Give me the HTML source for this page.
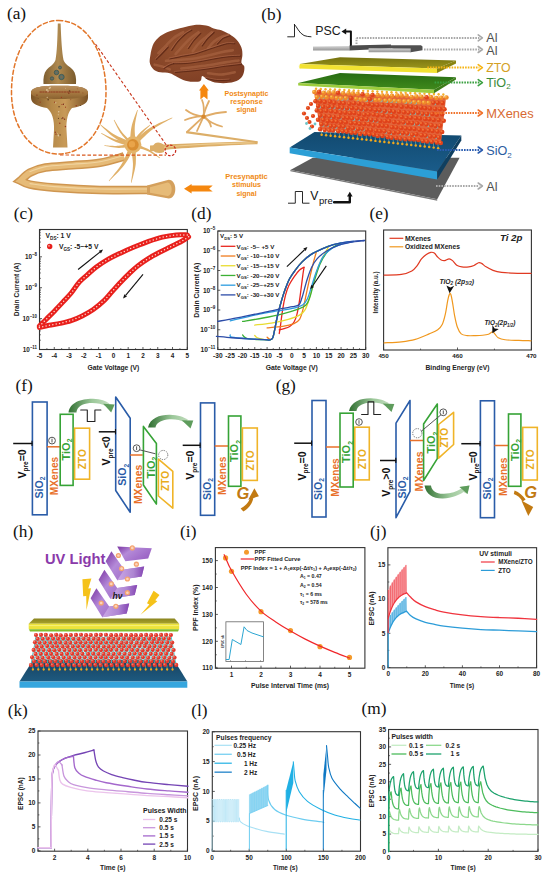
<!DOCTYPE html>
<html><head><meta charset="utf-8"><style>
html,body{margin:0;padding:0;background:#fff;}
svg{display:block;}
</style></head><body>
<svg width="550" height="880" viewBox="0 0 550 880">
<rect width="550" height="880" fill="#fff"/>
<defs><linearGradient id="synG" x1="0" x2="1" y1="0" y2="0">
<stop offset="0" stop-color="#7a5226"/><stop offset="0.35" stop-color="#b48848"/><stop offset="0.6" stop-color="#c89a58"/><stop offset="1" stop-color="#7a5226"/></linearGradient>
<linearGradient id="capG" x1="0" x2="0" y1="0" y2="1">
<stop offset="0" stop-color="#b89060"/><stop offset="0.5" stop-color="#a87a42"/><stop offset="1" stop-color="#8a6230"/></linearGradient>
<linearGradient id="knobG" x1="0" x2="1" y1="0" y2="0">
<stop offset="0" stop-color="#7e5e30"/><stop offset="0.45" stop-color="#b08a50"/><stop offset="1" stop-color="#7a5a2c"/></linearGradient>
<radialGradient id="brainG" cx="0.4" cy="0.4" r="0.65">
<stop offset="0" stop-color="#96522f"/><stop offset="1" stop-color="#7e3e24"/></radialGradient>
<linearGradient id="axG" x1="0" x2="0" y1="0" y2="1">
<stop offset="0" stop-color="#d9a560"/><stop offset="0.5" stop-color="#ecc88a"/><stop offset="1" stop-color="#cf9a55"/></linearGradient>
<linearGradient id="elG" x1="0" x2="0" y1="0" y2="1"><stop offset="0" stop-color="#d4d4d4"/><stop offset="1" stop-color="#959595"/></linearGradient>
<linearGradient id="sioTop" x1="0" x2="0" y1="0" y2="1"><stop offset="0" stop-color="#124a70"/><stop offset="1" stop-color="#1a5c8a"/></linearGradient>
<linearGradient id="tioTop" x1="0" x2="0" y1="0" y2="1"><stop offset="0" stop-color="#276c12"/><stop offset="1" stop-color="#3f8a1c"/></linearGradient>
<linearGradient id="ztoTop" x1="0" x2="0" y1="0" y2="1"><stop offset="0" stop-color="#75720f"/><stop offset="1" stop-color="#9a951c"/></linearGradient>
<linearGradient id="ga1" gradientUnits="userSpaceOnUse" x1="68" y1="0" x2="112" y2="0"><stop offset="0" stop-color="#2f6e30"/><stop offset="0.55" stop-color="#9cc89a"/><stop offset="1" stop-color="#c8e0c4"/></linearGradient>
<linearGradient id="ga2" gradientUnits="userSpaceOnUse" x1="148" y1="0" x2="192" y2="0"><stop offset="0" stop-color="#2f6e30"/><stop offset="0.55" stop-color="#9cc89a"/><stop offset="1" stop-color="#c8e0c4"/></linearGradient>
<linearGradient id="ga3" gradientUnits="userSpaceOnUse" x1="349" y1="0" x2="393" y2="0"><stop offset="0" stop-color="#2f6e30"/><stop offset="0.55" stop-color="#9cc89a"/><stop offset="1" stop-color="#c8e0c4"/></linearGradient>
<linearGradient id="ga4" gradientUnits="userSpaceOnUse" x1="424" y1="0" x2="470" y2="0"><stop offset="0" stop-color="#2f6e30"/><stop offset="0.55" stop-color="#9cc89a"/><stop offset="1" stop-color="#c8e0c4"/></linearGradient>
<linearGradient id="chevG" x1="0" x2="1" y1="0" y2="0.6"><stop offset="0" stop-color="#7a34a2"/><stop offset="0.4" stop-color="#b48ad8"/><stop offset="1" stop-color="#9a62c4"/></linearGradient>
<linearGradient id="chevG2" x1="0" x2="1" y1="0" y2="0"><stop offset="0" stop-color="#d0b0ea"/><stop offset="0.6" stop-color="#b08ad4"/><stop offset="1" stop-color="#8040b0"/></linearGradient>
<linearGradient id="hzto" x1="0" x2="0" y1="0" y2="1"><stop offset="0" stop-color="#8a8420"/><stop offset="1" stop-color="#aaa42a"/></linearGradient>
<linearGradient id="hsio" x1="0" x2="0" y1="0" y2="1"><stop offset="0" stop-color="#17425f"/><stop offset="1" stop-color="#1e5a80"/></linearGradient></defs>
<path d="M124.00,156.50 C120.00,157.55 108.55,161.33 100.00,162.80 C91.45,164.27 81.78,164.50 72.70,165.30 C63.62,166.10 52.62,166.38 45.50,167.60 C38.38,168.82 34.17,170.43 30.00,172.60 C25.83,174.77 22.08,179.27 20.50,180.60 L20.50,180.60 C22.08,181.27 24.33,183.43 30.00,184.60 C35.67,185.77 42.83,186.70 54.50,187.60 C66.17,188.50 84.08,189.60 100.00,190.00 C115.92,190.40 141.67,190.00 150.00,190.00" fill="none" stroke="#cf9650" stroke-width="8.6" stroke-linejoin="miter" stroke-miterlimit="2.2"/>
<path d="M124.00,156.50 C120.00,157.55 108.55,161.33 100.00,162.80 C91.45,164.27 81.78,164.50 72.70,165.30 C63.62,166.10 52.62,166.38 45.50,167.60 C38.38,168.82 34.17,170.43 30.00,172.60 C25.83,174.77 22.08,179.27 20.50,180.60 L20.50,180.60 C22.08,181.27 24.33,183.43 30.00,184.60 C35.67,185.77 42.83,186.70 54.50,187.60 C66.17,188.50 84.08,189.60 100.00,190.00 C115.92,190.40 141.67,190.00 150.00,190.00" fill="none" stroke="#e6bb78" stroke-width="5.6" stroke-linejoin="miter" stroke-miterlimit="2.2"/>
<path d="M124.00,155.50 C120.00,156.55 108.55,160.33 100.00,161.80 C91.45,163.27 81.78,163.50 72.70,164.30 C63.62,165.10 52.62,165.38 45.50,166.60 C38.38,167.82 32.58,170.77 30.00,171.60" fill="none" stroke="#f1d4a0" stroke-width="1.1" stroke-linejoin="round" stroke-linecap="round" />
<path d="M30.00,183.60 C34.08,184.10 42.83,185.70 54.50,186.60 C66.17,187.50 84.08,188.60 100.00,189.00 C115.92,189.40 141.67,189.00 150.00,189.00" fill="none" stroke="#f1d4a0" stroke-width="1.1" stroke-linejoin="round" stroke-linecap="round" />
<path d="M147,185.6 L168.7,179.8 C177.5,180 177.5,198.4 168.7,198.6 L147,194.4 Z" fill="#d4a05c" stroke="none" stroke-width="1" stroke-linejoin="round" stroke-linecap="round" />
<path d="M150,187.3 L167.5,182.6 C173,183.5 173,195.6 167.5,196 L150,192.7 Z" fill="#e6bb78" stroke="none" stroke-width="1" stroke-linejoin="round" stroke-linecap="round" />
<path d="M150,151.5 C175,148.5 210,146 257.5,144.2 L257.5,141.2 C210,142.4 175,143.8 150,145.5 Z" fill="#dcae68" stroke="none" stroke-width="1" stroke-linejoin="round" stroke-linecap="round" />
<path d="M156.00,148.00 C160.83,147.58 174.33,146.23 185.00,145.50 C195.67,144.77 208.33,144.08 220.00,143.60 C231.67,143.12 249.17,142.77 255.00,142.60" fill="none" stroke="#eccb8e" stroke-width="1.2" stroke-linejoin="round" stroke-linecap="round" />
<path d="M186.5,131 L257.5,141.3 L257.5,143.2 L186,133.2 Z" fill="#dcae68" stroke="none" stroke-width="1" stroke-linejoin="round" stroke-linecap="round" />
<path d="M153,146 C155,141 161,142 164,145 L164,152 C160,154 154,153 153,150 Z" fill="#dcae68" stroke="none" stroke-width="1" stroke-linejoin="round" stroke-linecap="round" />
<path d="M203.5,116.6 Q197.25,115.3 185,120" fill="none" stroke="#e0ac68" stroke-width="1.8" stroke-linejoin="round" stroke-linecap="round" />
<path d="M203.5,116.6 Q192.75,115.3 186,110" fill="none" stroke="#e0ac68" stroke-width="1.8" stroke-linejoin="round" stroke-linecap="round" />
<path d="M203.5,116.6 Q204.75,106.3 202,100" fill="none" stroke="#e0ac68" stroke-width="1.8" stroke-linejoin="round" stroke-linecap="round" />
<path d="M203.5,116.6 Q204.25,110.8 209,101" fill="none" stroke="#e0ac68" stroke-width="1.8" stroke-linejoin="round" stroke-linecap="round" />
<path d="M203.5,116.6 Q216.75,112.3 226,112" fill="none" stroke="#e0ac68" stroke-width="1.8" stroke-linejoin="round" stroke-linecap="round" />
<path d="M203.5,116.6 Q210.75,123.55 222,126.5" fill="none" stroke="#e0ac68" stroke-width="1.8" stroke-linejoin="round" stroke-linecap="round" />
<path d="M203.5,116.6 Q209.25,119.55 211,126.5" fill="none" stroke="#e0ac68" stroke-width="1.8" stroke-linejoin="round" stroke-linecap="round" />
<path d="M203.5,116.6 Q200.25,123.8 197,131" fill="none" stroke="#e0ac68" stroke-width="1.8" stroke-linejoin="round" stroke-linecap="round" />
<path d="M203.5,116.6 Q195.25,124.3 187,132" fill="none" stroke="#e0ac68" stroke-width="1.8" stroke-linejoin="round" stroke-linecap="round" />
<circle cx="203.50" cy="116.60" r="2.20" fill="#d88a30" stroke="none" stroke-width="1" />
<path d="M135.90,144.84 C135.71,141.92 134.43,133.13 134.75,127.34 C135.06,121.55 137.28,112.95 137.79,110.07 L137.21,109.93 C136.25,112.76 132.69,121.10 131.48,126.91 C130.26,132.71 130.16,141.79 129.90,144.76 Z" fill="#e0b068" stroke="none" stroke-width="1" stroke-linejoin="round" stroke-linecap="round" />
<path d="M133.97,142.54 C130.93,141.31 121.44,138.31 115.74,135.16 C110.04,132.02 102.45,125.58 99.79,123.67 L99.41,124.13 C101.88,126.37 108.85,133.71 114.25,137.53 C119.66,141.36 128.90,145.47 131.83,147.06 Z" fill="#e0b068" stroke="none" stroke-width="1" stroke-linejoin="round" stroke-linecap="round" />
<path d="M133.36,142.85 C130.59,142.35 122.09,141.48 116.75,139.82 C111.41,138.17 103.90,134.08 101.34,132.93 L101.06,133.47 C103.55,134.89 110.73,139.77 115.96,141.98 C121.19,144.20 129.69,145.95 132.44,146.75 Z" fill="#e0b068" stroke="none" stroke-width="1" stroke-linejoin="round" stroke-linecap="round" />
<path d="M132.65,143.07 C130.31,143.53 123.34,145.49 118.62,145.84 C113.90,146.20 106.71,145.31 104.33,145.20 L104.27,145.80 C106.67,146.15 113.85,147.77 118.67,147.89 C123.48,148.01 130.74,146.76 133.15,146.53 Z" fill="#e0b068" stroke="none" stroke-width="1" stroke-linejoin="round" stroke-linecap="round" />
<path d="M130.66,143.68 C129.21,146.99 125.60,157.38 121.95,163.56 C118.30,169.75 110.97,177.93 108.77,180.81 L109.23,181.19 C111.74,178.51 119.97,170.98 124.29,165.11 C128.61,159.23 133.33,149.12 135.14,145.92 Z" fill="#e0b068" stroke="none" stroke-width="1" stroke-linejoin="round" stroke-linecap="round" />
<path d="M130.41,144.99 C130.83,148.12 132.87,157.48 132.97,163.74 C133.07,170.00 131.33,179.42 131.00,182.55 L131.60,182.65 C132.29,179.52 135.13,170.20 135.77,163.86 C136.40,157.52 135.45,147.82 135.39,144.61 Z" fill="#e0b068" stroke="none" stroke-width="1" stroke-linejoin="round" stroke-linecap="round" />
<path d="M134.55,146.68 C137.42,143.90 145.45,134.82 151.77,130.04 C158.08,125.25 168.99,119.98 172.44,117.97 L172.16,117.43 C168.50,119.15 157.00,123.48 150.18,127.73 C143.36,131.98 134.40,140.39 131.25,142.92 Z" fill="#e0b068" stroke="none" stroke-width="1" stroke-linejoin="round" stroke-linecap="round" />
<path d="M132.33,146.45 C134.74,147.16 142.21,148.73 146.79,150.70 C151.38,152.66 157.66,156.99 159.84,158.25 L160.16,157.75 C158.08,156.27 152.14,151.29 147.69,148.85 C143.24,146.42 135.84,144.10 133.47,143.15 Z" fill="#e0b068" stroke="none" stroke-width="1" stroke-linejoin="round" stroke-linecap="round" />
<path d="M133.98,143.76 C132.09,141.96 125.96,136.97 122.68,132.99 C119.39,129.00 115.66,122.04 114.26,119.85 L113.74,120.15 C114.99,122.47 118.23,129.80 121.25,134.08 C124.26,138.36 130.06,143.88 131.82,145.84 Z" fill="#e0b068" stroke="none" stroke-width="1" stroke-linejoin="round" stroke-linecap="round" />
<path d="M134.35,145.78 C135.47,143.91 138.40,137.97 141.04,134.54 C143.68,131.12 148.67,126.78 150.20,125.22 L149.80,124.78 C148.08,126.18 142.54,130.03 139.49,133.20 C136.43,136.38 132.79,142.05 131.45,143.82 Z" fill="#e0b068" stroke="none" stroke-width="1" stroke-linejoin="round" stroke-linecap="round" />
<circle cx="132.90" cy="144.80" r="8.50" fill="#e4b46a" stroke="none" stroke-width="1" />
<circle cx="132.90" cy="144.80" r="5.80" fill="#d98e32" stroke="none" stroke-width="1" />
<circle cx="131.90" cy="144.30" r="3.20" fill="#e9a44a" stroke="none" stroke-width="1" />
<path d="M57.8,23.5 L60.6,23.5 C61.2,40 62,52 63.5,60 C65,64.5 70,66.5 73,70 C75.5,73 76.5,78 76,84 L43.5,84 C43,78 44,73 46.5,70 C49.5,66.5 54,64.5 55.5,60 C57,52 57.4,40 57.8,23.5 Z" fill="url(#knobG)" stroke="none" stroke-width="1" stroke-linejoin="round" stroke-linecap="round" />
<circle cx="56.50" cy="72.50" r="2.30" fill="#56706a" stroke="#3a524e" stroke-width="0.7" />
<circle cx="56.50" cy="72.50" r="1.03" fill="#7a6a50" stroke="none" stroke-width="1" />
<circle cx="61.50" cy="77.00" r="2.70" fill="#56706a" stroke="#3a524e" stroke-width="0.7" />
<circle cx="61.50" cy="77.00" r="1.22" fill="#7a6a50" stroke="none" stroke-width="1" />
<circle cx="52.00" cy="78.50" r="1.70" fill="#56706a" stroke="#3a524e" stroke-width="0.7" />
<circle cx="52.00" cy="78.50" r="0.77" fill="#7a6a50" stroke="none" stroke-width="1" />
<circle cx="60.00" cy="67.50" r="1.50" fill="#56706a" stroke="#3a524e" stroke-width="0.7" />
<circle cx="60.00" cy="67.50" r="0.68" fill="#7a6a50" stroke="none" stroke-width="1" />
<path d="M31,93 C31,86.5 44,85.8 59.5,85.8 C75,85.8 88,86.5 88,93 L88,98 C88,104 80,106.5 72,108 C68,112 66,120 66.5,130 L67.5,147.5 L53,147.5 L54,130 C54.5,120 52,112 47,108 C39,106.5 31,104 31,98 Z" fill="url(#synG)" stroke="none" stroke-width="1" stroke-linejoin="round" stroke-linecap="round" />
<path d="M31,93 C31,86.5 44,85.8 59.5,85.8 C75,85.8 88,86.5 88,93 C88,97 76,99 59.5,99 C43,99 31,97 31,93 Z" fill="url(#capG)" stroke="none" stroke-width="1" stroke-linejoin="round" stroke-linecap="round" />
<circle cx="47.18" cy="97.34" r="0.58" fill="#e0c8a0" stroke="none" stroke-width="1" />
<circle cx="65.41" cy="88.25" r="0.41" fill="#e0c8a0" stroke="none" stroke-width="1" />
<circle cx="48.19" cy="91.45" r="0.90" fill="#e0c8a0" stroke="none" stroke-width="1" />
<circle cx="61.43" cy="97.44" r="0.60" fill="#9a3a20" stroke="none" stroke-width="1" />
<circle cx="46.90" cy="89.88" r="0.86" fill="#e0c8a0" stroke="none" stroke-width="1" />
<circle cx="70.84" cy="99.76" r="0.43" fill="#7a2a18" stroke="none" stroke-width="1" />
<circle cx="50.16" cy="87.59" r="0.83" fill="#e0c8a0" stroke="none" stroke-width="1" />
<circle cx="63.95" cy="104.48" r="0.59" fill="#e0c8a0" stroke="none" stroke-width="1" />
<circle cx="54.56" cy="102.22" r="0.62" fill="#9a3a20" stroke="none" stroke-width="1" />
<circle cx="77.31" cy="88.85" r="0.47" fill="#9a3a20" stroke="none" stroke-width="1" />
<circle cx="48.13" cy="99.77" r="0.79" fill="#5a3a20" stroke="none" stroke-width="1" />
<circle cx="55.79" cy="102.84" r="0.69" fill="#e0c8a0" stroke="none" stroke-width="1" />
<circle cx="63.46" cy="104.18" r="0.74" fill="#7a2a18" stroke="none" stroke-width="1" />
<circle cx="76.25" cy="105.83" r="0.74" fill="#9a3a20" stroke="none" stroke-width="1" />
<circle cx="68.83" cy="93.20" r="0.67" fill="#7a2a18" stroke="none" stroke-width="1" />
<circle cx="69.55" cy="91.01" r="0.82" fill="#5a3a20" stroke="none" stroke-width="1" />
<circle cx="49.39" cy="88.21" r="0.83" fill="#e0c8a0" stroke="none" stroke-width="1" />
<circle cx="40.16" cy="102.21" r="0.61" fill="#9a3a20" stroke="none" stroke-width="1" />
<circle cx="36.95" cy="95.12" r="0.61" fill="#7a2a18" stroke="none" stroke-width="1" />
<circle cx="38.08" cy="98.68" r="0.42" fill="#5a3a20" stroke="none" stroke-width="1" />
<circle cx="61.89" cy="104.52" r="0.54" fill="#9a3a20" stroke="none" stroke-width="1" />
<circle cx="82.93" cy="92.88" r="0.44" fill="#7a2a18" stroke="none" stroke-width="1" />
<circle cx="80.60" cy="105.46" r="0.55" fill="#5a3a20" stroke="none" stroke-width="1" />
<circle cx="58.45" cy="135.50" r="0.88" fill="#e0c8a0" stroke="none" stroke-width="1" />
<circle cx="64.54" cy="119.13" r="0.74" fill="#7a2a18" stroke="none" stroke-width="1" />
<circle cx="59.74" cy="123.24" r="0.76" fill="#9a3a20" stroke="none" stroke-width="1" />
<circle cx="58.33" cy="114.78" r="0.57" fill="#e0c8a0" stroke="none" stroke-width="1" />
<circle cx="61.48" cy="118.80" r="0.47" fill="#5a3a20" stroke="none" stroke-width="1" />
<circle cx="62.78" cy="117.99" r="0.77" fill="#7a2a18" stroke="none" stroke-width="1" />
<circle cx="59.06" cy="106.72" r="0.71" fill="#5a3a20" stroke="none" stroke-width="1" />
<circle cx="58.44" cy="118.37" r="0.58" fill="#5a3a20" stroke="none" stroke-width="1" />
<circle cx="55.30" cy="132.26" r="0.68" fill="#9a3a20" stroke="none" stroke-width="1" />
<circle cx="57.63" cy="133.33" r="0.49" fill="#e0c8a0" stroke="none" stroke-width="1" />
<circle cx="65.44" cy="126.42" r="0.74" fill="#9a3a20" stroke="none" stroke-width="1" />
<circle cx="58.70" cy="111.76" r="0.73" fill="#e0c8a0" stroke="none" stroke-width="1" />
<circle cx="65.53" cy="107.15" r="0.56" fill="#9a3a20" stroke="none" stroke-width="1" />
<circle cx="55.94" cy="134.15" r="0.71" fill="#9a3a20" stroke="none" stroke-width="1" />
<circle cx="60.11" cy="134.90" r="0.72" fill="#5a3a20" stroke="none" stroke-width="1" />
<path d="M40,92 L80,92" fill="none" stroke="#8a2a18" stroke-width="0.8" stroke-linejoin="round" stroke-linecap="round" stroke-dasharray="1.5 1.2"/>
<path d="M58.5,20.5 C86,20.5 106,52 106,92 C106,130 84,154 58.5,154 C33,154 11.5,130 11.5,92 C11.5,52 31,20.5 58.5,20.5 Z" fill="none" stroke="#e2762a" stroke-width="1.5" stroke-linejoin="round" stroke-linecap="round" stroke-dasharray="4.2 2.6"/>
<line x1="95.50" y1="44.00" x2="167.00" y2="146.00" stroke="#c8361c" stroke-width="1.1" stroke-dasharray="3 2"/>
<line x1="60.00" y1="155.00" x2="166.00" y2="155.20" stroke="#d8581e" stroke-width="1.2" stroke-dasharray="3.5 2"/>
<circle cx="170.40" cy="150.40" r="5.30" fill="none" stroke="#c8281c" stroke-width="1.2" stroke-dasharray="2.5 1.5"/>
<path d="M150.70,53.20 C151.18,51.60 152.00,46.47 153.60,43.60 C155.20,40.73 157.60,38.07 160.30,36.00 C163.00,33.93 165.98,32.63 169.80,31.20 C173.62,29.77 179.07,28.45 183.20,27.40 C187.33,26.35 190.78,25.22 194.60,24.90 C198.42,24.58 202.92,24.92 206.10,25.50 C209.28,26.08 211.15,27.60 213.70,28.40 C216.25,29.20 218.85,29.35 221.40,30.30 C223.95,31.25 226.47,32.52 229.00,34.10 C231.53,35.68 234.53,37.57 236.60,39.80 C238.67,42.03 240.43,44.95 241.40,47.50 C242.37,50.05 242.40,52.57 242.40,55.10 C242.40,57.63 241.08,60.80 241.40,62.70 C241.72,64.60 243.98,64.58 244.30,66.50 C244.62,68.42 244.27,71.97 243.30,74.20 C242.33,76.43 240.88,78.47 238.50,79.90 C236.12,81.33 232.50,82.32 229.00,82.80 C225.50,83.28 221.00,83.28 217.50,82.80 C214.00,82.32 210.53,81.02 208.00,79.90 C205.47,78.78 203.57,75.93 202.30,76.10 C201.03,76.27 202.00,79.95 200.40,80.90 C198.80,81.85 195.57,81.97 192.70,81.80 C189.83,81.63 186.07,80.85 183.20,79.90 C180.33,78.95 177.73,77.22 175.50,76.10 C173.27,74.98 172.33,73.83 169.80,73.20 C167.27,72.57 163.00,72.93 160.30,72.30 C157.60,71.67 155.35,71.00 153.60,69.40 C151.85,67.80 150.28,65.40 149.80,62.70 C149.32,60.00 150.55,54.78 150.70,53.20 Z" fill="url(#brainG)" stroke="none" stroke-width="1" stroke-linejoin="round" stroke-linecap="round" />
<path d="M158.36,53.18 C159.64,51.91 163.45,48.09 166.00,45.55 C168.55,43.00 170.77,40.14 173.64,37.91 C176.50,35.68 181.59,33.14 183.18,32.18" fill="none" stroke="#a4603f" stroke-width="2.6" stroke-linejoin="round" stroke-linecap="round" opacity="0.75"/>
<path d="M175.55,54.14 C176.82,52.71 180.64,48.25 183.18,45.55 C185.73,42.84 188.27,40.14 190.82,37.91 C193.36,35.68 197.18,33.14 198.46,32.18" fill="none" stroke="#a4603f" stroke-width="2.6" stroke-linejoin="round" stroke-linecap="round" opacity="0.75"/>
<path d="M192.73,51.27 C193.68,50.00 196.23,46.02 198.46,43.64 C200.68,41.25 203.86,38.86 206.09,36.95 C208.32,35.05 210.86,32.98 211.82,32.18" fill="none" stroke="#a4603f" stroke-width="2.6" stroke-linejoin="round" stroke-linecap="round" opacity="0.75"/>
<path d="M208.00,48.41 C208.96,47.30 211.50,43.64 213.73,41.73 C215.96,39.82 218.82,38.07 221.37,36.95 C223.91,35.84 227.73,35.36 229.00,35.05" fill="none" stroke="#a4603f" stroke-width="2.6" stroke-linejoin="round" stroke-linecap="round" opacity="0.75"/>
<path d="M166.00,60.82 C168.23,60.66 174.59,60.25 179.36,59.86 C184.14,59.48 189.86,59.26 194.64,58.53 C199.41,57.80 203.55,56.52 208.00,55.47 C212.46,54.42 217.23,53.09 221.37,52.23 C225.50,51.37 230.91,50.64 232.82,50.32" fill="none" stroke="#a4603f" stroke-width="2.6" stroke-linejoin="round" stroke-linecap="round" opacity="0.75"/>
<path d="M181.27,68.46 C183.50,68.20 189.86,67.50 194.64,66.93 C199.41,66.36 204.82,65.78 209.91,65.02 C215.00,64.26 220.41,63.11 225.18,62.35 C229.96,61.58 236.32,60.76 238.55,60.44" fill="none" stroke="#a4603f" stroke-width="2.6" stroke-linejoin="round" stroke-linecap="round" opacity="0.75"/>
<path d="M208.00,73.23 C210.23,73.45 216.91,74.72 221.37,74.56 C225.82,74.41 232.50,72.66 234.73,72.27" fill="none" stroke="#a4603f" stroke-width="2.6" stroke-linejoin="round" stroke-linecap="round" opacity="0.75"/>
<path d="M154.55,64.64 C155.82,64.96 159.64,65.75 162.18,66.55 C164.73,67.34 168.55,68.93 169.82,69.41" fill="none" stroke="#a4603f" stroke-width="2.6" stroke-linejoin="round" stroke-linecap="round" opacity="0.75"/>
<path d="M169.82,58.91 C172.05,58.43 179.05,56.84 183.18,56.05 C187.32,55.25 190.82,55.09 194.64,54.14 C198.46,53.18 202.27,51.59 206.09,50.32 C209.91,49.05 214.05,47.61 217.55,46.50 C221.05,45.39 224.23,44.11 227.09,43.64 C229.96,43.16 233.46,43.64 234.73,43.64" fill="none" stroke="#5a2614" stroke-width="1.3" stroke-linejoin="round" stroke-linecap="round" opacity="0.8"/>
<path d="M169.02,58.11 C171.25,57.63 178.25,56.04 182.38,55.25 C186.52,54.45 190.02,54.29 193.84,53.34 C197.66,52.38 201.47,50.79 205.29,49.52 C209.11,48.25 213.25,46.81 216.75,45.70 C220.25,44.59 223.43,43.31 226.29,42.84 C229.16,42.36 232.66,42.84 233.93,42.84" fill="none" stroke="#b87050" stroke-width="0.7" stroke-linejoin="round" stroke-linecap="round" opacity="0.8"/>
<path d="M173.64,63.68 C176.18,63.59 184.14,63.52 188.91,63.11 C193.68,62.70 197.82,61.96 202.27,61.20 C206.73,60.44 211.18,59.29 215.64,58.53 C220.09,57.76 224.87,57.03 229.00,56.62 C233.14,56.21 238.55,56.14 240.46,56.05" fill="none" stroke="#5a2614" stroke-width="1.3" stroke-linejoin="round" stroke-linecap="round" opacity="0.8"/>
<path d="M172.84,62.88 C175.38,62.79 183.34,62.72 188.11,62.31 C192.88,61.90 197.02,61.16 201.47,60.40 C205.93,59.64 210.38,58.49 214.84,57.73 C219.29,56.96 224.07,56.23 228.20,55.82 C232.34,55.41 237.75,55.34 239.66,55.25" fill="none" stroke="#b87050" stroke-width="0.7" stroke-linejoin="round" stroke-linecap="round" opacity="0.8"/>
<path d="M175.55,72.27 C178.41,72.02 187.32,71.32 192.73,70.75 C198.14,70.17 202.59,69.60 208.00,68.84 C213.41,68.07 219.61,66.93 225.18,66.16 C230.75,65.40 238.71,64.57 241.41,64.26" fill="none" stroke="#5a2614" stroke-width="1.3" stroke-linejoin="round" stroke-linecap="round" opacity="0.8"/>
<path d="M174.75,71.47 C177.61,71.22 186.52,70.52 191.93,69.95 C197.34,69.37 201.79,68.80 207.20,68.04 C212.61,67.27 218.81,66.13 224.38,65.36 C229.95,64.60 237.91,63.77 240.61,63.46" fill="none" stroke="#b87050" stroke-width="0.7" stroke-linejoin="round" stroke-linecap="round" opacity="0.8"/>
<path d="M171.73,50.32 C172.68,48.95 175.23,44.75 177.46,42.11 C179.68,39.47 182.71,36.45 185.09,34.47 C187.48,32.50 190.66,30.97 191.77,30.27" fill="none" stroke="#5a2614" stroke-width="1.3" stroke-linejoin="round" stroke-linecap="round" opacity="0.8"/>
<path d="M170.93,49.52 C171.88,48.15 174.43,43.95 176.66,41.31 C178.88,38.67 181.91,35.65 184.29,33.67 C186.68,31.70 189.86,30.17 190.97,29.47" fill="none" stroke="#b87050" stroke-width="0.7" stroke-linejoin="round" stroke-linecap="round" opacity="0.8"/>
<path d="M188.53,48.41 C189.48,47.04 192.22,42.71 194.26,40.20 C196.29,37.69 199.66,34.47 200.75,33.33" fill="none" stroke="#5a2614" stroke-width="1.3" stroke-linejoin="round" stroke-linecap="round" opacity="0.8"/>
<path d="M187.73,47.61 C188.68,46.24 191.42,41.91 193.46,39.40 C195.49,36.89 198.86,33.67 199.95,32.53" fill="none" stroke="#b87050" stroke-width="0.7" stroke-linejoin="round" stroke-linecap="round" opacity="0.8"/>
<path d="M202.27,45.93 C203.23,44.66 206.03,40.52 208.00,38.29 C209.97,36.06 213.09,33.52 214.11,32.56" fill="none" stroke="#5a2614" stroke-width="1.3" stroke-linejoin="round" stroke-linecap="round" opacity="0.8"/>
<path d="M201.47,45.13 C202.43,43.86 205.23,39.72 207.20,37.49 C209.17,35.26 212.29,32.72 213.31,31.76" fill="none" stroke="#b87050" stroke-width="0.7" stroke-linejoin="round" stroke-linecap="round" opacity="0.8"/>
<path d="M217.55,44.02 C218.50,43.06 221.21,39.69 223.27,38.29 C225.34,36.89 228.84,36.06 229.96,35.62" fill="none" stroke="#5a2614" stroke-width="1.3" stroke-linejoin="round" stroke-linecap="round" opacity="0.8"/>
<path d="M216.75,43.22 C217.70,42.26 220.41,38.89 222.47,37.49 C224.54,36.09 228.04,35.26 229.16,34.82" fill="none" stroke="#b87050" stroke-width="0.7" stroke-linejoin="round" stroke-linecap="round" opacity="0.8"/>
<path d="M206.09,78.00 C208.00,78.38 213.57,79.97 217.55,80.29 C221.52,80.61 227.89,79.97 229.96,79.91" fill="none" stroke="#5a2614" stroke-width="1.3" stroke-linejoin="round" stroke-linecap="round" opacity="0.8"/>
<path d="M205.29,77.20 C207.20,77.58 212.77,79.17 216.75,79.49 C220.72,79.81 227.09,79.17 229.16,79.11" fill="none" stroke="#b87050" stroke-width="0.7" stroke-linejoin="round" stroke-linecap="round" opacity="0.8"/>
<path d="M156.45,59.29 C157.47,58.27 160.59,55.22 162.56,53.18 C164.54,51.15 167.34,48.09 168.29,47.07" fill="none" stroke="#5a2614" stroke-width="1.3" stroke-linejoin="round" stroke-linecap="round" opacity="0.8"/>
<path d="M155.65,58.49 C156.67,57.47 159.79,54.42 161.76,52.38 C163.74,50.35 166.54,47.29 167.49,46.27" fill="none" stroke="#b87050" stroke-width="0.7" stroke-linejoin="round" stroke-linecap="round" opacity="0.8"/>
<path d="M164.09,68.46 C165.05,67.88 168.23,65.81 169.82,65.02 C171.41,64.22 173.00,63.91 173.64,63.68" fill="none" stroke="#5a2614" stroke-width="1.3" stroke-linejoin="round" stroke-linecap="round" opacity="0.8"/>
<path d="M163.29,67.66 C164.25,67.08 167.43,65.01 169.02,64.22 C170.61,63.42 172.20,63.11 172.84,62.88" fill="none" stroke="#b87050" stroke-width="0.7" stroke-linejoin="round" stroke-linecap="round" opacity="0.8"/>
<polygon points="203.90,84.10 208.80,90.60 207.50,90.60 207.50,99.60 203.90,96.40 200.40,99.60 200.40,90.60 199.00,90.60" fill="#f5870f" stroke="none" stroke-width="1" stroke-linejoin="round" />
<polygon points="184.00,188.70 191.60,184.00 191.60,185.50 212.70,185.50 209.10,188.70 212.70,191.60 191.60,191.60 191.60,193.50" fill="#f5870f" stroke="none" stroke-width="1" stroke-linejoin="round" />
<text x="246.50" y="95.60" font-family="Liberation Sans" font-size="7" font-weight="bold" fill="#f08a14" text-anchor="middle" style="" textLength="44" lengthAdjust="spacingAndGlyphs">Postsynaptic</text>
<text x="246.50" y="103.80" font-family="Liberation Sans" font-size="7" font-weight="bold" fill="#f08a14" text-anchor="middle" style="" textLength="32.5" lengthAdjust="spacingAndGlyphs">response</text>
<text x="246.50" y="112.00" font-family="Liberation Sans" font-size="7" font-weight="bold" fill="#f08a14" text-anchor="middle" style="" textLength="20.2" lengthAdjust="spacingAndGlyphs">signal</text>
<text x="246.50" y="179.00" font-family="Liberation Sans" font-size="7" font-weight="bold" fill="#f08a14" text-anchor="middle" style="" textLength="42.5" lengthAdjust="spacingAndGlyphs">Presynaptic</text>
<text x="246.50" y="187.20" font-family="Liberation Sans" font-size="7" font-weight="bold" fill="#f08a14" text-anchor="middle" style="" textLength="29" lengthAdjust="spacingAndGlyphs">stimulus</text>
<text x="246.50" y="195.50" font-family="Liberation Sans" font-size="7" font-weight="bold" fill="#f08a14" text-anchor="middle" style="" textLength="20.2" lengthAdjust="spacingAndGlyphs">signal</text>
<polyline points="287.70,36.80 294.50,36.80 294.50,24.50" fill="none" stroke="#111" stroke-width="0.9" stroke-linejoin="round" stroke-linecap="round" />
<path d="M294.5,24.5 C297,27 299,33 304,35.5 C306,36.3 309,36.8 311,36.8" fill="none" stroke="#111" stroke-width="0.9" stroke-linejoin="round" stroke-linecap="round" />
<text x="315.30" y="35.20" font-family="Liberation Sans" font-size="12.4" font-weight="normal" fill="#1a1a1a" text-anchor="start" style="" textLength="25.4" lengthAdjust="spacingAndGlyphs">PSC</text>
<polygon points="349.30,45.40 391.00,44.60 391.00,48.40 349.30,50.60" fill="#4c4c4c" stroke="none" stroke-width="1" stroke-linejoin="round" />
<polygon points="313.00,46.60 349.30,46.00 349.30,50.60 313.00,50.60" fill="url(#elG)" stroke="none" stroke-width="1" stroke-linejoin="round" />
<polygon points="386.00,45.20 421.00,45.20 422.50,46.50 422.50,50.20 410.70,52.20 390.00,48.20" fill="#505050" stroke="none" stroke-width="1" stroke-linejoin="round" />
<polygon points="368.60,48.20 410.70,48.60 410.70,52.20 368.60,52.20" fill="url(#elG)" stroke="none" stroke-width="1" stroke-linejoin="round" />
<polyline points="350.90,45.00 350.90,31.40 345.50,31.40" fill="none" stroke="#111" stroke-width="2.0" stroke-linejoin="round" stroke-linecap="round" />
<polygon points="341.50,31.40 346.20,28.40 346.20,34.40" fill="#111" stroke="none" stroke-width="1" stroke-linejoin="round" />
<line x1="356.50" y1="44.00" x2="356.50" y2="37.90" stroke="#a8a8a8" stroke-width="2.0" stroke-dasharray="1.6 1.1"/>
<line x1="356.50" y1="37.90" x2="479.40" y2="37.90" stroke="#a8a8a8" stroke-width="2.0" stroke-dasharray="1.6 1.1"/>
<polyline points="478.20,34.90 482.40,37.90 478.20,40.90" fill="none" stroke="#a8a8a8" stroke-width="1.6" stroke-linejoin="round" stroke-linecap="round" />
<line x1="424.00" y1="49.50" x2="479.40" y2="49.50" stroke="#a8a8a8" stroke-width="2.0" stroke-dasharray="1.6 1.1"/>
<polyline points="478.20,46.50 482.40,49.50 478.20,52.50" fill="none" stroke="#a8a8a8" stroke-width="1.6" stroke-linejoin="round" stroke-linecap="round" />
<polygon points="312.80,157.80 459.60,157.80 437.20,199.30 290.40,169.90" fill="#5c5c5c" stroke="none" stroke-width="1" stroke-linejoin="round" />
<polygon points="290.40,169.90 437.20,199.30 437.20,200.80 290.40,171.20" fill="#7a7a7a" stroke="none" stroke-width="1" stroke-linejoin="round" />
<polygon points="314.50,131.90 461.30,135.40 437.20,171.60 289.70,147.50" fill="url(#sioTop)" stroke="none" stroke-width="1" stroke-linejoin="round" />
<polygon points="289.70,147.50 437.20,171.60 437.20,179.60 289.70,153.30" fill="#2c9fd6" stroke="none" stroke-width="1" stroke-linejoin="round" />
<polygon points="437.20,171.60 461.30,135.40 461.30,140.50 437.20,179.60" fill="#0f3f60" stroke="none" stroke-width="1" stroke-linejoin="round" />
<line x1="316.36" y1="92.11" x2="316.06" y2="88.91" stroke="#e8a040" stroke-width="0.6" />
<circle cx="316.06" cy="88.71" r="1.20" fill="#f4b02a" stroke="none" stroke-width="1" />
<line x1="321.07" y1="92.32" x2="320.77" y2="89.12" stroke="#e8a040" stroke-width="0.6" />
<circle cx="320.77" cy="88.92" r="1.20" fill="#f4b02a" stroke="none" stroke-width="1" />
<line x1="325.79" y1="92.54" x2="325.49" y2="89.34" stroke="#e8a040" stroke-width="0.6" />
<circle cx="325.49" cy="89.14" r="1.20" fill="#f4b02a" stroke="none" stroke-width="1" />
<line x1="330.50" y1="92.75" x2="330.20" y2="89.55" stroke="#e8a040" stroke-width="0.6" />
<circle cx="330.20" cy="89.35" r="1.20" fill="#f4b02a" stroke="none" stroke-width="1" />
<line x1="335.21" y1="92.96" x2="334.91" y2="89.76" stroke="#e8a040" stroke-width="0.6" />
<circle cx="334.91" cy="89.56" r="1.20" fill="#f4b02a" stroke="none" stroke-width="1" />
<line x1="339.93" y1="93.18" x2="339.63" y2="89.98" stroke="#e8a040" stroke-width="0.6" />
<circle cx="339.63" cy="89.78" r="1.20" fill="#f4b02a" stroke="none" stroke-width="1" />
<line x1="344.64" y1="93.39" x2="344.34" y2="90.19" stroke="#e8a040" stroke-width="0.6" />
<circle cx="344.34" cy="89.99" r="1.20" fill="#f4b02a" stroke="none" stroke-width="1" />
<line x1="349.36" y1="93.61" x2="349.06" y2="90.41" stroke="#e8a040" stroke-width="0.6" />
<circle cx="349.06" cy="90.21" r="1.20" fill="#f4b02a" stroke="none" stroke-width="1" />
<line x1="354.07" y1="93.82" x2="353.77" y2="90.62" stroke="#e8a040" stroke-width="0.6" />
<circle cx="353.77" cy="90.42" r="1.20" fill="#f4b02a" stroke="none" stroke-width="1" />
<line x1="358.79" y1="94.04" x2="358.49" y2="90.84" stroke="#e8a040" stroke-width="0.6" />
<circle cx="358.49" cy="90.64" r="1.20" fill="#f4b02a" stroke="none" stroke-width="1" />
<line x1="363.50" y1="94.25" x2="363.20" y2="91.05" stroke="#e8a040" stroke-width="0.6" />
<circle cx="363.20" cy="90.85" r="1.20" fill="#f4b02a" stroke="none" stroke-width="1" />
<line x1="368.21" y1="94.46" x2="367.91" y2="91.26" stroke="#e8a040" stroke-width="0.6" />
<circle cx="367.91" cy="91.06" r="1.20" fill="#f4b02a" stroke="none" stroke-width="1" />
<line x1="372.93" y1="94.68" x2="372.63" y2="91.48" stroke="#e8a040" stroke-width="0.6" />
<circle cx="372.63" cy="91.28" r="1.20" fill="#f4b02a" stroke="none" stroke-width="1" />
<line x1="377.64" y1="94.89" x2="377.34" y2="91.69" stroke="#e8a040" stroke-width="0.6" />
<circle cx="377.34" cy="91.49" r="1.20" fill="#f4b02a" stroke="none" stroke-width="1" />
<line x1="382.36" y1="95.11" x2="382.06" y2="91.91" stroke="#e8a040" stroke-width="0.6" />
<circle cx="382.06" cy="91.71" r="1.20" fill="#f4b02a" stroke="none" stroke-width="1" />
<line x1="387.07" y1="95.32" x2="386.77" y2="92.12" stroke="#e8a040" stroke-width="0.6" />
<circle cx="386.77" cy="91.92" r="1.20" fill="#f4b02a" stroke="none" stroke-width="1" />
<line x1="391.79" y1="95.54" x2="391.49" y2="92.34" stroke="#e8a040" stroke-width="0.6" />
<circle cx="391.49" cy="92.14" r="1.20" fill="#f4b02a" stroke="none" stroke-width="1" />
<line x1="396.50" y1="95.75" x2="396.20" y2="92.55" stroke="#e8a040" stroke-width="0.6" />
<circle cx="396.20" cy="92.35" r="1.20" fill="#f4b02a" stroke="none" stroke-width="1" />
<line x1="401.21" y1="95.96" x2="400.91" y2="92.76" stroke="#e8a040" stroke-width="0.6" />
<circle cx="400.91" cy="92.56" r="1.20" fill="#f4b02a" stroke="none" stroke-width="1" />
<line x1="405.93" y1="96.18" x2="405.63" y2="92.98" stroke="#e8a040" stroke-width="0.6" />
<circle cx="405.63" cy="92.78" r="1.20" fill="#f4b02a" stroke="none" stroke-width="1" />
<line x1="410.64" y1="96.39" x2="410.34" y2="93.19" stroke="#e8a040" stroke-width="0.6" />
<circle cx="410.34" cy="92.99" r="1.20" fill="#f4b02a" stroke="none" stroke-width="1" />
<line x1="415.36" y1="96.61" x2="415.06" y2="93.41" stroke="#e8a040" stroke-width="0.6" />
<circle cx="415.06" cy="93.21" r="1.20" fill="#f4b02a" stroke="none" stroke-width="1" />
<line x1="420.07" y1="96.82" x2="419.77" y2="93.62" stroke="#e8a040" stroke-width="0.6" />
<circle cx="419.77" cy="93.42" r="1.20" fill="#f4b02a" stroke="none" stroke-width="1" />
<line x1="424.79" y1="97.04" x2="424.49" y2="93.84" stroke="#e8a040" stroke-width="0.6" />
<circle cx="424.49" cy="93.64" r="1.20" fill="#f4b02a" stroke="none" stroke-width="1" />
<line x1="429.50" y1="97.25" x2="429.20" y2="94.05" stroke="#e8a040" stroke-width="0.6" />
<circle cx="429.20" cy="93.85" r="1.20" fill="#f4b02a" stroke="none" stroke-width="1" />
<line x1="434.21" y1="97.46" x2="433.91" y2="94.26" stroke="#e8a040" stroke-width="0.6" />
<circle cx="433.91" cy="94.06" r="1.20" fill="#f4b02a" stroke="none" stroke-width="1" />
<line x1="438.93" y1="97.68" x2="438.63" y2="94.48" stroke="#e8a040" stroke-width="0.6" />
<circle cx="438.63" cy="94.28" r="1.20" fill="#f4b02a" stroke="none" stroke-width="1" />
<line x1="443.64" y1="97.89" x2="443.34" y2="94.69" stroke="#e8a040" stroke-width="0.6" />
<circle cx="443.34" cy="94.49" r="1.20" fill="#f4b02a" stroke="none" stroke-width="1" />
<polygon points="320.00,129.00 441.00,143.00 446.00,98.00 314.00,92.00" fill="#e2643a" stroke="none" stroke-width="1" stroke-linejoin="round" />
<line x1="321.34" y1="129.16" x2="321.64" y2="134.66" stroke="#7ab8b0" stroke-width="0.6" />
<circle cx="321.64" cy="134.66" r="1.24" fill="#f4a81a" stroke="none" stroke-width="1" />
<line x1="325.83" y1="129.67" x2="326.13" y2="135.17" stroke="#7ab8b0" stroke-width="0.6" />
<circle cx="326.13" cy="135.17" r="1.24" fill="#f4a81a" stroke="none" stroke-width="1" />
<line x1="330.31" y1="130.19" x2="330.61" y2="135.69" stroke="#7ab8b0" stroke-width="0.6" />
<circle cx="330.61" cy="135.69" r="1.24" fill="#f4a81a" stroke="none" stroke-width="1" />
<line x1="334.79" y1="130.71" x2="335.09" y2="136.21" stroke="#7ab8b0" stroke-width="0.6" />
<circle cx="335.09" cy="136.21" r="1.24" fill="#f4a81a" stroke="none" stroke-width="1" />
<line x1="339.27" y1="131.23" x2="339.57" y2="136.73" stroke="#7ab8b0" stroke-width="0.6" />
<circle cx="339.57" cy="136.73" r="1.24" fill="#f4a81a" stroke="none" stroke-width="1" />
<line x1="343.75" y1="131.75" x2="344.05" y2="137.25" stroke="#7ab8b0" stroke-width="0.6" />
<circle cx="344.05" cy="137.25" r="1.24" fill="#f4a81a" stroke="none" stroke-width="1" />
<line x1="348.23" y1="132.27" x2="348.53" y2="137.77" stroke="#7ab8b0" stroke-width="0.6" />
<circle cx="348.53" cy="137.77" r="1.24" fill="#f4a81a" stroke="none" stroke-width="1" />
<line x1="352.71" y1="132.79" x2="353.01" y2="138.29" stroke="#7ab8b0" stroke-width="0.6" />
<circle cx="353.01" cy="138.29" r="1.24" fill="#f4a81a" stroke="none" stroke-width="1" />
<line x1="357.20" y1="133.30" x2="357.50" y2="138.80" stroke="#7ab8b0" stroke-width="0.6" />
<circle cx="357.50" cy="138.80" r="1.24" fill="#f4a81a" stroke="none" stroke-width="1" />
<line x1="361.68" y1="133.82" x2="361.98" y2="139.32" stroke="#7ab8b0" stroke-width="0.6" />
<circle cx="361.98" cy="139.32" r="1.24" fill="#f4a81a" stroke="none" stroke-width="1" />
<line x1="366.16" y1="134.34" x2="366.46" y2="139.84" stroke="#7ab8b0" stroke-width="0.6" />
<circle cx="366.46" cy="139.84" r="1.24" fill="#f4a81a" stroke="none" stroke-width="1" />
<line x1="370.64" y1="134.86" x2="370.94" y2="140.36" stroke="#7ab8b0" stroke-width="0.6" />
<circle cx="370.94" cy="140.36" r="1.24" fill="#f4a81a" stroke="none" stroke-width="1" />
<line x1="375.12" y1="135.38" x2="375.42" y2="140.88" stroke="#7ab8b0" stroke-width="0.6" />
<circle cx="375.42" cy="140.88" r="1.24" fill="#f4a81a" stroke="none" stroke-width="1" />
<line x1="379.60" y1="135.90" x2="379.90" y2="141.40" stroke="#7ab8b0" stroke-width="0.6" />
<circle cx="379.90" cy="141.40" r="1.24" fill="#f4a81a" stroke="none" stroke-width="1" />
<line x1="384.09" y1="136.41" x2="384.39" y2="141.91" stroke="#7ab8b0" stroke-width="0.6" />
<circle cx="384.39" cy="141.91" r="1.24" fill="#f4a81a" stroke="none" stroke-width="1" />
<line x1="388.57" y1="136.93" x2="388.87" y2="142.43" stroke="#7ab8b0" stroke-width="0.6" />
<circle cx="388.87" cy="142.43" r="1.24" fill="#f4a81a" stroke="none" stroke-width="1" />
<line x1="393.05" y1="137.45" x2="393.35" y2="142.95" stroke="#7ab8b0" stroke-width="0.6" />
<circle cx="393.35" cy="142.95" r="1.24" fill="#f4a81a" stroke="none" stroke-width="1" />
<line x1="397.53" y1="137.97" x2="397.83" y2="143.47" stroke="#7ab8b0" stroke-width="0.6" />
<circle cx="397.83" cy="143.47" r="1.24" fill="#f4a81a" stroke="none" stroke-width="1" />
<line x1="402.01" y1="138.49" x2="402.31" y2="143.99" stroke="#7ab8b0" stroke-width="0.6" />
<circle cx="402.31" cy="143.99" r="1.24" fill="#f4a81a" stroke="none" stroke-width="1" />
<line x1="406.49" y1="139.01" x2="406.79" y2="144.51" stroke="#7ab8b0" stroke-width="0.6" />
<circle cx="406.79" cy="144.51" r="1.24" fill="#f4a81a" stroke="none" stroke-width="1" />
<line x1="410.97" y1="139.53" x2="411.27" y2="145.03" stroke="#7ab8b0" stroke-width="0.6" />
<circle cx="411.27" cy="145.03" r="1.24" fill="#f4a81a" stroke="none" stroke-width="1" />
<line x1="415.46" y1="140.04" x2="415.76" y2="145.54" stroke="#7ab8b0" stroke-width="0.6" />
<circle cx="415.76" cy="145.54" r="1.24" fill="#f4a81a" stroke="none" stroke-width="1" />
<line x1="419.94" y1="140.56" x2="420.24" y2="146.06" stroke="#7ab8b0" stroke-width="0.6" />
<circle cx="420.24" cy="146.06" r="1.24" fill="#f4a81a" stroke="none" stroke-width="1" />
<line x1="424.42" y1="141.08" x2="424.72" y2="146.58" stroke="#7ab8b0" stroke-width="0.6" />
<circle cx="424.72" cy="146.58" r="1.24" fill="#f4a81a" stroke="none" stroke-width="1" />
<line x1="428.90" y1="141.60" x2="429.20" y2="147.10" stroke="#7ab8b0" stroke-width="0.6" />
<circle cx="429.20" cy="147.10" r="1.24" fill="#f4a81a" stroke="none" stroke-width="1" />
<line x1="433.38" y1="142.12" x2="433.68" y2="147.62" stroke="#7ab8b0" stroke-width="0.6" />
<circle cx="433.68" cy="147.62" r="1.24" fill="#f4a81a" stroke="none" stroke-width="1" />
<line x1="437.86" y1="142.64" x2="438.16" y2="148.14" stroke="#7ab8b0" stroke-width="0.6" />
<circle cx="438.16" cy="148.14" r="1.24" fill="#f4a81a" stroke="none" stroke-width="1" />
<circle cx="314.39" cy="91.98" r="2.25" fill="#f08a2a" stroke="none" stroke-width="1" />
<circle cx="313.60" cy="91.19" r="1.01" fill="#f8c050" stroke="none" stroke-width="1" />
<circle cx="319.15" cy="91.72" r="2.25" fill="#e0421a" stroke="none" stroke-width="1" />
<circle cx="318.36" cy="90.94" r="1.01" fill="#f2763a" stroke="none" stroke-width="1" />
<circle cx="323.75" cy="92.83" r="2.25" fill="#f08a2a" stroke="none" stroke-width="1" />
<circle cx="322.96" cy="92.05" r="1.01" fill="#f8c050" stroke="none" stroke-width="1" />
<circle cx="328.79" cy="92.60" r="2.25" fill="#f08a2a" stroke="none" stroke-width="1" />
<circle cx="328.00" cy="91.81" r="1.01" fill="#f8c050" stroke="none" stroke-width="1" />
<circle cx="333.52" cy="92.49" r="2.25" fill="#f08a2a" stroke="none" stroke-width="1" />
<circle cx="332.73" cy="91.70" r="1.01" fill="#f8c050" stroke="none" stroke-width="1" />
<circle cx="338.10" cy="92.77" r="2.25" fill="#e0421a" stroke="none" stroke-width="1" />
<circle cx="337.31" cy="91.98" r="1.01" fill="#f2763a" stroke="none" stroke-width="1" />
<circle cx="343.21" cy="93.22" r="2.25" fill="#f08a2a" stroke="none" stroke-width="1" />
<circle cx="342.42" cy="92.43" r="1.01" fill="#f8c050" stroke="none" stroke-width="1" />
<circle cx="348.60" cy="93.21" r="2.25" fill="#f08a2a" stroke="none" stroke-width="1" />
<circle cx="347.82" cy="92.42" r="1.01" fill="#f8c050" stroke="none" stroke-width="1" />
<circle cx="352.87" cy="93.56" r="2.25" fill="#f08a2a" stroke="none" stroke-width="1" />
<circle cx="352.08" cy="92.77" r="1.01" fill="#f8c050" stroke="none" stroke-width="1" />
<circle cx="357.66" cy="93.79" r="2.25" fill="#f08a2a" stroke="none" stroke-width="1" />
<circle cx="356.87" cy="93.00" r="1.01" fill="#f8c050" stroke="none" stroke-width="1" />
<circle cx="362.62" cy="94.20" r="2.25" fill="#e0421a" stroke="none" stroke-width="1" />
<circle cx="361.84" cy="93.42" r="1.01" fill="#f2763a" stroke="none" stroke-width="1" />
<circle cx="367.31" cy="94.87" r="2.25" fill="#f08a2a" stroke="none" stroke-width="1" />
<circle cx="366.52" cy="94.08" r="1.01" fill="#f8c050" stroke="none" stroke-width="1" />
<circle cx="372.54" cy="95.10" r="2.25" fill="#e0421a" stroke="none" stroke-width="1" />
<circle cx="371.75" cy="94.32" r="1.01" fill="#f2763a" stroke="none" stroke-width="1" />
<circle cx="377.74" cy="95.06" r="2.25" fill="#f08a2a" stroke="none" stroke-width="1" />
<circle cx="376.96" cy="94.28" r="1.01" fill="#f8c050" stroke="none" stroke-width="1" />
<circle cx="382.42" cy="95.56" r="2.25" fill="#f08a2a" stroke="none" stroke-width="1" />
<circle cx="381.63" cy="94.77" r="1.01" fill="#f8c050" stroke="none" stroke-width="1" />
<circle cx="386.95" cy="95.50" r="2.25" fill="#f08a2a" stroke="none" stroke-width="1" />
<circle cx="386.16" cy="94.71" r="1.01" fill="#f8c050" stroke="none" stroke-width="1" />
<circle cx="392.01" cy="95.73" r="2.25" fill="#f08a2a" stroke="none" stroke-width="1" />
<circle cx="391.23" cy="94.94" r="1.01" fill="#f8c050" stroke="none" stroke-width="1" />
<circle cx="397.34" cy="95.44" r="2.25" fill="#f08a2a" stroke="none" stroke-width="1" />
<circle cx="396.55" cy="94.65" r="1.01" fill="#f8c050" stroke="none" stroke-width="1" />
<circle cx="401.70" cy="95.52" r="2.25" fill="#f08a2a" stroke="none" stroke-width="1" />
<circle cx="400.91" cy="94.74" r="1.01" fill="#f8c050" stroke="none" stroke-width="1" />
<circle cx="406.62" cy="95.80" r="2.25" fill="#f08a2a" stroke="none" stroke-width="1" />
<circle cx="405.83" cy="95.01" r="1.01" fill="#f8c050" stroke="none" stroke-width="1" />
<circle cx="411.68" cy="96.92" r="2.25" fill="#f08a2a" stroke="none" stroke-width="1" />
<circle cx="410.89" cy="96.13" r="1.01" fill="#f8c050" stroke="none" stroke-width="1" />
<circle cx="416.53" cy="96.48" r="2.25" fill="#f08a2a" stroke="none" stroke-width="1" />
<circle cx="415.74" cy="95.69" r="1.01" fill="#f8c050" stroke="none" stroke-width="1" />
<circle cx="421.52" cy="96.67" r="2.25" fill="#f08a2a" stroke="none" stroke-width="1" />
<circle cx="420.74" cy="95.88" r="1.01" fill="#f8c050" stroke="none" stroke-width="1" />
<circle cx="426.68" cy="97.33" r="2.25" fill="#e0421a" stroke="none" stroke-width="1" />
<circle cx="425.89" cy="96.54" r="1.01" fill="#f2763a" stroke="none" stroke-width="1" />
<circle cx="431.00" cy="97.07" r="2.25" fill="#f08a2a" stroke="none" stroke-width="1" />
<circle cx="430.21" cy="96.29" r="1.01" fill="#f8c050" stroke="none" stroke-width="1" />
<circle cx="436.39" cy="98.00" r="2.25" fill="#f08a2a" stroke="none" stroke-width="1" />
<circle cx="435.61" cy="97.21" r="1.01" fill="#f8c050" stroke="none" stroke-width="1" />
<circle cx="441.26" cy="97.71" r="2.25" fill="#f08a2a" stroke="none" stroke-width="1" />
<circle cx="440.47" cy="96.92" r="1.01" fill="#f8c050" stroke="none" stroke-width="1" />
<circle cx="446.48" cy="97.51" r="2.25" fill="#f08a2a" stroke="none" stroke-width="1" />
<circle cx="445.69" cy="96.72" r="1.01" fill="#f8c050" stroke="none" stroke-width="1" />
<circle cx="318.12" cy="97.91" r="1.57" fill="#78c4c4" stroke="none" stroke-width="1" />
<circle cx="316.92" cy="97.01" r="2.25" fill="#f08a2a" stroke="none" stroke-width="1" />
<circle cx="316.14" cy="96.22" r="1.01" fill="#f8c050" stroke="none" stroke-width="1" />
<circle cx="323.22" cy="97.55" r="1.57" fill="#78c4c4" stroke="none" stroke-width="1" />
<circle cx="322.02" cy="96.65" r="2.25" fill="#f08a2a" stroke="none" stroke-width="1" />
<circle cx="321.24" cy="95.86" r="1.01" fill="#f8c050" stroke="none" stroke-width="1" />
<circle cx="326.58" cy="97.14" r="2.25" fill="#f08a2a" stroke="none" stroke-width="1" />
<circle cx="325.79" cy="96.36" r="1.01" fill="#f8c050" stroke="none" stroke-width="1" />
<circle cx="331.92" cy="97.21" r="2.25" fill="#f08a2a" stroke="none" stroke-width="1" />
<circle cx="331.13" cy="96.42" r="1.01" fill="#f8c050" stroke="none" stroke-width="1" />
<circle cx="337.93" cy="98.85" r="1.57" fill="#78c4c4" stroke="none" stroke-width="1" />
<circle cx="336.73" cy="97.95" r="2.25" fill="#f08a2a" stroke="none" stroke-width="1" />
<circle cx="335.95" cy="97.16" r="1.01" fill="#f8c050" stroke="none" stroke-width="1" />
<circle cx="342.14" cy="99.12" r="1.57" fill="#78c4c4" stroke="none" stroke-width="1" />
<circle cx="340.94" cy="98.22" r="2.25" fill="#f08a2a" stroke="none" stroke-width="1" />
<circle cx="340.16" cy="97.43" r="1.01" fill="#f8c050" stroke="none" stroke-width="1" />
<circle cx="346.99" cy="98.83" r="1.57" fill="#78c4c4" stroke="none" stroke-width="1" />
<circle cx="345.79" cy="97.93" r="2.25" fill="#f08a2a" stroke="none" stroke-width="1" />
<circle cx="345.00" cy="97.15" r="1.01" fill="#f8c050" stroke="none" stroke-width="1" />
<circle cx="351.13" cy="98.31" r="2.25" fill="#e0421a" stroke="none" stroke-width="1" />
<circle cx="350.34" cy="97.52" r="1.01" fill="#f2763a" stroke="none" stroke-width="1" />
<circle cx="357.45" cy="99.71" r="1.57" fill="#78c4c4" stroke="none" stroke-width="1" />
<circle cx="356.25" cy="98.81" r="2.25" fill="#f08a2a" stroke="none" stroke-width="1" />
<circle cx="355.46" cy="98.02" r="1.01" fill="#f8c050" stroke="none" stroke-width="1" />
<circle cx="360.53" cy="99.38" r="2.25" fill="#f08a2a" stroke="none" stroke-width="1" />
<circle cx="359.75" cy="98.60" r="1.01" fill="#f8c050" stroke="none" stroke-width="1" />
<circle cx="366.28" cy="100.47" r="1.57" fill="#78c4c4" stroke="none" stroke-width="1" />
<circle cx="365.08" cy="99.57" r="2.25" fill="#f08a2a" stroke="none" stroke-width="1" />
<circle cx="364.29" cy="98.78" r="1.01" fill="#f8c050" stroke="none" stroke-width="1" />
<circle cx="371.14" cy="100.16" r="1.57" fill="#78c4c4" stroke="none" stroke-width="1" />
<circle cx="369.94" cy="99.26" r="2.25" fill="#e0421a" stroke="none" stroke-width="1" />
<circle cx="369.15" cy="98.47" r="1.01" fill="#f2763a" stroke="none" stroke-width="1" />
<circle cx="375.68" cy="100.05" r="2.25" fill="#f08a2a" stroke="none" stroke-width="1" />
<circle cx="374.89" cy="99.26" r="1.01" fill="#f8c050" stroke="none" stroke-width="1" />
<circle cx="380.99" cy="100.64" r="1.57" fill="#78c4c4" stroke="none" stroke-width="1" />
<circle cx="379.79" cy="99.74" r="2.25" fill="#f08a2a" stroke="none" stroke-width="1" />
<circle cx="379.00" cy="98.95" r="1.01" fill="#f8c050" stroke="none" stroke-width="1" />
<circle cx="386.57" cy="101.45" r="1.57" fill="#78c4c4" stroke="none" stroke-width="1" />
<circle cx="385.37" cy="100.55" r="2.25" fill="#f08a2a" stroke="none" stroke-width="1" />
<circle cx="384.59" cy="99.76" r="1.01" fill="#f8c050" stroke="none" stroke-width="1" />
<circle cx="391.26" cy="101.18" r="1.57" fill="#78c4c4" stroke="none" stroke-width="1" />
<circle cx="390.06" cy="100.28" r="2.25" fill="#f08a2a" stroke="none" stroke-width="1" />
<circle cx="389.27" cy="99.50" r="1.01" fill="#f8c050" stroke="none" stroke-width="1" />
<circle cx="395.90" cy="101.66" r="1.57" fill="#78c4c4" stroke="none" stroke-width="1" />
<circle cx="394.70" cy="100.76" r="2.25" fill="#f08a2a" stroke="none" stroke-width="1" />
<circle cx="393.91" cy="99.97" r="1.01" fill="#f8c050" stroke="none" stroke-width="1" />
<circle cx="399.15" cy="101.00" r="2.25" fill="#f08a2a" stroke="none" stroke-width="1" />
<circle cx="398.36" cy="100.21" r="1.01" fill="#f8c050" stroke="none" stroke-width="1" />
<circle cx="405.57" cy="102.17" r="1.57" fill="#78c4c4" stroke="none" stroke-width="1" />
<circle cx="404.37" cy="101.27" r="2.25" fill="#f08a2a" stroke="none" stroke-width="1" />
<circle cx="403.58" cy="100.48" r="1.01" fill="#f8c050" stroke="none" stroke-width="1" />
<circle cx="410.18" cy="102.22" r="1.57" fill="#78c4c4" stroke="none" stroke-width="1" />
<circle cx="408.98" cy="101.32" r="2.25" fill="#f08a2a" stroke="none" stroke-width="1" />
<circle cx="408.19" cy="100.53" r="1.01" fill="#f8c050" stroke="none" stroke-width="1" />
<circle cx="415.46" cy="102.99" r="1.57" fill="#78c4c4" stroke="none" stroke-width="1" />
<circle cx="414.26" cy="102.09" r="2.25" fill="#f08a2a" stroke="none" stroke-width="1" />
<circle cx="413.47" cy="101.30" r="1.01" fill="#f8c050" stroke="none" stroke-width="1" />
<circle cx="419.07" cy="102.13" r="2.25" fill="#f08a2a" stroke="none" stroke-width="1" />
<circle cx="418.28" cy="101.34" r="1.01" fill="#f8c050" stroke="none" stroke-width="1" />
<circle cx="423.96" cy="102.48" r="2.25" fill="#f08a2a" stroke="none" stroke-width="1" />
<circle cx="423.17" cy="101.69" r="1.01" fill="#f8c050" stroke="none" stroke-width="1" />
<circle cx="428.53" cy="102.79" r="2.25" fill="#f08a2a" stroke="none" stroke-width="1" />
<circle cx="427.75" cy="102.00" r="1.01" fill="#f8c050" stroke="none" stroke-width="1" />
<circle cx="434.72" cy="103.77" r="1.57" fill="#78c4c4" stroke="none" stroke-width="1" />
<circle cx="433.52" cy="102.87" r="2.25" fill="#e0421a" stroke="none" stroke-width="1" />
<circle cx="432.73" cy="102.08" r="1.01" fill="#f2763a" stroke="none" stroke-width="1" />
<circle cx="437.72" cy="102.77" r="2.25" fill="#e0421a" stroke="none" stroke-width="1" />
<circle cx="436.93" cy="101.98" r="1.01" fill="#f2763a" stroke="none" stroke-width="1" />
<circle cx="442.66" cy="103.03" r="2.25" fill="#e0421a" stroke="none" stroke-width="1" />
<circle cx="441.87" cy="102.25" r="1.01" fill="#f2763a" stroke="none" stroke-width="1" />
<circle cx="315.48" cy="101.30" r="2.25" fill="#e0421a" stroke="none" stroke-width="1" />
<circle cx="314.69" cy="100.51" r="1.01" fill="#f2763a" stroke="none" stroke-width="1" />
<circle cx="320.28" cy="101.38" r="2.25" fill="#e0421a" stroke="none" stroke-width="1" />
<circle cx="319.50" cy="100.59" r="1.01" fill="#f2763a" stroke="none" stroke-width="1" />
<circle cx="324.73" cy="101.93" r="2.25" fill="#e0421a" stroke="none" stroke-width="1" />
<circle cx="323.94" cy="101.14" r="1.01" fill="#f2763a" stroke="none" stroke-width="1" />
<circle cx="330.17" cy="101.71" r="2.25" fill="#e0421a" stroke="none" stroke-width="1" />
<circle cx="329.39" cy="100.92" r="1.01" fill="#f2763a" stroke="none" stroke-width="1" />
<circle cx="334.38" cy="102.75" r="2.25" fill="#e0421a" stroke="none" stroke-width="1" />
<circle cx="333.59" cy="101.97" r="1.01" fill="#f2763a" stroke="none" stroke-width="1" />
<circle cx="339.73" cy="102.90" r="2.25" fill="#e0421a" stroke="none" stroke-width="1" />
<circle cx="338.94" cy="102.11" r="1.01" fill="#f2763a" stroke="none" stroke-width="1" />
<circle cx="343.75" cy="103.25" r="2.25" fill="#e0421a" stroke="none" stroke-width="1" />
<circle cx="342.96" cy="102.46" r="1.01" fill="#f2763a" stroke="none" stroke-width="1" />
<circle cx="349.49" cy="103.82" r="2.25" fill="#e0421a" stroke="none" stroke-width="1" />
<circle cx="348.70" cy="103.03" r="1.01" fill="#f2763a" stroke="none" stroke-width="1" />
<circle cx="354.00" cy="103.17" r="2.25" fill="#e0421a" stroke="none" stroke-width="1" />
<circle cx="353.21" cy="102.38" r="1.01" fill="#f2763a" stroke="none" stroke-width="1" />
<circle cx="358.93" cy="103.64" r="2.25" fill="#e0421a" stroke="none" stroke-width="1" />
<circle cx="358.14" cy="102.85" r="1.01" fill="#f2763a" stroke="none" stroke-width="1" />
<circle cx="363.52" cy="104.67" r="2.25" fill="#e0421a" stroke="none" stroke-width="1" />
<circle cx="362.73" cy="103.88" r="1.01" fill="#f2763a" stroke="none" stroke-width="1" />
<circle cx="368.37" cy="104.14" r="2.25" fill="#e0421a" stroke="none" stroke-width="1" />
<circle cx="367.58" cy="103.36" r="1.01" fill="#f2763a" stroke="none" stroke-width="1" />
<circle cx="372.74" cy="105.22" r="2.25" fill="#e0421a" stroke="none" stroke-width="1" />
<circle cx="371.95" cy="104.44" r="1.01" fill="#f2763a" stroke="none" stroke-width="1" />
<circle cx="377.38" cy="105.21" r="2.25" fill="#e0421a" stroke="none" stroke-width="1" />
<circle cx="376.59" cy="104.42" r="1.01" fill="#f2763a" stroke="none" stroke-width="1" />
<circle cx="382.43" cy="105.06" r="2.25" fill="#e0421a" stroke="none" stroke-width="1" />
<circle cx="381.64" cy="104.27" r="1.01" fill="#f2763a" stroke="none" stroke-width="1" />
<circle cx="387.43" cy="105.24" r="2.25" fill="#e0421a" stroke="none" stroke-width="1" />
<circle cx="386.64" cy="104.45" r="1.01" fill="#f2763a" stroke="none" stroke-width="1" />
<circle cx="391.70" cy="105.87" r="2.25" fill="#e0421a" stroke="none" stroke-width="1" />
<circle cx="390.91" cy="105.08" r="1.01" fill="#f2763a" stroke="none" stroke-width="1" />
<circle cx="396.45" cy="105.84" r="2.25" fill="#e0421a" stroke="none" stroke-width="1" />
<circle cx="395.66" cy="105.06" r="1.01" fill="#f2763a" stroke="none" stroke-width="1" />
<circle cx="401.74" cy="106.83" r="2.25" fill="#e0421a" stroke="none" stroke-width="1" />
<circle cx="400.95" cy="106.04" r="1.01" fill="#f2763a" stroke="none" stroke-width="1" />
<circle cx="406.83" cy="106.51" r="2.25" fill="#e0421a" stroke="none" stroke-width="1" />
<circle cx="406.04" cy="105.73" r="1.01" fill="#f2763a" stroke="none" stroke-width="1" />
<circle cx="411.17" cy="106.99" r="2.25" fill="#e0421a" stroke="none" stroke-width="1" />
<circle cx="410.38" cy="106.20" r="1.01" fill="#f2763a" stroke="none" stroke-width="1" />
<circle cx="416.13" cy="107.46" r="2.25" fill="#e0421a" stroke="none" stroke-width="1" />
<circle cx="415.34" cy="106.67" r="1.01" fill="#f2763a" stroke="none" stroke-width="1" />
<circle cx="421.25" cy="107.64" r="2.25" fill="#e0421a" stroke="none" stroke-width="1" />
<circle cx="420.47" cy="106.86" r="1.01" fill="#f2763a" stroke="none" stroke-width="1" />
<circle cx="425.16" cy="108.26" r="2.25" fill="#e0421a" stroke="none" stroke-width="1" />
<circle cx="424.37" cy="107.47" r="1.01" fill="#f2763a" stroke="none" stroke-width="1" />
<circle cx="430.04" cy="108.49" r="2.25" fill="#e0421a" stroke="none" stroke-width="1" />
<circle cx="429.25" cy="107.70" r="1.01" fill="#f2763a" stroke="none" stroke-width="1" />
<circle cx="435.18" cy="109.07" r="2.25" fill="#e0421a" stroke="none" stroke-width="1" />
<circle cx="434.39" cy="108.28" r="1.01" fill="#f2763a" stroke="none" stroke-width="1" />
<circle cx="440.02" cy="109.07" r="2.25" fill="#e0421a" stroke="none" stroke-width="1" />
<circle cx="439.23" cy="108.29" r="1.01" fill="#f2763a" stroke="none" stroke-width="1" />
<circle cx="444.51" cy="109.30" r="2.25" fill="#e0421a" stroke="none" stroke-width="1" />
<circle cx="443.73" cy="108.51" r="1.01" fill="#f2763a" stroke="none" stroke-width="1" />
<circle cx="319.33" cy="106.97" r="1.57" fill="#78c4c4" stroke="none" stroke-width="1" />
<circle cx="318.13" cy="106.07" r="2.25" fill="#e0421a" stroke="none" stroke-width="1" />
<circle cx="317.34" cy="105.29" r="1.01" fill="#f2763a" stroke="none" stroke-width="1" />
<circle cx="323.13" cy="106.81" r="2.25" fill="#e0421a" stroke="none" stroke-width="1" />
<circle cx="322.34" cy="106.02" r="1.01" fill="#f2763a" stroke="none" stroke-width="1" />
<circle cx="329.57" cy="107.35" r="1.57" fill="#78c4c4" stroke="none" stroke-width="1" />
<circle cx="328.37" cy="106.45" r="2.25" fill="#e0421a" stroke="none" stroke-width="1" />
<circle cx="327.58" cy="105.67" r="1.01" fill="#f2763a" stroke="none" stroke-width="1" />
<circle cx="333.79" cy="107.60" r="1.57" fill="#78c4c4" stroke="none" stroke-width="1" />
<circle cx="332.59" cy="106.70" r="2.25" fill="#e0421a" stroke="none" stroke-width="1" />
<circle cx="331.81" cy="105.91" r="1.01" fill="#f2763a" stroke="none" stroke-width="1" />
<circle cx="339.25" cy="108.07" r="1.57" fill="#78c4c4" stroke="none" stroke-width="1" />
<circle cx="338.05" cy="107.17" r="2.25" fill="#e0421a" stroke="none" stroke-width="1" />
<circle cx="337.26" cy="106.38" r="1.01" fill="#f2763a" stroke="none" stroke-width="1" />
<circle cx="343.61" cy="108.58" r="1.57" fill="#78c4c4" stroke="none" stroke-width="1" />
<circle cx="342.41" cy="107.68" r="2.25" fill="#e0421a" stroke="none" stroke-width="1" />
<circle cx="341.62" cy="106.90" r="1.01" fill="#f2763a" stroke="none" stroke-width="1" />
<circle cx="348.38" cy="109.05" r="1.57" fill="#78c4c4" stroke="none" stroke-width="1" />
<circle cx="347.18" cy="108.15" r="2.25" fill="#e0421a" stroke="none" stroke-width="1" />
<circle cx="346.39" cy="107.36" r="1.01" fill="#f2763a" stroke="none" stroke-width="1" />
<circle cx="352.01" cy="107.99" r="2.25" fill="#e0421a" stroke="none" stroke-width="1" />
<circle cx="351.23" cy="107.21" r="1.01" fill="#f2763a" stroke="none" stroke-width="1" />
<circle cx="357.97" cy="109.41" r="1.57" fill="#78c4c4" stroke="none" stroke-width="1" />
<circle cx="356.77" cy="108.51" r="2.25" fill="#e0421a" stroke="none" stroke-width="1" />
<circle cx="355.98" cy="107.72" r="1.01" fill="#f2763a" stroke="none" stroke-width="1" />
<circle cx="362.48" cy="109.78" r="1.57" fill="#78c4c4" stroke="none" stroke-width="1" />
<circle cx="361.28" cy="108.88" r="2.25" fill="#e0421a" stroke="none" stroke-width="1" />
<circle cx="360.49" cy="108.09" r="1.01" fill="#f2763a" stroke="none" stroke-width="1" />
<circle cx="365.78" cy="109.40" r="2.25" fill="#e0421a" stroke="none" stroke-width="1" />
<circle cx="364.99" cy="108.62" r="1.01" fill="#f2763a" stroke="none" stroke-width="1" />
<circle cx="370.68" cy="109.57" r="2.25" fill="#e0421a" stroke="none" stroke-width="1" />
<circle cx="369.89" cy="108.78" r="1.01" fill="#f2763a" stroke="none" stroke-width="1" />
<circle cx="376.90" cy="111.03" r="1.57" fill="#78c4c4" stroke="none" stroke-width="1" />
<circle cx="375.70" cy="110.13" r="2.25" fill="#e0421a" stroke="none" stroke-width="1" />
<circle cx="374.91" cy="109.34" r="1.01" fill="#f2763a" stroke="none" stroke-width="1" />
<circle cx="380.92" cy="111.03" r="1.57" fill="#78c4c4" stroke="none" stroke-width="1" />
<circle cx="379.72" cy="110.13" r="2.25" fill="#e0421a" stroke="none" stroke-width="1" />
<circle cx="378.94" cy="109.34" r="1.01" fill="#f2763a" stroke="none" stroke-width="1" />
<circle cx="386.08" cy="112.02" r="1.57" fill="#78c4c4" stroke="none" stroke-width="1" />
<circle cx="384.88" cy="111.12" r="2.25" fill="#e0421a" stroke="none" stroke-width="1" />
<circle cx="384.09" cy="110.34" r="1.01" fill="#f2763a" stroke="none" stroke-width="1" />
<circle cx="391.25" cy="111.99" r="1.57" fill="#78c4c4" stroke="none" stroke-width="1" />
<circle cx="390.05" cy="111.09" r="2.25" fill="#e0421a" stroke="none" stroke-width="1" />
<circle cx="389.26" cy="110.30" r="1.01" fill="#f2763a" stroke="none" stroke-width="1" />
<circle cx="393.91" cy="111.65" r="2.25" fill="#e0421a" stroke="none" stroke-width="1" />
<circle cx="393.12" cy="110.87" r="1.01" fill="#f2763a" stroke="none" stroke-width="1" />
<circle cx="399.06" cy="111.78" r="2.25" fill="#e0421a" stroke="none" stroke-width="1" />
<circle cx="398.27" cy="111.00" r="1.01" fill="#f2763a" stroke="none" stroke-width="1" />
<circle cx="404.08" cy="112.17" r="2.25" fill="#e0421a" stroke="none" stroke-width="1" />
<circle cx="403.29" cy="111.39" r="1.01" fill="#f2763a" stroke="none" stroke-width="1" />
<circle cx="409.79" cy="113.69" r="1.57" fill="#78c4c4" stroke="none" stroke-width="1" />
<circle cx="408.59" cy="112.79" r="2.25" fill="#e0421a" stroke="none" stroke-width="1" />
<circle cx="407.80" cy="112.00" r="1.01" fill="#f2763a" stroke="none" stroke-width="1" />
<circle cx="414.43" cy="113.50" r="1.57" fill="#78c4c4" stroke="none" stroke-width="1" />
<circle cx="413.23" cy="112.60" r="2.25" fill="#e0421a" stroke="none" stroke-width="1" />
<circle cx="412.44" cy="111.81" r="1.01" fill="#f2763a" stroke="none" stroke-width="1" />
<circle cx="419.63" cy="113.64" r="1.57" fill="#78c4c4" stroke="none" stroke-width="1" />
<circle cx="418.43" cy="112.74" r="2.25" fill="#e0421a" stroke="none" stroke-width="1" />
<circle cx="417.64" cy="111.95" r="1.01" fill="#f2763a" stroke="none" stroke-width="1" />
<circle cx="423.81" cy="114.61" r="1.57" fill="#78c4c4" stroke="none" stroke-width="1" />
<circle cx="422.61" cy="113.71" r="2.25" fill="#e0421a" stroke="none" stroke-width="1" />
<circle cx="421.82" cy="112.92" r="1.01" fill="#f2763a" stroke="none" stroke-width="1" />
<circle cx="428.31" cy="114.94" r="1.57" fill="#78c4c4" stroke="none" stroke-width="1" />
<circle cx="427.11" cy="114.04" r="2.25" fill="#e0421a" stroke="none" stroke-width="1" />
<circle cx="426.33" cy="113.26" r="1.01" fill="#f2763a" stroke="none" stroke-width="1" />
<circle cx="432.48" cy="113.97" r="2.25" fill="#e0421a" stroke="none" stroke-width="1" />
<circle cx="431.69" cy="113.19" r="1.01" fill="#f2763a" stroke="none" stroke-width="1" />
<circle cx="436.81" cy="114.66" r="2.25" fill="#e0421a" stroke="none" stroke-width="1" />
<circle cx="436.02" cy="113.87" r="1.01" fill="#f2763a" stroke="none" stroke-width="1" />
<circle cx="442.17" cy="114.35" r="2.25" fill="#e0421a" stroke="none" stroke-width="1" />
<circle cx="441.38" cy="113.56" r="1.01" fill="#f2763a" stroke="none" stroke-width="1" />
<circle cx="316.78" cy="110.41" r="2.25" fill="#e0421a" stroke="none" stroke-width="1" />
<circle cx="315.99" cy="109.62" r="1.01" fill="#f2763a" stroke="none" stroke-width="1" />
<circle cx="321.30" cy="111.20" r="2.25" fill="#e0421a" stroke="none" stroke-width="1" />
<circle cx="320.51" cy="110.41" r="1.01" fill="#f2763a" stroke="none" stroke-width="1" />
<circle cx="326.24" cy="110.78" r="2.25" fill="#e0421a" stroke="none" stroke-width="1" />
<circle cx="325.46" cy="109.99" r="1.01" fill="#f2763a" stroke="none" stroke-width="1" />
<circle cx="331.17" cy="111.21" r="2.25" fill="#e0421a" stroke="none" stroke-width="1" />
<circle cx="330.38" cy="110.42" r="1.01" fill="#f2763a" stroke="none" stroke-width="1" />
<circle cx="335.79" cy="111.82" r="2.25" fill="#e0421a" stroke="none" stroke-width="1" />
<circle cx="335.00" cy="111.03" r="1.01" fill="#f2763a" stroke="none" stroke-width="1" />
<circle cx="340.51" cy="112.81" r="2.25" fill="#e0421a" stroke="none" stroke-width="1" />
<circle cx="339.72" cy="112.02" r="1.01" fill="#f2763a" stroke="none" stroke-width="1" />
<circle cx="345.43" cy="112.64" r="2.25" fill="#e0421a" stroke="none" stroke-width="1" />
<circle cx="344.64" cy="111.85" r="1.01" fill="#f2763a" stroke="none" stroke-width="1" />
<circle cx="350.11" cy="113.23" r="2.25" fill="#e0421a" stroke="none" stroke-width="1" />
<circle cx="349.32" cy="112.45" r="1.01" fill="#f2763a" stroke="none" stroke-width="1" />
<circle cx="354.35" cy="113.11" r="2.25" fill="#e0421a" stroke="none" stroke-width="1" />
<circle cx="353.56" cy="112.32" r="1.01" fill="#f2763a" stroke="none" stroke-width="1" />
<circle cx="359.26" cy="113.90" r="2.25" fill="#e0421a" stroke="none" stroke-width="1" />
<circle cx="358.48" cy="113.11" r="1.01" fill="#f2763a" stroke="none" stroke-width="1" />
<circle cx="364.31" cy="114.67" r="2.25" fill="#e0421a" stroke="none" stroke-width="1" />
<circle cx="363.52" cy="113.88" r="1.01" fill="#f2763a" stroke="none" stroke-width="1" />
<circle cx="368.65" cy="114.43" r="2.25" fill="#e0421a" stroke="none" stroke-width="1" />
<circle cx="367.86" cy="113.64" r="1.01" fill="#f2763a" stroke="none" stroke-width="1" />
<circle cx="373.62" cy="114.45" r="2.25" fill="#e0421a" stroke="none" stroke-width="1" />
<circle cx="372.83" cy="113.66" r="1.01" fill="#f2763a" stroke="none" stroke-width="1" />
<circle cx="377.52" cy="115.38" r="2.25" fill="#e0421a" stroke="none" stroke-width="1" />
<circle cx="376.73" cy="114.59" r="1.01" fill="#f2763a" stroke="none" stroke-width="1" />
<circle cx="382.71" cy="115.33" r="2.25" fill="#e0421a" stroke="none" stroke-width="1" />
<circle cx="381.92" cy="114.54" r="1.01" fill="#f2763a" stroke="none" stroke-width="1" />
<circle cx="387.41" cy="116.45" r="2.25" fill="#e0421a" stroke="none" stroke-width="1" />
<circle cx="386.62" cy="115.66" r="1.01" fill="#f2763a" stroke="none" stroke-width="1" />
<circle cx="391.84" cy="116.36" r="2.25" fill="#e0421a" stroke="none" stroke-width="1" />
<circle cx="391.05" cy="115.57" r="1.01" fill="#f2763a" stroke="none" stroke-width="1" />
<circle cx="396.37" cy="116.59" r="2.25" fill="#e0421a" stroke="none" stroke-width="1" />
<circle cx="395.59" cy="115.80" r="1.01" fill="#f2763a" stroke="none" stroke-width="1" />
<circle cx="401.81" cy="117.05" r="2.25" fill="#e0421a" stroke="none" stroke-width="1" />
<circle cx="401.02" cy="116.26" r="1.01" fill="#f2763a" stroke="none" stroke-width="1" />
<circle cx="406.48" cy="117.95" r="2.25" fill="#e0421a" stroke="none" stroke-width="1" />
<circle cx="405.69" cy="117.16" r="1.01" fill="#f2763a" stroke="none" stroke-width="1" />
<circle cx="410.80" cy="117.67" r="2.25" fill="#e0421a" stroke="none" stroke-width="1" />
<circle cx="410.01" cy="116.88" r="1.01" fill="#f2763a" stroke="none" stroke-width="1" />
<circle cx="415.87" cy="118.27" r="2.25" fill="#e0421a" stroke="none" stroke-width="1" />
<circle cx="415.08" cy="117.49" r="1.01" fill="#f2763a" stroke="none" stroke-width="1" />
<circle cx="419.99" cy="118.47" r="2.25" fill="#e0421a" stroke="none" stroke-width="1" />
<circle cx="419.20" cy="117.68" r="1.01" fill="#f2763a" stroke="none" stroke-width="1" />
<circle cx="425.24" cy="119.01" r="2.25" fill="#e0421a" stroke="none" stroke-width="1" />
<circle cx="424.46" cy="118.22" r="1.01" fill="#f2763a" stroke="none" stroke-width="1" />
<circle cx="429.23" cy="119.37" r="2.25" fill="#e0421a" stroke="none" stroke-width="1" />
<circle cx="428.44" cy="118.58" r="1.01" fill="#f2763a" stroke="none" stroke-width="1" />
<circle cx="433.75" cy="119.88" r="2.25" fill="#e0421a" stroke="none" stroke-width="1" />
<circle cx="432.96" cy="119.09" r="1.01" fill="#f2763a" stroke="none" stroke-width="1" />
<circle cx="438.76" cy="119.92" r="2.25" fill="#e0421a" stroke="none" stroke-width="1" />
<circle cx="437.97" cy="119.14" r="1.01" fill="#f2763a" stroke="none" stroke-width="1" />
<circle cx="443.78" cy="120.83" r="2.25" fill="#e0421a" stroke="none" stroke-width="1" />
<circle cx="442.99" cy="120.04" r="1.01" fill="#f2763a" stroke="none" stroke-width="1" />
<circle cx="321.41" cy="116.53" r="1.57" fill="#78c4c4" stroke="none" stroke-width="1" />
<circle cx="320.21" cy="115.63" r="2.25" fill="#e0421a" stroke="none" stroke-width="1" />
<circle cx="319.43" cy="114.84" r="1.01" fill="#f2763a" stroke="none" stroke-width="1" />
<circle cx="324.55" cy="115.88" r="2.25" fill="#e0421a" stroke="none" stroke-width="1" />
<circle cx="323.76" cy="115.09" r="1.01" fill="#f2763a" stroke="none" stroke-width="1" />
<circle cx="330.77" cy="117.37" r="1.57" fill="#78c4c4" stroke="none" stroke-width="1" />
<circle cx="329.57" cy="116.47" r="2.25" fill="#e0421a" stroke="none" stroke-width="1" />
<circle cx="328.79" cy="115.68" r="1.01" fill="#f2763a" stroke="none" stroke-width="1" />
<circle cx="333.82" cy="116.89" r="2.25" fill="#e0421a" stroke="none" stroke-width="1" />
<circle cx="333.03" cy="116.11" r="1.01" fill="#f2763a" stroke="none" stroke-width="1" />
<circle cx="340.17" cy="118.05" r="1.57" fill="#78c4c4" stroke="none" stroke-width="1" />
<circle cx="338.97" cy="117.15" r="2.25" fill="#e0421a" stroke="none" stroke-width="1" />
<circle cx="338.19" cy="116.36" r="1.01" fill="#f2763a" stroke="none" stroke-width="1" />
<circle cx="343.71" cy="117.82" r="2.25" fill="#e0421a" stroke="none" stroke-width="1" />
<circle cx="342.93" cy="117.03" r="1.01" fill="#f2763a" stroke="none" stroke-width="1" />
<circle cx="347.89" cy="117.80" r="2.25" fill="#e0421a" stroke="none" stroke-width="1" />
<circle cx="347.10" cy="117.01" r="1.01" fill="#f2763a" stroke="none" stroke-width="1" />
<circle cx="353.37" cy="119.42" r="1.57" fill="#78c4c4" stroke="none" stroke-width="1" />
<circle cx="352.17" cy="118.52" r="2.25" fill="#e0421a" stroke="none" stroke-width="1" />
<circle cx="351.39" cy="117.73" r="1.01" fill="#f2763a" stroke="none" stroke-width="1" />
<circle cx="358.78" cy="119.47" r="1.57" fill="#78c4c4" stroke="none" stroke-width="1" />
<circle cx="357.58" cy="118.57" r="2.25" fill="#e0421a" stroke="none" stroke-width="1" />
<circle cx="356.79" cy="117.78" r="1.01" fill="#f2763a" stroke="none" stroke-width="1" />
<circle cx="361.97" cy="119.22" r="2.25" fill="#e0421a" stroke="none" stroke-width="1" />
<circle cx="361.18" cy="118.43" r="1.01" fill="#f2763a" stroke="none" stroke-width="1" />
<circle cx="367.84" cy="119.97" r="1.57" fill="#78c4c4" stroke="none" stroke-width="1" />
<circle cx="366.64" cy="119.07" r="2.25" fill="#e0421a" stroke="none" stroke-width="1" />
<circle cx="365.85" cy="118.29" r="1.01" fill="#f2763a" stroke="none" stroke-width="1" />
<circle cx="372.52" cy="120.79" r="1.57" fill="#78c4c4" stroke="none" stroke-width="1" />
<circle cx="371.32" cy="119.89" r="2.25" fill="#e0421a" stroke="none" stroke-width="1" />
<circle cx="370.54" cy="119.10" r="1.01" fill="#f2763a" stroke="none" stroke-width="1" />
<circle cx="377.04" cy="121.04" r="1.57" fill="#78c4c4" stroke="none" stroke-width="1" />
<circle cx="375.84" cy="120.14" r="2.25" fill="#e0421a" stroke="none" stroke-width="1" />
<circle cx="375.06" cy="119.35" r="1.01" fill="#f2763a" stroke="none" stroke-width="1" />
<circle cx="380.44" cy="120.90" r="2.25" fill="#e0421a" stroke="none" stroke-width="1" />
<circle cx="379.65" cy="120.11" r="1.01" fill="#f2763a" stroke="none" stroke-width="1" />
<circle cx="385.08" cy="121.25" r="2.25" fill="#e0421a" stroke="none" stroke-width="1" />
<circle cx="384.30" cy="120.47" r="1.01" fill="#f2763a" stroke="none" stroke-width="1" />
<circle cx="389.11" cy="121.10" r="2.25" fill="#e0421a" stroke="none" stroke-width="1" />
<circle cx="388.32" cy="120.31" r="1.01" fill="#f2763a" stroke="none" stroke-width="1" />
<circle cx="394.16" cy="122.00" r="2.25" fill="#e0421a" stroke="none" stroke-width="1" />
<circle cx="393.37" cy="121.21" r="1.01" fill="#f2763a" stroke="none" stroke-width="1" />
<circle cx="398.57" cy="122.44" r="2.25" fill="#e0421a" stroke="none" stroke-width="1" />
<circle cx="397.78" cy="121.65" r="1.01" fill="#f2763a" stroke="none" stroke-width="1" />
<circle cx="404.81" cy="123.10" r="1.57" fill="#78c4c4" stroke="none" stroke-width="1" />
<circle cx="403.61" cy="122.20" r="2.25" fill="#e0421a" stroke="none" stroke-width="1" />
<circle cx="402.83" cy="121.42" r="1.01" fill="#f2763a" stroke="none" stroke-width="1" />
<circle cx="408.09" cy="122.80" r="2.25" fill="#e0421a" stroke="none" stroke-width="1" />
<circle cx="407.30" cy="122.01" r="1.01" fill="#f2763a" stroke="none" stroke-width="1" />
<circle cx="413.51" cy="124.01" r="1.57" fill="#78c4c4" stroke="none" stroke-width="1" />
<circle cx="412.31" cy="123.11" r="2.25" fill="#e0421a" stroke="none" stroke-width="1" />
<circle cx="411.52" cy="122.32" r="1.01" fill="#f2763a" stroke="none" stroke-width="1" />
<circle cx="418.40" cy="124.47" r="1.57" fill="#78c4c4" stroke="none" stroke-width="1" />
<circle cx="417.20" cy="123.57" r="2.25" fill="#e0421a" stroke="none" stroke-width="1" />
<circle cx="416.42" cy="122.78" r="1.01" fill="#f2763a" stroke="none" stroke-width="1" />
<circle cx="421.71" cy="123.83" r="2.25" fill="#e0421a" stroke="none" stroke-width="1" />
<circle cx="420.93" cy="123.04" r="1.01" fill="#f2763a" stroke="none" stroke-width="1" />
<circle cx="427.82" cy="125.48" r="1.57" fill="#78c4c4" stroke="none" stroke-width="1" />
<circle cx="426.62" cy="124.58" r="2.25" fill="#e0421a" stroke="none" stroke-width="1" />
<circle cx="425.83" cy="123.79" r="1.01" fill="#f2763a" stroke="none" stroke-width="1" />
<circle cx="431.40" cy="125.20" r="2.25" fill="#e0421a" stroke="none" stroke-width="1" />
<circle cx="430.61" cy="124.41" r="1.01" fill="#f2763a" stroke="none" stroke-width="1" />
<circle cx="436.86" cy="126.82" r="1.57" fill="#78c4c4" stroke="none" stroke-width="1" />
<circle cx="435.66" cy="125.92" r="2.25" fill="#e0421a" stroke="none" stroke-width="1" />
<circle cx="434.87" cy="125.13" r="1.01" fill="#f2763a" stroke="none" stroke-width="1" />
<circle cx="440.06" cy="125.83" r="2.25" fill="#e0421a" stroke="none" stroke-width="1" />
<circle cx="439.27" cy="125.04" r="1.01" fill="#f2763a" stroke="none" stroke-width="1" />
<circle cx="318.03" cy="119.74" r="2.25" fill="#e0421a" stroke="none" stroke-width="1" />
<circle cx="317.25" cy="118.96" r="1.01" fill="#f2763a" stroke="none" stroke-width="1" />
<circle cx="323.42" cy="119.83" r="2.25" fill="#e0421a" stroke="none" stroke-width="1" />
<circle cx="322.63" cy="119.04" r="1.01" fill="#f2763a" stroke="none" stroke-width="1" />
<circle cx="327.90" cy="121.09" r="2.25" fill="#e0421a" stroke="none" stroke-width="1" />
<circle cx="327.11" cy="120.30" r="1.01" fill="#f2763a" stroke="none" stroke-width="1" />
<circle cx="332.38" cy="121.37" r="2.25" fill="#e0421a" stroke="none" stroke-width="1" />
<circle cx="331.59" cy="120.58" r="1.01" fill="#f2763a" stroke="none" stroke-width="1" />
<circle cx="336.44" cy="121.46" r="2.25" fill="#e0421a" stroke="none" stroke-width="1" />
<circle cx="335.65" cy="120.67" r="1.01" fill="#f2763a" stroke="none" stroke-width="1" />
<circle cx="341.07" cy="122.32" r="2.25" fill="#e0421a" stroke="none" stroke-width="1" />
<circle cx="340.28" cy="121.53" r="1.01" fill="#f2763a" stroke="none" stroke-width="1" />
<circle cx="345.79" cy="122.37" r="2.25" fill="#e0421a" stroke="none" stroke-width="1" />
<circle cx="345.01" cy="121.58" r="1.01" fill="#f2763a" stroke="none" stroke-width="1" />
<circle cx="351.08" cy="123.21" r="2.25" fill="#e0421a" stroke="none" stroke-width="1" />
<circle cx="350.30" cy="122.43" r="1.01" fill="#f2763a" stroke="none" stroke-width="1" />
<circle cx="355.64" cy="123.26" r="2.25" fill="#e0421a" stroke="none" stroke-width="1" />
<circle cx="354.86" cy="122.47" r="1.01" fill="#f2763a" stroke="none" stroke-width="1" />
<circle cx="359.74" cy="123.98" r="2.25" fill="#e0421a" stroke="none" stroke-width="1" />
<circle cx="358.95" cy="123.19" r="1.01" fill="#f2763a" stroke="none" stroke-width="1" />
<circle cx="364.31" cy="123.99" r="2.25" fill="#e0421a" stroke="none" stroke-width="1" />
<circle cx="363.52" cy="123.20" r="1.01" fill="#f2763a" stroke="none" stroke-width="1" />
<circle cx="368.82" cy="124.29" r="2.25" fill="#e0421a" stroke="none" stroke-width="1" />
<circle cx="368.03" cy="123.50" r="1.01" fill="#f2763a" stroke="none" stroke-width="1" />
<circle cx="373.38" cy="125.57" r="2.25" fill="#e0421a" stroke="none" stroke-width="1" />
<circle cx="372.59" cy="124.78" r="1.01" fill="#f2763a" stroke="none" stroke-width="1" />
<circle cx="378.54" cy="125.65" r="2.25" fill="#e0421a" stroke="none" stroke-width="1" />
<circle cx="377.76" cy="124.87" r="1.01" fill="#f2763a" stroke="none" stroke-width="1" />
<circle cx="382.67" cy="125.81" r="2.25" fill="#e0421a" stroke="none" stroke-width="1" />
<circle cx="381.88" cy="125.02" r="1.01" fill="#f2763a" stroke="none" stroke-width="1" />
<circle cx="386.84" cy="126.19" r="2.25" fill="#e0421a" stroke="none" stroke-width="1" />
<circle cx="386.05" cy="125.40" r="1.01" fill="#f2763a" stroke="none" stroke-width="1" />
<circle cx="392.12" cy="127.23" r="2.25" fill="#e0421a" stroke="none" stroke-width="1" />
<circle cx="391.33" cy="126.44" r="1.01" fill="#f2763a" stroke="none" stroke-width="1" />
<circle cx="396.28" cy="127.59" r="2.25" fill="#e0421a" stroke="none" stroke-width="1" />
<circle cx="395.49" cy="126.80" r="1.01" fill="#f2763a" stroke="none" stroke-width="1" />
<circle cx="401.27" cy="127.94" r="2.25" fill="#e0421a" stroke="none" stroke-width="1" />
<circle cx="400.49" cy="127.16" r="1.01" fill="#f2763a" stroke="none" stroke-width="1" />
<circle cx="405.75" cy="128.45" r="2.25" fill="#e0421a" stroke="none" stroke-width="1" />
<circle cx="404.96" cy="127.67" r="1.01" fill="#f2763a" stroke="none" stroke-width="1" />
<circle cx="410.03" cy="128.84" r="2.25" fill="#e0421a" stroke="none" stroke-width="1" />
<circle cx="409.24" cy="128.06" r="1.01" fill="#f2763a" stroke="none" stroke-width="1" />
<circle cx="414.53" cy="129.07" r="2.25" fill="#e0421a" stroke="none" stroke-width="1" />
<circle cx="413.74" cy="128.28" r="1.01" fill="#f2763a" stroke="none" stroke-width="1" />
<circle cx="419.60" cy="129.72" r="2.25" fill="#e0421a" stroke="none" stroke-width="1" />
<circle cx="418.82" cy="128.93" r="1.01" fill="#f2763a" stroke="none" stroke-width="1" />
<circle cx="423.71" cy="130.42" r="2.25" fill="#e0421a" stroke="none" stroke-width="1" />
<circle cx="422.92" cy="129.63" r="1.01" fill="#f2763a" stroke="none" stroke-width="1" />
<circle cx="428.65" cy="130.50" r="2.25" fill="#e0421a" stroke="none" stroke-width="1" />
<circle cx="427.86" cy="129.71" r="1.01" fill="#f2763a" stroke="none" stroke-width="1" />
<circle cx="432.59" cy="130.91" r="2.25" fill="#e0421a" stroke="none" stroke-width="1" />
<circle cx="431.81" cy="130.12" r="1.01" fill="#f2763a" stroke="none" stroke-width="1" />
<circle cx="437.42" cy="131.48" r="2.25" fill="#e0421a" stroke="none" stroke-width="1" />
<circle cx="436.63" cy="130.69" r="1.01" fill="#f2763a" stroke="none" stroke-width="1" />
<circle cx="442.21" cy="132.07" r="2.25" fill="#e0421a" stroke="none" stroke-width="1" />
<circle cx="441.43" cy="131.28" r="1.01" fill="#f2763a" stroke="none" stroke-width="1" />
<circle cx="322.92" cy="125.07" r="1.57" fill="#78c4c4" stroke="none" stroke-width="1" />
<circle cx="321.72" cy="124.17" r="2.25" fill="#e0421a" stroke="none" stroke-width="1" />
<circle cx="320.93" cy="123.39" r="1.01" fill="#f2763a" stroke="none" stroke-width="1" />
<circle cx="327.72" cy="125.52" r="1.57" fill="#78c4c4" stroke="none" stroke-width="1" />
<circle cx="326.52" cy="124.62" r="2.25" fill="#e0421a" stroke="none" stroke-width="1" />
<circle cx="325.74" cy="123.83" r="1.01" fill="#f2763a" stroke="none" stroke-width="1" />
<circle cx="332.03" cy="126.82" r="1.57" fill="#78c4c4" stroke="none" stroke-width="1" />
<circle cx="330.83" cy="125.92" r="2.25" fill="#e0421a" stroke="none" stroke-width="1" />
<circle cx="330.04" cy="125.14" r="1.01" fill="#f2763a" stroke="none" stroke-width="1" />
<circle cx="335.83" cy="127.25" r="1.57" fill="#78c4c4" stroke="none" stroke-width="1" />
<circle cx="334.63" cy="126.35" r="2.25" fill="#e0421a" stroke="none" stroke-width="1" />
<circle cx="333.84" cy="125.56" r="1.01" fill="#f2763a" stroke="none" stroke-width="1" />
<circle cx="339.51" cy="126.62" r="2.25" fill="#e0421a" stroke="none" stroke-width="1" />
<circle cx="338.72" cy="125.83" r="1.01" fill="#f2763a" stroke="none" stroke-width="1" />
<circle cx="344.89" cy="127.47" r="1.57" fill="#78c4c4" stroke="none" stroke-width="1" />
<circle cx="343.69" cy="126.57" r="2.25" fill="#e0421a" stroke="none" stroke-width="1" />
<circle cx="342.90" cy="125.78" r="1.01" fill="#f2763a" stroke="none" stroke-width="1" />
<circle cx="348.39" cy="127.96" r="2.25" fill="#e0421a" stroke="none" stroke-width="1" />
<circle cx="347.60" cy="127.17" r="1.01" fill="#f2763a" stroke="none" stroke-width="1" />
<circle cx="354.14" cy="129.14" r="1.57" fill="#78c4c4" stroke="none" stroke-width="1" />
<circle cx="352.94" cy="128.24" r="2.25" fill="#e0421a" stroke="none" stroke-width="1" />
<circle cx="352.15" cy="127.45" r="1.01" fill="#f2763a" stroke="none" stroke-width="1" />
<circle cx="359.41" cy="129.81" r="1.57" fill="#78c4c4" stroke="none" stroke-width="1" />
<circle cx="358.21" cy="128.91" r="2.25" fill="#e0421a" stroke="none" stroke-width="1" />
<circle cx="357.42" cy="128.12" r="1.01" fill="#f2763a" stroke="none" stroke-width="1" />
<circle cx="363.35" cy="129.70" r="1.57" fill="#78c4c4" stroke="none" stroke-width="1" />
<circle cx="362.15" cy="128.80" r="2.25" fill="#e0421a" stroke="none" stroke-width="1" />
<circle cx="361.36" cy="128.02" r="1.01" fill="#f2763a" stroke="none" stroke-width="1" />
<circle cx="366.86" cy="129.71" r="2.25" fill="#e0421a" stroke="none" stroke-width="1" />
<circle cx="366.08" cy="128.92" r="1.01" fill="#f2763a" stroke="none" stroke-width="1" />
<circle cx="370.98" cy="130.16" r="2.25" fill="#e0421a" stroke="none" stroke-width="1" />
<circle cx="370.19" cy="129.37" r="1.01" fill="#f2763a" stroke="none" stroke-width="1" />
<circle cx="376.20" cy="130.75" r="2.25" fill="#e0421a" stroke="none" stroke-width="1" />
<circle cx="375.41" cy="129.97" r="1.01" fill="#f2763a" stroke="none" stroke-width="1" />
<circle cx="379.97" cy="131.32" r="2.25" fill="#e0421a" stroke="none" stroke-width="1" />
<circle cx="379.19" cy="130.53" r="1.01" fill="#f2763a" stroke="none" stroke-width="1" />
<circle cx="385.76" cy="132.10" r="1.57" fill="#78c4c4" stroke="none" stroke-width="1" />
<circle cx="384.56" cy="131.20" r="2.25" fill="#e0421a" stroke="none" stroke-width="1" />
<circle cx="383.77" cy="130.41" r="1.01" fill="#f2763a" stroke="none" stroke-width="1" />
<circle cx="390.81" cy="133.16" r="1.57" fill="#78c4c4" stroke="none" stroke-width="1" />
<circle cx="389.61" cy="132.26" r="2.25" fill="#e0421a" stroke="none" stroke-width="1" />
<circle cx="388.83" cy="131.47" r="1.01" fill="#f2763a" stroke="none" stroke-width="1" />
<circle cx="393.87" cy="132.74" r="2.25" fill="#e0421a" stroke="none" stroke-width="1" />
<circle cx="393.09" cy="131.96" r="1.01" fill="#f2763a" stroke="none" stroke-width="1" />
<circle cx="399.81" cy="133.51" r="1.57" fill="#78c4c4" stroke="none" stroke-width="1" />
<circle cx="398.61" cy="132.61" r="2.25" fill="#e0421a" stroke="none" stroke-width="1" />
<circle cx="397.82" cy="131.83" r="1.01" fill="#f2763a" stroke="none" stroke-width="1" />
<circle cx="404.12" cy="133.86" r="1.57" fill="#78c4c4" stroke="none" stroke-width="1" />
<circle cx="402.92" cy="132.96" r="2.25" fill="#e0421a" stroke="none" stroke-width="1" />
<circle cx="402.13" cy="132.17" r="1.01" fill="#f2763a" stroke="none" stroke-width="1" />
<circle cx="408.41" cy="134.31" r="1.57" fill="#78c4c4" stroke="none" stroke-width="1" />
<circle cx="407.21" cy="133.41" r="2.25" fill="#e0421a" stroke="none" stroke-width="1" />
<circle cx="406.42" cy="132.63" r="1.01" fill="#f2763a" stroke="none" stroke-width="1" />
<circle cx="413.55" cy="135.64" r="1.57" fill="#78c4c4" stroke="none" stroke-width="1" />
<circle cx="412.35" cy="134.74" r="2.25" fill="#e0421a" stroke="none" stroke-width="1" />
<circle cx="411.57" cy="133.95" r="1.01" fill="#f2763a" stroke="none" stroke-width="1" />
<circle cx="416.36" cy="134.28" r="2.25" fill="#e0421a" stroke="none" stroke-width="1" />
<circle cx="415.57" cy="133.49" r="1.01" fill="#f2763a" stroke="none" stroke-width="1" />
<circle cx="421.72" cy="135.24" r="2.25" fill="#e0421a" stroke="none" stroke-width="1" />
<circle cx="420.93" cy="134.45" r="1.01" fill="#f2763a" stroke="none" stroke-width="1" />
<circle cx="426.87" cy="136.33" r="1.57" fill="#78c4c4" stroke="none" stroke-width="1" />
<circle cx="425.67" cy="135.43" r="2.25" fill="#e0421a" stroke="none" stroke-width="1" />
<circle cx="424.88" cy="134.64" r="1.01" fill="#f2763a" stroke="none" stroke-width="1" />
<circle cx="430.39" cy="136.50" r="2.25" fill="#e0421a" stroke="none" stroke-width="1" />
<circle cx="429.60" cy="135.71" r="1.01" fill="#f2763a" stroke="none" stroke-width="1" />
<circle cx="435.98" cy="137.47" r="1.57" fill="#78c4c4" stroke="none" stroke-width="1" />
<circle cx="434.78" cy="136.57" r="2.25" fill="#e0421a" stroke="none" stroke-width="1" />
<circle cx="433.99" cy="135.79" r="1.01" fill="#f2763a" stroke="none" stroke-width="1" />
<circle cx="438.91" cy="137.55" r="2.25" fill="#e0421a" stroke="none" stroke-width="1" />
<circle cx="438.13" cy="136.76" r="1.01" fill="#f2763a" stroke="none" stroke-width="1" />
<circle cx="320.12" cy="129.24" r="2.25" fill="#e0421a" stroke="none" stroke-width="1" />
<circle cx="319.34" cy="128.45" r="1.01" fill="#f2763a" stroke="none" stroke-width="1" />
<circle cx="324.78" cy="129.96" r="2.25" fill="#e0421a" stroke="none" stroke-width="1" />
<circle cx="323.99" cy="129.17" r="1.01" fill="#f2763a" stroke="none" stroke-width="1" />
<circle cx="329.20" cy="130.46" r="2.25" fill="#e0421a" stroke="none" stroke-width="1" />
<circle cx="328.42" cy="129.67" r="1.01" fill="#f2763a" stroke="none" stroke-width="1" />
<circle cx="332.97" cy="130.52" r="2.25" fill="#e0421a" stroke="none" stroke-width="1" />
<circle cx="332.19" cy="129.73" r="1.01" fill="#f2763a" stroke="none" stroke-width="1" />
<circle cx="338.37" cy="131.22" r="2.25" fill="#e0421a" stroke="none" stroke-width="1" />
<circle cx="337.58" cy="130.44" r="1.01" fill="#f2763a" stroke="none" stroke-width="1" />
<circle cx="342.81" cy="131.21" r="2.25" fill="#e0421a" stroke="none" stroke-width="1" />
<circle cx="342.02" cy="130.42" r="1.01" fill="#f2763a" stroke="none" stroke-width="1" />
<circle cx="346.86" cy="131.86" r="2.25" fill="#e0421a" stroke="none" stroke-width="1" />
<circle cx="346.07" cy="131.07" r="1.01" fill="#f2763a" stroke="none" stroke-width="1" />
<circle cx="351.41" cy="132.70" r="2.25" fill="#e0421a" stroke="none" stroke-width="1" />
<circle cx="350.63" cy="131.92" r="1.01" fill="#f2763a" stroke="none" stroke-width="1" />
<circle cx="355.36" cy="132.86" r="2.25" fill="#e0421a" stroke="none" stroke-width="1" />
<circle cx="354.58" cy="132.08" r="1.01" fill="#f2763a" stroke="none" stroke-width="1" />
<circle cx="360.11" cy="134.08" r="2.25" fill="#e0421a" stroke="none" stroke-width="1" />
<circle cx="359.33" cy="133.30" r="1.01" fill="#f2763a" stroke="none" stroke-width="1" />
<circle cx="365.08" cy="133.84" r="2.25" fill="#e0421a" stroke="none" stroke-width="1" />
<circle cx="364.29" cy="133.06" r="1.01" fill="#f2763a" stroke="none" stroke-width="1" />
<circle cx="369.59" cy="134.34" r="2.25" fill="#e0421a" stroke="none" stroke-width="1" />
<circle cx="368.81" cy="133.55" r="1.01" fill="#f2763a" stroke="none" stroke-width="1" />
<circle cx="373.90" cy="134.85" r="2.25" fill="#e0421a" stroke="none" stroke-width="1" />
<circle cx="373.11" cy="134.06" r="1.01" fill="#f2763a" stroke="none" stroke-width="1" />
<circle cx="377.76" cy="136.11" r="2.25" fill="#e0421a" stroke="none" stroke-width="1" />
<circle cx="376.97" cy="135.32" r="1.01" fill="#f2763a" stroke="none" stroke-width="1" />
<circle cx="382.45" cy="135.97" r="2.25" fill="#e0421a" stroke="none" stroke-width="1" />
<circle cx="381.66" cy="135.19" r="1.01" fill="#f2763a" stroke="none" stroke-width="1" />
<circle cx="387.70" cy="137.15" r="2.25" fill="#e0421a" stroke="none" stroke-width="1" />
<circle cx="386.92" cy="136.36" r="1.01" fill="#f2763a" stroke="none" stroke-width="1" />
<circle cx="391.49" cy="137.76" r="2.25" fill="#e0421a" stroke="none" stroke-width="1" />
<circle cx="390.71" cy="136.97" r="1.01" fill="#f2763a" stroke="none" stroke-width="1" />
<circle cx="396.22" cy="137.99" r="2.25" fill="#e0421a" stroke="none" stroke-width="1" />
<circle cx="395.44" cy="137.21" r="1.01" fill="#f2763a" stroke="none" stroke-width="1" />
<circle cx="400.37" cy="138.77" r="2.25" fill="#e0421a" stroke="none" stroke-width="1" />
<circle cx="399.58" cy="137.99" r="1.01" fill="#f2763a" stroke="none" stroke-width="1" />
<circle cx="405.34" cy="139.32" r="2.25" fill="#e0421a" stroke="none" stroke-width="1" />
<circle cx="404.55" cy="138.53" r="1.01" fill="#f2763a" stroke="none" stroke-width="1" />
<circle cx="410.02" cy="139.17" r="2.25" fill="#e0421a" stroke="none" stroke-width="1" />
<circle cx="409.24" cy="138.38" r="1.01" fill="#f2763a" stroke="none" stroke-width="1" />
<circle cx="413.97" cy="139.55" r="2.25" fill="#e0421a" stroke="none" stroke-width="1" />
<circle cx="413.18" cy="138.77" r="1.01" fill="#f2763a" stroke="none" stroke-width="1" />
<circle cx="418.24" cy="139.97" r="2.25" fill="#e0421a" stroke="none" stroke-width="1" />
<circle cx="417.45" cy="139.19" r="1.01" fill="#f2763a" stroke="none" stroke-width="1" />
<circle cx="422.88" cy="141.03" r="2.25" fill="#e0421a" stroke="none" stroke-width="1" />
<circle cx="422.09" cy="140.24" r="1.01" fill="#f2763a" stroke="none" stroke-width="1" />
<circle cx="427.06" cy="141.62" r="2.25" fill="#e0421a" stroke="none" stroke-width="1" />
<circle cx="426.27" cy="140.83" r="1.01" fill="#f2763a" stroke="none" stroke-width="1" />
<circle cx="431.87" cy="141.77" r="2.25" fill="#e0421a" stroke="none" stroke-width="1" />
<circle cx="431.09" cy="140.99" r="1.01" fill="#f2763a" stroke="none" stroke-width="1" />
<circle cx="436.84" cy="142.46" r="2.25" fill="#e0421a" stroke="none" stroke-width="1" />
<circle cx="436.05" cy="141.67" r="1.01" fill="#f2763a" stroke="none" stroke-width="1" />
<circle cx="440.82" cy="142.98" r="2.25" fill="#e0421a" stroke="none" stroke-width="1" />
<circle cx="440.03" cy="142.19" r="1.01" fill="#f2763a" stroke="none" stroke-width="1" />
<circle cx="304.00" cy="113.50" r="2.10" fill="#e0421a" stroke="none" stroke-width="1" />
<circle cx="303.30" cy="112.80" r="0.90" fill="#f2763a" stroke="none" stroke-width="1" />
<circle cx="307.00" cy="118.00" r="2.10" fill="#e0421a" stroke="none" stroke-width="1" />
<circle cx="306.30" cy="117.30" r="0.90" fill="#f2763a" stroke="none" stroke-width="1" />
<circle cx="309.50" cy="122.00" r="2.10" fill="#e0421a" stroke="none" stroke-width="1" />
<circle cx="308.80" cy="121.30" r="0.90" fill="#f2763a" stroke="none" stroke-width="1" />
<circle cx="312.00" cy="126.50" r="2.10" fill="#e0421a" stroke="none" stroke-width="1" />
<circle cx="311.30" cy="125.80" r="0.90" fill="#f2763a" stroke="none" stroke-width="1" />
<circle cx="308.00" cy="108.00" r="2.10" fill="#e0421a" stroke="none" stroke-width="1" />
<circle cx="307.30" cy="107.30" r="0.90" fill="#f2763a" stroke="none" stroke-width="1" />
<circle cx="311.00" cy="104.00" r="2.10" fill="#e0421a" stroke="none" stroke-width="1" />
<circle cx="310.30" cy="103.30" r="0.90" fill="#f2763a" stroke="none" stroke-width="1" />
<circle cx="313.00" cy="116.00" r="2.10" fill="#e0421a" stroke="none" stroke-width="1" />
<circle cx="312.30" cy="115.30" r="0.90" fill="#f2763a" stroke="none" stroke-width="1" />
<circle cx="306.50" cy="123.50" r="1.40" fill="#6cc4c8" stroke="none" stroke-width="1" />
<circle cx="310.00" cy="128.50" r="1.40" fill="#6cc4c8" stroke="none" stroke-width="1" />
<circle cx="315.00" cy="124.00" r="1.40" fill="#6cc4c8" stroke="none" stroke-width="1" />
<polygon points="298.20,83.00 340.00,72.90 456.00,77.20 434.00,89.80" fill="url(#tioTop)" stroke="none" stroke-width="1" stroke-linejoin="round" />
<polygon points="298.20,83.00 434.00,89.80 434.00,93.20 298.20,85.60" fill="#9ccc3c" stroke="none" stroke-width="1" stroke-linejoin="round" />
<polygon points="434.00,89.80 456.00,77.20 456.00,79.40 434.00,93.20" fill="#3d7d1a" stroke="none" stroke-width="1" stroke-linejoin="round" />
<polygon points="299.80,63.90 340.00,57.20 456.00,60.50 437.00,68.40" fill="url(#ztoTop)" stroke="none" stroke-width="1" stroke-linejoin="round" />
<polygon points="299.80,63.90 437.00,68.40 437.00,73.00 299.80,68.40" fill="#f2e232" stroke="none" stroke-width="1" stroke-linejoin="round" />
<path d="M299.8,66 C299.2,64 299.2,68 299.8,68.4" fill="none" stroke="#f8ec60" stroke-width="1" stroke-linejoin="round" stroke-linecap="round" />
<polygon points="437.00,68.40 456.00,60.50 456.00,63.60 437.00,73.00" fill="#8a8410" stroke="none" stroke-width="1" stroke-linejoin="round" />
<line x1="427.30" y1="67.60" x2="479.40" y2="67.60" stroke="#f6b414" stroke-width="2.0" stroke-dasharray="1.6 1.1"/>
<polyline points="478.20,64.60 482.40,67.60 478.20,70.60" fill="none" stroke="#f6b414" stroke-width="1.6" stroke-linejoin="round" stroke-linecap="round" />
<line x1="434.60" y1="82.60" x2="479.40" y2="82.60" stroke="#3aa040" stroke-width="2.0" stroke-dasharray="1.6 1.1"/>
<polyline points="478.20,79.60 482.40,82.60 478.20,85.60" fill="none" stroke="#3aa040" stroke-width="1.6" stroke-linejoin="round" stroke-linecap="round" />
<line x1="434.60" y1="113.00" x2="479.40" y2="113.00" stroke="#f07028" stroke-width="2.0" stroke-dasharray="1.6 1.1"/>
<polyline points="478.20,110.00 482.40,113.00 478.20,116.00" fill="none" stroke="#f07028" stroke-width="1.6" stroke-linejoin="round" stroke-linecap="round" />
<line x1="437.00" y1="150.00" x2="479.40" y2="150.00" stroke="#2a5cb0" stroke-width="2.0" stroke-dasharray="1.6 1.1"/>
<polyline points="478.20,147.00 482.40,150.00 478.20,153.00" fill="none" stroke="#2a5cb0" stroke-width="1.6" stroke-linejoin="round" stroke-linecap="round" />
<line x1="436.00" y1="186.00" x2="479.40" y2="186.00" stroke="#a8a8a8" stroke-width="2.0" stroke-dasharray="1.6 1.1"/>
<polyline points="478.20,183.00 482.40,186.00 478.20,189.00" fill="none" stroke="#a8a8a8" stroke-width="1.6" stroke-linejoin="round" stroke-linecap="round" />
<text x="486.30" y="42.30" font-family="Liberation Sans" font-size="12.6" font-weight="normal" fill="#505050" text-anchor="start" style="">Al</text>
<text x="486.30" y="54.50" font-family="Liberation Sans" font-size="12.6" font-weight="normal" fill="#505050" text-anchor="start" style="">Al</text>
<text x="486.30" y="72.00" font-family="Liberation Sans" font-size="12.6" font-weight="normal" fill="#d4a024" text-anchor="start" style="" textLength="24.4" lengthAdjust="spacingAndGlyphs">ZTO</text>
<text x="486.3" y="86.5" font-family="Liberation Sans" font-size="12.6" fill="#3a8c3a">TiO<tspan font-size="8" dy="2.5">2</tspan></text>
<text x="486.30" y="118.00" font-family="Liberation Sans" font-size="12.6" font-weight="normal" fill="#d86a32" text-anchor="start" style="" textLength="47.3" lengthAdjust="spacingAndGlyphs">MXenes</text>
<text x="486.3" y="155" font-family="Liberation Sans" font-size="12.6" fill="#2a5ca0">SiO<tspan font-size="8" dy="2.5">2</tspan></text>
<text x="486.30" y="191.00" font-family="Liberation Sans" font-size="12.6" font-weight="normal" fill="#505050" text-anchor="start" style="">Al</text>
<polyline points="288.40,203.20 295.30,203.20 295.30,191.50 302.50,191.50 302.50,203.20 309.10,203.20" fill="none" stroke="#111" stroke-width="0.9" stroke-linejoin="round" stroke-linecap="round" />
<text x="310.30" y="200.30" font-family="Liberation Sans" font-size="12.2" font-weight="normal" fill="#111" text-anchor="start" style="">V</text>
<text x="319.00" y="204.00" font-family="Liberation Sans" font-size="9.5" font-weight="normal" fill="#111" text-anchor="start" style="" textLength="13.7" lengthAdjust="spacingAndGlyphs">pre</text>
<polyline points="334.10,202.20 349.80,202.20 349.80,196.50" fill="none" stroke="#111" stroke-width="2.4" stroke-linejoin="round" stroke-linecap="round" />
<polygon points="349.80,191.80 352.60,196.60 347.00,196.60" fill="#111" stroke="none" stroke-width="1" stroke-linejoin="round" />
<rect x="32.40" y="402.00" width="14.70" height="112.80" fill="none" stroke="#2a5ca8" stroke-width="1.6" />
<text x="42.80" y="498.60" transform="rotate(-90 42.80 498.60)" font-family="Liberation Sans" font-size="10.6" font-weight="bold" fill="#2a5ca8">SiO<tspan font-size="6.6" dy="2.3">2</tspan></text>
<line x1="13.20" y1="443.50" x2="32.40" y2="443.50" stroke="#111" stroke-width="1.5" />
<line x1="32.00" y1="440.70" x2="32.00" y2="446.10" stroke="#111" stroke-width="1.1" />
<text x="26.20" y="478.50" transform="rotate(-90 26.20 478.50)" font-family="Liberation Sans" font-size="10.5" font-weight="bold" fill="#111">V<tspan font-size="6.5" dy="2.3">pre</tspan><tspan dy="-2.3">=0</tspan></text>
<line x1="47.10" y1="446.80" x2="60.20" y2="446.80" stroke="#e8702a" stroke-width="1.5" />
<text x="57.60" y="495.20" transform="rotate(-90 57.60 495.20)" font-family="Liberation Sans" font-size="10.2" font-weight="bold" fill="#e8702a" textLength="38.4" lengthAdjust="spacingAndGlyphs">MXenes</text>
<rect x="60.20" y="414.30" width="12.90" height="71.10" fill="none" stroke="#36a336" stroke-width="1.6" />
<text x="69.80" y="460.50" transform="rotate(-90 69.80 460.50)" font-family="Liberation Sans" font-size="11" font-weight="bold" fill="#36a336">TiO<tspan font-size="6.8" dy="2.4">2</tspan></text>
<rect x="74.60" y="428.20" width="15.00" height="51.00" fill="none" stroke="#f0b428" stroke-width="1.6" />
<text x="85.70" y="469.20" transform="rotate(-90 85.70 469.20)" font-family="Liberation Sans" font-size="10.6" font-weight="bold" fill="#e8ac1c" textLength="20" lengthAdjust="spacingAndGlyphs">ZTO</text>
<circle cx="52.00" cy="440.60" r="3.40" fill="#fff" stroke="#555" stroke-width="1.0" />
<line x1="52.00" y1="438.73" x2="52.00" y2="442.47" stroke="#444" stroke-width="0.9" />
<path d="M68.5,412.6 C70,402 82,398.6 93,398.8 C101,399 106,401.2 109.5,403.6 L106,406.3 C101,403.4 94,402.4 87,403.4 C80,404.6 76.5,408.5 76.5,412.6 Z" fill="url(#ga1)" stroke="none" stroke-width="1" stroke-linejoin="round" stroke-linecap="round" />
<polygon points="103.20,403.80 114.60,404.60 111.20,412.40" fill="#5e9c5c" stroke="none" stroke-width="1" stroke-linejoin="round" />
<polyline points="80.70,410.00 87.30,410.00 87.30,421.50 94.90,421.50 94.90,410.00 100.90,410.00" fill="none" stroke="#222" stroke-width="1.1" stroke-linejoin="round" stroke-linecap="round" />
<polygon points="115.70,397.00 130.20,418.20 130.20,512.30 115.70,490.50" fill="none" stroke="#2a5ca8" stroke-width="1.6" stroke-linejoin="round" />
<line x1="98.80" y1="431.80" x2="115.90" y2="431.80" stroke="#111" stroke-width="1.5" />
<line x1="115.50" y1="429.00" x2="115.50" y2="434.40" stroke="#111" stroke-width="1.1" />
<text x="110.50" y="465.40" transform="rotate(-90 110.50 465.40)" font-family="Liberation Sans" font-size="10.5" font-weight="bold" fill="#111">V<tspan font-size="6.5" dy="2.3">pre</tspan><tspan dy="-2.3">&lt;0</tspan></text>
<text x="126.40" y="485.70" transform="rotate(-90 126.40 485.70)" font-family="Liberation Sans" font-size="10.6" font-weight="bold" fill="#2a5ca8">SiO<tspan font-size="6.6" dy="2.3">2</tspan></text>
<line x1="130.20" y1="455.00" x2="142.70" y2="455.00" stroke="#e8702a" stroke-width="1.5" />
<text x="142.00" y="504.10" transform="rotate(-90 142.00 504.10)" font-family="Liberation Sans" font-size="10.2" font-weight="bold" fill="#e8702a" textLength="39.4" lengthAdjust="spacingAndGlyphs">MXenes</text>
<polygon points="143.40,426.40 156.40,443.40 156.40,504.10 143.40,485.00" fill="none" stroke="#36a336" stroke-width="1.6" stroke-linejoin="round" />
<text x="155.00" y="478.60" transform="rotate(-90 155.00 478.60)" font-family="Liberation Sans" font-size="11" font-weight="bold" fill="#36a336">TiO<tspan font-size="6.8" dy="2.4">2</tspan></text>
<polygon points="158.40,459.10 172.80,471.40 172.80,508.20 158.40,496.00" fill="none" stroke="#f0b428" stroke-width="1.6" stroke-linejoin="round" />
<text x="168.90" y="491.00" transform="rotate(-90 168.90 491.00)" font-family="Liberation Sans" font-size="10.6" font-weight="bold" fill="#e8ac1c" textLength="20" lengthAdjust="spacingAndGlyphs">ZTO</text>
<line x1="137.60" y1="449.30" x2="155.50" y2="453.80" stroke="#555" stroke-width="1.0" />
<circle cx="136.60" cy="448.20" r="3.40" fill="#fff" stroke="#555" stroke-width="1.0" />
<line x1="136.60" y1="446.33" x2="136.60" y2="450.07" stroke="#444" stroke-width="0.9" />
<circle cx="163.20" cy="455.00" r="4.60" fill="none" stroke="#666" stroke-width="0.9" stroke-dasharray="1.3 1.1"/>
<path d="M148,427.5 C150,418 160,414.6 170,414.8 C178,415 184,417.2 188,419.8 L184.5,422.3 C180,419.6 174,418.6 167,419.4 C160,420.4 156,423.5 155.5,427.5 Z" fill="url(#ga2)" stroke="none" stroke-width="1" stroke-linejoin="round" stroke-linecap="round" />
<polygon points="181.80,420.20 193.30,420.60 190.50,428.60" fill="#5e9c5c" stroke="none" stroke-width="1" stroke-linejoin="round" />
<rect x="200.50" y="402.90" width="14.20" height="112.40" fill="none" stroke="#2a5ca8" stroke-width="1.6" />
<text x="210.90" y="500.00" transform="rotate(-90 210.90 500.00)" font-family="Liberation Sans" font-size="10.6" font-weight="bold" fill="#2a5ca8">SiO<tspan font-size="6.6" dy="2.3">2</tspan></text>
<line x1="182.70" y1="445.30" x2="200.50" y2="445.30" stroke="#111" stroke-width="1.5" />
<line x1="200.10" y1="442.50" x2="200.10" y2="447.90" stroke="#111" stroke-width="1.1" />
<text x="194.40" y="479.70" transform="rotate(-90 194.40 479.70)" font-family="Liberation Sans" font-size="10.5" font-weight="bold" fill="#111">V<tspan font-size="6.5" dy="2.3">pre</tspan><tspan dy="-2.3">=0</tspan></text>
<line x1="214.70" y1="446.00" x2="228.50" y2="446.00" stroke="#e8702a" stroke-width="1.5" />
<text x="226.40" y="495.00" transform="rotate(-90 226.40 495.00)" font-family="Liberation Sans" font-size="10.2" font-weight="bold" fill="#e8702a" textLength="38.4" lengthAdjust="spacingAndGlyphs">MXenes</text>
<rect x="228.50" y="416.00" width="12.40" height="70.30" fill="none" stroke="#36a336" stroke-width="1.6" />
<text x="238.40" y="462.00" transform="rotate(-90 238.40 462.00)" font-family="Liberation Sans" font-size="11" font-weight="bold" fill="#36a336">TiO<tspan font-size="6.8" dy="2.4">2</tspan></text>
<rect x="242.40" y="428.00" width="14.90" height="52.40" fill="none" stroke="#f0b428" stroke-width="1.6" />
<text x="253.50" y="470.50" transform="rotate(-90 253.50 470.50)" font-family="Liberation Sans" font-size="10.6" font-weight="bold" fill="#e8ac1c" textLength="20" lengthAdjust="spacingAndGlyphs">ZTO</text>
<text x="236.4" y="499.3" font-family="Liberation Sans" font-size="16.5" font-weight="bold" font-style="italic" fill="#c27a12">G</text>
<path d="M240.6,508.6 C245,506.2 249,502.5 250.1,497.6 L253.3,498.2 C252.2,504.2 247.6,509.4 243.4,511.4 Z" fill="#c27a12" stroke="none" stroke-width="1" stroke-linejoin="round" stroke-linecap="round" />
<polygon points="248.20,499.80 254.40,488.20 258.90,496.20" fill="#c27a12" stroke="none" stroke-width="1" stroke-linejoin="round" />
<rect x="312.00" y="400.50" width="14.00" height="116.50" fill="none" stroke="#2a5ca8" stroke-width="1.6" />
<text x="322.20" y="500.00" transform="rotate(-90 322.20 500.00)" font-family="Liberation Sans" font-size="10.6" font-weight="bold" fill="#2a5ca8">SiO<tspan font-size="6.6" dy="2.3">2</tspan></text>
<line x1="294.20" y1="443.20" x2="312.00" y2="443.20" stroke="#111" stroke-width="1.5" />
<line x1="311.60" y1="440.40" x2="311.60" y2="445.80" stroke="#111" stroke-width="1.1" />
<text x="305.80" y="480.60" transform="rotate(-90 305.80 480.60)" font-family="Liberation Sans" font-size="10.5" font-weight="bold" fill="#111">V<tspan font-size="6.5" dy="2.3">pre</tspan><tspan dy="-2.3">=0</tspan></text>
<line x1="326.00" y1="447.00" x2="340.00" y2="447.00" stroke="#e8702a" stroke-width="1.5" />
<text x="338.80" y="496.70" transform="rotate(-90 338.80 496.70)" font-family="Liberation Sans" font-size="10.2" font-weight="bold" fill="#e8702a" textLength="38.4" lengthAdjust="spacingAndGlyphs">MXenes</text>
<rect x="340.00" y="413.20" width="13.20" height="73.80" fill="none" stroke="#36a336" stroke-width="1.6" />
<text x="350.40" y="463.00" transform="rotate(-90 350.40 463.00)" font-family="Liberation Sans" font-size="11" font-weight="bold" fill="#36a336">TiO<tspan font-size="6.8" dy="2.4">2</tspan></text>
<rect x="354.80" y="427.20" width="14.50" height="52.70" fill="none" stroke="#f0b428" stroke-width="1.6" />
<text x="366.00" y="469.20" transform="rotate(-90 366.00 469.20)" font-family="Liberation Sans" font-size="10.6" font-weight="bold" fill="#e8ac1c" textLength="20" lengthAdjust="spacingAndGlyphs">ZTO</text>
<circle cx="359.00" cy="422.00" r="3.30" fill="#fff" stroke="#555" stroke-width="1.0" />
<line x1="359.00" y1="420.19" x2="359.00" y2="423.81" stroke="#444" stroke-width="0.9" />
<path d="M349,411 C351,401.5 361,398 371,398.2 C379,398.4 385,400.6 389,403.2 L385.5,405.7 C381,403 375,402 368,402.8 C361,403.8 357,407 356.5,411 Z" fill="url(#ga3)" stroke="none" stroke-width="1" stroke-linejoin="round" stroke-linecap="round" />
<polygon points="382.80,403.60 394.30,404.00 391.50,412.00" fill="#5e9c5c" stroke="none" stroke-width="1" stroke-linejoin="round" />
<polyline points="361.60,414.50 368.00,414.50 368.00,401.90 373.80,401.90 373.80,414.50 380.70,414.50" fill="none" stroke="#222" stroke-width="1.1" stroke-linejoin="round" stroke-linecap="round" />
<polygon points="396.00,423.20 410.00,400.50 410.00,491.40 396.00,517.70" fill="none" stroke="#2a5ca8" stroke-width="1.6" stroke-linejoin="round" />
<line x1="380.00" y1="460.50" x2="396.20" y2="460.50" stroke="#111" stroke-width="1.5" />
<line x1="395.80" y1="457.70" x2="395.80" y2="463.10" stroke="#111" stroke-width="1.1" />
<text x="390.50" y="496.80" transform="rotate(-90 390.50 496.80)" font-family="Liberation Sans" font-size="10.5" font-weight="bold" fill="#111">V<tspan font-size="6.5" dy="2.3">pre</tspan><tspan dy="-2.3">&gt;0</tspan></text>
<text x="406.20" y="498.60" transform="rotate(-90 406.20 498.60)" font-family="Liberation Sans" font-size="10.6" font-weight="bold" fill="#2a5ca8">SiO<tspan font-size="6.6" dy="2.3">2</tspan></text>
<line x1="410.00" y1="440.50" x2="423.30" y2="440.50" stroke="#e8702a" stroke-width="1.5" />
<text x="422.80" y="491.40" transform="rotate(-90 422.80 491.40)" font-family="Liberation Sans" font-size="10.2" font-weight="bold" fill="#e8702a" textLength="40" lengthAdjust="spacingAndGlyphs">MXenes</text>
<circle cx="417.30" cy="433.20" r="4.60" fill="none" stroke="#666" stroke-width="0.9" stroke-dasharray="1.3 1.1"/>
<polygon points="423.60,424.00 437.30,404.00 437.30,458.60 423.60,480.50" fill="none" stroke="#36a336" stroke-width="1.6" stroke-linejoin="round" />
<text x="435.20" y="453.60" transform="rotate(-90 435.20 453.60)" font-family="Liberation Sans" font-size="11" font-weight="bold" fill="#36a336">TiO<tspan font-size="6.8" dy="2.4">2</tspan></text>
<polygon points="438.60,424.50 453.60,412.30 453.60,444.50 438.60,458.20" fill="none" stroke="#f0b428" stroke-width="1.6" stroke-linejoin="round" />
<text x="448.00" y="447.80" transform="rotate(-90 448.00 447.80)" font-family="Liberation Sans" font-size="10.6" font-weight="bold" fill="#e8ac1c" textLength="20" lengthAdjust="spacingAndGlyphs">ZTO</text>
<line x1="441.50" y1="414.30" x2="421.00" y2="431.50" stroke="#555" stroke-width="1.0" />
<circle cx="443.30" cy="412.30" r="3.40" fill="#fff" stroke="#555" stroke-width="1.0" />
<line x1="443.30" y1="410.43" x2="443.30" y2="414.17" stroke="#444" stroke-width="0.9" />
<path d="M424.5,485.5 C426,494.5 433,498.6 443,498.4 C452,498.2 459,495 463.5,492 L467.5,494 L469.5,485.5 L459.5,487 L461.5,488.6 C457,491.6 451,493.6 444,493.8 C436,494 431.5,490.5 431,485.5 Z" fill="url(#ga4)" stroke="none" stroke-width="1" stroke-linejoin="round" stroke-linecap="round" />
<polygon points="467.50,494.00 469.50,485.50 459.50,487.00" fill="#5e9c5c" stroke="none" stroke-width="1" stroke-linejoin="round" />
<rect x="480.40" y="400.80" width="14.10" height="116.90" fill="none" stroke="#2a5ca8" stroke-width="1.6" />
<text x="490.60" y="499.50" transform="rotate(-90 490.60 499.50)" font-family="Liberation Sans" font-size="10.6" font-weight="bold" fill="#2a5ca8">SiO<tspan font-size="6.6" dy="2.3">2</tspan></text>
<line x1="461.30" y1="443.70" x2="480.40" y2="443.70" stroke="#111" stroke-width="1.5" />
<line x1="480.00" y1="440.90" x2="480.00" y2="446.30" stroke="#111" stroke-width="1.1" />
<text x="477.00" y="480.50" transform="rotate(-90 477.00 480.50)" font-family="Liberation Sans" font-size="10.5" font-weight="bold" fill="#111">V<tspan font-size="6.5" dy="2.3">pre</tspan><tspan dy="-2.3">=0</tspan></text>
<line x1="494.50" y1="445.50" x2="508.50" y2="445.50" stroke="#e8702a" stroke-width="1.5" />
<text x="506.50" y="496.00" transform="rotate(-90 506.50 496.00)" font-family="Liberation Sans" font-size="10.2" font-weight="bold" fill="#e8702a" textLength="38.4" lengthAdjust="spacingAndGlyphs">MXenes</text>
<rect x="508.50" y="414.00" width="12.40" height="72.30" fill="none" stroke="#36a336" stroke-width="1.6" />
<text x="518.70" y="461.00" transform="rotate(-90 518.70 461.00)" font-family="Liberation Sans" font-size="11" font-weight="bold" fill="#36a336">TiO<tspan font-size="6.8" dy="2.4">2</tspan></text>
<rect x="522.70" y="427.40" width="14.60" height="52.60" fill="none" stroke="#f0b428" stroke-width="1.6" />
<text x="534.00" y="469.50" transform="rotate(-90 534.00 469.50)" font-family="Liberation Sans" font-size="10.6" font-weight="bold" fill="#e8ac1c" textLength="20" lengthAdjust="spacingAndGlyphs">ZTO</text>
<text x="524.2" y="497.6" font-family="Liberation Sans" font-size="16.5" font-weight="bold" font-style="italic" fill="#c27a12">G</text>
<path d="M514.6,490.4 C519,492.2 523,495.4 525.6,499.4 L522.6,501.6 C520.4,497.8 517.4,495.2 513.8,494 Z" fill="#c27a12" stroke="none" stroke-width="1" stroke-linejoin="round" stroke-linecap="round" />
<polygon points="521.40,500.40 533.20,507.00 528.30,516.00" fill="#c27a12" stroke="none" stroke-width="1" stroke-linejoin="round" />
<text x="45.00" y="563.60" font-family="Liberation Sans" font-size="14.6" font-weight="bold" fill="#8a3aaa" text-anchor="start" style="" textLength="60.4" lengthAdjust="spacingAndGlyphs">UV Light</text>
<polygon points="117.20,546.60 151.80,548.20 148.20,558.40 125.40,561.20" fill="url(#chevG)" stroke="none" stroke-width="1" stroke-linejoin="round" />
<polygon points="111.40,551.20 124.20,569.60 144.20,566.60 141.70,576.40 117.30,580.20 105.60,561.20" fill="url(#chevG)" stroke="none" stroke-width="1" stroke-linejoin="round" />
<polygon points="124.20,569.60 144.20,566.60 141.70,576.40 117.30,580.20" fill="url(#chevG2)" stroke="none" stroke-width="1" stroke-linejoin="round" opacity="0.85"/>
<polygon points="104.40,569.70 117.20,588.10 137.20,585.10 134.70,594.90 110.30,598.70 98.60,579.70" fill="url(#chevG)" stroke="none" stroke-width="1" stroke-linejoin="round" />
<polygon points="117.20,588.10 137.20,585.10 134.70,594.90 110.30,598.70" fill="url(#chevG2)" stroke="none" stroke-width="1" stroke-linejoin="round" opacity="0.85"/>
<polygon points="96.40,588.20 109.20,606.60 129.20,603.60 126.70,613.40 102.30,617.20 90.60,598.20" fill="url(#chevG)" stroke="none" stroke-width="1" stroke-linejoin="round" />
<polygon points="109.20,606.60 129.20,603.60 126.70,613.40 102.30,617.20" fill="url(#chevG2)" stroke="none" stroke-width="1" stroke-linejoin="round" opacity="0.85"/>
<circle cx="118.40" cy="555.50" r="2.60" fill="#f4a470" stroke="none" stroke-width="1" />
<circle cx="118.40" cy="555.50" r="1.30" fill="#fcd4bc" stroke="none" stroke-width="1" />
<circle cx="132.30" cy="547.90" r="2.60" fill="#f4a470" stroke="none" stroke-width="1" />
<circle cx="132.30" cy="547.90" r="1.30" fill="#fcd4bc" stroke="none" stroke-width="1" />
<circle cx="136.40" cy="564.20" r="2.60" fill="#f4a470" stroke="none" stroke-width="1" />
<circle cx="136.40" cy="564.20" r="1.30" fill="#fcd4bc" stroke="none" stroke-width="1" />
<circle cx="121.60" cy="568.60" r="2.60" fill="#f4a470" stroke="none" stroke-width="1" />
<circle cx="121.60" cy="568.60" r="1.30" fill="#fcd4bc" stroke="none" stroke-width="1" />
<circle cx="127.40" cy="579.00" r="2.60" fill="#f4a470" stroke="none" stroke-width="1" />
<circle cx="127.40" cy="579.00" r="1.30" fill="#fcd4bc" stroke="none" stroke-width="1" />
<circle cx="111.30" cy="583.90" r="2.60" fill="#f4a470" stroke="none" stroke-width="1" />
<circle cx="111.30" cy="583.90" r="1.30" fill="#fcd4bc" stroke="none" stroke-width="1" />
<circle cx="127.40" cy="592.70" r="2.60" fill="#f4a470" stroke="none" stroke-width="1" />
<circle cx="127.40" cy="592.70" r="1.30" fill="#fcd4bc" stroke="none" stroke-width="1" />
<circle cx="101.20" cy="603.00" r="2.60" fill="#f4a470" stroke="none" stroke-width="1" />
<circle cx="101.20" cy="603.00" r="1.30" fill="#fcd4bc" stroke="none" stroke-width="1" />
<circle cx="115.90" cy="606.30" r="2.60" fill="#f4a470" stroke="none" stroke-width="1" />
<circle cx="115.90" cy="606.30" r="1.30" fill="#fcd4bc" stroke="none" stroke-width="1" />
<text x="112.60" y="599.40" font-family="Liberation Sans" font-size="8.5" font-weight="bold" fill="#1a1a1a" text-anchor="start" style="font-style:italic;" textLength="10" lengthAdjust="spacingAndGlyphs">hν</text>
<polygon points="82.40,579.30 91.40,578.50 88.30,588.50 91.00,588.30 86.50,610.00 86.20,596.00 83.20,596.30" fill="#f5c21a" stroke="none" stroke-width="1" stroke-linejoin="round" />
<polygon points="153.60,590.70 159.50,595.00 155.30,600.30 157.30,601.30 140.50,614.80 149.30,604.50 147.00,603.30" fill="#f5c21a" stroke="none" stroke-width="1" stroke-linejoin="round" />
<polygon points="34.00,618.60 174.60,618.60 179.20,623.80 28.70,623.80" fill="url(#hzto)" stroke="none" stroke-width="1" stroke-linejoin="round" />
<polygon points="28.70,623.80 179.20,623.80 179.20,629.20 28.70,629.20" fill="#ede33a" stroke="none" stroke-width="1" stroke-linejoin="round" />
<line x1="29.20" y1="625.60" x2="178.70" y2="625.60" stroke="#f8f07a" stroke-width="1.0" />
<polygon points="29.00,629.20 179.00,629.20 178.00,631.60 30.00,631.60" fill="#80bc2c" stroke="none" stroke-width="1" stroke-linejoin="round" />
<polygon points="33.00,660.00 174.00,660.00 187.30,681.50 19.50,681.50" fill="url(#hsio)" stroke="none" stroke-width="1" stroke-linejoin="round" />
<polygon points="19.50,681.50 187.30,681.50 187.30,687.80 19.50,687.80" fill="#36a6de" stroke="none" stroke-width="1" stroke-linejoin="round" />
<line x1="30.98" y1="665.03" x2="34.07" y2="661.31" stroke="#3cc6cc" stroke-width="0.9" />
<line x1="30.98" y1="665.03" x2="32.12" y2="657.34" stroke="#3cc6cc" stroke-width="0.9" />
<line x1="36.58" y1="664.98" x2="39.75" y2="661.13" stroke="#3cc6cc" stroke-width="0.9" />
<line x1="36.58" y1="664.98" x2="34.07" y2="661.31" stroke="#3cc6cc" stroke-width="0.9" />
<line x1="36.58" y1="664.98" x2="37.65" y2="657.72" stroke="#3cc6cc" stroke-width="0.9" />
<line x1="41.74" y1="665.04" x2="44.73" y2="661.17" stroke="#3cc6cc" stroke-width="0.9" />
<line x1="41.74" y1="665.04" x2="39.75" y2="661.13" stroke="#3cc6cc" stroke-width="0.9" />
<line x1="41.74" y1="665.04" x2="42.65" y2="657.73" stroke="#3cc6cc" stroke-width="0.9" />
<line x1="46.95" y1="665.01" x2="50.49" y2="661.38" stroke="#3cc6cc" stroke-width="0.9" />
<line x1="46.95" y1="665.01" x2="44.73" y2="661.17" stroke="#3cc6cc" stroke-width="0.9" />
<line x1="46.95" y1="665.01" x2="48.27" y2="657.55" stroke="#3cc6cc" stroke-width="0.9" />
<line x1="52.55" y1="665.15" x2="55.39" y2="661.12" stroke="#3cc6cc" stroke-width="0.9" />
<line x1="52.55" y1="665.15" x2="50.49" y2="661.38" stroke="#3cc6cc" stroke-width="0.9" />
<line x1="52.55" y1="665.15" x2="53.32" y2="657.30" stroke="#3cc6cc" stroke-width="0.9" />
<line x1="57.65" y1="664.90" x2="60.71" y2="661.03" stroke="#3cc6cc" stroke-width="0.9" />
<line x1="57.65" y1="664.90" x2="55.39" y2="661.12" stroke="#3cc6cc" stroke-width="0.9" />
<line x1="57.65" y1="664.90" x2="58.41" y2="657.73" stroke="#3cc6cc" stroke-width="0.9" />
<line x1="63.02" y1="665.15" x2="66.38" y2="661.09" stroke="#3cc6cc" stroke-width="0.9" />
<line x1="63.02" y1="665.15" x2="60.71" y2="661.03" stroke="#3cc6cc" stroke-width="0.9" />
<line x1="63.02" y1="665.15" x2="63.79" y2="657.60" stroke="#3cc6cc" stroke-width="0.9" />
<line x1="68.69" y1="664.77" x2="71.59" y2="661.22" stroke="#3cc6cc" stroke-width="0.9" />
<line x1="68.69" y1="664.77" x2="66.38" y2="661.09" stroke="#3cc6cc" stroke-width="0.9" />
<line x1="68.69" y1="664.77" x2="69.07" y2="657.66" stroke="#3cc6cc" stroke-width="0.9" />
<line x1="74.20" y1="665.23" x2="76.72" y2="661.37" stroke="#3cc6cc" stroke-width="0.9" />
<line x1="74.20" y1="665.23" x2="71.59" y2="661.22" stroke="#3cc6cc" stroke-width="0.9" />
<line x1="74.20" y1="665.23" x2="74.52" y2="657.40" stroke="#3cc6cc" stroke-width="0.9" />
<line x1="79.41" y1="665.06" x2="82.02" y2="661.32" stroke="#3cc6cc" stroke-width="0.9" />
<line x1="79.41" y1="665.06" x2="76.72" y2="661.37" stroke="#3cc6cc" stroke-width="0.9" />
<line x1="79.41" y1="665.06" x2="79.59" y2="657.61" stroke="#3cc6cc" stroke-width="0.9" />
<line x1="84.53" y1="664.76" x2="87.34" y2="661.21" stroke="#3cc6cc" stroke-width="0.9" />
<line x1="84.53" y1="664.76" x2="82.02" y2="661.32" stroke="#3cc6cc" stroke-width="0.9" />
<line x1="84.53" y1="664.76" x2="84.81" y2="657.36" stroke="#3cc6cc" stroke-width="0.9" />
<line x1="90.09" y1="664.78" x2="92.71" y2="661.13" stroke="#3cc6cc" stroke-width="0.9" />
<line x1="90.09" y1="664.78" x2="87.34" y2="661.21" stroke="#3cc6cc" stroke-width="0.9" />
<line x1="90.09" y1="664.78" x2="90.34" y2="657.68" stroke="#3cc6cc" stroke-width="0.9" />
<line x1="95.29" y1="664.87" x2="98.41" y2="661.40" stroke="#3cc6cc" stroke-width="0.9" />
<line x1="95.29" y1="664.87" x2="92.71" y2="661.13" stroke="#3cc6cc" stroke-width="0.9" />
<line x1="95.29" y1="664.87" x2="95.64" y2="657.39" stroke="#3cc6cc" stroke-width="0.9" />
<line x1="100.58" y1="664.98" x2="103.40" y2="661.44" stroke="#3cc6cc" stroke-width="0.9" />
<line x1="100.58" y1="664.98" x2="98.41" y2="661.40" stroke="#3cc6cc" stroke-width="0.9" />
<line x1="100.58" y1="664.98" x2="101.07" y2="657.35" stroke="#3cc6cc" stroke-width="0.9" />
<line x1="106.16" y1="665.17" x2="108.68" y2="661.20" stroke="#3cc6cc" stroke-width="0.9" />
<line x1="106.16" y1="665.17" x2="103.40" y2="661.44" stroke="#3cc6cc" stroke-width="0.9" />
<line x1="106.16" y1="665.17" x2="105.90" y2="657.38" stroke="#3cc6cc" stroke-width="0.9" />
<line x1="111.57" y1="665.07" x2="114.33" y2="661.32" stroke="#3cc6cc" stroke-width="0.9" />
<line x1="111.57" y1="665.07" x2="108.68" y2="661.20" stroke="#3cc6cc" stroke-width="0.9" />
<line x1="111.57" y1="665.07" x2="111.39" y2="657.28" stroke="#3cc6cc" stroke-width="0.9" />
<line x1="116.93" y1="665.08" x2="119.27" y2="661.49" stroke="#3cc6cc" stroke-width="0.9" />
<line x1="116.93" y1="665.08" x2="114.33" y2="661.32" stroke="#3cc6cc" stroke-width="0.9" />
<line x1="116.93" y1="665.08" x2="116.53" y2="657.43" stroke="#3cc6cc" stroke-width="0.9" />
<line x1="122.27" y1="664.89" x2="124.65" y2="661.13" stroke="#3cc6cc" stroke-width="0.9" />
<line x1="122.27" y1="664.89" x2="119.27" y2="661.49" stroke="#3cc6cc" stroke-width="0.9" />
<line x1="122.27" y1="664.89" x2="122.01" y2="657.32" stroke="#3cc6cc" stroke-width="0.9" />
<line x1="127.92" y1="665.25" x2="130.26" y2="661.16" stroke="#3cc6cc" stroke-width="0.9" />
<line x1="127.92" y1="665.25" x2="124.65" y2="661.13" stroke="#3cc6cc" stroke-width="0.9" />
<line x1="127.92" y1="665.25" x2="127.18" y2="657.70" stroke="#3cc6cc" stroke-width="0.9" />
<line x1="133.21" y1="665.10" x2="135.34" y2="661.04" stroke="#3cc6cc" stroke-width="0.9" />
<line x1="133.21" y1="665.10" x2="130.26" y2="661.16" stroke="#3cc6cc" stroke-width="0.9" />
<line x1="133.21" y1="665.10" x2="132.77" y2="657.58" stroke="#3cc6cc" stroke-width="0.9" />
<line x1="138.32" y1="664.86" x2="140.56" y2="661.29" stroke="#3cc6cc" stroke-width="0.9" />
<line x1="138.32" y1="664.86" x2="135.34" y2="661.04" stroke="#3cc6cc" stroke-width="0.9" />
<line x1="138.32" y1="664.86" x2="137.90" y2="657.54" stroke="#3cc6cc" stroke-width="0.9" />
<line x1="143.67" y1="664.79" x2="145.96" y2="661.30" stroke="#3cc6cc" stroke-width="0.9" />
<line x1="143.67" y1="664.79" x2="140.56" y2="661.29" stroke="#3cc6cc" stroke-width="0.9" />
<line x1="143.67" y1="664.79" x2="142.90" y2="657.27" stroke="#3cc6cc" stroke-width="0.9" />
<line x1="149.28" y1="664.95" x2="151.35" y2="661.23" stroke="#3cc6cc" stroke-width="0.9" />
<line x1="149.28" y1="664.95" x2="145.96" y2="661.30" stroke="#3cc6cc" stroke-width="0.9" />
<line x1="149.28" y1="664.95" x2="148.12" y2="657.71" stroke="#3cc6cc" stroke-width="0.9" />
<line x1="154.69" y1="664.94" x2="156.97" y2="661.24" stroke="#3cc6cc" stroke-width="0.9" />
<line x1="154.69" y1="664.94" x2="151.35" y2="661.23" stroke="#3cc6cc" stroke-width="0.9" />
<line x1="154.69" y1="664.94" x2="153.74" y2="657.73" stroke="#3cc6cc" stroke-width="0.9" />
<line x1="160.12" y1="665.17" x2="162.10" y2="661.43" stroke="#3cc6cc" stroke-width="0.9" />
<line x1="160.12" y1="665.17" x2="156.97" y2="661.24" stroke="#3cc6cc" stroke-width="0.9" />
<line x1="160.12" y1="665.17" x2="158.68" y2="657.57" stroke="#3cc6cc" stroke-width="0.9" />
<line x1="165.01" y1="664.85" x2="167.23" y2="661.08" stroke="#3cc6cc" stroke-width="0.9" />
<line x1="165.01" y1="664.85" x2="162.10" y2="661.43" stroke="#3cc6cc" stroke-width="0.9" />
<line x1="165.01" y1="664.85" x2="164.19" y2="657.62" stroke="#3cc6cc" stroke-width="0.9" />
<line x1="170.83" y1="664.98" x2="172.92" y2="661.41" stroke="#3cc6cc" stroke-width="0.9" />
<line x1="170.83" y1="664.98" x2="167.23" y2="661.08" stroke="#3cc6cc" stroke-width="0.9" />
<line x1="170.83" y1="664.98" x2="169.38" y2="657.75" stroke="#3cc6cc" stroke-width="0.9" />
<line x1="176.24" y1="664.95" x2="172.92" y2="661.41" stroke="#3cc6cc" stroke-width="0.9" />
<line x1="176.24" y1="664.95" x2="174.54" y2="657.52" stroke="#3cc6cc" stroke-width="0.9" />
<line x1="34.07" y1="661.31" x2="32.12" y2="657.34" stroke="#3cc6cc" stroke-width="0.9" />
<line x1="34.07" y1="661.31" x2="37.65" y2="657.72" stroke="#3cc6cc" stroke-width="0.9" />
<line x1="34.07" y1="661.31" x2="35.61" y2="653.95" stroke="#3cc6cc" stroke-width="0.9" />
<line x1="39.75" y1="661.13" x2="37.65" y2="657.72" stroke="#3cc6cc" stroke-width="0.9" />
<line x1="39.75" y1="661.13" x2="42.65" y2="657.73" stroke="#3cc6cc" stroke-width="0.9" />
<line x1="39.75" y1="661.13" x2="40.84" y2="653.85" stroke="#3cc6cc" stroke-width="0.9" />
<line x1="44.73" y1="661.17" x2="42.65" y2="657.73" stroke="#3cc6cc" stroke-width="0.9" />
<line x1="44.73" y1="661.17" x2="48.27" y2="657.55" stroke="#3cc6cc" stroke-width="0.9" />
<line x1="44.73" y1="661.17" x2="46.10" y2="653.96" stroke="#3cc6cc" stroke-width="0.9" />
<line x1="50.49" y1="661.38" x2="48.27" y2="657.55" stroke="#3cc6cc" stroke-width="0.9" />
<line x1="50.49" y1="661.38" x2="53.32" y2="657.30" stroke="#3cc6cc" stroke-width="0.9" />
<line x1="50.49" y1="661.38" x2="51.11" y2="653.84" stroke="#3cc6cc" stroke-width="0.9" />
<line x1="55.39" y1="661.12" x2="53.32" y2="657.30" stroke="#3cc6cc" stroke-width="0.9" />
<line x1="55.39" y1="661.12" x2="58.41" y2="657.73" stroke="#3cc6cc" stroke-width="0.9" />
<line x1="55.39" y1="661.12" x2="56.62" y2="653.94" stroke="#3cc6cc" stroke-width="0.9" />
<line x1="60.71" y1="661.03" x2="58.41" y2="657.73" stroke="#3cc6cc" stroke-width="0.9" />
<line x1="60.71" y1="661.03" x2="63.79" y2="657.60" stroke="#3cc6cc" stroke-width="0.9" />
<line x1="60.71" y1="661.03" x2="61.61" y2="653.90" stroke="#3cc6cc" stroke-width="0.9" />
<line x1="66.38" y1="661.09" x2="63.79" y2="657.60" stroke="#3cc6cc" stroke-width="0.9" />
<line x1="66.38" y1="661.09" x2="69.07" y2="657.66" stroke="#3cc6cc" stroke-width="0.9" />
<line x1="66.38" y1="661.09" x2="67.06" y2="653.79" stroke="#3cc6cc" stroke-width="0.9" />
<line x1="71.59" y1="661.22" x2="69.07" y2="657.66" stroke="#3cc6cc" stroke-width="0.9" />
<line x1="71.59" y1="661.22" x2="74.52" y2="657.40" stroke="#3cc6cc" stroke-width="0.9" />
<line x1="71.59" y1="661.22" x2="72.17" y2="653.69" stroke="#3cc6cc" stroke-width="0.9" />
<line x1="76.72" y1="661.37" x2="74.52" y2="657.40" stroke="#3cc6cc" stroke-width="0.9" />
<line x1="76.72" y1="661.37" x2="79.59" y2="657.61" stroke="#3cc6cc" stroke-width="0.9" />
<line x1="76.72" y1="661.37" x2="77.38" y2="653.80" stroke="#3cc6cc" stroke-width="0.9" />
<line x1="82.02" y1="661.32" x2="79.59" y2="657.61" stroke="#3cc6cc" stroke-width="0.9" />
<line x1="82.02" y1="661.32" x2="84.81" y2="657.36" stroke="#3cc6cc" stroke-width="0.9" />
<line x1="82.02" y1="661.32" x2="82.36" y2="653.82" stroke="#3cc6cc" stroke-width="0.9" />
<line x1="87.34" y1="661.21" x2="84.81" y2="657.36" stroke="#3cc6cc" stroke-width="0.9" />
<line x1="87.34" y1="661.21" x2="90.34" y2="657.68" stroke="#3cc6cc" stroke-width="0.9" />
<line x1="87.34" y1="661.21" x2="88.05" y2="653.94" stroke="#3cc6cc" stroke-width="0.9" />
<line x1="92.71" y1="661.13" x2="90.34" y2="657.68" stroke="#3cc6cc" stroke-width="0.9" />
<line x1="92.71" y1="661.13" x2="95.64" y2="657.39" stroke="#3cc6cc" stroke-width="0.9" />
<line x1="92.71" y1="661.13" x2="93.15" y2="653.69" stroke="#3cc6cc" stroke-width="0.9" />
<line x1="98.41" y1="661.40" x2="95.64" y2="657.39" stroke="#3cc6cc" stroke-width="0.9" />
<line x1="98.41" y1="661.40" x2="101.07" y2="657.35" stroke="#3cc6cc" stroke-width="0.9" />
<line x1="98.41" y1="661.40" x2="98.39" y2="653.79" stroke="#3cc6cc" stroke-width="0.9" />
<line x1="103.40" y1="661.44" x2="101.07" y2="657.35" stroke="#3cc6cc" stroke-width="0.9" />
<line x1="103.40" y1="661.44" x2="105.90" y2="657.38" stroke="#3cc6cc" stroke-width="0.9" />
<line x1="103.40" y1="661.44" x2="103.47" y2="653.92" stroke="#3cc6cc" stroke-width="0.9" />
<line x1="108.68" y1="661.20" x2="105.90" y2="657.38" stroke="#3cc6cc" stroke-width="0.9" />
<line x1="108.68" y1="661.20" x2="111.39" y2="657.28" stroke="#3cc6cc" stroke-width="0.9" />
<line x1="108.68" y1="661.20" x2="108.52" y2="653.88" stroke="#3cc6cc" stroke-width="0.9" />
<line x1="114.33" y1="661.32" x2="111.39" y2="657.28" stroke="#3cc6cc" stroke-width="0.9" />
<line x1="114.33" y1="661.32" x2="116.53" y2="657.43" stroke="#3cc6cc" stroke-width="0.9" />
<line x1="114.33" y1="661.32" x2="113.73" y2="653.80" stroke="#3cc6cc" stroke-width="0.9" />
<line x1="119.27" y1="661.49" x2="116.53" y2="657.43" stroke="#3cc6cc" stroke-width="0.9" />
<line x1="119.27" y1="661.49" x2="122.01" y2="657.32" stroke="#3cc6cc" stroke-width="0.9" />
<line x1="119.27" y1="661.49" x2="119.18" y2="653.62" stroke="#3cc6cc" stroke-width="0.9" />
<line x1="124.65" y1="661.13" x2="122.01" y2="657.32" stroke="#3cc6cc" stroke-width="0.9" />
<line x1="124.65" y1="661.13" x2="127.18" y2="657.70" stroke="#3cc6cc" stroke-width="0.9" />
<line x1="124.65" y1="661.13" x2="124.53" y2="653.75" stroke="#3cc6cc" stroke-width="0.9" />
<line x1="130.26" y1="661.16" x2="127.18" y2="657.70" stroke="#3cc6cc" stroke-width="0.9" />
<line x1="130.26" y1="661.16" x2="132.77" y2="657.58" stroke="#3cc6cc" stroke-width="0.9" />
<line x1="130.26" y1="661.16" x2="129.71" y2="653.96" stroke="#3cc6cc" stroke-width="0.9" />
<line x1="135.34" y1="661.04" x2="132.77" y2="657.58" stroke="#3cc6cc" stroke-width="0.9" />
<line x1="135.34" y1="661.04" x2="137.90" y2="657.54" stroke="#3cc6cc" stroke-width="0.9" />
<line x1="135.34" y1="661.04" x2="134.77" y2="653.51" stroke="#3cc6cc" stroke-width="0.9" />
<line x1="140.56" y1="661.29" x2="137.90" y2="657.54" stroke="#3cc6cc" stroke-width="0.9" />
<line x1="140.56" y1="661.29" x2="142.90" y2="657.27" stroke="#3cc6cc" stroke-width="0.9" />
<line x1="140.56" y1="661.29" x2="140.02" y2="653.84" stroke="#3cc6cc" stroke-width="0.9" />
<line x1="145.96" y1="661.30" x2="142.90" y2="657.27" stroke="#3cc6cc" stroke-width="0.9" />
<line x1="145.96" y1="661.30" x2="148.12" y2="657.71" stroke="#3cc6cc" stroke-width="0.9" />
<line x1="145.96" y1="661.30" x2="145.20" y2="653.58" stroke="#3cc6cc" stroke-width="0.9" />
<line x1="151.35" y1="661.23" x2="148.12" y2="657.71" stroke="#3cc6cc" stroke-width="0.9" />
<line x1="151.35" y1="661.23" x2="153.74" y2="657.73" stroke="#3cc6cc" stroke-width="0.9" />
<line x1="151.35" y1="661.23" x2="150.79" y2="653.83" stroke="#3cc6cc" stroke-width="0.9" />
<line x1="156.97" y1="661.24" x2="153.74" y2="657.73" stroke="#3cc6cc" stroke-width="0.9" />
<line x1="156.97" y1="661.24" x2="158.68" y2="657.57" stroke="#3cc6cc" stroke-width="0.9" />
<line x1="156.97" y1="661.24" x2="155.79" y2="653.95" stroke="#3cc6cc" stroke-width="0.9" />
<line x1="162.10" y1="661.43" x2="158.68" y2="657.57" stroke="#3cc6cc" stroke-width="0.9" />
<line x1="162.10" y1="661.43" x2="164.19" y2="657.62" stroke="#3cc6cc" stroke-width="0.9" />
<line x1="162.10" y1="661.43" x2="160.96" y2="653.83" stroke="#3cc6cc" stroke-width="0.9" />
<line x1="167.23" y1="661.08" x2="164.19" y2="657.62" stroke="#3cc6cc" stroke-width="0.9" />
<line x1="167.23" y1="661.08" x2="169.38" y2="657.75" stroke="#3cc6cc" stroke-width="0.9" />
<line x1="167.23" y1="661.08" x2="166.13" y2="653.72" stroke="#3cc6cc" stroke-width="0.9" />
<line x1="172.92" y1="661.41" x2="169.38" y2="657.75" stroke="#3cc6cc" stroke-width="0.9" />
<line x1="172.92" y1="661.41" x2="174.54" y2="657.52" stroke="#3cc6cc" stroke-width="0.9" />
<line x1="172.92" y1="661.41" x2="171.66" y2="653.96" stroke="#3cc6cc" stroke-width="0.9" />
<line x1="32.12" y1="657.34" x2="35.61" y2="653.95" stroke="#3cc6cc" stroke-width="0.9" />
<line x1="32.12" y1="657.34" x2="33.69" y2="649.94" stroke="#3cc6cc" stroke-width="0.9" />
<line x1="37.65" y1="657.72" x2="40.84" y2="653.85" stroke="#3cc6cc" stroke-width="0.9" />
<line x1="37.65" y1="657.72" x2="35.61" y2="653.95" stroke="#3cc6cc" stroke-width="0.9" />
<line x1="37.65" y1="657.72" x2="38.73" y2="649.91" stroke="#3cc6cc" stroke-width="0.9" />
<line x1="42.65" y1="657.73" x2="46.10" y2="653.96" stroke="#3cc6cc" stroke-width="0.9" />
<line x1="42.65" y1="657.73" x2="40.84" y2="653.85" stroke="#3cc6cc" stroke-width="0.9" />
<line x1="42.65" y1="657.73" x2="43.69" y2="650.00" stroke="#3cc6cc" stroke-width="0.9" />
<line x1="48.27" y1="657.55" x2="51.11" y2="653.84" stroke="#3cc6cc" stroke-width="0.9" />
<line x1="48.27" y1="657.55" x2="46.10" y2="653.96" stroke="#3cc6cc" stroke-width="0.9" />
<line x1="48.27" y1="657.55" x2="49.22" y2="650.17" stroke="#3cc6cc" stroke-width="0.9" />
<line x1="53.32" y1="657.30" x2="56.62" y2="653.94" stroke="#3cc6cc" stroke-width="0.9" />
<line x1="53.32" y1="657.30" x2="51.11" y2="653.84" stroke="#3cc6cc" stroke-width="0.9" />
<line x1="53.32" y1="657.30" x2="54.35" y2="650.23" stroke="#3cc6cc" stroke-width="0.9" />
<line x1="58.41" y1="657.73" x2="61.61" y2="653.90" stroke="#3cc6cc" stroke-width="0.9" />
<line x1="58.41" y1="657.73" x2="56.62" y2="653.94" stroke="#3cc6cc" stroke-width="0.9" />
<line x1="58.41" y1="657.73" x2="59.31" y2="649.83" stroke="#3cc6cc" stroke-width="0.9" />
<line x1="63.79" y1="657.60" x2="67.06" y2="653.79" stroke="#3cc6cc" stroke-width="0.9" />
<line x1="63.79" y1="657.60" x2="61.61" y2="653.90" stroke="#3cc6cc" stroke-width="0.9" />
<line x1="63.79" y1="657.60" x2="64.59" y2="649.89" stroke="#3cc6cc" stroke-width="0.9" />
<line x1="69.07" y1="657.66" x2="72.17" y2="653.69" stroke="#3cc6cc" stroke-width="0.9" />
<line x1="69.07" y1="657.66" x2="67.06" y2="653.79" stroke="#3cc6cc" stroke-width="0.9" />
<line x1="69.07" y1="657.66" x2="69.65" y2="649.96" stroke="#3cc6cc" stroke-width="0.9" />
<line x1="74.52" y1="657.40" x2="77.38" y2="653.80" stroke="#3cc6cc" stroke-width="0.9" />
<line x1="74.52" y1="657.40" x2="72.17" y2="653.69" stroke="#3cc6cc" stroke-width="0.9" />
<line x1="74.52" y1="657.40" x2="75.04" y2="650.00" stroke="#3cc6cc" stroke-width="0.9" />
<line x1="79.59" y1="657.61" x2="82.36" y2="653.82" stroke="#3cc6cc" stroke-width="0.9" />
<line x1="79.59" y1="657.61" x2="77.38" y2="653.80" stroke="#3cc6cc" stroke-width="0.9" />
<line x1="79.59" y1="657.61" x2="80.07" y2="650.17" stroke="#3cc6cc" stroke-width="0.9" />
<line x1="84.81" y1="657.36" x2="88.05" y2="653.94" stroke="#3cc6cc" stroke-width="0.9" />
<line x1="84.81" y1="657.36" x2="82.36" y2="653.82" stroke="#3cc6cc" stroke-width="0.9" />
<line x1="84.81" y1="657.36" x2="85.59" y2="649.98" stroke="#3cc6cc" stroke-width="0.9" />
<line x1="90.34" y1="657.68" x2="93.15" y2="653.69" stroke="#3cc6cc" stroke-width="0.9" />
<line x1="90.34" y1="657.68" x2="88.05" y2="653.94" stroke="#3cc6cc" stroke-width="0.9" />
<line x1="90.34" y1="657.68" x2="90.32" y2="649.77" stroke="#3cc6cc" stroke-width="0.9" />
<line x1="95.64" y1="657.39" x2="98.39" y2="653.79" stroke="#3cc6cc" stroke-width="0.9" />
<line x1="95.64" y1="657.39" x2="93.15" y2="653.69" stroke="#3cc6cc" stroke-width="0.9" />
<line x1="95.64" y1="657.39" x2="95.91" y2="649.77" stroke="#3cc6cc" stroke-width="0.9" />
<line x1="101.07" y1="657.35" x2="103.47" y2="653.92" stroke="#3cc6cc" stroke-width="0.9" />
<line x1="101.07" y1="657.35" x2="98.39" y2="653.79" stroke="#3cc6cc" stroke-width="0.9" />
<line x1="101.07" y1="657.35" x2="101.01" y2="650.04" stroke="#3cc6cc" stroke-width="0.9" />
<line x1="105.90" y1="657.38" x2="108.52" y2="653.88" stroke="#3cc6cc" stroke-width="0.9" />
<line x1="105.90" y1="657.38" x2="103.47" y2="653.92" stroke="#3cc6cc" stroke-width="0.9" />
<line x1="105.90" y1="657.38" x2="106.00" y2="650.15" stroke="#3cc6cc" stroke-width="0.9" />
<line x1="111.39" y1="657.28" x2="113.73" y2="653.80" stroke="#3cc6cc" stroke-width="0.9" />
<line x1="111.39" y1="657.28" x2="108.52" y2="653.88" stroke="#3cc6cc" stroke-width="0.9" />
<line x1="111.39" y1="657.28" x2="111.04" y2="649.82" stroke="#3cc6cc" stroke-width="0.9" />
<line x1="116.53" y1="657.43" x2="119.18" y2="653.62" stroke="#3cc6cc" stroke-width="0.9" />
<line x1="116.53" y1="657.43" x2="113.73" y2="653.80" stroke="#3cc6cc" stroke-width="0.9" />
<line x1="116.53" y1="657.43" x2="116.44" y2="649.76" stroke="#3cc6cc" stroke-width="0.9" />
<line x1="122.01" y1="657.32" x2="124.53" y2="653.75" stroke="#3cc6cc" stroke-width="0.9" />
<line x1="122.01" y1="657.32" x2="119.18" y2="653.62" stroke="#3cc6cc" stroke-width="0.9" />
<line x1="122.01" y1="657.32" x2="121.81" y2="649.87" stroke="#3cc6cc" stroke-width="0.9" />
<line x1="127.18" y1="657.70" x2="129.71" y2="653.96" stroke="#3cc6cc" stroke-width="0.9" />
<line x1="127.18" y1="657.70" x2="124.53" y2="653.75" stroke="#3cc6cc" stroke-width="0.9" />
<line x1="127.18" y1="657.70" x2="126.65" y2="649.77" stroke="#3cc6cc" stroke-width="0.9" />
<line x1="132.77" y1="657.58" x2="134.77" y2="653.51" stroke="#3cc6cc" stroke-width="0.9" />
<line x1="132.77" y1="657.58" x2="129.71" y2="653.96" stroke="#3cc6cc" stroke-width="0.9" />
<line x1="132.77" y1="657.58" x2="132.08" y2="649.97" stroke="#3cc6cc" stroke-width="0.9" />
<line x1="137.90" y1="657.54" x2="140.02" y2="653.84" stroke="#3cc6cc" stroke-width="0.9" />
<line x1="137.90" y1="657.54" x2="134.77" y2="653.51" stroke="#3cc6cc" stroke-width="0.9" />
<line x1="137.90" y1="657.54" x2="137.27" y2="650.08" stroke="#3cc6cc" stroke-width="0.9" />
<line x1="142.90" y1="657.27" x2="145.20" y2="653.58" stroke="#3cc6cc" stroke-width="0.9" />
<line x1="142.90" y1="657.27" x2="140.02" y2="653.84" stroke="#3cc6cc" stroke-width="0.9" />
<line x1="142.90" y1="657.27" x2="142.54" y2="650.23" stroke="#3cc6cc" stroke-width="0.9" />
<line x1="148.12" y1="657.71" x2="150.79" y2="653.83" stroke="#3cc6cc" stroke-width="0.9" />
<line x1="148.12" y1="657.71" x2="145.20" y2="653.58" stroke="#3cc6cc" stroke-width="0.9" />
<line x1="148.12" y1="657.71" x2="147.67" y2="649.85" stroke="#3cc6cc" stroke-width="0.9" />
<line x1="153.74" y1="657.73" x2="155.79" y2="653.95" stroke="#3cc6cc" stroke-width="0.9" />
<line x1="153.74" y1="657.73" x2="150.79" y2="653.83" stroke="#3cc6cc" stroke-width="0.9" />
<line x1="153.74" y1="657.73" x2="152.75" y2="649.84" stroke="#3cc6cc" stroke-width="0.9" />
<line x1="158.68" y1="657.57" x2="160.96" y2="653.83" stroke="#3cc6cc" stroke-width="0.9" />
<line x1="158.68" y1="657.57" x2="155.79" y2="653.95" stroke="#3cc6cc" stroke-width="0.9" />
<line x1="158.68" y1="657.57" x2="157.70" y2="649.99" stroke="#3cc6cc" stroke-width="0.9" />
<line x1="164.19" y1="657.62" x2="166.13" y2="653.72" stroke="#3cc6cc" stroke-width="0.9" />
<line x1="164.19" y1="657.62" x2="160.96" y2="653.83" stroke="#3cc6cc" stroke-width="0.9" />
<line x1="164.19" y1="657.62" x2="163.24" y2="649.84" stroke="#3cc6cc" stroke-width="0.9" />
<line x1="169.38" y1="657.75" x2="171.66" y2="653.96" stroke="#3cc6cc" stroke-width="0.9" />
<line x1="169.38" y1="657.75" x2="166.13" y2="653.72" stroke="#3cc6cc" stroke-width="0.9" />
<line x1="169.38" y1="657.75" x2="168.20" y2="649.92" stroke="#3cc6cc" stroke-width="0.9" />
<line x1="174.54" y1="657.52" x2="171.66" y2="653.96" stroke="#3cc6cc" stroke-width="0.9" />
<line x1="174.54" y1="657.52" x2="173.60" y2="650.01" stroke="#3cc6cc" stroke-width="0.9" />
<line x1="35.61" y1="653.95" x2="33.69" y2="649.94" stroke="#3cc6cc" stroke-width="0.9" />
<line x1="35.61" y1="653.95" x2="38.73" y2="649.91" stroke="#3cc6cc" stroke-width="0.9" />
<line x1="35.61" y1="653.95" x2="36.75" y2="646.38" stroke="#3cc6cc" stroke-width="0.9" />
<line x1="40.84" y1="653.85" x2="38.73" y2="649.91" stroke="#3cc6cc" stroke-width="0.9" />
<line x1="40.84" y1="653.85" x2="43.69" y2="650.00" stroke="#3cc6cc" stroke-width="0.9" />
<line x1="40.84" y1="653.85" x2="41.78" y2="646.40" stroke="#3cc6cc" stroke-width="0.9" />
<line x1="46.10" y1="653.96" x2="43.69" y2="650.00" stroke="#3cc6cc" stroke-width="0.9" />
<line x1="46.10" y1="653.96" x2="49.22" y2="650.17" stroke="#3cc6cc" stroke-width="0.9" />
<line x1="46.10" y1="653.96" x2="47.18" y2="646.04" stroke="#3cc6cc" stroke-width="0.9" />
<line x1="51.11" y1="653.84" x2="49.22" y2="650.17" stroke="#3cc6cc" stroke-width="0.9" />
<line x1="51.11" y1="653.84" x2="54.35" y2="650.23" stroke="#3cc6cc" stroke-width="0.9" />
<line x1="51.11" y1="653.84" x2="52.33" y2="646.36" stroke="#3cc6cc" stroke-width="0.9" />
<line x1="56.62" y1="653.94" x2="54.35" y2="650.23" stroke="#3cc6cc" stroke-width="0.9" />
<line x1="56.62" y1="653.94" x2="59.31" y2="649.83" stroke="#3cc6cc" stroke-width="0.9" />
<line x1="56.62" y1="653.94" x2="57.06" y2="646.23" stroke="#3cc6cc" stroke-width="0.9" />
<line x1="61.61" y1="653.90" x2="59.31" y2="649.83" stroke="#3cc6cc" stroke-width="0.9" />
<line x1="61.61" y1="653.90" x2="64.59" y2="649.89" stroke="#3cc6cc" stroke-width="0.9" />
<line x1="61.61" y1="653.90" x2="62.45" y2="646.45" stroke="#3cc6cc" stroke-width="0.9" />
<line x1="67.06" y1="653.79" x2="64.59" y2="649.89" stroke="#3cc6cc" stroke-width="0.9" />
<line x1="67.06" y1="653.79" x2="69.65" y2="649.96" stroke="#3cc6cc" stroke-width="0.9" />
<line x1="67.06" y1="653.79" x2="67.47" y2="646.28" stroke="#3cc6cc" stroke-width="0.9" />
<line x1="72.17" y1="653.69" x2="69.65" y2="649.96" stroke="#3cc6cc" stroke-width="0.9" />
<line x1="72.17" y1="653.69" x2="75.04" y2="650.00" stroke="#3cc6cc" stroke-width="0.9" />
<line x1="72.17" y1="653.69" x2="72.86" y2="646.40" stroke="#3cc6cc" stroke-width="0.9" />
<line x1="77.38" y1="653.80" x2="75.04" y2="650.00" stroke="#3cc6cc" stroke-width="0.9" />
<line x1="77.38" y1="653.80" x2="80.07" y2="650.17" stroke="#3cc6cc" stroke-width="0.9" />
<line x1="77.38" y1="653.80" x2="78.03" y2="646.23" stroke="#3cc6cc" stroke-width="0.9" />
<line x1="82.36" y1="653.82" x2="80.07" y2="650.17" stroke="#3cc6cc" stroke-width="0.9" />
<line x1="82.36" y1="653.82" x2="85.59" y2="649.98" stroke="#3cc6cc" stroke-width="0.9" />
<line x1="82.36" y1="653.82" x2="83.02" y2="646.10" stroke="#3cc6cc" stroke-width="0.9" />
<line x1="88.05" y1="653.94" x2="85.59" y2="649.98" stroke="#3cc6cc" stroke-width="0.9" />
<line x1="88.05" y1="653.94" x2="90.32" y2="649.77" stroke="#3cc6cc" stroke-width="0.9" />
<line x1="88.05" y1="653.94" x2="88.19" y2="646.41" stroke="#3cc6cc" stroke-width="0.9" />
<line x1="93.15" y1="653.69" x2="90.32" y2="649.77" stroke="#3cc6cc" stroke-width="0.9" />
<line x1="93.15" y1="653.69" x2="95.91" y2="649.77" stroke="#3cc6cc" stroke-width="0.9" />
<line x1="93.15" y1="653.69" x2="93.29" y2="646.36" stroke="#3cc6cc" stroke-width="0.9" />
<line x1="98.39" y1="653.79" x2="95.91" y2="649.77" stroke="#3cc6cc" stroke-width="0.9" />
<line x1="98.39" y1="653.79" x2="101.01" y2="650.04" stroke="#3cc6cc" stroke-width="0.9" />
<line x1="98.39" y1="653.79" x2="98.22" y2="646.45" stroke="#3cc6cc" stroke-width="0.9" />
<line x1="103.47" y1="653.92" x2="101.01" y2="650.04" stroke="#3cc6cc" stroke-width="0.9" />
<line x1="103.47" y1="653.92" x2="106.00" y2="650.15" stroke="#3cc6cc" stroke-width="0.9" />
<line x1="103.47" y1="653.92" x2="103.74" y2="646.49" stroke="#3cc6cc" stroke-width="0.9" />
<line x1="108.52" y1="653.88" x2="106.00" y2="650.15" stroke="#3cc6cc" stroke-width="0.9" />
<line x1="108.52" y1="653.88" x2="111.04" y2="649.82" stroke="#3cc6cc" stroke-width="0.9" />
<line x1="108.52" y1="653.88" x2="108.66" y2="646.40" stroke="#3cc6cc" stroke-width="0.9" />
<line x1="113.73" y1="653.80" x2="111.04" y2="649.82" stroke="#3cc6cc" stroke-width="0.9" />
<line x1="113.73" y1="653.80" x2="116.44" y2="649.76" stroke="#3cc6cc" stroke-width="0.9" />
<line x1="113.73" y1="653.80" x2="113.69" y2="646.45" stroke="#3cc6cc" stroke-width="0.9" />
<line x1="119.18" y1="653.62" x2="116.44" y2="649.76" stroke="#3cc6cc" stroke-width="0.9" />
<line x1="119.18" y1="653.62" x2="121.81" y2="649.87" stroke="#3cc6cc" stroke-width="0.9" />
<line x1="119.18" y1="653.62" x2="119.09" y2="646.17" stroke="#3cc6cc" stroke-width="0.9" />
<line x1="124.53" y1="653.75" x2="121.81" y2="649.87" stroke="#3cc6cc" stroke-width="0.9" />
<line x1="124.53" y1="653.75" x2="126.65" y2="649.77" stroke="#3cc6cc" stroke-width="0.9" />
<line x1="124.53" y1="653.75" x2="123.85" y2="646.22" stroke="#3cc6cc" stroke-width="0.9" />
<line x1="129.71" y1="653.96" x2="126.65" y2="649.77" stroke="#3cc6cc" stroke-width="0.9" />
<line x1="129.71" y1="653.96" x2="132.08" y2="649.97" stroke="#3cc6cc" stroke-width="0.9" />
<line x1="129.71" y1="653.96" x2="129.22" y2="646.38" stroke="#3cc6cc" stroke-width="0.9" />
<line x1="134.77" y1="653.51" x2="132.08" y2="649.97" stroke="#3cc6cc" stroke-width="0.9" />
<line x1="134.77" y1="653.51" x2="137.27" y2="650.08" stroke="#3cc6cc" stroke-width="0.9" />
<line x1="134.77" y1="653.51" x2="134.33" y2="646.01" stroke="#3cc6cc" stroke-width="0.9" />
<line x1="140.02" y1="653.84" x2="137.27" y2="650.08" stroke="#3cc6cc" stroke-width="0.9" />
<line x1="140.02" y1="653.84" x2="142.54" y2="650.23" stroke="#3cc6cc" stroke-width="0.9" />
<line x1="140.02" y1="653.84" x2="139.63" y2="646.03" stroke="#3cc6cc" stroke-width="0.9" />
<line x1="145.20" y1="653.58" x2="142.54" y2="650.23" stroke="#3cc6cc" stroke-width="0.9" />
<line x1="145.20" y1="653.58" x2="147.67" y2="649.85" stroke="#3cc6cc" stroke-width="0.9" />
<line x1="145.20" y1="653.58" x2="144.76" y2="646.09" stroke="#3cc6cc" stroke-width="0.9" />
<line x1="150.79" y1="653.83" x2="147.67" y2="649.85" stroke="#3cc6cc" stroke-width="0.9" />
<line x1="150.79" y1="653.83" x2="152.75" y2="649.84" stroke="#3cc6cc" stroke-width="0.9" />
<line x1="150.79" y1="653.83" x2="149.67" y2="646.39" stroke="#3cc6cc" stroke-width="0.9" />
<line x1="155.79" y1="653.95" x2="152.75" y2="649.84" stroke="#3cc6cc" stroke-width="0.9" />
<line x1="155.79" y1="653.95" x2="157.70" y2="649.99" stroke="#3cc6cc" stroke-width="0.9" />
<line x1="155.79" y1="653.95" x2="154.71" y2="646.07" stroke="#3cc6cc" stroke-width="0.9" />
<line x1="160.96" y1="653.83" x2="157.70" y2="649.99" stroke="#3cc6cc" stroke-width="0.9" />
<line x1="160.96" y1="653.83" x2="163.24" y2="649.84" stroke="#3cc6cc" stroke-width="0.9" />
<line x1="160.96" y1="653.83" x2="160.04" y2="646.36" stroke="#3cc6cc" stroke-width="0.9" />
<line x1="166.13" y1="653.72" x2="163.24" y2="649.84" stroke="#3cc6cc" stroke-width="0.9" />
<line x1="166.13" y1="653.72" x2="168.20" y2="649.92" stroke="#3cc6cc" stroke-width="0.9" />
<line x1="166.13" y1="653.72" x2="165.34" y2="646.34" stroke="#3cc6cc" stroke-width="0.9" />
<line x1="171.66" y1="653.96" x2="168.20" y2="649.92" stroke="#3cc6cc" stroke-width="0.9" />
<line x1="171.66" y1="653.96" x2="173.60" y2="650.01" stroke="#3cc6cc" stroke-width="0.9" />
<line x1="171.66" y1="653.96" x2="170.53" y2="646.25" stroke="#3cc6cc" stroke-width="0.9" />
<line x1="33.69" y1="649.94" x2="36.75" y2="646.38" stroke="#3cc6cc" stroke-width="0.9" />
<line x1="33.69" y1="649.94" x2="34.97" y2="642.29" stroke="#3cc6cc" stroke-width="0.9" />
<line x1="38.73" y1="649.91" x2="41.78" y2="646.40" stroke="#3cc6cc" stroke-width="0.9" />
<line x1="38.73" y1="649.91" x2="36.75" y2="646.38" stroke="#3cc6cc" stroke-width="0.9" />
<line x1="38.73" y1="649.91" x2="39.70" y2="642.51" stroke="#3cc6cc" stroke-width="0.9" />
<line x1="43.69" y1="650.00" x2="47.18" y2="646.04" stroke="#3cc6cc" stroke-width="0.9" />
<line x1="43.69" y1="650.00" x2="41.78" y2="646.40" stroke="#3cc6cc" stroke-width="0.9" />
<line x1="43.69" y1="650.00" x2="44.83" y2="642.61" stroke="#3cc6cc" stroke-width="0.9" />
<line x1="49.22" y1="650.17" x2="52.33" y2="646.36" stroke="#3cc6cc" stroke-width="0.9" />
<line x1="49.22" y1="650.17" x2="47.18" y2="646.04" stroke="#3cc6cc" stroke-width="0.9" />
<line x1="49.22" y1="650.17" x2="50.10" y2="642.51" stroke="#3cc6cc" stroke-width="0.9" />
<line x1="54.35" y1="650.23" x2="57.06" y2="646.23" stroke="#3cc6cc" stroke-width="0.9" />
<line x1="54.35" y1="650.23" x2="52.33" y2="646.36" stroke="#3cc6cc" stroke-width="0.9" />
<line x1="54.35" y1="650.23" x2="55.29" y2="642.53" stroke="#3cc6cc" stroke-width="0.9" />
<line x1="59.31" y1="649.83" x2="62.45" y2="646.45" stroke="#3cc6cc" stroke-width="0.9" />
<line x1="59.31" y1="649.83" x2="57.06" y2="646.23" stroke="#3cc6cc" stroke-width="0.9" />
<line x1="59.31" y1="649.83" x2="60.12" y2="642.44" stroke="#3cc6cc" stroke-width="0.9" />
<line x1="64.59" y1="649.89" x2="67.47" y2="646.28" stroke="#3cc6cc" stroke-width="0.9" />
<line x1="64.59" y1="649.89" x2="62.45" y2="646.45" stroke="#3cc6cc" stroke-width="0.9" />
<line x1="64.59" y1="649.89" x2="65.48" y2="642.70" stroke="#3cc6cc" stroke-width="0.9" />
<line x1="69.65" y1="649.96" x2="72.86" y2="646.40" stroke="#3cc6cc" stroke-width="0.9" />
<line x1="69.65" y1="649.96" x2="67.47" y2="646.28" stroke="#3cc6cc" stroke-width="0.9" />
<line x1="69.65" y1="649.96" x2="70.25" y2="642.68" stroke="#3cc6cc" stroke-width="0.9" />
<line x1="75.04" y1="650.00" x2="78.03" y2="646.23" stroke="#3cc6cc" stroke-width="0.9" />
<line x1="75.04" y1="650.00" x2="72.86" y2="646.40" stroke="#3cc6cc" stroke-width="0.9" />
<line x1="75.04" y1="650.00" x2="75.72" y2="642.51" stroke="#3cc6cc" stroke-width="0.9" />
<line x1="80.07" y1="650.17" x2="83.02" y2="646.10" stroke="#3cc6cc" stroke-width="0.9" />
<line x1="80.07" y1="650.17" x2="78.03" y2="646.23" stroke="#3cc6cc" stroke-width="0.9" />
<line x1="80.07" y1="650.17" x2="80.62" y2="642.35" stroke="#3cc6cc" stroke-width="0.9" />
<line x1="85.59" y1="649.98" x2="88.19" y2="646.41" stroke="#3cc6cc" stroke-width="0.9" />
<line x1="85.59" y1="649.98" x2="83.02" y2="646.10" stroke="#3cc6cc" stroke-width="0.9" />
<line x1="85.59" y1="649.98" x2="85.69" y2="642.50" stroke="#3cc6cc" stroke-width="0.9" />
<line x1="90.32" y1="649.77" x2="93.29" y2="646.36" stroke="#3cc6cc" stroke-width="0.9" />
<line x1="90.32" y1="649.77" x2="88.19" y2="646.41" stroke="#3cc6cc" stroke-width="0.9" />
<line x1="90.32" y1="649.77" x2="90.82" y2="642.26" stroke="#3cc6cc" stroke-width="0.9" />
<line x1="95.91" y1="649.77" x2="98.22" y2="646.45" stroke="#3cc6cc" stroke-width="0.9" />
<line x1="95.91" y1="649.77" x2="93.29" y2="646.36" stroke="#3cc6cc" stroke-width="0.9" />
<line x1="95.91" y1="649.77" x2="96.10" y2="642.51" stroke="#3cc6cc" stroke-width="0.9" />
<line x1="101.01" y1="650.04" x2="103.74" y2="646.49" stroke="#3cc6cc" stroke-width="0.9" />
<line x1="101.01" y1="650.04" x2="98.22" y2="646.45" stroke="#3cc6cc" stroke-width="0.9" />
<line x1="101.01" y1="650.04" x2="100.90" y2="642.65" stroke="#3cc6cc" stroke-width="0.9" />
<line x1="106.00" y1="650.15" x2="108.66" y2="646.40" stroke="#3cc6cc" stroke-width="0.9" />
<line x1="106.00" y1="650.15" x2="103.74" y2="646.49" stroke="#3cc6cc" stroke-width="0.9" />
<line x1="106.00" y1="650.15" x2="106.08" y2="642.50" stroke="#3cc6cc" stroke-width="0.9" />
<line x1="111.04" y1="649.82" x2="113.69" y2="646.45" stroke="#3cc6cc" stroke-width="0.9" />
<line x1="111.04" y1="649.82" x2="108.66" y2="646.40" stroke="#3cc6cc" stroke-width="0.9" />
<line x1="111.04" y1="649.82" x2="111.23" y2="642.28" stroke="#3cc6cc" stroke-width="0.9" />
<line x1="116.44" y1="649.76" x2="119.09" y2="646.17" stroke="#3cc6cc" stroke-width="0.9" />
<line x1="116.44" y1="649.76" x2="113.69" y2="646.45" stroke="#3cc6cc" stroke-width="0.9" />
<line x1="116.44" y1="649.76" x2="116.25" y2="642.46" stroke="#3cc6cc" stroke-width="0.9" />
<line x1="121.81" y1="649.87" x2="123.85" y2="646.22" stroke="#3cc6cc" stroke-width="0.9" />
<line x1="121.81" y1="649.87" x2="119.09" y2="646.17" stroke="#3cc6cc" stroke-width="0.9" />
<line x1="121.81" y1="649.87" x2="121.55" y2="642.71" stroke="#3cc6cc" stroke-width="0.9" />
<line x1="126.65" y1="649.77" x2="129.22" y2="646.38" stroke="#3cc6cc" stroke-width="0.9" />
<line x1="126.65" y1="649.77" x2="123.85" y2="646.22" stroke="#3cc6cc" stroke-width="0.9" />
<line x1="126.65" y1="649.77" x2="126.30" y2="642.49" stroke="#3cc6cc" stroke-width="0.9" />
<line x1="132.08" y1="649.97" x2="134.33" y2="646.01" stroke="#3cc6cc" stroke-width="0.9" />
<line x1="132.08" y1="649.97" x2="129.22" y2="646.38" stroke="#3cc6cc" stroke-width="0.9" />
<line x1="132.08" y1="649.97" x2="131.32" y2="642.47" stroke="#3cc6cc" stroke-width="0.9" />
<line x1="137.27" y1="650.08" x2="139.63" y2="646.03" stroke="#3cc6cc" stroke-width="0.9" />
<line x1="137.27" y1="650.08" x2="134.33" y2="646.01" stroke="#3cc6cc" stroke-width="0.9" />
<line x1="137.27" y1="650.08" x2="136.76" y2="642.70" stroke="#3cc6cc" stroke-width="0.9" />
<line x1="142.54" y1="650.23" x2="144.76" y2="646.09" stroke="#3cc6cc" stroke-width="0.9" />
<line x1="142.54" y1="650.23" x2="139.63" y2="646.03" stroke="#3cc6cc" stroke-width="0.9" />
<line x1="142.54" y1="650.23" x2="141.68" y2="642.41" stroke="#3cc6cc" stroke-width="0.9" />
<line x1="147.67" y1="649.85" x2="149.67" y2="646.39" stroke="#3cc6cc" stroke-width="0.9" />
<line x1="147.67" y1="649.85" x2="144.76" y2="646.09" stroke="#3cc6cc" stroke-width="0.9" />
<line x1="147.67" y1="649.85" x2="146.63" y2="642.56" stroke="#3cc6cc" stroke-width="0.9" />
<line x1="152.75" y1="649.84" x2="154.71" y2="646.07" stroke="#3cc6cc" stroke-width="0.9" />
<line x1="152.75" y1="649.84" x2="149.67" y2="646.39" stroke="#3cc6cc" stroke-width="0.9" />
<line x1="152.75" y1="649.84" x2="152.09" y2="642.31" stroke="#3cc6cc" stroke-width="0.9" />
<line x1="157.70" y1="649.99" x2="160.04" y2="646.36" stroke="#3cc6cc" stroke-width="0.9" />
<line x1="157.70" y1="649.99" x2="154.71" y2="646.07" stroke="#3cc6cc" stroke-width="0.9" />
<line x1="157.70" y1="649.99" x2="157.11" y2="642.26" stroke="#3cc6cc" stroke-width="0.9" />
<line x1="163.24" y1="649.84" x2="165.34" y2="646.34" stroke="#3cc6cc" stroke-width="0.9" />
<line x1="163.24" y1="649.84" x2="160.04" y2="646.36" stroke="#3cc6cc" stroke-width="0.9" />
<line x1="163.24" y1="649.84" x2="161.91" y2="642.36" stroke="#3cc6cc" stroke-width="0.9" />
<line x1="168.20" y1="649.92" x2="170.53" y2="646.25" stroke="#3cc6cc" stroke-width="0.9" />
<line x1="168.20" y1="649.92" x2="165.34" y2="646.34" stroke="#3cc6cc" stroke-width="0.9" />
<line x1="168.20" y1="649.92" x2="167.25" y2="642.41" stroke="#3cc6cc" stroke-width="0.9" />
<line x1="173.60" y1="650.01" x2="170.53" y2="646.25" stroke="#3cc6cc" stroke-width="0.9" />
<line x1="173.60" y1="650.01" x2="172.18" y2="642.56" stroke="#3cc6cc" stroke-width="0.9" />
<line x1="36.75" y1="646.38" x2="34.97" y2="642.29" stroke="#3cc6cc" stroke-width="0.9" />
<line x1="36.75" y1="646.38" x2="39.70" y2="642.51" stroke="#3cc6cc" stroke-width="0.9" />
<line x1="36.75" y1="646.38" x2="37.70" y2="638.87" stroke="#3cc6cc" stroke-width="0.9" />
<line x1="41.78" y1="646.40" x2="39.70" y2="642.51" stroke="#3cc6cc" stroke-width="0.9" />
<line x1="41.78" y1="646.40" x2="44.83" y2="642.61" stroke="#3cc6cc" stroke-width="0.9" />
<line x1="41.78" y1="646.40" x2="42.76" y2="638.76" stroke="#3cc6cc" stroke-width="0.9" />
<line x1="47.18" y1="646.04" x2="44.83" y2="642.61" stroke="#3cc6cc" stroke-width="0.9" />
<line x1="47.18" y1="646.04" x2="50.10" y2="642.51" stroke="#3cc6cc" stroke-width="0.9" />
<line x1="47.18" y1="646.04" x2="47.87" y2="638.60" stroke="#3cc6cc" stroke-width="0.9" />
<line x1="52.33" y1="646.36" x2="50.10" y2="642.51" stroke="#3cc6cc" stroke-width="0.9" />
<line x1="52.33" y1="646.36" x2="55.29" y2="642.53" stroke="#3cc6cc" stroke-width="0.9" />
<line x1="52.33" y1="646.36" x2="53.05" y2="638.72" stroke="#3cc6cc" stroke-width="0.9" />
<line x1="57.06" y1="646.23" x2="55.29" y2="642.53" stroke="#3cc6cc" stroke-width="0.9" />
<line x1="57.06" y1="646.23" x2="60.12" y2="642.44" stroke="#3cc6cc" stroke-width="0.9" />
<line x1="57.06" y1="646.23" x2="58.02" y2="638.71" stroke="#3cc6cc" stroke-width="0.9" />
<line x1="62.45" y1="646.45" x2="60.12" y2="642.44" stroke="#3cc6cc" stroke-width="0.9" />
<line x1="62.45" y1="646.45" x2="65.48" y2="642.70" stroke="#3cc6cc" stroke-width="0.9" />
<line x1="62.45" y1="646.45" x2="63.14" y2="638.58" stroke="#3cc6cc" stroke-width="0.9" />
<line x1="67.47" y1="646.28" x2="65.48" y2="642.70" stroke="#3cc6cc" stroke-width="0.9" />
<line x1="67.47" y1="646.28" x2="70.25" y2="642.68" stroke="#3cc6cc" stroke-width="0.9" />
<line x1="67.47" y1="646.28" x2="68.03" y2="638.82" stroke="#3cc6cc" stroke-width="0.9" />
<line x1="72.86" y1="646.40" x2="70.25" y2="642.68" stroke="#3cc6cc" stroke-width="0.9" />
<line x1="72.86" y1="646.40" x2="75.72" y2="642.51" stroke="#3cc6cc" stroke-width="0.9" />
<line x1="72.86" y1="646.40" x2="73.29" y2="638.76" stroke="#3cc6cc" stroke-width="0.9" />
<line x1="78.03" y1="646.23" x2="75.72" y2="642.51" stroke="#3cc6cc" stroke-width="0.9" />
<line x1="78.03" y1="646.23" x2="80.62" y2="642.35" stroke="#3cc6cc" stroke-width="0.9" />
<line x1="78.03" y1="646.23" x2="78.44" y2="638.81" stroke="#3cc6cc" stroke-width="0.9" />
<line x1="83.02" y1="646.10" x2="80.62" y2="642.35" stroke="#3cc6cc" stroke-width="0.9" />
<line x1="83.02" y1="646.10" x2="85.69" y2="642.50" stroke="#3cc6cc" stroke-width="0.9" />
<line x1="83.02" y1="646.10" x2="83.49" y2="638.62" stroke="#3cc6cc" stroke-width="0.9" />
<line x1="88.19" y1="646.41" x2="85.69" y2="642.50" stroke="#3cc6cc" stroke-width="0.9" />
<line x1="88.19" y1="646.41" x2="90.82" y2="642.26" stroke="#3cc6cc" stroke-width="0.9" />
<line x1="88.19" y1="646.41" x2="88.48" y2="638.91" stroke="#3cc6cc" stroke-width="0.9" />
<line x1="93.29" y1="646.36" x2="90.82" y2="642.26" stroke="#3cc6cc" stroke-width="0.9" />
<line x1="93.29" y1="646.36" x2="96.10" y2="642.51" stroke="#3cc6cc" stroke-width="0.9" />
<line x1="93.29" y1="646.36" x2="93.61" y2="638.66" stroke="#3cc6cc" stroke-width="0.9" />
<line x1="98.22" y1="646.45" x2="96.10" y2="642.51" stroke="#3cc6cc" stroke-width="0.9" />
<line x1="98.22" y1="646.45" x2="100.90" y2="642.65" stroke="#3cc6cc" stroke-width="0.9" />
<line x1="98.22" y1="646.45" x2="98.36" y2="638.96" stroke="#3cc6cc" stroke-width="0.9" />
<line x1="103.74" y1="646.49" x2="100.90" y2="642.65" stroke="#3cc6cc" stroke-width="0.9" />
<line x1="103.74" y1="646.49" x2="106.08" y2="642.50" stroke="#3cc6cc" stroke-width="0.9" />
<line x1="103.74" y1="646.49" x2="103.36" y2="639.00" stroke="#3cc6cc" stroke-width="0.9" />
<line x1="108.66" y1="646.40" x2="106.08" y2="642.50" stroke="#3cc6cc" stroke-width="0.9" />
<line x1="108.66" y1="646.40" x2="111.23" y2="642.28" stroke="#3cc6cc" stroke-width="0.9" />
<line x1="108.66" y1="646.40" x2="108.74" y2="638.57" stroke="#3cc6cc" stroke-width="0.9" />
<line x1="113.69" y1="646.45" x2="111.23" y2="642.28" stroke="#3cc6cc" stroke-width="0.9" />
<line x1="113.69" y1="646.45" x2="116.25" y2="642.46" stroke="#3cc6cc" stroke-width="0.9" />
<line x1="113.69" y1="646.45" x2="113.46" y2="638.86" stroke="#3cc6cc" stroke-width="0.9" />
<line x1="119.09" y1="646.17" x2="116.25" y2="642.46" stroke="#3cc6cc" stroke-width="0.9" />
<line x1="119.09" y1="646.17" x2="121.55" y2="642.71" stroke="#3cc6cc" stroke-width="0.9" />
<line x1="119.09" y1="646.17" x2="118.52" y2="638.55" stroke="#3cc6cc" stroke-width="0.9" />
<line x1="123.85" y1="646.22" x2="121.55" y2="642.71" stroke="#3cc6cc" stroke-width="0.9" />
<line x1="123.85" y1="646.22" x2="126.30" y2="642.49" stroke="#3cc6cc" stroke-width="0.9" />
<line x1="123.85" y1="646.22" x2="123.85" y2="638.71" stroke="#3cc6cc" stroke-width="0.9" />
<line x1="129.22" y1="646.38" x2="126.30" y2="642.49" stroke="#3cc6cc" stroke-width="0.9" />
<line x1="129.22" y1="646.38" x2="131.32" y2="642.47" stroke="#3cc6cc" stroke-width="0.9" />
<line x1="129.22" y1="646.38" x2="128.88" y2="638.56" stroke="#3cc6cc" stroke-width="0.9" />
<line x1="134.33" y1="646.01" x2="131.32" y2="642.47" stroke="#3cc6cc" stroke-width="0.9" />
<line x1="134.33" y1="646.01" x2="136.76" y2="642.70" stroke="#3cc6cc" stroke-width="0.9" />
<line x1="134.33" y1="646.01" x2="133.73" y2="638.84" stroke="#3cc6cc" stroke-width="0.9" />
<line x1="139.63" y1="646.03" x2="136.76" y2="642.70" stroke="#3cc6cc" stroke-width="0.9" />
<line x1="139.63" y1="646.03" x2="141.68" y2="642.41" stroke="#3cc6cc" stroke-width="0.9" />
<line x1="139.63" y1="646.03" x2="138.58" y2="638.60" stroke="#3cc6cc" stroke-width="0.9" />
<line x1="144.76" y1="646.09" x2="141.68" y2="642.41" stroke="#3cc6cc" stroke-width="0.9" />
<line x1="144.76" y1="646.09" x2="146.63" y2="642.56" stroke="#3cc6cc" stroke-width="0.9" />
<line x1="144.76" y1="646.09" x2="143.96" y2="638.96" stroke="#3cc6cc" stroke-width="0.9" />
<line x1="149.67" y1="646.39" x2="146.63" y2="642.56" stroke="#3cc6cc" stroke-width="0.9" />
<line x1="149.67" y1="646.39" x2="152.09" y2="642.31" stroke="#3cc6cc" stroke-width="0.9" />
<line x1="149.67" y1="646.39" x2="149.15" y2="638.56" stroke="#3cc6cc" stroke-width="0.9" />
<line x1="154.71" y1="646.07" x2="152.09" y2="642.31" stroke="#3cc6cc" stroke-width="0.9" />
<line x1="154.71" y1="646.07" x2="157.11" y2="642.26" stroke="#3cc6cc" stroke-width="0.9" />
<line x1="154.71" y1="646.07" x2="153.97" y2="638.88" stroke="#3cc6cc" stroke-width="0.9" />
<line x1="160.04" y1="646.36" x2="157.11" y2="642.26" stroke="#3cc6cc" stroke-width="0.9" />
<line x1="160.04" y1="646.36" x2="161.91" y2="642.36" stroke="#3cc6cc" stroke-width="0.9" />
<line x1="160.04" y1="646.36" x2="159.01" y2="638.84" stroke="#3cc6cc" stroke-width="0.9" />
<line x1="165.34" y1="646.34" x2="161.91" y2="642.36" stroke="#3cc6cc" stroke-width="0.9" />
<line x1="165.34" y1="646.34" x2="167.25" y2="642.41" stroke="#3cc6cc" stroke-width="0.9" />
<line x1="165.34" y1="646.34" x2="163.90" y2="638.54" stroke="#3cc6cc" stroke-width="0.9" />
<line x1="170.53" y1="646.25" x2="167.25" y2="642.41" stroke="#3cc6cc" stroke-width="0.9" />
<line x1="170.53" y1="646.25" x2="172.18" y2="642.56" stroke="#3cc6cc" stroke-width="0.9" />
<line x1="170.53" y1="646.25" x2="168.90" y2="638.52" stroke="#3cc6cc" stroke-width="0.9" />
<line x1="34.97" y1="642.29" x2="37.70" y2="638.87" stroke="#3cc6cc" stroke-width="0.9" />
<line x1="34.97" y1="642.29" x2="36.03" y2="635.01" stroke="#3cc6cc" stroke-width="0.9" />
<line x1="39.70" y1="642.51" x2="42.76" y2="638.76" stroke="#3cc6cc" stroke-width="0.9" />
<line x1="39.70" y1="642.51" x2="37.70" y2="638.87" stroke="#3cc6cc" stroke-width="0.9" />
<line x1="39.70" y1="642.51" x2="41.03" y2="634.82" stroke="#3cc6cc" stroke-width="0.9" />
<line x1="44.83" y1="642.61" x2="47.87" y2="638.60" stroke="#3cc6cc" stroke-width="0.9" />
<line x1="44.83" y1="642.61" x2="42.76" y2="638.76" stroke="#3cc6cc" stroke-width="0.9" />
<line x1="44.83" y1="642.61" x2="45.84" y2="634.85" stroke="#3cc6cc" stroke-width="0.9" />
<line x1="50.10" y1="642.51" x2="53.05" y2="638.72" stroke="#3cc6cc" stroke-width="0.9" />
<line x1="50.10" y1="642.51" x2="47.87" y2="638.60" stroke="#3cc6cc" stroke-width="0.9" />
<line x1="50.10" y1="642.51" x2="51.17" y2="635.25" stroke="#3cc6cc" stroke-width="0.9" />
<line x1="55.29" y1="642.53" x2="58.02" y2="638.71" stroke="#3cc6cc" stroke-width="0.9" />
<line x1="55.29" y1="642.53" x2="53.05" y2="638.72" stroke="#3cc6cc" stroke-width="0.9" />
<line x1="55.29" y1="642.53" x2="56.21" y2="634.80" stroke="#3cc6cc" stroke-width="0.9" />
<line x1="60.12" y1="642.44" x2="63.14" y2="638.58" stroke="#3cc6cc" stroke-width="0.9" />
<line x1="60.12" y1="642.44" x2="58.02" y2="638.71" stroke="#3cc6cc" stroke-width="0.9" />
<line x1="60.12" y1="642.44" x2="60.78" y2="635.23" stroke="#3cc6cc" stroke-width="0.9" />
<line x1="65.48" y1="642.70" x2="68.03" y2="638.82" stroke="#3cc6cc" stroke-width="0.9" />
<line x1="65.48" y1="642.70" x2="63.14" y2="638.58" stroke="#3cc6cc" stroke-width="0.9" />
<line x1="65.48" y1="642.70" x2="65.98" y2="635.13" stroke="#3cc6cc" stroke-width="0.9" />
<line x1="70.25" y1="642.68" x2="73.29" y2="638.76" stroke="#3cc6cc" stroke-width="0.9" />
<line x1="70.25" y1="642.68" x2="68.03" y2="638.82" stroke="#3cc6cc" stroke-width="0.9" />
<line x1="70.25" y1="642.68" x2="70.91" y2="634.98" stroke="#3cc6cc" stroke-width="0.9" />
<line x1="75.72" y1="642.51" x2="78.44" y2="638.81" stroke="#3cc6cc" stroke-width="0.9" />
<line x1="75.72" y1="642.51" x2="73.29" y2="638.76" stroke="#3cc6cc" stroke-width="0.9" />
<line x1="75.72" y1="642.51" x2="76.01" y2="634.97" stroke="#3cc6cc" stroke-width="0.9" />
<line x1="80.62" y1="642.35" x2="83.49" y2="638.62" stroke="#3cc6cc" stroke-width="0.9" />
<line x1="80.62" y1="642.35" x2="78.44" y2="638.81" stroke="#3cc6cc" stroke-width="0.9" />
<line x1="80.62" y1="642.35" x2="81.05" y2="634.76" stroke="#3cc6cc" stroke-width="0.9" />
<line x1="85.69" y1="642.50" x2="88.48" y2="638.91" stroke="#3cc6cc" stroke-width="0.9" />
<line x1="85.69" y1="642.50" x2="83.49" y2="638.62" stroke="#3cc6cc" stroke-width="0.9" />
<line x1="85.69" y1="642.50" x2="86.10" y2="635.17" stroke="#3cc6cc" stroke-width="0.9" />
<line x1="90.82" y1="642.26" x2="93.61" y2="638.66" stroke="#3cc6cc" stroke-width="0.9" />
<line x1="90.82" y1="642.26" x2="88.48" y2="638.91" stroke="#3cc6cc" stroke-width="0.9" />
<line x1="90.82" y1="642.26" x2="90.84" y2="634.98" stroke="#3cc6cc" stroke-width="0.9" />
<line x1="96.10" y1="642.51" x2="98.36" y2="638.96" stroke="#3cc6cc" stroke-width="0.9" />
<line x1="96.10" y1="642.51" x2="93.61" y2="638.66" stroke="#3cc6cc" stroke-width="0.9" />
<line x1="96.10" y1="642.51" x2="96.12" y2="634.95" stroke="#3cc6cc" stroke-width="0.9" />
<line x1="100.90" y1="642.65" x2="103.36" y2="639.00" stroke="#3cc6cc" stroke-width="0.9" />
<line x1="100.90" y1="642.65" x2="98.36" y2="638.96" stroke="#3cc6cc" stroke-width="0.9" />
<line x1="100.90" y1="642.65" x2="100.85" y2="634.83" stroke="#3cc6cc" stroke-width="0.9" />
<line x1="106.08" y1="642.50" x2="108.74" y2="638.57" stroke="#3cc6cc" stroke-width="0.9" />
<line x1="106.08" y1="642.50" x2="103.36" y2="639.00" stroke="#3cc6cc" stroke-width="0.9" />
<line x1="106.08" y1="642.50" x2="106.01" y2="634.76" stroke="#3cc6cc" stroke-width="0.9" />
<line x1="111.23" y1="642.28" x2="113.46" y2="638.86" stroke="#3cc6cc" stroke-width="0.9" />
<line x1="111.23" y1="642.28" x2="108.74" y2="638.57" stroke="#3cc6cc" stroke-width="0.9" />
<line x1="111.23" y1="642.28" x2="111.20" y2="635.15" stroke="#3cc6cc" stroke-width="0.9" />
<line x1="116.25" y1="642.46" x2="118.52" y2="638.55" stroke="#3cc6cc" stroke-width="0.9" />
<line x1="116.25" y1="642.46" x2="113.46" y2="638.86" stroke="#3cc6cc" stroke-width="0.9" />
<line x1="116.25" y1="642.46" x2="116.10" y2="635.18" stroke="#3cc6cc" stroke-width="0.9" />
<line x1="121.55" y1="642.71" x2="123.85" y2="638.71" stroke="#3cc6cc" stroke-width="0.9" />
<line x1="121.55" y1="642.71" x2="118.52" y2="638.55" stroke="#3cc6cc" stroke-width="0.9" />
<line x1="121.55" y1="642.71" x2="121.06" y2="634.95" stroke="#3cc6cc" stroke-width="0.9" />
<line x1="126.30" y1="642.49" x2="128.88" y2="638.56" stroke="#3cc6cc" stroke-width="0.9" />
<line x1="126.30" y1="642.49" x2="123.85" y2="638.71" stroke="#3cc6cc" stroke-width="0.9" />
<line x1="126.30" y1="642.49" x2="126.05" y2="635.00" stroke="#3cc6cc" stroke-width="0.9" />
<line x1="131.32" y1="642.47" x2="133.73" y2="638.84" stroke="#3cc6cc" stroke-width="0.9" />
<line x1="131.32" y1="642.47" x2="128.88" y2="638.56" stroke="#3cc6cc" stroke-width="0.9" />
<line x1="131.32" y1="642.47" x2="131.24" y2="635.15" stroke="#3cc6cc" stroke-width="0.9" />
<line x1="136.76" y1="642.70" x2="138.58" y2="638.60" stroke="#3cc6cc" stroke-width="0.9" />
<line x1="136.76" y1="642.70" x2="133.73" y2="638.84" stroke="#3cc6cc" stroke-width="0.9" />
<line x1="136.76" y1="642.70" x2="135.88" y2="635.21" stroke="#3cc6cc" stroke-width="0.9" />
<line x1="141.68" y1="642.41" x2="143.96" y2="638.96" stroke="#3cc6cc" stroke-width="0.9" />
<line x1="141.68" y1="642.41" x2="138.58" y2="638.60" stroke="#3cc6cc" stroke-width="0.9" />
<line x1="141.68" y1="642.41" x2="141.12" y2="635.14" stroke="#3cc6cc" stroke-width="0.9" />
<line x1="146.63" y1="642.56" x2="149.15" y2="638.56" stroke="#3cc6cc" stroke-width="0.9" />
<line x1="146.63" y1="642.56" x2="143.96" y2="638.96" stroke="#3cc6cc" stroke-width="0.9" />
<line x1="146.63" y1="642.56" x2="146.16" y2="634.95" stroke="#3cc6cc" stroke-width="0.9" />
<line x1="152.09" y1="642.31" x2="153.97" y2="638.88" stroke="#3cc6cc" stroke-width="0.9" />
<line x1="152.09" y1="642.31" x2="149.15" y2="638.56" stroke="#3cc6cc" stroke-width="0.9" />
<line x1="152.09" y1="642.31" x2="151.20" y2="635.19" stroke="#3cc6cc" stroke-width="0.9" />
<line x1="157.11" y1="642.26" x2="159.01" y2="638.84" stroke="#3cc6cc" stroke-width="0.9" />
<line x1="157.11" y1="642.26" x2="153.97" y2="638.88" stroke="#3cc6cc" stroke-width="0.9" />
<line x1="157.11" y1="642.26" x2="156.10" y2="635.13" stroke="#3cc6cc" stroke-width="0.9" />
<line x1="161.91" y1="642.36" x2="163.90" y2="638.54" stroke="#3cc6cc" stroke-width="0.9" />
<line x1="161.91" y1="642.36" x2="159.01" y2="638.84" stroke="#3cc6cc" stroke-width="0.9" />
<line x1="161.91" y1="642.36" x2="161.13" y2="634.95" stroke="#3cc6cc" stroke-width="0.9" />
<line x1="167.25" y1="642.41" x2="168.90" y2="638.52" stroke="#3cc6cc" stroke-width="0.9" />
<line x1="167.25" y1="642.41" x2="163.90" y2="638.54" stroke="#3cc6cc" stroke-width="0.9" />
<line x1="167.25" y1="642.41" x2="166.11" y2="634.79" stroke="#3cc6cc" stroke-width="0.9" />
<line x1="172.18" y1="642.56" x2="168.90" y2="638.52" stroke="#3cc6cc" stroke-width="0.9" />
<line x1="172.18" y1="642.56" x2="170.92" y2="634.98" stroke="#3cc6cc" stroke-width="0.9" />
<line x1="37.70" y1="638.87" x2="36.03" y2="635.01" stroke="#3cc6cc" stroke-width="0.9" />
<line x1="37.70" y1="638.87" x2="41.03" y2="634.82" stroke="#3cc6cc" stroke-width="0.9" />
<line x1="42.76" y1="638.76" x2="41.03" y2="634.82" stroke="#3cc6cc" stroke-width="0.9" />
<line x1="42.76" y1="638.76" x2="45.84" y2="634.85" stroke="#3cc6cc" stroke-width="0.9" />
<line x1="47.87" y1="638.60" x2="45.84" y2="634.85" stroke="#3cc6cc" stroke-width="0.9" />
<line x1="47.87" y1="638.60" x2="51.17" y2="635.25" stroke="#3cc6cc" stroke-width="0.9" />
<line x1="53.05" y1="638.72" x2="51.17" y2="635.25" stroke="#3cc6cc" stroke-width="0.9" />
<line x1="53.05" y1="638.72" x2="56.21" y2="634.80" stroke="#3cc6cc" stroke-width="0.9" />
<line x1="58.02" y1="638.71" x2="56.21" y2="634.80" stroke="#3cc6cc" stroke-width="0.9" />
<line x1="58.02" y1="638.71" x2="60.78" y2="635.23" stroke="#3cc6cc" stroke-width="0.9" />
<line x1="63.14" y1="638.58" x2="60.78" y2="635.23" stroke="#3cc6cc" stroke-width="0.9" />
<line x1="63.14" y1="638.58" x2="65.98" y2="635.13" stroke="#3cc6cc" stroke-width="0.9" />
<line x1="68.03" y1="638.82" x2="65.98" y2="635.13" stroke="#3cc6cc" stroke-width="0.9" />
<line x1="68.03" y1="638.82" x2="70.91" y2="634.98" stroke="#3cc6cc" stroke-width="0.9" />
<line x1="73.29" y1="638.76" x2="70.91" y2="634.98" stroke="#3cc6cc" stroke-width="0.9" />
<line x1="73.29" y1="638.76" x2="76.01" y2="634.97" stroke="#3cc6cc" stroke-width="0.9" />
<line x1="78.44" y1="638.81" x2="76.01" y2="634.97" stroke="#3cc6cc" stroke-width="0.9" />
<line x1="78.44" y1="638.81" x2="81.05" y2="634.76" stroke="#3cc6cc" stroke-width="0.9" />
<line x1="83.49" y1="638.62" x2="81.05" y2="634.76" stroke="#3cc6cc" stroke-width="0.9" />
<line x1="83.49" y1="638.62" x2="86.10" y2="635.17" stroke="#3cc6cc" stroke-width="0.9" />
<line x1="88.48" y1="638.91" x2="86.10" y2="635.17" stroke="#3cc6cc" stroke-width="0.9" />
<line x1="88.48" y1="638.91" x2="90.84" y2="634.98" stroke="#3cc6cc" stroke-width="0.9" />
<line x1="93.61" y1="638.66" x2="90.84" y2="634.98" stroke="#3cc6cc" stroke-width="0.9" />
<line x1="93.61" y1="638.66" x2="96.12" y2="634.95" stroke="#3cc6cc" stroke-width="0.9" />
<line x1="98.36" y1="638.96" x2="96.12" y2="634.95" stroke="#3cc6cc" stroke-width="0.9" />
<line x1="98.36" y1="638.96" x2="100.85" y2="634.83" stroke="#3cc6cc" stroke-width="0.9" />
<line x1="103.36" y1="639.00" x2="100.85" y2="634.83" stroke="#3cc6cc" stroke-width="0.9" />
<line x1="103.36" y1="639.00" x2="106.01" y2="634.76" stroke="#3cc6cc" stroke-width="0.9" />
<line x1="108.74" y1="638.57" x2="106.01" y2="634.76" stroke="#3cc6cc" stroke-width="0.9" />
<line x1="108.74" y1="638.57" x2="111.20" y2="635.15" stroke="#3cc6cc" stroke-width="0.9" />
<line x1="113.46" y1="638.86" x2="111.20" y2="635.15" stroke="#3cc6cc" stroke-width="0.9" />
<line x1="113.46" y1="638.86" x2="116.10" y2="635.18" stroke="#3cc6cc" stroke-width="0.9" />
<line x1="118.52" y1="638.55" x2="116.10" y2="635.18" stroke="#3cc6cc" stroke-width="0.9" />
<line x1="118.52" y1="638.55" x2="121.06" y2="634.95" stroke="#3cc6cc" stroke-width="0.9" />
<line x1="123.85" y1="638.71" x2="121.06" y2="634.95" stroke="#3cc6cc" stroke-width="0.9" />
<line x1="123.85" y1="638.71" x2="126.05" y2="635.00" stroke="#3cc6cc" stroke-width="0.9" />
<line x1="128.88" y1="638.56" x2="126.05" y2="635.00" stroke="#3cc6cc" stroke-width="0.9" />
<line x1="128.88" y1="638.56" x2="131.24" y2="635.15" stroke="#3cc6cc" stroke-width="0.9" />
<line x1="133.73" y1="638.84" x2="131.24" y2="635.15" stroke="#3cc6cc" stroke-width="0.9" />
<line x1="133.73" y1="638.84" x2="135.88" y2="635.21" stroke="#3cc6cc" stroke-width="0.9" />
<line x1="138.58" y1="638.60" x2="135.88" y2="635.21" stroke="#3cc6cc" stroke-width="0.9" />
<line x1="138.58" y1="638.60" x2="141.12" y2="635.14" stroke="#3cc6cc" stroke-width="0.9" />
<line x1="143.96" y1="638.96" x2="141.12" y2="635.14" stroke="#3cc6cc" stroke-width="0.9" />
<line x1="143.96" y1="638.96" x2="146.16" y2="634.95" stroke="#3cc6cc" stroke-width="0.9" />
<line x1="149.15" y1="638.56" x2="146.16" y2="634.95" stroke="#3cc6cc" stroke-width="0.9" />
<line x1="149.15" y1="638.56" x2="151.20" y2="635.19" stroke="#3cc6cc" stroke-width="0.9" />
<line x1="153.97" y1="638.88" x2="151.20" y2="635.19" stroke="#3cc6cc" stroke-width="0.9" />
<line x1="153.97" y1="638.88" x2="156.10" y2="635.13" stroke="#3cc6cc" stroke-width="0.9" />
<line x1="159.01" y1="638.84" x2="156.10" y2="635.13" stroke="#3cc6cc" stroke-width="0.9" />
<line x1="159.01" y1="638.84" x2="161.13" y2="634.95" stroke="#3cc6cc" stroke-width="0.9" />
<line x1="163.90" y1="638.54" x2="161.13" y2="634.95" stroke="#3cc6cc" stroke-width="0.9" />
<line x1="163.90" y1="638.54" x2="166.11" y2="634.79" stroke="#3cc6cc" stroke-width="0.9" />
<line x1="168.90" y1="638.52" x2="166.11" y2="634.79" stroke="#3cc6cc" stroke-width="0.9" />
<line x1="168.90" y1="638.52" x2="170.92" y2="634.98" stroke="#3cc6cc" stroke-width="0.9" />
<line x1="32.61" y1="665.00" x2="32.91" y2="669.50" stroke="#7ab8b0" stroke-width="0.6" />
<circle cx="32.91" cy="669.50" r="1.16" fill="#f4a81a" stroke="none" stroke-width="1" />
<line x1="37.98" y1="665.00" x2="38.28" y2="669.50" stroke="#7ab8b0" stroke-width="0.6" />
<circle cx="38.28" cy="669.50" r="1.16" fill="#f4a81a" stroke="none" stroke-width="1" />
<line x1="43.35" y1="665.00" x2="43.65" y2="669.50" stroke="#7ab8b0" stroke-width="0.6" />
<circle cx="43.65" cy="669.50" r="1.16" fill="#f4a81a" stroke="none" stroke-width="1" />
<line x1="48.72" y1="665.00" x2="49.02" y2="669.50" stroke="#7ab8b0" stroke-width="0.6" />
<circle cx="49.02" cy="669.50" r="1.16" fill="#f4a81a" stroke="none" stroke-width="1" />
<line x1="54.09" y1="665.00" x2="54.39" y2="669.50" stroke="#7ab8b0" stroke-width="0.6" />
<circle cx="54.39" cy="669.50" r="1.16" fill="#f4a81a" stroke="none" stroke-width="1" />
<line x1="59.46" y1="665.00" x2="59.76" y2="669.50" stroke="#7ab8b0" stroke-width="0.6" />
<circle cx="59.76" cy="669.50" r="1.16" fill="#f4a81a" stroke="none" stroke-width="1" />
<line x1="64.83" y1="665.00" x2="65.13" y2="669.50" stroke="#7ab8b0" stroke-width="0.6" />
<circle cx="65.13" cy="669.50" r="1.16" fill="#f4a81a" stroke="none" stroke-width="1" />
<line x1="70.20" y1="665.00" x2="70.50" y2="669.50" stroke="#7ab8b0" stroke-width="0.6" />
<circle cx="70.50" cy="669.50" r="1.16" fill="#f4a81a" stroke="none" stroke-width="1" />
<line x1="75.57" y1="665.00" x2="75.87" y2="669.50" stroke="#7ab8b0" stroke-width="0.6" />
<circle cx="75.87" cy="669.50" r="1.16" fill="#f4a81a" stroke="none" stroke-width="1" />
<line x1="80.94" y1="665.00" x2="81.24" y2="669.50" stroke="#7ab8b0" stroke-width="0.6" />
<circle cx="81.24" cy="669.50" r="1.16" fill="#f4a81a" stroke="none" stroke-width="1" />
<line x1="86.31" y1="665.00" x2="86.61" y2="669.50" stroke="#7ab8b0" stroke-width="0.6" />
<circle cx="86.61" cy="669.50" r="1.16" fill="#f4a81a" stroke="none" stroke-width="1" />
<line x1="91.69" y1="665.00" x2="91.99" y2="669.50" stroke="#7ab8b0" stroke-width="0.6" />
<circle cx="91.99" cy="669.50" r="1.16" fill="#f4a81a" stroke="none" stroke-width="1" />
<line x1="97.06" y1="665.00" x2="97.36" y2="669.50" stroke="#7ab8b0" stroke-width="0.6" />
<circle cx="97.36" cy="669.50" r="1.16" fill="#f4a81a" stroke="none" stroke-width="1" />
<line x1="102.43" y1="665.00" x2="102.73" y2="669.50" stroke="#7ab8b0" stroke-width="0.6" />
<circle cx="102.73" cy="669.50" r="1.16" fill="#f4a81a" stroke="none" stroke-width="1" />
<line x1="107.80" y1="665.00" x2="108.10" y2="669.50" stroke="#7ab8b0" stroke-width="0.6" />
<circle cx="108.10" cy="669.50" r="1.16" fill="#f4a81a" stroke="none" stroke-width="1" />
<line x1="113.17" y1="665.00" x2="113.47" y2="669.50" stroke="#7ab8b0" stroke-width="0.6" />
<circle cx="113.47" cy="669.50" r="1.16" fill="#f4a81a" stroke="none" stroke-width="1" />
<line x1="118.54" y1="665.00" x2="118.84" y2="669.50" stroke="#7ab8b0" stroke-width="0.6" />
<circle cx="118.84" cy="669.50" r="1.16" fill="#f4a81a" stroke="none" stroke-width="1" />
<line x1="123.91" y1="665.00" x2="124.21" y2="669.50" stroke="#7ab8b0" stroke-width="0.6" />
<circle cx="124.21" cy="669.50" r="1.16" fill="#f4a81a" stroke="none" stroke-width="1" />
<line x1="129.28" y1="665.00" x2="129.58" y2="669.50" stroke="#7ab8b0" stroke-width="0.6" />
<circle cx="129.58" cy="669.50" r="1.16" fill="#f4a81a" stroke="none" stroke-width="1" />
<line x1="134.65" y1="665.00" x2="134.95" y2="669.50" stroke="#7ab8b0" stroke-width="0.6" />
<circle cx="134.95" cy="669.50" r="1.16" fill="#f4a81a" stroke="none" stroke-width="1" />
<line x1="140.02" y1="665.00" x2="140.32" y2="669.50" stroke="#7ab8b0" stroke-width="0.6" />
<circle cx="140.32" cy="669.50" r="1.16" fill="#f4a81a" stroke="none" stroke-width="1" />
<line x1="145.39" y1="665.00" x2="145.69" y2="669.50" stroke="#7ab8b0" stroke-width="0.6" />
<circle cx="145.69" cy="669.50" r="1.16" fill="#f4a81a" stroke="none" stroke-width="1" />
<line x1="150.76" y1="665.00" x2="151.06" y2="669.50" stroke="#7ab8b0" stroke-width="0.6" />
<circle cx="151.06" cy="669.50" r="1.16" fill="#f4a81a" stroke="none" stroke-width="1" />
<line x1="156.13" y1="665.00" x2="156.43" y2="669.50" stroke="#7ab8b0" stroke-width="0.6" />
<circle cx="156.43" cy="669.50" r="1.16" fill="#f4a81a" stroke="none" stroke-width="1" />
<line x1="161.50" y1="665.00" x2="161.80" y2="669.50" stroke="#7ab8b0" stroke-width="0.6" />
<circle cx="161.80" cy="669.50" r="1.16" fill="#f4a81a" stroke="none" stroke-width="1" />
<line x1="166.87" y1="665.00" x2="167.17" y2="669.50" stroke="#7ab8b0" stroke-width="0.6" />
<circle cx="167.17" cy="669.50" r="1.16" fill="#f4a81a" stroke="none" stroke-width="1" />
<line x1="172.24" y1="665.00" x2="172.54" y2="669.50" stroke="#7ab8b0" stroke-width="0.6" />
<circle cx="172.54" cy="669.50" r="1.16" fill="#f4a81a" stroke="none" stroke-width="1" />
<circle cx="36.03" cy="635.01" r="2.10" fill="#e2382c" stroke="none" stroke-width="1" />
<circle cx="35.29" cy="634.27" r="0.95" fill="#f47868" stroke="none" stroke-width="1" />
<circle cx="41.03" cy="634.82" r="2.10" fill="#e2382c" stroke="none" stroke-width="1" />
<circle cx="40.30" cy="634.09" r="0.95" fill="#f47868" stroke="none" stroke-width="1" />
<circle cx="45.84" cy="634.85" r="2.10" fill="#e2382c" stroke="none" stroke-width="1" />
<circle cx="45.11" cy="634.12" r="0.95" fill="#f47868" stroke="none" stroke-width="1" />
<circle cx="51.17" cy="635.25" r="2.10" fill="#e2382c" stroke="none" stroke-width="1" />
<circle cx="50.44" cy="634.51" r="0.95" fill="#f47868" stroke="none" stroke-width="1" />
<circle cx="56.21" cy="634.80" r="2.10" fill="#e2382c" stroke="none" stroke-width="1" />
<circle cx="55.48" cy="634.06" r="0.95" fill="#f47868" stroke="none" stroke-width="1" />
<circle cx="60.78" cy="635.23" r="2.10" fill="#e2382c" stroke="none" stroke-width="1" />
<circle cx="60.05" cy="634.49" r="0.95" fill="#f47868" stroke="none" stroke-width="1" />
<circle cx="65.98" cy="635.13" r="2.10" fill="#e2382c" stroke="none" stroke-width="1" />
<circle cx="65.25" cy="634.40" r="0.95" fill="#f47868" stroke="none" stroke-width="1" />
<circle cx="70.91" cy="634.98" r="2.10" fill="#e2382c" stroke="none" stroke-width="1" />
<circle cx="70.18" cy="634.25" r="0.95" fill="#f47868" stroke="none" stroke-width="1" />
<circle cx="76.01" cy="634.97" r="2.10" fill="#e2382c" stroke="none" stroke-width="1" />
<circle cx="75.27" cy="634.23" r="0.95" fill="#f47868" stroke="none" stroke-width="1" />
<circle cx="81.05" cy="634.76" r="2.10" fill="#e2382c" stroke="none" stroke-width="1" />
<circle cx="80.32" cy="634.02" r="0.95" fill="#f47868" stroke="none" stroke-width="1" />
<circle cx="86.10" cy="635.17" r="2.10" fill="#e2382c" stroke="none" stroke-width="1" />
<circle cx="85.37" cy="634.44" r="0.95" fill="#f47868" stroke="none" stroke-width="1" />
<circle cx="90.84" cy="634.98" r="2.10" fill="#e2382c" stroke="none" stroke-width="1" />
<circle cx="90.11" cy="634.24" r="0.95" fill="#f47868" stroke="none" stroke-width="1" />
<circle cx="96.12" cy="634.95" r="2.10" fill="#e2382c" stroke="none" stroke-width="1" />
<circle cx="95.38" cy="634.22" r="0.95" fill="#f47868" stroke="none" stroke-width="1" />
<circle cx="100.85" cy="634.83" r="2.10" fill="#e2382c" stroke="none" stroke-width="1" />
<circle cx="100.11" cy="634.10" r="0.95" fill="#f47868" stroke="none" stroke-width="1" />
<circle cx="106.01" cy="634.76" r="2.10" fill="#e2382c" stroke="none" stroke-width="1" />
<circle cx="105.27" cy="634.02" r="0.95" fill="#f47868" stroke="none" stroke-width="1" />
<circle cx="111.20" cy="635.15" r="2.10" fill="#e2382c" stroke="none" stroke-width="1" />
<circle cx="110.46" cy="634.42" r="0.95" fill="#f47868" stroke="none" stroke-width="1" />
<circle cx="116.10" cy="635.18" r="2.10" fill="#e2382c" stroke="none" stroke-width="1" />
<circle cx="115.37" cy="634.45" r="0.95" fill="#f47868" stroke="none" stroke-width="1" />
<circle cx="121.06" cy="634.95" r="2.10" fill="#e2382c" stroke="none" stroke-width="1" />
<circle cx="120.33" cy="634.22" r="0.95" fill="#f47868" stroke="none" stroke-width="1" />
<circle cx="126.05" cy="635.00" r="2.10" fill="#e2382c" stroke="none" stroke-width="1" />
<circle cx="125.31" cy="634.27" r="0.95" fill="#f47868" stroke="none" stroke-width="1" />
<circle cx="131.24" cy="635.15" r="2.10" fill="#e2382c" stroke="none" stroke-width="1" />
<circle cx="130.51" cy="634.42" r="0.95" fill="#f47868" stroke="none" stroke-width="1" />
<circle cx="135.88" cy="635.21" r="2.10" fill="#e2382c" stroke="none" stroke-width="1" />
<circle cx="135.14" cy="634.47" r="0.95" fill="#f47868" stroke="none" stroke-width="1" />
<circle cx="141.12" cy="635.14" r="2.10" fill="#e2382c" stroke="none" stroke-width="1" />
<circle cx="140.39" cy="634.40" r="0.95" fill="#f47868" stroke="none" stroke-width="1" />
<circle cx="146.16" cy="634.95" r="2.10" fill="#e2382c" stroke="none" stroke-width="1" />
<circle cx="145.42" cy="634.22" r="0.95" fill="#f47868" stroke="none" stroke-width="1" />
<circle cx="151.20" cy="635.19" r="2.10" fill="#e2382c" stroke="none" stroke-width="1" />
<circle cx="150.46" cy="634.45" r="0.95" fill="#f47868" stroke="none" stroke-width="1" />
<circle cx="156.10" cy="635.13" r="2.10" fill="#e2382c" stroke="none" stroke-width="1" />
<circle cx="155.36" cy="634.40" r="0.95" fill="#f47868" stroke="none" stroke-width="1" />
<circle cx="161.13" cy="634.95" r="2.10" fill="#e2382c" stroke="none" stroke-width="1" />
<circle cx="160.40" cy="634.22" r="0.95" fill="#f47868" stroke="none" stroke-width="1" />
<circle cx="166.11" cy="634.79" r="2.10" fill="#e2382c" stroke="none" stroke-width="1" />
<circle cx="165.38" cy="634.05" r="0.95" fill="#f47868" stroke="none" stroke-width="1" />
<circle cx="170.92" cy="634.98" r="2.10" fill="#e2382c" stroke="none" stroke-width="1" />
<circle cx="170.19" cy="634.25" r="0.95" fill="#f47868" stroke="none" stroke-width="1" />
<circle cx="37.70" cy="638.87" r="2.10" fill="#e2382c" stroke="none" stroke-width="1" />
<circle cx="36.97" cy="638.13" r="0.95" fill="#f47868" stroke="none" stroke-width="1" />
<circle cx="42.76" cy="638.76" r="2.10" fill="#e2382c" stroke="none" stroke-width="1" />
<circle cx="42.02" cy="638.02" r="0.95" fill="#f47868" stroke="none" stroke-width="1" />
<circle cx="47.87" cy="638.60" r="2.10" fill="#e2382c" stroke="none" stroke-width="1" />
<circle cx="47.13" cy="637.86" r="0.95" fill="#f47868" stroke="none" stroke-width="1" />
<circle cx="53.05" cy="638.72" r="2.10" fill="#e2382c" stroke="none" stroke-width="1" />
<circle cx="52.32" cy="637.98" r="0.95" fill="#f47868" stroke="none" stroke-width="1" />
<circle cx="58.02" cy="638.71" r="2.10" fill="#e2382c" stroke="none" stroke-width="1" />
<circle cx="57.29" cy="637.97" r="0.95" fill="#f47868" stroke="none" stroke-width="1" />
<circle cx="63.14" cy="638.58" r="2.10" fill="#e2382c" stroke="none" stroke-width="1" />
<circle cx="62.41" cy="637.84" r="0.95" fill="#f47868" stroke="none" stroke-width="1" />
<circle cx="68.03" cy="638.82" r="2.10" fill="#e2382c" stroke="none" stroke-width="1" />
<circle cx="67.29" cy="638.08" r="0.95" fill="#f47868" stroke="none" stroke-width="1" />
<circle cx="73.29" cy="638.76" r="2.10" fill="#e2382c" stroke="none" stroke-width="1" />
<circle cx="72.56" cy="638.03" r="0.95" fill="#f47868" stroke="none" stroke-width="1" />
<circle cx="78.44" cy="638.81" r="2.10" fill="#e2382c" stroke="none" stroke-width="1" />
<circle cx="77.71" cy="638.07" r="0.95" fill="#f47868" stroke="none" stroke-width="1" />
<circle cx="83.49" cy="638.62" r="2.10" fill="#e2382c" stroke="none" stroke-width="1" />
<circle cx="82.76" cy="637.88" r="0.95" fill="#f47868" stroke="none" stroke-width="1" />
<circle cx="88.48" cy="638.91" r="2.10" fill="#e2382c" stroke="none" stroke-width="1" />
<circle cx="87.75" cy="638.17" r="0.95" fill="#f47868" stroke="none" stroke-width="1" />
<circle cx="93.61" cy="638.66" r="2.10" fill="#e2382c" stroke="none" stroke-width="1" />
<circle cx="92.87" cy="637.92" r="0.95" fill="#f47868" stroke="none" stroke-width="1" />
<circle cx="98.36" cy="638.96" r="2.10" fill="#e2382c" stroke="none" stroke-width="1" />
<circle cx="97.63" cy="638.23" r="0.95" fill="#f47868" stroke="none" stroke-width="1" />
<circle cx="103.36" cy="639.00" r="2.10" fill="#e2382c" stroke="none" stroke-width="1" />
<circle cx="102.62" cy="638.26" r="0.95" fill="#f47868" stroke="none" stroke-width="1" />
<circle cx="108.74" cy="638.57" r="2.10" fill="#e2382c" stroke="none" stroke-width="1" />
<circle cx="108.01" cy="637.83" r="0.95" fill="#f47868" stroke="none" stroke-width="1" />
<circle cx="113.46" cy="638.86" r="2.10" fill="#e2382c" stroke="none" stroke-width="1" />
<circle cx="112.73" cy="638.13" r="0.95" fill="#f47868" stroke="none" stroke-width="1" />
<circle cx="118.52" cy="638.55" r="2.10" fill="#e2382c" stroke="none" stroke-width="1" />
<circle cx="117.78" cy="637.81" r="0.95" fill="#f47868" stroke="none" stroke-width="1" />
<circle cx="123.85" cy="638.71" r="2.10" fill="#e2382c" stroke="none" stroke-width="1" />
<circle cx="123.12" cy="637.98" r="0.95" fill="#f47868" stroke="none" stroke-width="1" />
<circle cx="128.88" cy="638.56" r="2.10" fill="#e2382c" stroke="none" stroke-width="1" />
<circle cx="128.14" cy="637.83" r="0.95" fill="#f47868" stroke="none" stroke-width="1" />
<circle cx="133.73" cy="638.84" r="2.10" fill="#e2382c" stroke="none" stroke-width="1" />
<circle cx="132.99" cy="638.11" r="0.95" fill="#f47868" stroke="none" stroke-width="1" />
<circle cx="138.58" cy="638.60" r="2.10" fill="#e2382c" stroke="none" stroke-width="1" />
<circle cx="137.85" cy="637.87" r="0.95" fill="#f47868" stroke="none" stroke-width="1" />
<circle cx="143.96" cy="638.96" r="2.10" fill="#e2382c" stroke="none" stroke-width="1" />
<circle cx="143.23" cy="638.22" r="0.95" fill="#f47868" stroke="none" stroke-width="1" />
<circle cx="149.15" cy="638.56" r="2.10" fill="#e2382c" stroke="none" stroke-width="1" />
<circle cx="148.42" cy="637.82" r="0.95" fill="#f47868" stroke="none" stroke-width="1" />
<circle cx="153.97" cy="638.88" r="2.10" fill="#e2382c" stroke="none" stroke-width="1" />
<circle cx="153.23" cy="638.14" r="0.95" fill="#f47868" stroke="none" stroke-width="1" />
<circle cx="159.01" cy="638.84" r="2.10" fill="#e2382c" stroke="none" stroke-width="1" />
<circle cx="158.28" cy="638.11" r="0.95" fill="#f47868" stroke="none" stroke-width="1" />
<circle cx="163.90" cy="638.54" r="2.10" fill="#e2382c" stroke="none" stroke-width="1" />
<circle cx="163.17" cy="637.80" r="0.95" fill="#f47868" stroke="none" stroke-width="1" />
<circle cx="168.90" cy="638.52" r="2.10" fill="#e2382c" stroke="none" stroke-width="1" />
<circle cx="168.17" cy="637.78" r="0.95" fill="#f47868" stroke="none" stroke-width="1" />
<circle cx="34.97" cy="642.29" r="2.10" fill="#e2382c" stroke="none" stroke-width="1" />
<circle cx="34.24" cy="641.56" r="0.95" fill="#f47868" stroke="none" stroke-width="1" />
<circle cx="39.70" cy="642.51" r="2.10" fill="#e2382c" stroke="none" stroke-width="1" />
<circle cx="38.97" cy="641.78" r="0.95" fill="#f47868" stroke="none" stroke-width="1" />
<circle cx="44.83" cy="642.61" r="2.10" fill="#e2382c" stroke="none" stroke-width="1" />
<circle cx="44.10" cy="641.88" r="0.95" fill="#f47868" stroke="none" stroke-width="1" />
<circle cx="50.10" cy="642.51" r="2.10" fill="#e2382c" stroke="none" stroke-width="1" />
<circle cx="49.36" cy="641.78" r="0.95" fill="#f47868" stroke="none" stroke-width="1" />
<circle cx="55.29" cy="642.53" r="2.10" fill="#e2382c" stroke="none" stroke-width="1" />
<circle cx="54.56" cy="641.79" r="0.95" fill="#f47868" stroke="none" stroke-width="1" />
<circle cx="60.12" cy="642.44" r="2.10" fill="#e2382c" stroke="none" stroke-width="1" />
<circle cx="59.38" cy="641.71" r="0.95" fill="#f47868" stroke="none" stroke-width="1" />
<circle cx="65.48" cy="642.70" r="2.10" fill="#e2382c" stroke="none" stroke-width="1" />
<circle cx="64.74" cy="641.97" r="0.95" fill="#f47868" stroke="none" stroke-width="1" />
<circle cx="70.25" cy="642.68" r="2.10" fill="#e2382c" stroke="none" stroke-width="1" />
<circle cx="69.52" cy="641.94" r="0.95" fill="#f47868" stroke="none" stroke-width="1" />
<circle cx="75.72" cy="642.51" r="2.10" fill="#e2382c" stroke="none" stroke-width="1" />
<circle cx="74.99" cy="641.78" r="0.95" fill="#f47868" stroke="none" stroke-width="1" />
<circle cx="80.62" cy="642.35" r="2.10" fill="#e2382c" stroke="none" stroke-width="1" />
<circle cx="79.88" cy="641.62" r="0.95" fill="#f47868" stroke="none" stroke-width="1" />
<circle cx="85.69" cy="642.50" r="2.10" fill="#e2382c" stroke="none" stroke-width="1" />
<circle cx="84.96" cy="641.77" r="0.95" fill="#f47868" stroke="none" stroke-width="1" />
<circle cx="90.82" cy="642.26" r="2.10" fill="#e2382c" stroke="none" stroke-width="1" />
<circle cx="90.09" cy="641.53" r="0.95" fill="#f47868" stroke="none" stroke-width="1" />
<circle cx="96.10" cy="642.51" r="2.10" fill="#e2382c" stroke="none" stroke-width="1" />
<circle cx="95.36" cy="641.77" r="0.95" fill="#f47868" stroke="none" stroke-width="1" />
<circle cx="100.90" cy="642.65" r="2.10" fill="#e2382c" stroke="none" stroke-width="1" />
<circle cx="100.17" cy="641.92" r="0.95" fill="#f47868" stroke="none" stroke-width="1" />
<circle cx="106.08" cy="642.50" r="2.10" fill="#e2382c" stroke="none" stroke-width="1" />
<circle cx="105.34" cy="641.76" r="0.95" fill="#f47868" stroke="none" stroke-width="1" />
<circle cx="111.23" cy="642.28" r="2.10" fill="#e2382c" stroke="none" stroke-width="1" />
<circle cx="110.50" cy="641.55" r="0.95" fill="#f47868" stroke="none" stroke-width="1" />
<circle cx="116.25" cy="642.46" r="2.10" fill="#e2382c" stroke="none" stroke-width="1" />
<circle cx="115.52" cy="641.72" r="0.95" fill="#f47868" stroke="none" stroke-width="1" />
<circle cx="121.55" cy="642.71" r="2.10" fill="#e2382c" stroke="none" stroke-width="1" />
<circle cx="120.82" cy="641.98" r="0.95" fill="#f47868" stroke="none" stroke-width="1" />
<circle cx="126.30" cy="642.49" r="2.10" fill="#e2382c" stroke="none" stroke-width="1" />
<circle cx="125.57" cy="641.75" r="0.95" fill="#f47868" stroke="none" stroke-width="1" />
<circle cx="131.32" cy="642.47" r="2.10" fill="#e2382c" stroke="none" stroke-width="1" />
<circle cx="130.59" cy="641.73" r="0.95" fill="#f47868" stroke="none" stroke-width="1" />
<circle cx="136.76" cy="642.70" r="2.10" fill="#e2382c" stroke="none" stroke-width="1" />
<circle cx="136.02" cy="641.97" r="0.95" fill="#f47868" stroke="none" stroke-width="1" />
<circle cx="141.68" cy="642.41" r="2.10" fill="#e2382c" stroke="none" stroke-width="1" />
<circle cx="140.95" cy="641.67" r="0.95" fill="#f47868" stroke="none" stroke-width="1" />
<circle cx="146.63" cy="642.56" r="2.10" fill="#e2382c" stroke="none" stroke-width="1" />
<circle cx="145.90" cy="641.82" r="0.95" fill="#f47868" stroke="none" stroke-width="1" />
<circle cx="152.09" cy="642.31" r="2.10" fill="#e2382c" stroke="none" stroke-width="1" />
<circle cx="151.36" cy="641.58" r="0.95" fill="#f47868" stroke="none" stroke-width="1" />
<circle cx="157.11" cy="642.26" r="2.10" fill="#e2382c" stroke="none" stroke-width="1" />
<circle cx="156.38" cy="641.53" r="0.95" fill="#f47868" stroke="none" stroke-width="1" />
<circle cx="161.91" cy="642.36" r="2.10" fill="#e2382c" stroke="none" stroke-width="1" />
<circle cx="161.18" cy="641.63" r="0.95" fill="#f47868" stroke="none" stroke-width="1" />
<circle cx="167.25" cy="642.41" r="2.10" fill="#e2382c" stroke="none" stroke-width="1" />
<circle cx="166.52" cy="641.68" r="0.95" fill="#f47868" stroke="none" stroke-width="1" />
<circle cx="172.18" cy="642.56" r="2.10" fill="#e2382c" stroke="none" stroke-width="1" />
<circle cx="171.44" cy="641.82" r="0.95" fill="#f47868" stroke="none" stroke-width="1" />
<circle cx="36.75" cy="646.38" r="2.10" fill="#e2382c" stroke="none" stroke-width="1" />
<circle cx="36.02" cy="645.64" r="0.95" fill="#f47868" stroke="none" stroke-width="1" />
<circle cx="41.78" cy="646.40" r="2.10" fill="#e2382c" stroke="none" stroke-width="1" />
<circle cx="41.05" cy="645.66" r="0.95" fill="#f47868" stroke="none" stroke-width="1" />
<circle cx="47.18" cy="646.04" r="2.10" fill="#e2382c" stroke="none" stroke-width="1" />
<circle cx="46.44" cy="645.31" r="0.95" fill="#f47868" stroke="none" stroke-width="1" />
<circle cx="52.33" cy="646.36" r="2.10" fill="#e2382c" stroke="none" stroke-width="1" />
<circle cx="51.59" cy="645.63" r="0.95" fill="#f47868" stroke="none" stroke-width="1" />
<circle cx="57.06" cy="646.23" r="2.10" fill="#e2382c" stroke="none" stroke-width="1" />
<circle cx="56.33" cy="645.49" r="0.95" fill="#f47868" stroke="none" stroke-width="1" />
<circle cx="62.45" cy="646.45" r="2.10" fill="#e2382c" stroke="none" stroke-width="1" />
<circle cx="61.72" cy="645.72" r="0.95" fill="#f47868" stroke="none" stroke-width="1" />
<circle cx="67.47" cy="646.28" r="2.10" fill="#e2382c" stroke="none" stroke-width="1" />
<circle cx="66.73" cy="645.55" r="0.95" fill="#f47868" stroke="none" stroke-width="1" />
<circle cx="72.86" cy="646.40" r="2.10" fill="#e2382c" stroke="none" stroke-width="1" />
<circle cx="72.12" cy="645.66" r="0.95" fill="#f47868" stroke="none" stroke-width="1" />
<circle cx="78.03" cy="646.23" r="2.10" fill="#e2382c" stroke="none" stroke-width="1" />
<circle cx="77.29" cy="645.50" r="0.95" fill="#f47868" stroke="none" stroke-width="1" />
<circle cx="83.02" cy="646.10" r="2.10" fill="#e2382c" stroke="none" stroke-width="1" />
<circle cx="82.29" cy="645.37" r="0.95" fill="#f47868" stroke="none" stroke-width="1" />
<circle cx="88.19" cy="646.41" r="2.10" fill="#e2382c" stroke="none" stroke-width="1" />
<circle cx="87.46" cy="645.67" r="0.95" fill="#f47868" stroke="none" stroke-width="1" />
<circle cx="93.29" cy="646.36" r="2.10" fill="#e2382c" stroke="none" stroke-width="1" />
<circle cx="92.56" cy="645.62" r="0.95" fill="#f47868" stroke="none" stroke-width="1" />
<circle cx="98.22" cy="646.45" r="2.10" fill="#e2382c" stroke="none" stroke-width="1" />
<circle cx="97.48" cy="645.71" r="0.95" fill="#f47868" stroke="none" stroke-width="1" />
<circle cx="103.74" cy="646.49" r="2.10" fill="#e2382c" stroke="none" stroke-width="1" />
<circle cx="103.01" cy="645.75" r="0.95" fill="#f47868" stroke="none" stroke-width="1" />
<circle cx="108.66" cy="646.40" r="2.10" fill="#e2382c" stroke="none" stroke-width="1" />
<circle cx="107.92" cy="645.66" r="0.95" fill="#f47868" stroke="none" stroke-width="1" />
<circle cx="113.69" cy="646.45" r="2.10" fill="#e2382c" stroke="none" stroke-width="1" />
<circle cx="112.95" cy="645.72" r="0.95" fill="#f47868" stroke="none" stroke-width="1" />
<circle cx="119.09" cy="646.17" r="2.10" fill="#e2382c" stroke="none" stroke-width="1" />
<circle cx="118.36" cy="645.44" r="0.95" fill="#f47868" stroke="none" stroke-width="1" />
<circle cx="123.85" cy="646.22" r="2.10" fill="#e2382c" stroke="none" stroke-width="1" />
<circle cx="123.11" cy="645.49" r="0.95" fill="#f47868" stroke="none" stroke-width="1" />
<circle cx="129.22" cy="646.38" r="2.10" fill="#e2382c" stroke="none" stroke-width="1" />
<circle cx="128.48" cy="645.65" r="0.95" fill="#f47868" stroke="none" stroke-width="1" />
<circle cx="134.33" cy="646.01" r="2.10" fill="#e2382c" stroke="none" stroke-width="1" />
<circle cx="133.59" cy="645.28" r="0.95" fill="#f47868" stroke="none" stroke-width="1" />
<circle cx="139.63" cy="646.03" r="2.10" fill="#e2382c" stroke="none" stroke-width="1" />
<circle cx="138.89" cy="645.30" r="0.95" fill="#f47868" stroke="none" stroke-width="1" />
<circle cx="144.76" cy="646.09" r="2.10" fill="#e2382c" stroke="none" stroke-width="1" />
<circle cx="144.03" cy="645.35" r="0.95" fill="#f47868" stroke="none" stroke-width="1" />
<circle cx="149.67" cy="646.39" r="2.10" fill="#e2382c" stroke="none" stroke-width="1" />
<circle cx="148.93" cy="645.66" r="0.95" fill="#f47868" stroke="none" stroke-width="1" />
<circle cx="154.71" cy="646.07" r="2.10" fill="#e2382c" stroke="none" stroke-width="1" />
<circle cx="153.97" cy="645.34" r="0.95" fill="#f47868" stroke="none" stroke-width="1" />
<circle cx="160.04" cy="646.36" r="2.10" fill="#e2382c" stroke="none" stroke-width="1" />
<circle cx="159.30" cy="645.63" r="0.95" fill="#f47868" stroke="none" stroke-width="1" />
<circle cx="165.34" cy="646.34" r="2.10" fill="#e2382c" stroke="none" stroke-width="1" />
<circle cx="164.60" cy="645.61" r="0.95" fill="#f47868" stroke="none" stroke-width="1" />
<circle cx="170.53" cy="646.25" r="2.10" fill="#e2382c" stroke="none" stroke-width="1" />
<circle cx="169.79" cy="645.51" r="0.95" fill="#f47868" stroke="none" stroke-width="1" />
<circle cx="33.69" cy="649.94" r="2.10" fill="#e2382c" stroke="none" stroke-width="1" />
<circle cx="32.96" cy="649.21" r="0.95" fill="#f47868" stroke="none" stroke-width="1" />
<circle cx="38.73" cy="649.91" r="2.10" fill="#e2382c" stroke="none" stroke-width="1" />
<circle cx="37.99" cy="649.17" r="0.95" fill="#f47868" stroke="none" stroke-width="1" />
<circle cx="43.69" cy="650.00" r="2.10" fill="#e2382c" stroke="none" stroke-width="1" />
<circle cx="42.95" cy="649.26" r="0.95" fill="#f47868" stroke="none" stroke-width="1" />
<circle cx="49.22" cy="650.17" r="2.10" fill="#e2382c" stroke="none" stroke-width="1" />
<circle cx="48.49" cy="649.44" r="0.95" fill="#f47868" stroke="none" stroke-width="1" />
<circle cx="54.35" cy="650.23" r="2.10" fill="#e2382c" stroke="none" stroke-width="1" />
<circle cx="53.61" cy="649.49" r="0.95" fill="#f47868" stroke="none" stroke-width="1" />
<circle cx="59.31" cy="649.83" r="2.10" fill="#e2382c" stroke="none" stroke-width="1" />
<circle cx="58.58" cy="649.10" r="0.95" fill="#f47868" stroke="none" stroke-width="1" />
<circle cx="64.59" cy="649.89" r="2.10" fill="#e2382c" stroke="none" stroke-width="1" />
<circle cx="63.85" cy="649.15" r="0.95" fill="#f47868" stroke="none" stroke-width="1" />
<circle cx="69.65" cy="649.96" r="2.10" fill="#e2382c" stroke="none" stroke-width="1" />
<circle cx="68.92" cy="649.22" r="0.95" fill="#f47868" stroke="none" stroke-width="1" />
<circle cx="75.04" cy="650.00" r="2.10" fill="#e2382c" stroke="none" stroke-width="1" />
<circle cx="74.31" cy="649.26" r="0.95" fill="#f47868" stroke="none" stroke-width="1" />
<circle cx="80.07" cy="650.17" r="2.10" fill="#e2382c" stroke="none" stroke-width="1" />
<circle cx="79.34" cy="649.43" r="0.95" fill="#f47868" stroke="none" stroke-width="1" />
<circle cx="85.59" cy="649.98" r="2.10" fill="#e2382c" stroke="none" stroke-width="1" />
<circle cx="84.86" cy="649.24" r="0.95" fill="#f47868" stroke="none" stroke-width="1" />
<circle cx="90.32" cy="649.77" r="2.10" fill="#e2382c" stroke="none" stroke-width="1" />
<circle cx="89.59" cy="649.03" r="0.95" fill="#f47868" stroke="none" stroke-width="1" />
<circle cx="95.91" cy="649.77" r="2.10" fill="#e2382c" stroke="none" stroke-width="1" />
<circle cx="95.17" cy="649.04" r="0.95" fill="#f47868" stroke="none" stroke-width="1" />
<circle cx="101.01" cy="650.04" r="2.10" fill="#e2382c" stroke="none" stroke-width="1" />
<circle cx="100.28" cy="649.30" r="0.95" fill="#f47868" stroke="none" stroke-width="1" />
<circle cx="106.00" cy="650.15" r="2.10" fill="#e2382c" stroke="none" stroke-width="1" />
<circle cx="105.26" cy="649.41" r="0.95" fill="#f47868" stroke="none" stroke-width="1" />
<circle cx="111.04" cy="649.82" r="2.10" fill="#e2382c" stroke="none" stroke-width="1" />
<circle cx="110.30" cy="649.08" r="0.95" fill="#f47868" stroke="none" stroke-width="1" />
<circle cx="116.44" cy="649.76" r="2.10" fill="#e2382c" stroke="none" stroke-width="1" />
<circle cx="115.71" cy="649.03" r="0.95" fill="#f47868" stroke="none" stroke-width="1" />
<circle cx="121.81" cy="649.87" r="2.10" fill="#e2382c" stroke="none" stroke-width="1" />
<circle cx="121.08" cy="649.13" r="0.95" fill="#f47868" stroke="none" stroke-width="1" />
<circle cx="126.65" cy="649.77" r="2.10" fill="#e2382c" stroke="none" stroke-width="1" />
<circle cx="125.92" cy="649.04" r="0.95" fill="#f47868" stroke="none" stroke-width="1" />
<circle cx="132.08" cy="649.97" r="2.10" fill="#e2382c" stroke="none" stroke-width="1" />
<circle cx="131.35" cy="649.24" r="0.95" fill="#f47868" stroke="none" stroke-width="1" />
<circle cx="137.27" cy="650.08" r="2.10" fill="#e2382c" stroke="none" stroke-width="1" />
<circle cx="136.53" cy="649.34" r="0.95" fill="#f47868" stroke="none" stroke-width="1" />
<circle cx="142.54" cy="650.23" r="2.10" fill="#e2382c" stroke="none" stroke-width="1" />
<circle cx="141.81" cy="649.49" r="0.95" fill="#f47868" stroke="none" stroke-width="1" />
<circle cx="147.67" cy="649.85" r="2.10" fill="#e2382c" stroke="none" stroke-width="1" />
<circle cx="146.93" cy="649.11" r="0.95" fill="#f47868" stroke="none" stroke-width="1" />
<circle cx="152.75" cy="649.84" r="2.10" fill="#e2382c" stroke="none" stroke-width="1" />
<circle cx="152.01" cy="649.10" r="0.95" fill="#f47868" stroke="none" stroke-width="1" />
<circle cx="157.70" cy="649.99" r="2.10" fill="#e2382c" stroke="none" stroke-width="1" />
<circle cx="156.96" cy="649.25" r="0.95" fill="#f47868" stroke="none" stroke-width="1" />
<circle cx="163.24" cy="649.84" r="2.10" fill="#e2382c" stroke="none" stroke-width="1" />
<circle cx="162.50" cy="649.10" r="0.95" fill="#f47868" stroke="none" stroke-width="1" />
<circle cx="168.20" cy="649.92" r="2.10" fill="#e2382c" stroke="none" stroke-width="1" />
<circle cx="167.47" cy="649.19" r="0.95" fill="#f47868" stroke="none" stroke-width="1" />
<circle cx="173.60" cy="650.01" r="2.10" fill="#e2382c" stroke="none" stroke-width="1" />
<circle cx="172.86" cy="649.28" r="0.95" fill="#f47868" stroke="none" stroke-width="1" />
<circle cx="35.61" cy="653.95" r="2.10" fill="#e2382c" stroke="none" stroke-width="1" />
<circle cx="34.87" cy="653.22" r="0.95" fill="#f47868" stroke="none" stroke-width="1" />
<circle cx="40.84" cy="653.85" r="2.10" fill="#e2382c" stroke="none" stroke-width="1" />
<circle cx="40.11" cy="653.12" r="0.95" fill="#f47868" stroke="none" stroke-width="1" />
<circle cx="46.10" cy="653.96" r="2.10" fill="#e2382c" stroke="none" stroke-width="1" />
<circle cx="45.37" cy="653.22" r="0.95" fill="#f47868" stroke="none" stroke-width="1" />
<circle cx="51.11" cy="653.84" r="2.10" fill="#e2382c" stroke="none" stroke-width="1" />
<circle cx="50.38" cy="653.11" r="0.95" fill="#f47868" stroke="none" stroke-width="1" />
<circle cx="56.62" cy="653.94" r="2.10" fill="#e2382c" stroke="none" stroke-width="1" />
<circle cx="55.88" cy="653.20" r="0.95" fill="#f47868" stroke="none" stroke-width="1" />
<circle cx="61.61" cy="653.90" r="2.10" fill="#e2382c" stroke="none" stroke-width="1" />
<circle cx="60.87" cy="653.16" r="0.95" fill="#f47868" stroke="none" stroke-width="1" />
<circle cx="67.06" cy="653.79" r="2.10" fill="#e2382c" stroke="none" stroke-width="1" />
<circle cx="66.33" cy="653.05" r="0.95" fill="#f47868" stroke="none" stroke-width="1" />
<circle cx="72.17" cy="653.69" r="2.10" fill="#e2382c" stroke="none" stroke-width="1" />
<circle cx="71.44" cy="652.96" r="0.95" fill="#f47868" stroke="none" stroke-width="1" />
<circle cx="77.38" cy="653.80" r="2.10" fill="#e2382c" stroke="none" stroke-width="1" />
<circle cx="76.65" cy="653.07" r="0.95" fill="#f47868" stroke="none" stroke-width="1" />
<circle cx="82.36" cy="653.82" r="2.10" fill="#e2382c" stroke="none" stroke-width="1" />
<circle cx="81.63" cy="653.08" r="0.95" fill="#f47868" stroke="none" stroke-width="1" />
<circle cx="88.05" cy="653.94" r="2.10" fill="#e2382c" stroke="none" stroke-width="1" />
<circle cx="87.32" cy="653.20" r="0.95" fill="#f47868" stroke="none" stroke-width="1" />
<circle cx="93.15" cy="653.69" r="2.10" fill="#e2382c" stroke="none" stroke-width="1" />
<circle cx="92.42" cy="652.96" r="0.95" fill="#f47868" stroke="none" stroke-width="1" />
<circle cx="98.39" cy="653.79" r="2.10" fill="#e2382c" stroke="none" stroke-width="1" />
<circle cx="97.65" cy="653.06" r="0.95" fill="#f47868" stroke="none" stroke-width="1" />
<circle cx="103.47" cy="653.92" r="2.10" fill="#e2382c" stroke="none" stroke-width="1" />
<circle cx="102.74" cy="653.18" r="0.95" fill="#f47868" stroke="none" stroke-width="1" />
<circle cx="108.52" cy="653.88" r="2.10" fill="#e2382c" stroke="none" stroke-width="1" />
<circle cx="107.79" cy="653.14" r="0.95" fill="#f47868" stroke="none" stroke-width="1" />
<circle cx="113.73" cy="653.80" r="2.10" fill="#e2382c" stroke="none" stroke-width="1" />
<circle cx="112.99" cy="653.07" r="0.95" fill="#f47868" stroke="none" stroke-width="1" />
<circle cx="119.18" cy="653.62" r="2.10" fill="#e2382c" stroke="none" stroke-width="1" />
<circle cx="118.45" cy="652.88" r="0.95" fill="#f47868" stroke="none" stroke-width="1" />
<circle cx="124.53" cy="653.75" r="2.10" fill="#e2382c" stroke="none" stroke-width="1" />
<circle cx="123.79" cy="653.01" r="0.95" fill="#f47868" stroke="none" stroke-width="1" />
<circle cx="129.71" cy="653.96" r="2.10" fill="#e2382c" stroke="none" stroke-width="1" />
<circle cx="128.98" cy="653.23" r="0.95" fill="#f47868" stroke="none" stroke-width="1" />
<circle cx="134.77" cy="653.51" r="2.10" fill="#e2382c" stroke="none" stroke-width="1" />
<circle cx="134.03" cy="652.77" r="0.95" fill="#f47868" stroke="none" stroke-width="1" />
<circle cx="140.02" cy="653.84" r="2.10" fill="#e2382c" stroke="none" stroke-width="1" />
<circle cx="139.29" cy="653.10" r="0.95" fill="#f47868" stroke="none" stroke-width="1" />
<circle cx="145.20" cy="653.58" r="2.10" fill="#e2382c" stroke="none" stroke-width="1" />
<circle cx="144.47" cy="652.85" r="0.95" fill="#f47868" stroke="none" stroke-width="1" />
<circle cx="150.79" cy="653.83" r="2.10" fill="#e2382c" stroke="none" stroke-width="1" />
<circle cx="150.05" cy="653.09" r="0.95" fill="#f47868" stroke="none" stroke-width="1" />
<circle cx="155.79" cy="653.95" r="2.10" fill="#e2382c" stroke="none" stroke-width="1" />
<circle cx="155.05" cy="653.21" r="0.95" fill="#f47868" stroke="none" stroke-width="1" />
<circle cx="160.96" cy="653.83" r="2.10" fill="#e2382c" stroke="none" stroke-width="1" />
<circle cx="160.22" cy="653.10" r="0.95" fill="#f47868" stroke="none" stroke-width="1" />
<circle cx="166.13" cy="653.72" r="2.10" fill="#e2382c" stroke="none" stroke-width="1" />
<circle cx="165.39" cy="652.98" r="0.95" fill="#f47868" stroke="none" stroke-width="1" />
<circle cx="171.66" cy="653.96" r="2.10" fill="#e2382c" stroke="none" stroke-width="1" />
<circle cx="170.93" cy="653.22" r="0.95" fill="#f47868" stroke="none" stroke-width="1" />
<circle cx="32.12" cy="657.34" r="2.10" fill="#e2382c" stroke="none" stroke-width="1" />
<circle cx="31.39" cy="656.61" r="0.95" fill="#f47868" stroke="none" stroke-width="1" />
<circle cx="37.65" cy="657.72" r="2.10" fill="#e2382c" stroke="none" stroke-width="1" />
<circle cx="36.91" cy="656.99" r="0.95" fill="#f47868" stroke="none" stroke-width="1" />
<circle cx="42.65" cy="657.73" r="2.10" fill="#e2382c" stroke="none" stroke-width="1" />
<circle cx="41.92" cy="656.99" r="0.95" fill="#f47868" stroke="none" stroke-width="1" />
<circle cx="48.27" cy="657.55" r="2.10" fill="#e2382c" stroke="none" stroke-width="1" />
<circle cx="47.54" cy="656.82" r="0.95" fill="#f47868" stroke="none" stroke-width="1" />
<circle cx="53.32" cy="657.30" r="2.10" fill="#e2382c" stroke="none" stroke-width="1" />
<circle cx="52.59" cy="656.57" r="0.95" fill="#f47868" stroke="none" stroke-width="1" />
<circle cx="58.41" cy="657.73" r="2.10" fill="#e2382c" stroke="none" stroke-width="1" />
<circle cx="57.67" cy="657.00" r="0.95" fill="#f47868" stroke="none" stroke-width="1" />
<circle cx="63.79" cy="657.60" r="2.10" fill="#e2382c" stroke="none" stroke-width="1" />
<circle cx="63.05" cy="656.87" r="0.95" fill="#f47868" stroke="none" stroke-width="1" />
<circle cx="69.07" cy="657.66" r="2.10" fill="#e2382c" stroke="none" stroke-width="1" />
<circle cx="68.34" cy="656.93" r="0.95" fill="#f47868" stroke="none" stroke-width="1" />
<circle cx="74.52" cy="657.40" r="2.10" fill="#e2382c" stroke="none" stroke-width="1" />
<circle cx="73.79" cy="656.66" r="0.95" fill="#f47868" stroke="none" stroke-width="1" />
<circle cx="79.59" cy="657.61" r="2.10" fill="#e2382c" stroke="none" stroke-width="1" />
<circle cx="78.85" cy="656.88" r="0.95" fill="#f47868" stroke="none" stroke-width="1" />
<circle cx="84.81" cy="657.36" r="2.10" fill="#e2382c" stroke="none" stroke-width="1" />
<circle cx="84.08" cy="656.63" r="0.95" fill="#f47868" stroke="none" stroke-width="1" />
<circle cx="90.34" cy="657.68" r="2.10" fill="#e2382c" stroke="none" stroke-width="1" />
<circle cx="89.60" cy="656.94" r="0.95" fill="#f47868" stroke="none" stroke-width="1" />
<circle cx="95.64" cy="657.39" r="2.10" fill="#e2382c" stroke="none" stroke-width="1" />
<circle cx="94.91" cy="656.66" r="0.95" fill="#f47868" stroke="none" stroke-width="1" />
<circle cx="101.07" cy="657.35" r="2.10" fill="#e2382c" stroke="none" stroke-width="1" />
<circle cx="100.33" cy="656.62" r="0.95" fill="#f47868" stroke="none" stroke-width="1" />
<circle cx="105.90" cy="657.38" r="2.10" fill="#e2382c" stroke="none" stroke-width="1" />
<circle cx="105.16" cy="656.65" r="0.95" fill="#f47868" stroke="none" stroke-width="1" />
<circle cx="111.39" cy="657.28" r="2.10" fill="#e2382c" stroke="none" stroke-width="1" />
<circle cx="110.65" cy="656.55" r="0.95" fill="#f47868" stroke="none" stroke-width="1" />
<circle cx="116.53" cy="657.43" r="2.10" fill="#e2382c" stroke="none" stroke-width="1" />
<circle cx="115.80" cy="656.70" r="0.95" fill="#f47868" stroke="none" stroke-width="1" />
<circle cx="122.01" cy="657.32" r="2.10" fill="#e2382c" stroke="none" stroke-width="1" />
<circle cx="121.27" cy="656.58" r="0.95" fill="#f47868" stroke="none" stroke-width="1" />
<circle cx="127.18" cy="657.70" r="2.10" fill="#e2382c" stroke="none" stroke-width="1" />
<circle cx="126.45" cy="656.96" r="0.95" fill="#f47868" stroke="none" stroke-width="1" />
<circle cx="132.77" cy="657.58" r="2.10" fill="#e2382c" stroke="none" stroke-width="1" />
<circle cx="132.03" cy="656.84" r="0.95" fill="#f47868" stroke="none" stroke-width="1" />
<circle cx="137.90" cy="657.54" r="2.10" fill="#e2382c" stroke="none" stroke-width="1" />
<circle cx="137.17" cy="656.81" r="0.95" fill="#f47868" stroke="none" stroke-width="1" />
<circle cx="142.90" cy="657.27" r="2.10" fill="#e2382c" stroke="none" stroke-width="1" />
<circle cx="142.17" cy="656.53" r="0.95" fill="#f47868" stroke="none" stroke-width="1" />
<circle cx="148.12" cy="657.71" r="2.10" fill="#e2382c" stroke="none" stroke-width="1" />
<circle cx="147.39" cy="656.97" r="0.95" fill="#f47868" stroke="none" stroke-width="1" />
<circle cx="153.74" cy="657.73" r="2.10" fill="#e2382c" stroke="none" stroke-width="1" />
<circle cx="153.00" cy="657.00" r="0.95" fill="#f47868" stroke="none" stroke-width="1" />
<circle cx="158.68" cy="657.57" r="2.10" fill="#e2382c" stroke="none" stroke-width="1" />
<circle cx="157.94" cy="656.83" r="0.95" fill="#f47868" stroke="none" stroke-width="1" />
<circle cx="164.19" cy="657.62" r="2.10" fill="#e2382c" stroke="none" stroke-width="1" />
<circle cx="163.45" cy="656.88" r="0.95" fill="#f47868" stroke="none" stroke-width="1" />
<circle cx="169.38" cy="657.75" r="2.10" fill="#e2382c" stroke="none" stroke-width="1" />
<circle cx="168.65" cy="657.01" r="0.95" fill="#f47868" stroke="none" stroke-width="1" />
<circle cx="174.54" cy="657.52" r="2.10" fill="#e2382c" stroke="none" stroke-width="1" />
<circle cx="173.80" cy="656.79" r="0.95" fill="#f47868" stroke="none" stroke-width="1" />
<circle cx="34.07" cy="661.31" r="2.10" fill="#e2382c" stroke="none" stroke-width="1" />
<circle cx="33.34" cy="660.58" r="0.95" fill="#f47868" stroke="none" stroke-width="1" />
<circle cx="39.75" cy="661.13" r="2.10" fill="#e2382c" stroke="none" stroke-width="1" />
<circle cx="39.02" cy="660.40" r="0.95" fill="#f47868" stroke="none" stroke-width="1" />
<circle cx="44.73" cy="661.17" r="2.10" fill="#e2382c" stroke="none" stroke-width="1" />
<circle cx="43.99" cy="660.43" r="0.95" fill="#f47868" stroke="none" stroke-width="1" />
<circle cx="50.49" cy="661.38" r="2.10" fill="#e2382c" stroke="none" stroke-width="1" />
<circle cx="49.76" cy="660.64" r="0.95" fill="#f47868" stroke="none" stroke-width="1" />
<circle cx="55.39" cy="661.12" r="2.10" fill="#e2382c" stroke="none" stroke-width="1" />
<circle cx="54.66" cy="660.39" r="0.95" fill="#f47868" stroke="none" stroke-width="1" />
<circle cx="60.71" cy="661.03" r="2.10" fill="#e2382c" stroke="none" stroke-width="1" />
<circle cx="59.97" cy="660.29" r="0.95" fill="#f47868" stroke="none" stroke-width="1" />
<circle cx="66.38" cy="661.09" r="2.10" fill="#e2382c" stroke="none" stroke-width="1" />
<circle cx="65.64" cy="660.35" r="0.95" fill="#f47868" stroke="none" stroke-width="1" />
<circle cx="71.59" cy="661.22" r="2.10" fill="#e2382c" stroke="none" stroke-width="1" />
<circle cx="70.85" cy="660.49" r="0.95" fill="#f47868" stroke="none" stroke-width="1" />
<circle cx="76.72" cy="661.37" r="2.10" fill="#e2382c" stroke="none" stroke-width="1" />
<circle cx="75.99" cy="660.63" r="0.95" fill="#f47868" stroke="none" stroke-width="1" />
<circle cx="82.02" cy="661.32" r="2.10" fill="#e2382c" stroke="none" stroke-width="1" />
<circle cx="81.28" cy="660.59" r="0.95" fill="#f47868" stroke="none" stroke-width="1" />
<circle cx="87.34" cy="661.21" r="2.10" fill="#e2382c" stroke="none" stroke-width="1" />
<circle cx="86.60" cy="660.48" r="0.95" fill="#f47868" stroke="none" stroke-width="1" />
<circle cx="92.71" cy="661.13" r="2.10" fill="#e2382c" stroke="none" stroke-width="1" />
<circle cx="91.97" cy="660.40" r="0.95" fill="#f47868" stroke="none" stroke-width="1" />
<circle cx="98.41" cy="661.40" r="2.10" fill="#e2382c" stroke="none" stroke-width="1" />
<circle cx="97.68" cy="660.67" r="0.95" fill="#f47868" stroke="none" stroke-width="1" />
<circle cx="103.40" cy="661.44" r="2.10" fill="#e2382c" stroke="none" stroke-width="1" />
<circle cx="102.67" cy="660.71" r="0.95" fill="#f47868" stroke="none" stroke-width="1" />
<circle cx="108.68" cy="661.20" r="2.10" fill="#e2382c" stroke="none" stroke-width="1" />
<circle cx="107.94" cy="660.46" r="0.95" fill="#f47868" stroke="none" stroke-width="1" />
<circle cx="114.33" cy="661.32" r="2.10" fill="#e2382c" stroke="none" stroke-width="1" />
<circle cx="113.59" cy="660.59" r="0.95" fill="#f47868" stroke="none" stroke-width="1" />
<circle cx="119.27" cy="661.49" r="2.10" fill="#e2382c" stroke="none" stroke-width="1" />
<circle cx="118.54" cy="660.76" r="0.95" fill="#f47868" stroke="none" stroke-width="1" />
<circle cx="124.65" cy="661.13" r="2.10" fill="#e2382c" stroke="none" stroke-width="1" />
<circle cx="123.92" cy="660.39" r="0.95" fill="#f47868" stroke="none" stroke-width="1" />
<circle cx="130.26" cy="661.16" r="2.10" fill="#e2382c" stroke="none" stroke-width="1" />
<circle cx="129.52" cy="660.43" r="0.95" fill="#f47868" stroke="none" stroke-width="1" />
<circle cx="135.34" cy="661.04" r="2.10" fill="#e2382c" stroke="none" stroke-width="1" />
<circle cx="134.61" cy="660.30" r="0.95" fill="#f47868" stroke="none" stroke-width="1" />
<circle cx="140.56" cy="661.29" r="2.10" fill="#e2382c" stroke="none" stroke-width="1" />
<circle cx="139.83" cy="660.56" r="0.95" fill="#f47868" stroke="none" stroke-width="1" />
<circle cx="145.96" cy="661.30" r="2.10" fill="#e2382c" stroke="none" stroke-width="1" />
<circle cx="145.23" cy="660.57" r="0.95" fill="#f47868" stroke="none" stroke-width="1" />
<circle cx="151.35" cy="661.23" r="2.10" fill="#e2382c" stroke="none" stroke-width="1" />
<circle cx="150.62" cy="660.49" r="0.95" fill="#f47868" stroke="none" stroke-width="1" />
<circle cx="156.97" cy="661.24" r="2.10" fill="#e2382c" stroke="none" stroke-width="1" />
<circle cx="156.24" cy="660.51" r="0.95" fill="#f47868" stroke="none" stroke-width="1" />
<circle cx="162.10" cy="661.43" r="2.10" fill="#e2382c" stroke="none" stroke-width="1" />
<circle cx="161.37" cy="660.70" r="0.95" fill="#f47868" stroke="none" stroke-width="1" />
<circle cx="167.23" cy="661.08" r="2.10" fill="#e2382c" stroke="none" stroke-width="1" />
<circle cx="166.50" cy="660.34" r="0.95" fill="#f47868" stroke="none" stroke-width="1" />
<circle cx="172.92" cy="661.41" r="2.10" fill="#e2382c" stroke="none" stroke-width="1" />
<circle cx="172.18" cy="660.67" r="0.95" fill="#f47868" stroke="none" stroke-width="1" />
<circle cx="30.98" cy="665.03" r="2.10" fill="#e2382c" stroke="none" stroke-width="1" />
<circle cx="30.24" cy="664.29" r="0.95" fill="#f47868" stroke="none" stroke-width="1" />
<circle cx="36.58" cy="664.98" r="2.10" fill="#e2382c" stroke="none" stroke-width="1" />
<circle cx="35.85" cy="664.25" r="0.95" fill="#f47868" stroke="none" stroke-width="1" />
<circle cx="41.74" cy="665.04" r="2.10" fill="#e2382c" stroke="none" stroke-width="1" />
<circle cx="41.01" cy="664.31" r="0.95" fill="#f47868" stroke="none" stroke-width="1" />
<circle cx="46.95" cy="665.01" r="2.10" fill="#e2382c" stroke="none" stroke-width="1" />
<circle cx="46.22" cy="664.27" r="0.95" fill="#f47868" stroke="none" stroke-width="1" />
<circle cx="52.55" cy="665.15" r="2.10" fill="#e2382c" stroke="none" stroke-width="1" />
<circle cx="51.81" cy="664.41" r="0.95" fill="#f47868" stroke="none" stroke-width="1" />
<circle cx="57.65" cy="664.90" r="2.10" fill="#e2382c" stroke="none" stroke-width="1" />
<circle cx="56.91" cy="664.17" r="0.95" fill="#f47868" stroke="none" stroke-width="1" />
<circle cx="63.02" cy="665.15" r="2.10" fill="#e2382c" stroke="none" stroke-width="1" />
<circle cx="62.28" cy="664.42" r="0.95" fill="#f47868" stroke="none" stroke-width="1" />
<circle cx="68.69" cy="664.77" r="2.10" fill="#e2382c" stroke="none" stroke-width="1" />
<circle cx="67.95" cy="664.04" r="0.95" fill="#f47868" stroke="none" stroke-width="1" />
<circle cx="74.20" cy="665.23" r="2.10" fill="#e2382c" stroke="none" stroke-width="1" />
<circle cx="73.47" cy="664.50" r="0.95" fill="#f47868" stroke="none" stroke-width="1" />
<circle cx="79.41" cy="665.06" r="2.10" fill="#e2382c" stroke="none" stroke-width="1" />
<circle cx="78.68" cy="664.32" r="0.95" fill="#f47868" stroke="none" stroke-width="1" />
<circle cx="84.53" cy="664.76" r="2.10" fill="#e2382c" stroke="none" stroke-width="1" />
<circle cx="83.80" cy="664.02" r="0.95" fill="#f47868" stroke="none" stroke-width="1" />
<circle cx="90.09" cy="664.78" r="2.10" fill="#e2382c" stroke="none" stroke-width="1" />
<circle cx="89.35" cy="664.04" r="0.95" fill="#f47868" stroke="none" stroke-width="1" />
<circle cx="95.29" cy="664.87" r="2.10" fill="#e2382c" stroke="none" stroke-width="1" />
<circle cx="94.55" cy="664.14" r="0.95" fill="#f47868" stroke="none" stroke-width="1" />
<circle cx="100.58" cy="664.98" r="2.10" fill="#e2382c" stroke="none" stroke-width="1" />
<circle cx="99.84" cy="664.25" r="0.95" fill="#f47868" stroke="none" stroke-width="1" />
<circle cx="106.16" cy="665.17" r="2.10" fill="#e2382c" stroke="none" stroke-width="1" />
<circle cx="105.42" cy="664.44" r="0.95" fill="#f47868" stroke="none" stroke-width="1" />
<circle cx="111.57" cy="665.07" r="2.10" fill="#e2382c" stroke="none" stroke-width="1" />
<circle cx="110.83" cy="664.34" r="0.95" fill="#f47868" stroke="none" stroke-width="1" />
<circle cx="116.93" cy="665.08" r="2.10" fill="#e2382c" stroke="none" stroke-width="1" />
<circle cx="116.19" cy="664.35" r="0.95" fill="#f47868" stroke="none" stroke-width="1" />
<circle cx="122.27" cy="664.89" r="2.10" fill="#e2382c" stroke="none" stroke-width="1" />
<circle cx="121.54" cy="664.15" r="0.95" fill="#f47868" stroke="none" stroke-width="1" />
<circle cx="127.92" cy="665.25" r="2.10" fill="#e2382c" stroke="none" stroke-width="1" />
<circle cx="127.18" cy="664.51" r="0.95" fill="#f47868" stroke="none" stroke-width="1" />
<circle cx="133.21" cy="665.10" r="2.10" fill="#e2382c" stroke="none" stroke-width="1" />
<circle cx="132.47" cy="664.37" r="0.95" fill="#f47868" stroke="none" stroke-width="1" />
<circle cx="138.32" cy="664.86" r="2.10" fill="#e2382c" stroke="none" stroke-width="1" />
<circle cx="137.58" cy="664.13" r="0.95" fill="#f47868" stroke="none" stroke-width="1" />
<circle cx="143.67" cy="664.79" r="2.10" fill="#e2382c" stroke="none" stroke-width="1" />
<circle cx="142.94" cy="664.05" r="0.95" fill="#f47868" stroke="none" stroke-width="1" />
<circle cx="149.28" cy="664.95" r="2.10" fill="#e2382c" stroke="none" stroke-width="1" />
<circle cx="148.55" cy="664.22" r="0.95" fill="#f47868" stroke="none" stroke-width="1" />
<circle cx="154.69" cy="664.94" r="2.10" fill="#e2382c" stroke="none" stroke-width="1" />
<circle cx="153.96" cy="664.21" r="0.95" fill="#f47868" stroke="none" stroke-width="1" />
<circle cx="160.12" cy="665.17" r="2.10" fill="#e2382c" stroke="none" stroke-width="1" />
<circle cx="159.38" cy="664.44" r="0.95" fill="#f47868" stroke="none" stroke-width="1" />
<circle cx="165.01" cy="664.85" r="2.10" fill="#e2382c" stroke="none" stroke-width="1" />
<circle cx="164.27" cy="664.12" r="0.95" fill="#f47868" stroke="none" stroke-width="1" />
<circle cx="170.83" cy="664.98" r="2.10" fill="#e2382c" stroke="none" stroke-width="1" />
<circle cx="170.10" cy="664.25" r="0.95" fill="#f47868" stroke="none" stroke-width="1" />
<circle cx="176.24" cy="664.95" r="2.10" fill="#e2382c" stroke="none" stroke-width="1" />
<circle cx="175.51" cy="664.21" r="0.95" fill="#f47868" stroke="none" stroke-width="1" />
<rect x="39.50" y="229.50" width="147.80" height="120.00" fill="none" stroke="#333" stroke-width="1.1" />
<line x1="39.50" y1="349.50" x2="39.50" y2="347.00" stroke="#333" stroke-width="0.8" />
<text x="39.50" y="357.80" font-family="Liberation Sans" font-size="6.372000000000001" font-weight="bold" fill="#222" text-anchor="middle" style="">-5</text>
<line x1="54.28" y1="349.50" x2="54.28" y2="347.00" stroke="#333" stroke-width="0.8" />
<text x="54.28" y="357.80" font-family="Liberation Sans" font-size="6.372000000000001" font-weight="bold" fill="#222" text-anchor="middle" style="">-4</text>
<line x1="69.06" y1="349.50" x2="69.06" y2="347.00" stroke="#333" stroke-width="0.8" />
<text x="69.06" y="357.80" font-family="Liberation Sans" font-size="6.372000000000001" font-weight="bold" fill="#222" text-anchor="middle" style="">-3</text>
<line x1="83.84" y1="349.50" x2="83.84" y2="347.00" stroke="#333" stroke-width="0.8" />
<text x="83.84" y="357.80" font-family="Liberation Sans" font-size="6.372000000000001" font-weight="bold" fill="#222" text-anchor="middle" style="">-2</text>
<line x1="98.62" y1="349.50" x2="98.62" y2="347.00" stroke="#333" stroke-width="0.8" />
<text x="98.62" y="357.80" font-family="Liberation Sans" font-size="6.372000000000001" font-weight="bold" fill="#222" text-anchor="middle" style="">-1</text>
<line x1="113.40" y1="349.50" x2="113.40" y2="347.00" stroke="#333" stroke-width="0.8" />
<text x="113.40" y="357.80" font-family="Liberation Sans" font-size="6.372000000000001" font-weight="bold" fill="#222" text-anchor="middle" style="">0</text>
<line x1="128.18" y1="349.50" x2="128.18" y2="347.00" stroke="#333" stroke-width="0.8" />
<text x="128.18" y="357.80" font-family="Liberation Sans" font-size="6.372000000000001" font-weight="bold" fill="#222" text-anchor="middle" style="">1</text>
<line x1="142.96" y1="349.50" x2="142.96" y2="347.00" stroke="#333" stroke-width="0.8" />
<text x="142.96" y="357.80" font-family="Liberation Sans" font-size="6.372000000000001" font-weight="bold" fill="#222" text-anchor="middle" style="">2</text>
<line x1="157.74" y1="349.50" x2="157.74" y2="347.00" stroke="#333" stroke-width="0.8" />
<text x="157.74" y="357.80" font-family="Liberation Sans" font-size="6.372000000000001" font-weight="bold" fill="#222" text-anchor="middle" style="">3</text>
<line x1="172.52" y1="349.50" x2="172.52" y2="347.00" stroke="#333" stroke-width="0.8" />
<text x="172.52" y="357.80" font-family="Liberation Sans" font-size="6.372000000000001" font-weight="bold" fill="#222" text-anchor="middle" style="">4</text>
<line x1="187.30" y1="349.50" x2="187.30" y2="347.00" stroke="#333" stroke-width="0.8" />
<text x="187.30" y="357.80" font-family="Liberation Sans" font-size="6.372000000000001" font-weight="bold" fill="#222" text-anchor="middle" style="">5</text>
<line x1="46.89" y1="349.50" x2="46.89" y2="348.10" stroke="#333" stroke-width="0.7" />
<line x1="61.67" y1="349.50" x2="61.67" y2="348.10" stroke="#333" stroke-width="0.7" />
<line x1="76.45" y1="349.50" x2="76.45" y2="348.10" stroke="#333" stroke-width="0.7" />
<line x1="91.23" y1="349.50" x2="91.23" y2="348.10" stroke="#333" stroke-width="0.7" />
<line x1="106.01" y1="349.50" x2="106.01" y2="348.10" stroke="#333" stroke-width="0.7" />
<line x1="120.79" y1="349.50" x2="120.79" y2="348.10" stroke="#333" stroke-width="0.7" />
<line x1="135.57" y1="349.50" x2="135.57" y2="348.10" stroke="#333" stroke-width="0.7" />
<line x1="150.35" y1="349.50" x2="150.35" y2="348.10" stroke="#333" stroke-width="0.7" />
<line x1="165.13" y1="349.50" x2="165.13" y2="348.10" stroke="#333" stroke-width="0.7" />
<line x1="179.91" y1="349.50" x2="179.91" y2="348.10" stroke="#333" stroke-width="0.7" />
<line x1="39.50" y1="349.50" x2="42.00" y2="349.50" stroke="#333" stroke-width="0.8" />
<text x="37.00" y="351.80" font-family="Liberation Sans" font-size="6.37" font-weight="bold" fill="#222" text-anchor="end">10<tspan font-size="4.43" dy="-2.9">&#8211;11</tspan></text>
<line x1="39.50" y1="318.60" x2="42.00" y2="318.60" stroke="#333" stroke-width="0.8" />
<text x="37.00" y="320.90" font-family="Liberation Sans" font-size="6.37" font-weight="bold" fill="#222" text-anchor="end">10<tspan font-size="4.43" dy="-2.9">&#8211;10</tspan></text>
<line x1="39.50" y1="287.70" x2="42.00" y2="287.70" stroke="#333" stroke-width="0.8" />
<text x="37.00" y="290.00" font-family="Liberation Sans" font-size="6.37" font-weight="bold" fill="#222" text-anchor="end">10<tspan font-size="4.43" dy="-2.9">&#8211;9</tspan></text>
<line x1="39.50" y1="256.80" x2="42.00" y2="256.80" stroke="#333" stroke-width="0.8" />
<text x="37.00" y="259.10" font-family="Liberation Sans" font-size="6.37" font-weight="bold" fill="#222" text-anchor="end">10<tspan font-size="4.43" dy="-2.9">&#8211;8</tspan></text>
<line x1="39.50" y1="340.20" x2="40.90" y2="340.20" stroke="#333" stroke-width="0.7" />
<line x1="39.50" y1="334.76" x2="40.90" y2="334.76" stroke="#333" stroke-width="0.7" />
<line x1="39.50" y1="330.90" x2="40.90" y2="330.90" stroke="#333" stroke-width="0.7" />
<line x1="39.50" y1="327.90" x2="40.90" y2="327.90" stroke="#333" stroke-width="0.7" />
<line x1="39.50" y1="325.46" x2="40.90" y2="325.46" stroke="#333" stroke-width="0.7" />
<line x1="39.50" y1="323.39" x2="40.90" y2="323.39" stroke="#333" stroke-width="0.7" />
<line x1="39.50" y1="321.59" x2="40.90" y2="321.59" stroke="#333" stroke-width="0.7" />
<line x1="39.50" y1="320.01" x2="40.90" y2="320.01" stroke="#333" stroke-width="0.7" />
<line x1="39.50" y1="309.30" x2="40.90" y2="309.30" stroke="#333" stroke-width="0.7" />
<line x1="39.50" y1="303.86" x2="40.90" y2="303.86" stroke="#333" stroke-width="0.7" />
<line x1="39.50" y1="300.00" x2="40.90" y2="300.00" stroke="#333" stroke-width="0.7" />
<line x1="39.50" y1="297.00" x2="40.90" y2="297.00" stroke="#333" stroke-width="0.7" />
<line x1="39.50" y1="294.56" x2="40.90" y2="294.56" stroke="#333" stroke-width="0.7" />
<line x1="39.50" y1="292.49" x2="40.90" y2="292.49" stroke="#333" stroke-width="0.7" />
<line x1="39.50" y1="290.69" x2="40.90" y2="290.69" stroke="#333" stroke-width="0.7" />
<line x1="39.50" y1="289.11" x2="40.90" y2="289.11" stroke="#333" stroke-width="0.7" />
<line x1="39.50" y1="278.40" x2="40.90" y2="278.40" stroke="#333" stroke-width="0.7" />
<line x1="39.50" y1="272.96" x2="40.90" y2="272.96" stroke="#333" stroke-width="0.7" />
<line x1="39.50" y1="269.10" x2="40.90" y2="269.10" stroke="#333" stroke-width="0.7" />
<line x1="39.50" y1="266.10" x2="40.90" y2="266.10" stroke="#333" stroke-width="0.7" />
<line x1="39.50" y1="263.66" x2="40.90" y2="263.66" stroke="#333" stroke-width="0.7" />
<line x1="39.50" y1="261.59" x2="40.90" y2="261.59" stroke="#333" stroke-width="0.7" />
<line x1="39.50" y1="259.79" x2="40.90" y2="259.79" stroke="#333" stroke-width="0.7" />
<line x1="39.50" y1="258.21" x2="40.90" y2="258.21" stroke="#333" stroke-width="0.7" />
<line x1="39.50" y1="247.50" x2="40.90" y2="247.50" stroke="#333" stroke-width="0.7" />
<line x1="39.50" y1="242.06" x2="40.90" y2="242.06" stroke="#333" stroke-width="0.7" />
<line x1="39.50" y1="238.20" x2="40.90" y2="238.20" stroke="#333" stroke-width="0.7" />
<line x1="39.50" y1="235.20" x2="40.90" y2="235.20" stroke="#333" stroke-width="0.7" />
<line x1="39.50" y1="232.76" x2="40.90" y2="232.76" stroke="#333" stroke-width="0.7" />
<line x1="39.50" y1="230.69" x2="40.90" y2="230.69" stroke="#333" stroke-width="0.7" />
<text x="113.40" y="369.60" font-family="Liberation Sans" font-size="6.8" font-weight="bold" fill="#222" text-anchor="middle" style="" textLength="51.8" lengthAdjust="spacingAndGlyphs">Gate Voltage (V)</text>
<text x="18.80" y="289.50" font-family="Liberation Sans" font-size="6.8" font-weight="bold" fill="#222" text-anchor="middle" style="" textLength="53.5" lengthAdjust="spacingAndGlyphs" transform="rotate(-90 18.8 289.5)">Drain Current (A)</text>
<path d="M39.40,326.10 C40.55,324.95 43.77,321.73 46.30,319.20 C48.83,316.67 51.83,313.75 54.60,310.90 C57.37,308.05 60.13,305.08 62.90,302.10 C65.67,299.12 68.43,296.37 71.20,293.00 C73.97,289.63 76.73,285.00 79.50,281.90 C82.27,278.80 85.05,276.85 87.80,274.40 C90.55,271.95 92.78,269.63 96.00,267.20 C99.22,264.77 102.95,262.18 107.10,259.80 C111.25,257.42 116.30,255.07 120.90,252.90 C125.50,250.73 130.08,248.73 134.70,246.80 C139.32,244.87 143.98,242.92 148.60,241.30 C153.22,239.68 157.80,238.17 162.40,237.10 C167.00,236.03 172.05,235.27 176.20,234.90 C180.35,234.53 185.45,234.90 187.30,234.90" fill="none" stroke="#e8201c" stroke-width="5.0" stroke-linejoin="round" stroke-linecap="round" />
<path d="M39.40,327.50 C41.00,327.13 45.55,325.98 49.00,325.30 C52.45,324.62 56.40,324.18 60.10,323.40 C63.80,322.62 67.52,321.85 71.20,320.60 C74.88,319.35 78.52,317.75 82.20,315.90 C85.88,314.05 89.62,312.08 93.30,309.50 C96.98,306.92 101.08,303.48 104.30,300.40 C107.52,297.32 109.83,294.08 112.60,291.00 C115.37,287.92 118.13,284.80 120.90,281.90 C123.67,279.00 126.43,276.23 129.20,273.60 C131.97,270.97 134.27,268.63 137.50,266.10 C140.73,263.57 144.92,260.70 148.60,258.40 C152.28,256.10 155.92,254.23 159.60,252.30 C163.28,250.37 167.02,248.63 170.70,246.80 C174.38,244.97 178.72,242.97 181.70,241.30 C184.68,239.63 187.45,237.55 188.60,236.80" fill="none" stroke="#e8201c" stroke-width="5.0" stroke-linejoin="round" stroke-linecap="round" />
<circle cx="39.40" cy="326.10" r="0.75" fill="#ffd8d0" stroke="none" stroke-width="1" />
<circle cx="41.85" cy="323.65" r="0.75" fill="#ffd8d0" stroke="none" stroke-width="1" />
<circle cx="44.30" cy="321.20" r="0.75" fill="#ffd8d0" stroke="none" stroke-width="1" />
<circle cx="46.75" cy="318.75" r="0.75" fill="#ffd8d0" stroke="none" stroke-width="1" />
<circle cx="49.20" cy="316.30" r="0.75" fill="#ffd8d0" stroke="none" stroke-width="1" />
<circle cx="51.65" cy="313.85" r="0.75" fill="#ffd8d0" stroke="none" stroke-width="1" />
<circle cx="54.10" cy="311.40" r="0.75" fill="#ffd8d0" stroke="none" stroke-width="1" />
<circle cx="56.49" cy="308.89" r="0.75" fill="#ffd8d0" stroke="none" stroke-width="1" />
<circle cx="58.87" cy="306.37" r="0.75" fill="#ffd8d0" stroke="none" stroke-width="1" />
<circle cx="61.25" cy="303.85" r="0.75" fill="#ffd8d0" stroke="none" stroke-width="1" />
<circle cx="63.61" cy="301.32" r="0.75" fill="#ffd8d0" stroke="none" stroke-width="1" />
<circle cx="65.95" cy="298.76" r="0.75" fill="#ffd8d0" stroke="none" stroke-width="1" />
<circle cx="68.28" cy="296.20" r="0.75" fill="#ffd8d0" stroke="none" stroke-width="1" />
<circle cx="70.62" cy="293.64" r="0.75" fill="#ffd8d0" stroke="none" stroke-width="1" />
<circle cx="72.76" cy="290.92" r="0.75" fill="#ffd8d0" stroke="none" stroke-width="1" />
<circle cx="74.83" cy="288.14" r="0.75" fill="#ffd8d0" stroke="none" stroke-width="1" />
<circle cx="76.91" cy="285.37" r="0.75" fill="#ffd8d0" stroke="none" stroke-width="1" />
<circle cx="78.98" cy="282.59" r="0.75" fill="#ffd8d0" stroke="none" stroke-width="1" />
<circle cx="81.43" cy="280.16" r="0.75" fill="#ffd8d0" stroke="none" stroke-width="1" />
<circle cx="84.00" cy="277.83" r="0.75" fill="#ffd8d0" stroke="none" stroke-width="1" />
<circle cx="86.57" cy="275.51" r="0.75" fill="#ffd8d0" stroke="none" stroke-width="1" />
<circle cx="89.16" cy="273.21" r="0.75" fill="#ffd8d0" stroke="none" stroke-width="1" />
<circle cx="91.76" cy="270.92" r="0.75" fill="#ffd8d0" stroke="none" stroke-width="1" />
<circle cx="94.36" cy="268.64" r="0.75" fill="#ffd8d0" stroke="none" stroke-width="1" />
<circle cx="97.07" cy="266.49" r="0.75" fill="#ffd8d0" stroke="none" stroke-width="1" />
<circle cx="99.96" cy="264.56" r="0.75" fill="#ffd8d0" stroke="none" stroke-width="1" />
<circle cx="102.84" cy="262.64" r="0.75" fill="#ffd8d0" stroke="none" stroke-width="1" />
<circle cx="105.72" cy="260.72" r="0.75" fill="#ffd8d0" stroke="none" stroke-width="1" />
<circle cx="108.72" cy="258.99" r="0.75" fill="#ffd8d0" stroke="none" stroke-width="1" />
<circle cx="111.82" cy="257.44" r="0.75" fill="#ffd8d0" stroke="none" stroke-width="1" />
<circle cx="114.91" cy="255.89" r="0.75" fill="#ffd8d0" stroke="none" stroke-width="1" />
<circle cx="118.01" cy="254.34" r="0.75" fill="#ffd8d0" stroke="none" stroke-width="1" />
<circle cx="121.12" cy="252.80" r="0.75" fill="#ffd8d0" stroke="none" stroke-width="1" />
<circle cx="124.29" cy="251.40" r="0.75" fill="#ffd8d0" stroke="none" stroke-width="1" />
<circle cx="127.46" cy="250.00" r="0.75" fill="#ffd8d0" stroke="none" stroke-width="1" />
<circle cx="130.63" cy="248.60" r="0.75" fill="#ffd8d0" stroke="none" stroke-width="1" />
<circle cx="133.79" cy="247.20" r="0.75" fill="#ffd8d0" stroke="none" stroke-width="1" />
<circle cx="137.00" cy="245.89" r="0.75" fill="#ffd8d0" stroke="none" stroke-width="1" />
<circle cx="140.22" cy="244.61" r="0.75" fill="#ffd8d0" stroke="none" stroke-width="1" />
<circle cx="143.44" cy="243.34" r="0.75" fill="#ffd8d0" stroke="none" stroke-width="1" />
<circle cx="146.67" cy="242.07" r="0.75" fill="#ffd8d0" stroke="none" stroke-width="1" />
<circle cx="149.93" cy="240.90" r="0.75" fill="#ffd8d0" stroke="none" stroke-width="1" />
<circle cx="153.24" cy="239.89" r="0.75" fill="#ffd8d0" stroke="none" stroke-width="1" />
<circle cx="156.56" cy="238.88" r="0.75" fill="#ffd8d0" stroke="none" stroke-width="1" />
<circle cx="159.87" cy="237.87" r="0.75" fill="#ffd8d0" stroke="none" stroke-width="1" />
<circle cx="163.21" cy="236.97" r="0.75" fill="#ffd8d0" stroke="none" stroke-width="1" />
<circle cx="166.63" cy="236.43" r="0.75" fill="#ffd8d0" stroke="none" stroke-width="1" />
<circle cx="170.05" cy="235.88" r="0.75" fill="#ffd8d0" stroke="none" stroke-width="1" />
<circle cx="173.47" cy="235.33" r="0.75" fill="#ffd8d0" stroke="none" stroke-width="1" />
<circle cx="176.91" cy="234.90" r="0.75" fill="#ffd8d0" stroke="none" stroke-width="1" />
<circle cx="180.37" cy="234.90" r="0.75" fill="#ffd8d0" stroke="none" stroke-width="1" />
<circle cx="183.84" cy="234.90" r="0.75" fill="#ffd8d0" stroke="none" stroke-width="1" />
<circle cx="187.30" cy="234.90" r="0.75" fill="#ffd8d0" stroke="none" stroke-width="1" />
<circle cx="39.40" cy="327.50" r="0.75" fill="#ffd8d0" stroke="none" stroke-width="1" />
<circle cx="42.74" cy="326.73" r="0.75" fill="#ffd8d0" stroke="none" stroke-width="1" />
<circle cx="46.09" cy="325.97" r="0.75" fill="#ffd8d0" stroke="none" stroke-width="1" />
<circle cx="49.44" cy="325.23" r="0.75" fill="#ffd8d0" stroke="none" stroke-width="1" />
<circle cx="52.82" cy="324.65" r="0.75" fill="#ffd8d0" stroke="none" stroke-width="1" />
<circle cx="56.20" cy="324.07" r="0.75" fill="#ffd8d0" stroke="none" stroke-width="1" />
<circle cx="59.58" cy="323.49" r="0.75" fill="#ffd8d0" stroke="none" stroke-width="1" />
<circle cx="62.92" cy="322.69" r="0.75" fill="#ffd8d0" stroke="none" stroke-width="1" />
<circle cx="66.24" cy="321.85" r="0.75" fill="#ffd8d0" stroke="none" stroke-width="1" />
<circle cx="69.57" cy="321.01" r="0.75" fill="#ffd8d0" stroke="none" stroke-width="1" />
<circle cx="72.81" cy="319.91" r="0.75" fill="#ffd8d0" stroke="none" stroke-width="1" />
<circle cx="75.96" cy="318.56" r="0.75" fill="#ffd8d0" stroke="none" stroke-width="1" />
<circle cx="79.12" cy="317.22" r="0.75" fill="#ffd8d0" stroke="none" stroke-width="1" />
<circle cx="82.27" cy="315.86" r="0.75" fill="#ffd8d0" stroke="none" stroke-width="1" />
<circle cx="85.24" cy="314.15" r="0.75" fill="#ffd8d0" stroke="none" stroke-width="1" />
<circle cx="88.21" cy="312.43" r="0.75" fill="#ffd8d0" stroke="none" stroke-width="1" />
<circle cx="91.19" cy="310.72" r="0.75" fill="#ffd8d0" stroke="none" stroke-width="1" />
<circle cx="94.06" cy="308.87" r="0.75" fill="#ffd8d0" stroke="none" stroke-width="1" />
<circle cx="96.71" cy="306.68" r="0.75" fill="#ffd8d0" stroke="none" stroke-width="1" />
<circle cx="99.35" cy="304.49" r="0.75" fill="#ffd8d0" stroke="none" stroke-width="1" />
<circle cx="101.99" cy="302.31" r="0.75" fill="#ffd8d0" stroke="none" stroke-width="1" />
<circle cx="104.59" cy="300.07" r="0.75" fill="#ffd8d0" stroke="none" stroke-width="1" />
<circle cx="106.86" cy="297.50" r="0.75" fill="#ffd8d0" stroke="none" stroke-width="1" />
<circle cx="109.13" cy="294.93" r="0.75" fill="#ffd8d0" stroke="none" stroke-width="1" />
<circle cx="111.40" cy="292.36" r="0.75" fill="#ffd8d0" stroke="none" stroke-width="1" />
<circle cx="113.69" cy="289.80" r="0.75" fill="#ffd8d0" stroke="none" stroke-width="1" />
<circle cx="116.00" cy="287.27" r="0.75" fill="#ffd8d0" stroke="none" stroke-width="1" />
<circle cx="118.32" cy="284.73" r="0.75" fill="#ffd8d0" stroke="none" stroke-width="1" />
<circle cx="120.63" cy="282.20" r="0.75" fill="#ffd8d0" stroke="none" stroke-width="1" />
<circle cx="123.04" cy="279.76" r="0.75" fill="#ffd8d0" stroke="none" stroke-width="1" />
<circle cx="125.47" cy="277.33" r="0.75" fill="#ffd8d0" stroke="none" stroke-width="1" />
<circle cx="127.89" cy="274.91" r="0.75" fill="#ffd8d0" stroke="none" stroke-width="1" />
<circle cx="130.37" cy="272.54" r="0.75" fill="#ffd8d0" stroke="none" stroke-width="1" />
<circle cx="132.92" cy="270.24" r="0.75" fill="#ffd8d0" stroke="none" stroke-width="1" />
<circle cx="135.46" cy="267.94" r="0.75" fill="#ffd8d0" stroke="none" stroke-width="1" />
<circle cx="138.07" cy="265.71" r="0.75" fill="#ffd8d0" stroke="none" stroke-width="1" />
<circle cx="140.88" cy="263.75" r="0.75" fill="#ffd8d0" stroke="none" stroke-width="1" />
<circle cx="143.70" cy="261.80" r="0.75" fill="#ffd8d0" stroke="none" stroke-width="1" />
<circle cx="146.52" cy="259.84" r="0.75" fill="#ffd8d0" stroke="none" stroke-width="1" />
<circle cx="149.39" cy="257.96" r="0.75" fill="#ffd8d0" stroke="none" stroke-width="1" />
<circle cx="152.39" cy="256.30" r="0.75" fill="#ffd8d0" stroke="none" stroke-width="1" />
<circle cx="155.39" cy="254.64" r="0.75" fill="#ffd8d0" stroke="none" stroke-width="1" />
<circle cx="158.39" cy="252.97" r="0.75" fill="#ffd8d0" stroke="none" stroke-width="1" />
<circle cx="161.43" cy="251.39" r="0.75" fill="#ffd8d0" stroke="none" stroke-width="1" />
<circle cx="164.51" cy="249.87" r="0.75" fill="#ffd8d0" stroke="none" stroke-width="1" />
<circle cx="167.58" cy="248.34" r="0.75" fill="#ffd8d0" stroke="none" stroke-width="1" />
<circle cx="170.66" cy="246.82" r="0.75" fill="#ffd8d0" stroke="none" stroke-width="1" />
<circle cx="173.73" cy="245.29" r="0.75" fill="#ffd8d0" stroke="none" stroke-width="1" />
<circle cx="176.79" cy="243.75" r="0.75" fill="#ffd8d0" stroke="none" stroke-width="1" />
<circle cx="179.86" cy="242.22" r="0.75" fill="#ffd8d0" stroke="none" stroke-width="1" />
<circle cx="182.85" cy="240.55" r="0.75" fill="#ffd8d0" stroke="none" stroke-width="1" />
<circle cx="185.73" cy="238.67" r="0.75" fill="#ffd8d0" stroke="none" stroke-width="1" />
<circle cx="188.60" cy="236.80" r="0.75" fill="#ffd8d0" stroke="none" stroke-width="1" />
<line x1="78.10" y1="269.50" x2="99.88" y2="252.10" stroke="#111" stroke-width="1.1" />
<polygon points="103.00,249.60 100.94,253.43 98.81,250.77" fill="#111" stroke="none" stroke-width="1" stroke-linejoin="round" />
<line x1="143.00" y1="274.40" x2="125.65" y2="295.42" stroke="#111" stroke-width="1.1" />
<polygon points="123.10,298.50 124.34,294.33 126.96,296.50" fill="#111" stroke="none" stroke-width="1" stroke-linejoin="round" />
<text x="45.50" y="238.20" font-family="Liberation Sans" font-size="6.8" font-weight="bold" fill="#222">V<tspan font-size="4.62" dy="1.90">DS</tspan><tspan dy="-1.90">: 1 V</tspan></text>
<circle cx="49.70" cy="246.50" r="2.70" fill="#e8201c" stroke="none" stroke-width="1" />
<circle cx="49.00" cy="245.80" r="0.90" fill="#f8a8a0" stroke="none" stroke-width="1" />
<text x="58.90" y="249.00" font-family="Liberation Sans" font-size="6.8" font-weight="bold" fill="#222">V<tspan font-size="4.62" dy="1.90">GS</tspan><tspan dy="-1.90">: -5~+5 V</tspan></text>
<rect x="217.80" y="231.00" width="147.90" height="118.50" fill="none" stroke="#333" stroke-width="1.1" />
<line x1="217.80" y1="349.50" x2="217.80" y2="347.00" stroke="#333" stroke-width="0.8" />
<text x="217.80" y="357.90" font-family="Liberation Sans" font-size="6.588" font-weight="bold" fill="#222" text-anchor="middle" style="">-30</text>
<line x1="230.12" y1="349.50" x2="230.12" y2="347.00" stroke="#333" stroke-width="0.8" />
<text x="230.12" y="357.90" font-family="Liberation Sans" font-size="6.588" font-weight="bold" fill="#222" text-anchor="middle" style="">-25</text>
<line x1="242.45" y1="349.50" x2="242.45" y2="347.00" stroke="#333" stroke-width="0.8" />
<text x="242.45" y="357.90" font-family="Liberation Sans" font-size="6.588" font-weight="bold" fill="#222" text-anchor="middle" style="">-20</text>
<line x1="254.78" y1="349.50" x2="254.78" y2="347.00" stroke="#333" stroke-width="0.8" />
<text x="254.78" y="357.90" font-family="Liberation Sans" font-size="6.588" font-weight="bold" fill="#222" text-anchor="middle" style="">-15</text>
<line x1="267.10" y1="349.50" x2="267.10" y2="347.00" stroke="#333" stroke-width="0.8" />
<text x="267.10" y="357.90" font-family="Liberation Sans" font-size="6.588" font-weight="bold" fill="#222" text-anchor="middle" style="">-10</text>
<line x1="279.43" y1="349.50" x2="279.43" y2="347.00" stroke="#333" stroke-width="0.8" />
<text x="279.43" y="357.90" font-family="Liberation Sans" font-size="6.588" font-weight="bold" fill="#222" text-anchor="middle" style="">-5</text>
<line x1="291.75" y1="349.50" x2="291.75" y2="347.00" stroke="#333" stroke-width="0.8" />
<text x="291.75" y="357.90" font-family="Liberation Sans" font-size="6.588" font-weight="bold" fill="#222" text-anchor="middle" style="">0</text>
<line x1="304.07" y1="349.50" x2="304.07" y2="347.00" stroke="#333" stroke-width="0.8" />
<text x="304.07" y="357.90" font-family="Liberation Sans" font-size="6.588" font-weight="bold" fill="#222" text-anchor="middle" style="">5</text>
<line x1="316.40" y1="349.50" x2="316.40" y2="347.00" stroke="#333" stroke-width="0.8" />
<text x="316.40" y="357.90" font-family="Liberation Sans" font-size="6.588" font-weight="bold" fill="#222" text-anchor="middle" style="">10</text>
<line x1="328.73" y1="349.50" x2="328.73" y2="347.00" stroke="#333" stroke-width="0.8" />
<text x="328.73" y="357.90" font-family="Liberation Sans" font-size="6.588" font-weight="bold" fill="#222" text-anchor="middle" style="">15</text>
<line x1="341.05" y1="349.50" x2="341.05" y2="347.00" stroke="#333" stroke-width="0.8" />
<text x="341.05" y="357.90" font-family="Liberation Sans" font-size="6.588" font-weight="bold" fill="#222" text-anchor="middle" style="">20</text>
<line x1="353.38" y1="349.50" x2="353.38" y2="347.00" stroke="#333" stroke-width="0.8" />
<text x="353.38" y="357.90" font-family="Liberation Sans" font-size="6.588" font-weight="bold" fill="#222" text-anchor="middle" style="">25</text>
<line x1="365.70" y1="349.50" x2="365.70" y2="347.00" stroke="#333" stroke-width="0.8" />
<text x="365.70" y="357.90" font-family="Liberation Sans" font-size="6.588" font-weight="bold" fill="#222" text-anchor="middle" style="">30</text>
<line x1="223.96" y1="349.50" x2="223.96" y2="348.10" stroke="#333" stroke-width="0.7" />
<line x1="236.29" y1="349.50" x2="236.29" y2="348.10" stroke="#333" stroke-width="0.7" />
<line x1="248.61" y1="349.50" x2="248.61" y2="348.10" stroke="#333" stroke-width="0.7" />
<line x1="260.94" y1="349.50" x2="260.94" y2="348.10" stroke="#333" stroke-width="0.7" />
<line x1="273.26" y1="349.50" x2="273.26" y2="348.10" stroke="#333" stroke-width="0.7" />
<line x1="285.59" y1="349.50" x2="285.59" y2="348.10" stroke="#333" stroke-width="0.7" />
<line x1="297.91" y1="349.50" x2="297.91" y2="348.10" stroke="#333" stroke-width="0.7" />
<line x1="310.24" y1="349.50" x2="310.24" y2="348.10" stroke="#333" stroke-width="0.7" />
<line x1="322.56" y1="349.50" x2="322.56" y2="348.10" stroke="#333" stroke-width="0.7" />
<line x1="334.89" y1="349.50" x2="334.89" y2="348.10" stroke="#333" stroke-width="0.7" />
<line x1="347.21" y1="349.50" x2="347.21" y2="348.10" stroke="#333" stroke-width="0.7" />
<line x1="359.54" y1="349.50" x2="359.54" y2="348.10" stroke="#333" stroke-width="0.7" />
<line x1="217.80" y1="349.50" x2="220.30" y2="349.50" stroke="#333" stroke-width="0.8" />
<text x="215.30" y="351.80" font-family="Liberation Sans" font-size="6.59" font-weight="bold" fill="#222" text-anchor="end">10<tspan font-size="4.57" dy="-2.9">&#8211;11</tspan></text>
<line x1="217.80" y1="329.75" x2="220.30" y2="329.75" stroke="#333" stroke-width="0.8" />
<text x="215.30" y="332.05" font-family="Liberation Sans" font-size="6.59" font-weight="bold" fill="#222" text-anchor="end">10<tspan font-size="4.57" dy="-2.9">&#8211;10</tspan></text>
<line x1="217.80" y1="310.00" x2="220.30" y2="310.00" stroke="#333" stroke-width="0.8" />
<text x="215.30" y="312.30" font-family="Liberation Sans" font-size="6.59" font-weight="bold" fill="#222" text-anchor="end">10<tspan font-size="4.57" dy="-2.9">&#8211;9</tspan></text>
<line x1="217.80" y1="290.25" x2="220.30" y2="290.25" stroke="#333" stroke-width="0.8" />
<text x="215.30" y="292.55" font-family="Liberation Sans" font-size="6.59" font-weight="bold" fill="#222" text-anchor="end">10<tspan font-size="4.57" dy="-2.9">&#8211;8</tspan></text>
<line x1="217.80" y1="270.50" x2="220.30" y2="270.50" stroke="#333" stroke-width="0.8" />
<text x="215.30" y="272.80" font-family="Liberation Sans" font-size="6.59" font-weight="bold" fill="#222" text-anchor="end">10<tspan font-size="4.57" dy="-2.9">&#8211;7</tspan></text>
<line x1="217.80" y1="250.75" x2="220.30" y2="250.75" stroke="#333" stroke-width="0.8" />
<text x="215.30" y="253.05" font-family="Liberation Sans" font-size="6.59" font-weight="bold" fill="#222" text-anchor="end">10<tspan font-size="4.57" dy="-2.9">&#8211;6</tspan></text>
<line x1="217.80" y1="231.00" x2="220.30" y2="231.00" stroke="#333" stroke-width="0.8" />
<text x="215.30" y="233.30" font-family="Liberation Sans" font-size="6.59" font-weight="bold" fill="#222" text-anchor="end">10<tspan font-size="4.57" dy="-2.9">&#8211;5</tspan></text>
<text x="291.75" y="369.60" font-family="Liberation Sans" font-size="6.8" font-weight="bold" fill="#222" text-anchor="middle" style="" textLength="52" lengthAdjust="spacingAndGlyphs">Gate Voltage (V)</text>
<text x="198.60" y="290.25" font-family="Liberation Sans" font-size="6.8" font-weight="bold" fill="#222" text-anchor="middle" style="" textLength="55" lengthAdjust="spacingAndGlyphs" transform="rotate(-90 198.6 290.25)">Drain Current (A)</text>
<path d="M279.25,333.50 C279.44,332.33 279.82,330.45 280.38,326.45 C280.95,322.46 281.79,314.71 282.64,309.55 C283.48,304.38 284.42,299.45 285.45,295.45 C286.49,291.46 287.43,288.64 288.84,285.59 C290.25,282.54 292.12,279.72 293.91,277.14 C295.69,274.55 297.85,271.73 299.55,270.09 C301.24,268.45 303.30,267.74 304.05,267.27" fill="none" stroke="#e8261e" stroke-width="1.3" stroke-linejoin="round" stroke-linecap="round" />
<path d="M304.05,267.27 C303.87,268.45 303.44,270.56 302.93,274.32 C302.41,278.08 301.61,284.89 300.95,289.82 C300.30,294.75 299.69,299.68 298.98,303.91 C298.28,308.14 297.57,312.13 296.73,315.18 C295.88,318.23 295.08,320.35 293.91,322.23 C292.73,324.11 291.33,325.37 289.68,326.45 C288.04,327.53 285.78,328.15 284.05,328.71 C282.31,329.27 280.05,329.65 279.25,329.84" fill="none" stroke="#e8261e" stroke-width="1.3" stroke-linejoin="round" stroke-linecap="round" />
<path d="M267.14,337.16 C267.61,337.54 269.02,339.32 269.95,339.42 C270.89,339.51 271.97,339.42 272.77,337.73 C273.57,336.04 274.04,332.56 274.75,329.27 C275.45,325.98 276.15,321.76 277.00,318.00 C277.85,314.24 278.88,310.25 279.82,306.73 C280.76,303.20 281.60,300.15 282.64,296.86 C283.67,293.58 284.84,290.05 286.02,287.00 C287.19,283.95 288.13,281.36 289.68,278.55 C291.23,275.73 293.20,272.91 295.32,270.09 C297.43,267.27 299.78,264.22 302.36,261.64 C304.95,259.05 308.48,256.23 310.82,254.59 C313.16,252.95 315.47,252.27 316.40,251.80" fill="none" stroke="#f07c1e" stroke-width="1.3" stroke-linejoin="round" stroke-linecap="round" />
<path d="M316.40,251.80 C315.94,253.44 314.66,257.65 313.64,261.64 C312.61,265.62 311.43,270.56 310.25,275.73 C309.08,280.89 307.81,287.00 306.59,292.64 C305.37,298.27 304.10,305.08 302.93,309.55 C301.75,314.01 301.05,317.06 299.55,319.41 C298.04,321.76 296.73,322.46 293.91,323.64 C291.09,324.81 287.10,325.75 282.64,326.45 C278.17,327.16 269.72,327.63 267.14,327.86" fill="none" stroke="#f07c1e" stroke-width="1.3" stroke-linejoin="round" stroke-linecap="round" />
<path d="M254.74,335.47 C255.16,335.85 255.68,337.02 257.27,337.73 C258.87,338.43 262.20,339.32 264.32,339.70 C266.43,340.08 268.55,340.31 269.95,339.98 C271.36,339.65 271.97,339.51 272.77,337.73 C273.57,335.94 274.04,332.56 274.75,329.27 C275.45,325.98 276.15,321.76 277.00,318.00 C277.85,314.24 278.88,310.25 279.82,306.73 C280.76,303.20 281.60,300.15 282.64,296.86 C283.67,293.58 284.84,290.05 286.02,287.00 C287.19,283.95 288.13,281.36 289.68,278.55 C291.23,275.73 293.20,272.91 295.32,270.09 C297.43,267.27 299.78,264.22 302.36,261.64 C304.95,259.05 307.53,256.70 310.82,254.59 C314.11,252.48 319.11,250.31 322.09,248.95 C325.08,247.60 327.62,246.88 328.73,246.47" fill="none" stroke="#e8dc30" stroke-width="1.3" stroke-linejoin="round" stroke-linecap="round" />
<path d="M328.73,246.47 C328.09,247.59 326.48,250.18 324.91,253.18 C323.33,256.18 321.15,259.76 319.27,264.45 C317.39,269.15 315.28,275.73 313.64,281.36 C311.99,287.00 310.82,293.58 309.41,298.27 C308.00,302.97 306.83,306.73 305.18,309.55 C303.54,312.36 302.36,313.54 299.55,315.18 C296.73,316.83 292.97,318.09 288.27,319.41 C283.58,320.72 276.95,322.13 271.36,323.07 C265.77,324.01 257.51,324.72 254.74,325.05" fill="none" stroke="#e8dc30" stroke-width="1.3" stroke-linejoin="round" stroke-linecap="round" />
<path d="M242.62,334.91 C242.95,335.28 243.56,336.51 244.59,337.16 C245.62,337.82 245.53,338.43 248.82,338.85 C252.11,339.28 260.80,339.51 264.32,339.70 C267.84,339.89 268.55,340.31 269.95,339.98 C271.36,339.65 271.97,339.51 272.77,337.73 C273.57,335.94 274.04,332.56 274.75,329.27 C275.45,325.98 276.15,321.76 277.00,318.00 C277.85,314.24 278.88,310.25 279.82,306.73 C280.76,303.20 281.60,300.15 282.64,296.86 C283.67,293.58 284.84,290.05 286.02,287.00 C287.19,283.95 288.13,281.36 289.68,278.55 C291.23,275.73 293.20,272.91 295.32,270.09 C297.43,267.27 299.78,264.22 302.36,261.64 C304.95,259.05 307.53,256.70 310.82,254.59 C314.11,252.48 318.33,250.60 322.09,248.95 C325.85,247.31 330.20,245.69 333.36,244.73 C336.52,243.77 339.77,243.45 341.05,243.19" fill="none" stroke="#3cb034" stroke-width="1.3" stroke-linejoin="round" stroke-linecap="round" />
<path d="M341.05,243.19 C339.77,243.82 335.82,245.32 333.36,246.98 C330.91,248.65 328.57,250.27 326.32,253.18 C324.06,256.09 321.86,259.76 319.84,264.45 C317.82,269.15 315.84,275.96 314.20,281.36 C312.56,286.77 311.38,292.87 309.97,296.86 C308.56,300.86 307.95,303.20 305.75,305.32 C303.54,307.43 300.58,308.14 296.73,309.55 C292.88,310.95 288.27,312.36 282.64,313.77 C277.00,315.18 269.58,316.73 262.91,318.00 C256.24,319.27 246.00,320.82 242.62,321.38" fill="none" stroke="#3cb034" stroke-width="1.3" stroke-linejoin="round" stroke-linecap="round" />
<path d="M230.22,334.91 C230.50,335.28 228.81,336.51 231.91,337.16 C235.01,337.82 243.42,338.43 248.82,338.85 C254.22,339.28 260.80,339.51 264.32,339.70 C267.84,339.89 268.55,340.31 269.95,339.98 C271.36,339.65 271.97,339.51 272.77,337.73 C273.57,335.94 274.04,332.56 274.75,329.27 C275.45,325.98 276.15,321.76 277.00,318.00 C277.85,314.24 278.88,310.25 279.82,306.73 C280.76,303.20 281.60,300.15 282.64,296.86 C283.67,293.58 284.84,290.05 286.02,287.00 C287.19,283.95 288.13,281.36 289.68,278.55 C291.23,275.73 293.20,272.91 295.32,270.09 C297.43,267.27 299.78,264.22 302.36,261.64 C304.95,259.05 307.53,256.70 310.82,254.59 C314.11,252.48 318.33,250.60 322.09,248.95 C325.85,247.31 329.14,245.90 333.36,244.73 C337.59,243.55 344.12,242.46 347.45,241.91 C350.79,241.36 352.39,241.50 353.38,241.42" fill="none" stroke="#2c9ce0" stroke-width="1.3" stroke-linejoin="round" stroke-linecap="round" />
<path d="M353.38,241.42 C351.45,241.87 345.53,242.91 341.82,244.16 C338.11,245.42 334.30,246.75 331.11,248.95 C327.92,251.16 325.19,253.42 322.65,257.41 C320.12,261.40 317.77,267.98 315.89,272.91 C314.01,277.84 312.79,282.68 311.38,287.00 C309.97,291.32 308.85,295.88 307.44,298.84 C306.03,301.80 305.18,303.20 302.93,304.75 C300.67,306.30 298.23,307.10 293.91,308.14 C289.59,309.17 283.11,309.87 277.00,310.95 C270.89,312.03 265.07,312.97 257.27,314.62 C249.48,316.26 234.73,319.78 230.22,320.82" fill="none" stroke="#2c9ce0" stroke-width="1.3" stroke-linejoin="round" stroke-linecap="round" />
<path d="M216.41,336.32 C218.99,336.55 226.51,337.30 231.91,337.73 C237.31,338.15 243.42,338.53 248.82,338.85 C254.22,339.18 260.80,339.51 264.32,339.70 C267.84,339.89 268.55,340.31 269.95,339.98 C271.36,339.65 271.97,339.51 272.77,337.73 C273.57,335.94 274.04,332.56 274.75,329.27 C275.45,325.98 276.15,321.76 277.00,318.00 C277.85,314.24 278.88,310.25 279.82,306.73 C280.76,303.20 281.60,300.15 282.64,296.86 C283.67,293.58 284.84,290.05 286.02,287.00 C287.19,283.95 288.13,281.36 289.68,278.55 C291.23,275.73 293.20,272.91 295.32,270.09 C297.43,267.27 299.78,264.22 302.36,261.64 C304.95,259.05 307.53,256.70 310.82,254.59 C314.11,252.48 318.33,250.60 322.09,248.95 C325.85,247.31 329.14,245.90 333.36,244.73 C337.59,243.55 342.29,242.61 347.45,241.91 C352.62,241.20 361.55,240.73 364.36,240.50" fill="none" stroke="#2c4ca8" stroke-width="1.3" stroke-linejoin="round" stroke-linecap="round" />
<path d="M364.36,240.50 C362.02,240.83 354.97,241.53 350.27,242.47 C345.58,243.41 340.32,244.59 336.18,246.14 C332.05,247.69 328.67,249.66 325.47,251.77 C322.28,253.89 319.32,256.23 317.02,258.82 C314.72,261.40 313.26,263.98 311.66,267.27 C310.07,270.56 308.61,275.02 307.44,278.55 C306.26,282.07 305.56,285.12 304.62,288.41 C303.68,291.70 302.74,295.55 301.80,298.27 C300.86,301.00 300.53,303.35 298.98,304.75 C297.43,306.16 295.22,306.12 292.50,306.73 C289.78,307.34 286.16,307.71 282.64,308.42 C279.11,309.12 275.59,310.06 271.36,310.95 C267.14,311.85 261.97,312.83 257.27,313.77 C252.58,314.71 247.88,315.65 243.18,316.59 C238.48,317.53 233.32,318.61 229.09,319.41 C224.86,320.21 219.68,321.05 217.80,321.38" fill="none" stroke="#2c4ca8" stroke-width="1.3" stroke-linejoin="round" stroke-linecap="round" />
<line x1="286.90" y1="266.70" x2="304.52" y2="249.77" stroke="#111" stroke-width="1.1" />
<polygon points="307.40,247.00 305.69,251.00 303.34,248.55" fill="#111" stroke="none" stroke-width="1" stroke-linejoin="round" />
<line x1="326.30" y1="265.90" x2="312.56" y2="286.00" stroke="#111" stroke-width="1.1" />
<polygon points="310.30,289.30 311.15,285.04 313.96,286.96" fill="#111" stroke="none" stroke-width="1" stroke-linejoin="round" />
<text x="220.10" y="238.40" font-family="Liberation Sans" font-size="6.2" font-weight="bold" fill="#222">V<tspan font-size="4.22" dy="1.74">DS</tspan><tspan dy="-1.74">: 5 V</tspan></text>
<line x1="220.70" y1="246.30" x2="235.40" y2="246.30" stroke="#e8261e" stroke-width="1.3" />
<text x="236.60" y="248.50" font-family="Liberation Sans" font-size="6.2" font-weight="bold" fill="#222">V<tspan font-size="4.22" dy="1.74">GS</tspan><tspan dy="-1.74">: -5~ +5 V</tspan></text>
<line x1="220.70" y1="256.02" x2="235.40" y2="256.02" stroke="#f07c1e" stroke-width="1.3" />
<text x="236.60" y="258.22" font-family="Liberation Sans" font-size="6.2" font-weight="bold" fill="#222">V<tspan font-size="4.22" dy="1.74">GS</tspan><tspan dy="-1.74">: -10~+10 V</tspan></text>
<line x1="220.70" y1="265.74" x2="235.40" y2="265.74" stroke="#e8dc30" stroke-width="1.3" />
<text x="236.60" y="267.94" font-family="Liberation Sans" font-size="6.2" font-weight="bold" fill="#222">V<tspan font-size="4.22" dy="1.74">GS</tspan><tspan dy="-1.74">: -15~+15 V</tspan></text>
<line x1="220.70" y1="275.46" x2="235.40" y2="275.46" stroke="#3cb034" stroke-width="1.3" />
<text x="236.60" y="277.66" font-family="Liberation Sans" font-size="6.2" font-weight="bold" fill="#222">V<tspan font-size="4.22" dy="1.74">GS</tspan><tspan dy="-1.74">: -20~+20 V</tspan></text>
<line x1="220.70" y1="285.18" x2="235.40" y2="285.18" stroke="#2c9ce0" stroke-width="1.3" />
<text x="236.60" y="287.38" font-family="Liberation Sans" font-size="6.2" font-weight="bold" fill="#222">V<tspan font-size="4.22" dy="1.74">GS</tspan><tspan dy="-1.74">: -25~+25 V</tspan></text>
<line x1="220.70" y1="294.90" x2="235.40" y2="294.90" stroke="#2c4ca8" stroke-width="1.3" />
<text x="236.60" y="297.10" font-family="Liberation Sans" font-size="6.2" font-weight="bold" fill="#222">V<tspan font-size="4.22" dy="1.74">GS</tspan><tspan dy="-1.74">: -30~+30 V</tspan></text>
<rect x="383.60" y="230.00" width="147.80" height="120.00" fill="none" stroke="#333" stroke-width="1.1" />
<line x1="383.60" y1="350.00" x2="383.60" y2="347.50" stroke="#333" stroke-width="0.8" />
<text x="383.60" y="358.30" font-family="Liberation Sans" font-size="6.264" font-weight="bold" fill="#222" text-anchor="middle" style="">450</text>
<line x1="457.50" y1="350.00" x2="457.50" y2="347.50" stroke="#333" stroke-width="0.8" />
<text x="457.50" y="358.30" font-family="Liberation Sans" font-size="6.264" font-weight="bold" fill="#222" text-anchor="middle" style="">460</text>
<line x1="531.40" y1="350.00" x2="531.40" y2="347.50" stroke="#333" stroke-width="0.8" />
<text x="531.40" y="358.30" font-family="Liberation Sans" font-size="6.264" font-weight="bold" fill="#222" text-anchor="middle" style="">470</text>
<line x1="420.55" y1="350.00" x2="420.55" y2="348.60" stroke="#333" stroke-width="0.7" />
<line x1="494.45" y1="350.00" x2="494.45" y2="348.60" stroke="#333" stroke-width="0.7" />
<text x="457.50" y="369.60" font-family="Liberation Sans" font-size="6.8" font-weight="bold" fill="#222" text-anchor="middle" style="" textLength="64" lengthAdjust="spacingAndGlyphs">Binding Energy (eV)</text>
<text x="377.80" y="292.50" font-family="Liberation Sans" font-size="6.8" font-weight="bold" fill="#222" text-anchor="middle" style="" textLength="42" lengthAdjust="spacingAndGlyphs" transform="rotate(-90 377.8 292.5)">Intensity (a.u.)</text>
<path d="M384.18,275.15 C387.06,275.03 396.85,275.15 401.45,274.45 C406.06,273.76 409.23,272.44 411.82,271.00 C414.41,269.56 415.39,267.83 417.00,265.82 C418.61,263.80 419.94,260.81 421.49,258.91 C423.05,257.01 424.77,255.51 426.33,254.42 C427.88,253.32 429.49,252.58 430.82,252.35 C432.14,252.12 433.12,252.23 434.27,253.04 C435.42,253.84 436.58,256.03 437.73,257.18 C438.88,258.33 440.03,259.37 441.18,259.95 C442.33,260.52 443.31,260.81 444.64,260.64 C445.96,260.46 447.80,258.91 449.13,258.91 C450.45,258.91 451.32,259.60 452.58,260.64 C453.85,261.67 455.17,264.09 456.73,265.13 C458.28,266.16 459.89,266.57 461.91,266.85 C463.92,267.14 466.80,267.08 468.82,266.85 C470.83,266.62 472.39,266.16 474.00,265.47 C475.61,264.78 477.22,263.05 478.49,262.71 C479.76,262.36 480.33,262.71 481.60,263.40 C482.87,264.09 484.19,265.70 486.09,266.85 C487.99,268.01 490.41,269.39 493.00,270.31 C495.59,271.23 498.47,271.92 501.64,272.38 C504.80,272.84 507.11,272.90 512.00,273.07 C516.89,273.25 527.83,273.36 531.00,273.42" fill="none" stroke="#e03a22" stroke-width="1.2" stroke-linejoin="round" stroke-linecap="round" />
<path d="M384.18,342.85 C387.06,342.68 396.27,342.39 401.45,341.82 C406.64,341.24 410.67,340.72 415.27,339.40 C419.88,338.08 425.35,335.48 429.09,333.87 C432.83,332.26 435.54,331.28 437.73,329.73 C439.92,328.17 440.95,327.14 442.22,324.55 C443.48,321.95 444.41,318.21 445.33,314.18 C446.25,310.15 447.05,303.70 447.75,300.36 C448.44,297.02 448.95,295.12 449.47,294.15 C449.99,293.17 450.34,293.05 450.85,294.49 C451.37,295.93 451.95,299.21 452.58,302.78 C453.22,306.35 453.85,311.82 454.65,315.91 C455.46,320.00 456.32,324.32 457.42,327.31 C458.51,330.30 459.61,332.49 461.22,333.87 C462.83,335.25 464.67,335.31 467.09,335.60 C469.51,335.89 473.14,335.66 475.73,335.60 C478.32,335.54 480.51,335.48 482.64,335.25 C484.77,335.02 487.07,334.68 488.51,334.22 C489.95,333.76 490.52,332.89 491.27,332.49 C492.02,332.09 492.37,331.51 493.00,331.80 C493.63,332.09 494.21,333.24 495.07,334.22 C495.94,335.20 496.51,336.75 498.18,337.67 C499.85,338.59 501.64,339.28 505.09,339.75 C508.55,340.21 514.59,340.26 518.91,340.44 C523.23,340.61 528.98,340.72 531.00,340.78" fill="none" stroke="#f0981e" stroke-width="1.2" stroke-linejoin="round" stroke-linecap="round" />
<line x1="389.50" y1="238.30" x2="403.30" y2="238.30" stroke="#e03a22" stroke-width="1.2" />
<line x1="389.50" y1="246.80" x2="403.30" y2="246.80" stroke="#f0981e" stroke-width="1.2" />
<text x="404.90" y="240.60" font-family="Liberation Sans" font-size="6.8" font-weight="bold" fill="#222" text-anchor="start" style="" textLength="26" lengthAdjust="spacingAndGlyphs">MXenes</text>
<text x="404.90" y="249.20" font-family="Liberation Sans" font-size="6.8" font-weight="bold" fill="#222" text-anchor="start" style="" textLength="55" lengthAdjust="spacingAndGlyphs">Oxidized MXenes</text>
<text x="499.90" y="240.60" font-family="Liberation Sans" font-size="9.7" font-weight="bold" fill="#222" text-anchor="start" style="font-style:italic;" textLength="22.5" lengthAdjust="spacingAndGlyphs">Ti 2p</text>
<text x="439.4" y="283.6" font-family="Liberation Sans" font-size="6.7" font-weight="bold" fill="#222" style="font-style:italic" textLength="34.6" lengthAdjust="spacingAndGlyphs">TiO<tspan font-size="4.6" dy="1.6">2</tspan><tspan dy="-1.6"> (2p</tspan><tspan font-size="4.6" dy="1.6">3/2</tspan><tspan dy="-1.6">)</tspan></text>
<text x="484.4" y="325.0" font-family="Liberation Sans" font-size="6.7" font-weight="bold" fill="#222" style="font-style:italic" textLength="31" lengthAdjust="spacingAndGlyphs">TiO<tspan font-size="4.6" dy="1.6">2</tspan><tspan dy="-1.6">(2p</tspan><tspan font-size="4.6" dy="1.6">1/2</tspan><tspan dy="-1.6">)</tspan></text>
<polygon points="449.60,293.20 454.20,285.80 450.40,287.40 446.40,285.40" fill="#111" stroke="none" stroke-width="1" stroke-linejoin="round" />
<polygon points="492.30,333.20 498.80,328.90 494.60,328.60 492.40,324.90" fill="#111" stroke="none" stroke-width="1" stroke-linejoin="round" />
<rect x="215.40" y="547.60" width="149.50" height="120.60" fill="none" stroke="#333" stroke-width="1.1" />
<line x1="231.50" y1="668.20" x2="231.50" y2="665.70" stroke="#333" stroke-width="0.8" />
<text x="231.50" y="676.60" font-family="Liberation Sans" font-size="6.48" font-weight="bold" fill="#222" text-anchor="middle" style="">1</text>
<line x1="261.00" y1="668.20" x2="261.00" y2="665.70" stroke="#333" stroke-width="0.8" />
<text x="261.00" y="676.60" font-family="Liberation Sans" font-size="6.48" font-weight="bold" fill="#222" text-anchor="middle" style="">2</text>
<line x1="290.50" y1="668.20" x2="290.50" y2="665.70" stroke="#333" stroke-width="0.8" />
<text x="290.50" y="676.60" font-family="Liberation Sans" font-size="6.48" font-weight="bold" fill="#222" text-anchor="middle" style="">3</text>
<line x1="320.00" y1="668.20" x2="320.00" y2="665.70" stroke="#333" stroke-width="0.8" />
<text x="320.00" y="676.60" font-family="Liberation Sans" font-size="6.48" font-weight="bold" fill="#222" text-anchor="middle" style="">4</text>
<line x1="349.50" y1="668.20" x2="349.50" y2="665.70" stroke="#333" stroke-width="0.8" />
<text x="349.50" y="676.60" font-family="Liberation Sans" font-size="6.48" font-weight="bold" fill="#222" text-anchor="middle" style="">5</text>
<line x1="216.75" y1="668.20" x2="216.75" y2="666.80" stroke="#333" stroke-width="0.7" />
<line x1="246.25" y1="668.20" x2="246.25" y2="666.80" stroke="#333" stroke-width="0.7" />
<line x1="275.75" y1="668.20" x2="275.75" y2="666.80" stroke="#333" stroke-width="0.7" />
<line x1="305.25" y1="668.20" x2="305.25" y2="666.80" stroke="#333" stroke-width="0.7" />
<line x1="334.75" y1="668.20" x2="334.75" y2="666.80" stroke="#333" stroke-width="0.7" />
<line x1="215.40" y1="668.20" x2="217.90" y2="668.20" stroke="#333" stroke-width="0.8" />
<text x="212.80" y="670.40" font-family="Liberation Sans" font-size="6.48" font-weight="bold" fill="#222" text-anchor="end" style="">110</text>
<line x1="215.40" y1="641.30" x2="217.90" y2="641.30" stroke="#333" stroke-width="0.8" />
<text x="212.80" y="643.50" font-family="Liberation Sans" font-size="6.48" font-weight="bold" fill="#222" text-anchor="end" style="">120</text>
<line x1="215.40" y1="614.40" x2="217.90" y2="614.40" stroke="#333" stroke-width="0.8" />
<text x="212.80" y="616.60" font-family="Liberation Sans" font-size="6.48" font-weight="bold" fill="#222" text-anchor="end" style="">130</text>
<line x1="215.40" y1="587.50" x2="217.90" y2="587.50" stroke="#333" stroke-width="0.8" />
<text x="212.80" y="589.70" font-family="Liberation Sans" font-size="6.48" font-weight="bold" fill="#222" text-anchor="end" style="">140</text>
<line x1="215.40" y1="560.60" x2="217.90" y2="560.60" stroke="#333" stroke-width="0.8" />
<text x="212.80" y="562.80" font-family="Liberation Sans" font-size="6.48" font-weight="bold" fill="#222" text-anchor="end" style="">150</text>
<line x1="215.40" y1="654.75" x2="216.80" y2="654.75" stroke="#333" stroke-width="0.7" />
<line x1="215.40" y1="627.85" x2="216.80" y2="627.85" stroke="#333" stroke-width="0.7" />
<line x1="215.40" y1="600.95" x2="216.80" y2="600.95" stroke="#333" stroke-width="0.7" />
<line x1="215.40" y1="574.05" x2="216.80" y2="574.05" stroke="#333" stroke-width="0.7" />
<text x="290.00" y="688.30" font-family="Liberation Sans" font-size="6.8" font-weight="bold" fill="#222" text-anchor="middle" style="" textLength="78" lengthAdjust="spacingAndGlyphs">Pulse Interval Time (ms)</text>
<text x="198.00" y="607.70" font-family="Liberation Sans" font-size="6.8" font-weight="bold" fill="#222" text-anchor="middle" style="" textLength="46.6" lengthAdjust="spacingAndGlyphs" transform="rotate(-90 198.0 607.7)">PPF Index (%)</text>
<circle cx="225.60" cy="557.91" r="2.60" fill="#f49a2c" stroke="none" stroke-width="1" />
<circle cx="231.50" cy="571.36" r="2.60" fill="#f49a2c" stroke="none" stroke-width="1" />
<circle cx="261.00" cy="611.71" r="2.60" fill="#f49a2c" stroke="none" stroke-width="1" />
<circle cx="290.50" cy="630.54" r="2.60" fill="#f49a2c" stroke="none" stroke-width="1" />
<circle cx="320.00" cy="646.68" r="2.60" fill="#f49a2c" stroke="none" stroke-width="1" />
<circle cx="349.50" cy="657.44" r="2.60" fill="#f49a2c" stroke="none" stroke-width="1" />
<path d="M224.12,554.68 C224.37,555.22 224.37,555.26 225.60,557.91 C226.83,560.56 228.06,564.50 231.50,570.55 C234.94,576.61 241.33,587.46 246.25,594.23 C251.17,600.99 256.08,606.55 261.00,611.17 C265.92,615.79 270.83,618.61 275.75,621.93 C280.67,625.25 285.58,628.21 290.50,631.08 C295.42,633.95 300.33,636.64 305.25,639.15 C310.17,641.66 315.08,643.95 320.00,646.14 C324.92,648.34 329.83,650.36 334.75,652.33 C339.67,654.30 347.04,657.04 349.50,657.98" fill="none" stroke="#f0262a" stroke-width="1.2" stroke-linejoin="round" stroke-linecap="round" />
<circle cx="246.50" cy="552.20" r="2.50" fill="#f49a2c" stroke="none" stroke-width="1" />
<line x1="240.70" y1="559.00" x2="254.20" y2="559.00" stroke="#f0262a" stroke-width="1.2" />
<text x="254.60" y="554.30" font-family="Liberation Sans" font-size="5.8" font-weight="bold" fill="#222" text-anchor="start" style="">PPF</text>
<text x="254.60" y="561.10" font-family="Liberation Sans" font-size="5.8" font-weight="bold" fill="#222" text-anchor="start" style="" textLength="45.8" lengthAdjust="spacingAndGlyphs">PPF Fitted Curve</text>
<text x="240.7" y="569.8" font-family="Liberation Sans" font-size="5.2" font-weight="bold" fill="#222" textLength="116" lengthAdjust="spacingAndGlyphs">PPF Index = 1 + A<tspan font-size="3.4" dy="1">1</tspan><tspan dy="-1">exp(-Δt/τ</tspan><tspan font-size="3.4" dy="1">1</tspan><tspan dy="-1">) + A</tspan><tspan font-size="3.4" dy="1">2</tspan><tspan dy="-1">exp(-Δt/τ</tspan><tspan font-size="3.4" dy="1">2</tspan><tspan dy="-1">)</tspan></text>
<text x="300" y="578.2" font-family="Liberation Sans" font-size="5.2" font-weight="bold" fill="#222">A<tspan font-size="3.4" dy="1">1</tspan><tspan dy="-1"> = 0.47</tspan></text>
<text x="300" y="587.1" font-family="Liberation Sans" font-size="5.2" font-weight="bold" fill="#222">A<tspan font-size="3.4" dy="1">2</tspan><tspan dy="-1"> = 0.54</tspan></text>
<text x="300" y="595.8" font-family="Liberation Sans" font-size="5.2" font-weight="bold" fill="#222">τ<tspan font-size="3.4" dy="1">1</tspan><tspan dy="-1">  = 6 ms</tspan></text>
<text x="300" y="604.2" font-family="Liberation Sans" font-size="5.2" font-weight="bold" fill="#222">τ<tspan font-size="3.4" dy="1">2</tspan><tspan dy="-1">  = 578 ms</tspan></text>
<rect x="225.90" y="621.80" width="37.60" height="39.60" fill="#fff" stroke="#666" stroke-width="0.8" />
<polyline points="226.30,659.50 229.10,659.50 232.30,639.50 240.90,644.50 244.10,626.80 247.00,630.50 252.00,633.00 263.30,636.80" fill="none" stroke="#2ca6d2" stroke-width="1.0" stroke-linejoin="round" stroke-linecap="round" />
<text x="223.60" y="641.50" font-family="Liberation Sans" font-size="3.0" font-weight="bold" fill="#333" text-anchor="middle" style="" transform="rotate(-90 223.6 641.5)">EPSC nA</text>
<line x1="230.50" y1="661.40" x2="230.50" y2="660.00" stroke="#666" stroke-width="0.5" />
<line x1="245.50" y1="661.40" x2="245.50" y2="660.00" stroke="#666" stroke-width="0.5" />
<line x1="260.50" y1="661.40" x2="260.50" y2="660.00" stroke="#666" stroke-width="0.5" />
<rect x="387.90" y="547.70" width="148.70" height="120.10" fill="none" stroke="#333" stroke-width="1.1" />
<line x1="388.20" y1="667.80" x2="388.20" y2="665.30" stroke="#333" stroke-width="0.8" />
<text x="388.20" y="676.20" font-family="Liberation Sans" font-size="6.48" font-weight="bold" fill="#222" text-anchor="middle" style="">0</text>
<line x1="425.30" y1="667.80" x2="425.30" y2="665.30" stroke="#333" stroke-width="0.8" />
<text x="425.30" y="676.20" font-family="Liberation Sans" font-size="6.48" font-weight="bold" fill="#222" text-anchor="middle" style="">20</text>
<line x1="462.40" y1="667.80" x2="462.40" y2="665.30" stroke="#333" stroke-width="0.8" />
<text x="462.40" y="676.20" font-family="Liberation Sans" font-size="6.48" font-weight="bold" fill="#222" text-anchor="middle" style="">40</text>
<line x1="499.50" y1="667.80" x2="499.50" y2="665.30" stroke="#333" stroke-width="0.8" />
<text x="499.50" y="676.20" font-family="Liberation Sans" font-size="6.48" font-weight="bold" fill="#222" text-anchor="middle" style="">60</text>
<line x1="536.60" y1="667.80" x2="536.60" y2="665.30" stroke="#333" stroke-width="0.8" />
<text x="536.60" y="676.20" font-family="Liberation Sans" font-size="6.48" font-weight="bold" fill="#222" text-anchor="middle" style="">80</text>
<line x1="406.75" y1="667.80" x2="406.75" y2="666.40" stroke="#333" stroke-width="0.7" />
<line x1="443.85" y1="667.80" x2="443.85" y2="666.40" stroke="#333" stroke-width="0.7" />
<line x1="480.95" y1="667.80" x2="480.95" y2="666.40" stroke="#333" stroke-width="0.7" />
<line x1="518.05" y1="667.80" x2="518.05" y2="666.40" stroke="#333" stroke-width="0.7" />
<line x1="387.90" y1="667.50" x2="390.40" y2="667.50" stroke="#333" stroke-width="0.8" />
<text x="385.30" y="669.70" font-family="Liberation Sans" font-size="6.48" font-weight="bold" fill="#222" text-anchor="end" style="">0</text>
<line x1="387.90" y1="633.30" x2="390.40" y2="633.30" stroke="#333" stroke-width="0.8" />
<text x="385.30" y="635.50" font-family="Liberation Sans" font-size="6.48" font-weight="bold" fill="#222" text-anchor="end" style="">5</text>
<line x1="387.90" y1="599.10" x2="390.40" y2="599.10" stroke="#333" stroke-width="0.8" />
<text x="385.30" y="601.30" font-family="Liberation Sans" font-size="6.48" font-weight="bold" fill="#222" text-anchor="end" style="">10</text>
<line x1="387.90" y1="564.90" x2="390.40" y2="564.90" stroke="#333" stroke-width="0.8" />
<text x="385.30" y="567.10" font-family="Liberation Sans" font-size="6.48" font-weight="bold" fill="#222" text-anchor="end" style="">15</text>
<line x1="387.90" y1="650.40" x2="389.30" y2="650.40" stroke="#333" stroke-width="0.7" />
<line x1="387.90" y1="616.20" x2="389.30" y2="616.20" stroke="#333" stroke-width="0.7" />
<line x1="387.90" y1="582.00" x2="389.30" y2="582.00" stroke="#333" stroke-width="0.7" />
<text x="461.90" y="688.30" font-family="Liberation Sans" font-size="6.6" font-weight="bold" fill="#222" text-anchor="middle" style="" textLength="24.5" lengthAdjust="spacingAndGlyphs">Time (s)</text>
<text x="374.40" y="608.40" font-family="Liberation Sans" font-size="6.8" font-weight="bold" fill="#222" text-anchor="middle" style="" textLength="34" lengthAdjust="spacingAndGlyphs" transform="rotate(-90 374.4 608.4)">EPSC (nA)</text>
<polygon points="388.29,633.00 388.29,618.61 390.26,615.04 392.23,612.27 394.19,609.78 396.16,607.45 398.12,605.22 400.09,603.09 402.06,601.03 404.02,599.02 405.99,597.07 406.75,611.41 405.99,611.62 404.02,612.28 402.06,613.14 400.09,614.26 398.12,615.71 396.16,617.61 394.19,620.09 392.23,623.32 390.26,627.52 388.29,633.00" fill="#a8d8f0" stroke="none" stroke-width="1" stroke-linejoin="round" />
<line x1="388.29" y1="633.00" x2="388.29" y2="618.61" stroke="#2c9cd8" stroke-width="0.8" />
<line x1="390.26" y1="627.52" x2="390.26" y2="615.04" stroke="#2c9cd8" stroke-width="0.8" />
<line x1="392.23" y1="623.32" x2="392.23" y2="612.27" stroke="#2c9cd8" stroke-width="0.8" />
<line x1="394.19" y1="620.09" x2="394.19" y2="609.78" stroke="#2c9cd8" stroke-width="0.8" />
<line x1="396.16" y1="617.61" x2="396.16" y2="607.45" stroke="#2c9cd8" stroke-width="0.8" />
<line x1="398.12" y1="615.71" x2="398.12" y2="605.22" stroke="#2c9cd8" stroke-width="0.8" />
<line x1="400.09" y1="614.26" x2="400.09" y2="603.09" stroke="#2c9cd8" stroke-width="0.8" />
<line x1="402.06" y1="613.14" x2="402.06" y2="601.03" stroke="#2c9cd8" stroke-width="0.8" />
<line x1="404.02" y1="612.28" x2="404.02" y2="599.02" stroke="#2c9cd8" stroke-width="0.8" />
<line x1="405.99" y1="611.62" x2="405.99" y2="597.07" stroke="#2c9cd8" stroke-width="0.8" />
<path d="M388.20,633.30 C388.22,633.25 387.95,633.97 388.29,633.00 C388.64,632.04 389.60,629.14 390.26,627.52 C390.91,625.91 391.57,624.55 392.23,623.32 C392.88,622.08 393.54,621.04 394.19,620.09 C394.85,619.14 395.50,618.34 396.16,617.61 C396.81,616.88 397.47,616.27 398.12,615.71 C398.78,615.15 399.44,614.69 400.09,614.26 C400.75,613.83 401.40,613.47 402.06,613.14 C402.71,612.81 403.37,612.53 404.02,612.28 C404.68,612.03 405.53,611.77 405.99,611.62 C406.44,611.48 406.62,611.45 406.75,611.41 C406.88,611.38 406.13,610.73 406.75,611.41 C407.37,612.10 408.91,614.26 410.46,615.52 C412.01,616.77 413.55,617.80 416.02,618.94 C418.50,620.08 422.21,621.44 425.30,622.36 C428.39,623.27 431.48,623.78 434.57,624.41 C437.67,625.04 439.21,625.49 443.85,626.12 C448.49,626.75 456.22,627.60 462.40,628.17 C468.58,628.74 474.77,629.20 480.95,629.54 C487.13,629.88 493.32,629.99 499.50,630.22 C505.68,630.45 511.87,630.68 518.05,630.91 C524.23,631.13 533.51,631.48 536.60,631.59" fill="none" stroke="#2c9cd8" stroke-width="1.3" stroke-linejoin="round" stroke-linecap="round" />
<line x1="388.20" y1="667.50" x2="388.20" y2="633.30" stroke="#2c9cd8" stroke-width="1.1" />
<polygon points="388.29,617.91 388.29,589.83 390.26,585.70 392.23,582.51 394.19,579.62 396.16,576.92 398.12,574.35 400.09,571.89 402.06,569.50 404.02,567.18 405.99,564.92 406.75,592.94 405.99,593.19 404.02,593.95 402.06,594.94 400.09,596.23 398.12,597.92 396.16,600.11 394.19,602.98 392.23,606.71 390.26,611.57 388.29,617.91" fill="#f8b8bc" stroke="none" stroke-width="1" stroke-linejoin="round" />
<line x1="388.29" y1="617.91" x2="388.29" y2="589.83" stroke="#f0343e" stroke-width="0.8" />
<line x1="390.26" y1="611.57" x2="390.26" y2="585.70" stroke="#f0343e" stroke-width="0.8" />
<line x1="392.23" y1="606.71" x2="392.23" y2="582.51" stroke="#f0343e" stroke-width="0.8" />
<line x1="394.19" y1="602.98" x2="394.19" y2="579.62" stroke="#f0343e" stroke-width="0.8" />
<line x1="396.16" y1="600.11" x2="396.16" y2="576.92" stroke="#f0343e" stroke-width="0.8" />
<line x1="398.12" y1="597.92" x2="398.12" y2="574.35" stroke="#f0343e" stroke-width="0.8" />
<line x1="400.09" y1="596.23" x2="400.09" y2="571.89" stroke="#f0343e" stroke-width="0.8" />
<line x1="402.06" y1="594.94" x2="402.06" y2="569.50" stroke="#f0343e" stroke-width="0.8" />
<line x1="404.02" y1="593.95" x2="404.02" y2="567.18" stroke="#f0343e" stroke-width="0.8" />
<line x1="405.99" y1="593.19" x2="405.99" y2="564.92" stroke="#f0343e" stroke-width="0.8" />
<path d="M388.20,618.25 C388.22,618.19 387.95,619.02 388.29,617.91 C388.64,616.80 389.60,613.44 390.26,611.57 C390.91,609.70 391.57,608.14 392.23,606.71 C392.88,605.28 393.54,604.08 394.19,602.98 C394.85,601.88 395.50,600.96 396.16,600.11 C396.81,599.27 397.47,598.57 398.12,597.92 C398.78,597.27 399.44,596.73 400.09,596.23 C400.75,595.74 401.40,595.32 402.06,594.94 C402.71,594.56 403.37,594.24 404.02,593.95 C404.68,593.66 405.53,593.36 405.99,593.19 C406.44,593.02 406.62,592.98 406.75,592.94 C406.88,592.90 406.13,592.26 406.75,592.94 C407.37,593.63 408.91,595.57 410.46,597.05 C412.01,598.53 413.55,600.24 416.02,601.84 C418.50,603.43 422.21,605.31 425.30,606.62 C428.39,607.94 431.48,608.79 434.57,609.70 C437.67,610.61 439.21,611.24 443.85,612.10 C448.49,612.95 456.22,614.09 462.40,614.83 C468.58,615.57 474.77,616.09 480.95,616.54 C487.13,617.00 493.32,617.28 499.50,617.57 C505.68,617.85 511.87,617.97 518.05,618.25 C524.23,618.54 533.51,619.11 536.60,619.28" fill="none" stroke="#f0343e" stroke-width="1.3" stroke-linejoin="round" stroke-linecap="round" />
<line x1="388.20" y1="633.30" x2="388.20" y2="618.25" stroke="#f0343e" stroke-width="1.1" />
<text x="479.20" y="555.90" font-family="Liberation Sans" font-size="6.7" font-weight="bold" fill="#222" text-anchor="start" style="" textLength="32.8" lengthAdjust="spacingAndGlyphs">UV stimuli</text>
<line x1="480.90" y1="562.00" x2="494.70" y2="562.00" stroke="#f0343e" stroke-width="1.2" />
<line x1="480.90" y1="570.40" x2="494.70" y2="570.40" stroke="#2c9cd8" stroke-width="1.2" />
<text x="498.20" y="564.40" font-family="Liberation Sans" font-size="6.3" font-weight="bold" fill="#222" text-anchor="start" style="" textLength="34.5" lengthAdjust="spacingAndGlyphs">MXene/ZTO</text>
<text x="498.20" y="572.80" font-family="Liberation Sans" font-size="6.3" font-weight="bold" fill="#222" text-anchor="start" style="">ZTO</text>
<rect x="38.00" y="731.00" width="149.50" height="120.20" fill="none" stroke="#333" stroke-width="1.1" />
<line x1="54.60" y1="851.20" x2="54.60" y2="848.70" stroke="#333" stroke-width="0.8" />
<text x="54.60" y="859.60" font-family="Liberation Sans" font-size="6.48" font-weight="bold" fill="#222" text-anchor="middle" style="">2</text>
<line x1="87.80" y1="851.20" x2="87.80" y2="848.70" stroke="#333" stroke-width="0.8" />
<text x="87.80" y="859.60" font-family="Liberation Sans" font-size="6.48" font-weight="bold" fill="#222" text-anchor="middle" style="">4</text>
<line x1="121.00" y1="851.20" x2="121.00" y2="848.70" stroke="#333" stroke-width="0.8" />
<text x="121.00" y="859.60" font-family="Liberation Sans" font-size="6.48" font-weight="bold" fill="#222" text-anchor="middle" style="">6</text>
<line x1="154.20" y1="851.20" x2="154.20" y2="848.70" stroke="#333" stroke-width="0.8" />
<text x="154.20" y="859.60" font-family="Liberation Sans" font-size="6.48" font-weight="bold" fill="#222" text-anchor="middle" style="">8</text>
<line x1="187.40" y1="851.20" x2="187.40" y2="848.70" stroke="#333" stroke-width="0.8" />
<text x="187.40" y="859.60" font-family="Liberation Sans" font-size="6.48" font-weight="bold" fill="#222" text-anchor="middle" style="">10</text>
<line x1="38.00" y1="851.20" x2="38.00" y2="849.80" stroke="#333" stroke-width="0.7" />
<line x1="71.20" y1="851.20" x2="71.20" y2="849.80" stroke="#333" stroke-width="0.7" />
<line x1="104.40" y1="851.20" x2="104.40" y2="849.80" stroke="#333" stroke-width="0.7" />
<line x1="137.60" y1="851.20" x2="137.60" y2="849.80" stroke="#333" stroke-width="0.7" />
<line x1="170.80" y1="851.20" x2="170.80" y2="849.80" stroke="#333" stroke-width="0.7" />
<line x1="38.00" y1="850.80" x2="40.50" y2="850.80" stroke="#333" stroke-width="0.8" />
<text x="35.40" y="853.00" font-family="Liberation Sans" font-size="6.48" font-weight="bold" fill="#222" text-anchor="end" style="">0</text>
<line x1="38.00" y1="826.85" x2="40.50" y2="826.85" stroke="#333" stroke-width="0.8" />
<text x="35.40" y="829.05" font-family="Liberation Sans" font-size="6.48" font-weight="bold" fill="#222" text-anchor="end" style="">5</text>
<line x1="38.00" y1="802.90" x2="40.50" y2="802.90" stroke="#333" stroke-width="0.8" />
<text x="35.40" y="805.10" font-family="Liberation Sans" font-size="6.48" font-weight="bold" fill="#222" text-anchor="end" style="">10</text>
<line x1="38.00" y1="778.95" x2="40.50" y2="778.95" stroke="#333" stroke-width="0.8" />
<text x="35.40" y="781.15" font-family="Liberation Sans" font-size="6.48" font-weight="bold" fill="#222" text-anchor="end" style="">15</text>
<line x1="38.00" y1="755.00" x2="40.50" y2="755.00" stroke="#333" stroke-width="0.8" />
<text x="35.40" y="757.20" font-family="Liberation Sans" font-size="6.48" font-weight="bold" fill="#222" text-anchor="end" style="">20</text>
<line x1="38.00" y1="731.05" x2="40.50" y2="731.05" stroke="#333" stroke-width="0.8" />
<text x="35.40" y="733.25" font-family="Liberation Sans" font-size="6.48" font-weight="bold" fill="#222" text-anchor="end" style="">25</text>
<line x1="38.00" y1="838.82" x2="39.40" y2="838.82" stroke="#333" stroke-width="0.7" />
<line x1="38.00" y1="814.88" x2="39.40" y2="814.88" stroke="#333" stroke-width="0.7" />
<line x1="38.00" y1="790.92" x2="39.40" y2="790.92" stroke="#333" stroke-width="0.7" />
<line x1="38.00" y1="766.97" x2="39.40" y2="766.97" stroke="#333" stroke-width="0.7" />
<line x1="38.00" y1="743.02" x2="39.40" y2="743.02" stroke="#333" stroke-width="0.7" />
<text x="112.80" y="870.20" font-family="Liberation Sans" font-size="6.6" font-weight="bold" fill="#222" text-anchor="middle" style="" textLength="25.5" lengthAdjust="spacingAndGlyphs">Time (s)</text>
<text x="23.00" y="793.60" font-family="Liberation Sans" font-size="6.6" font-weight="bold" fill="#222" text-anchor="middle" style="" textLength="32.7" lengthAdjust="spacingAndGlyphs" transform="rotate(-90 23.0 793.6)">EPSC (nA)</text>
<path d="M38.00,847.64 L51.09,847.64" fill="none" stroke="#7444b4" stroke-width="1.35" stroke-linejoin="round" stroke-linecap="round" />
<path d="M51.09,847.64 C51.14,842.50 51.27,826.50 51.36,816.82 C51.45,807.14 51.50,796.36 51.64,789.55 C51.77,782.73 51.91,779.18 52.18,775.91 C52.45,772.64 52.82,771.50 53.27,769.91 C53.73,768.32 54.05,767.64 54.91,766.36 C55.77,765.09 56.73,763.64 58.45,762.27 C60.18,760.91 62.77,759.32 65.27,758.18 C67.77,757.05 70.27,756.36 73.45,755.45 C76.64,754.55 80.95,753.64 84.36,752.73 C87.77,751.82 92.32,750.45 93.91,750.00" fill="none" stroke="#7444b4" stroke-width="1.35" stroke-linejoin="round" stroke-linecap="round" />
<path d="M93.91,750.00 C94.23,751.82 95.05,758.05 95.82,760.91 C96.59,763.77 97.27,765.50 98.55,767.18 C99.82,768.86 101.27,769.77 103.45,771.00 C105.64,772.23 108.45,773.45 111.64,774.55 C114.82,775.64 118.91,776.64 122.55,777.55 C126.18,778.45 129.36,779.18 133.45,780.00 C137.55,780.82 141.18,781.68 147.09,782.45 C153.00,783.23 162.09,784.00 168.91,784.64 C175.73,785.27 184.82,786.00 188.00,786.27" fill="none" stroke="#7444b4" stroke-width="1.35" stroke-linejoin="round" stroke-linecap="round" />
<path d="M38.00,847.64 L51.09,847.64" fill="none" stroke="#a468cc" stroke-width="1.35" stroke-linejoin="round" stroke-linecap="round" />
<path d="M51.09,847.64 C51.14,842.50 51.27,826.50 51.36,816.82 C51.45,807.14 51.50,796.49 51.64,789.57 C51.77,782.65 51.91,778.65 52.18,775.28 C52.45,771.90 52.82,770.89 53.27,769.32 C53.73,767.75 54.05,767.08 54.91,765.85 C55.77,764.61 56.73,763.20 58.45,761.91 C60.18,760.63 62.77,759.06 65.27,758.12 C67.77,757.18 72.09,756.58 73.45,756.27" fill="none" stroke="#a468cc" stroke-width="1.35" stroke-linejoin="round" stroke-linecap="round" />
<path d="M73.45,756.27 C73.68,758.18 73.91,764.91 74.82,767.73 C75.73,770.55 77.32,771.73 78.91,773.18 C80.50,774.64 81.64,775.32 84.36,776.45 C87.09,777.59 91.64,778.95 95.27,780.00 C98.91,781.05 100.73,781.68 106.18,782.73 C111.64,783.77 121.18,785.23 128.00,786.27 C134.82,787.32 140.27,788.23 147.09,789.00 C153.91,789.77 162.09,790.36 168.91,790.91 C175.73,791.45 184.82,792.05 188.00,792.27" fill="none" stroke="#a468cc" stroke-width="1.35" stroke-linejoin="round" stroke-linecap="round" />
<path d="M38.00,847.64 L51.09,847.64" fill="none" stroke="#c896dc" stroke-width="1.35" stroke-linejoin="round" stroke-linecap="round" />
<path d="M51.09,847.64 C51.14,842.50 51.27,826.49 51.36,816.82 C51.45,807.15 51.50,796.63 51.64,789.60 C51.77,782.58 51.91,778.13 52.18,774.66 C52.45,771.19 52.82,770.32 53.27,768.77 C53.73,767.23 54.05,766.58 54.91,765.40 C55.77,764.22 57.27,761.75 58.45,761.68 C59.64,761.62 61.41,764.45 62.00,765.00" fill="none" stroke="#c896dc" stroke-width="1.35" stroke-linejoin="round" stroke-linecap="round" />
<path d="M62.00,765.00 C62.32,766.82 62.91,773.18 63.91,775.91 C64.91,778.64 66.41,779.91 68.00,781.36 C69.59,782.82 70.27,783.59 73.45,784.64 C76.64,785.68 81.64,786.77 87.09,787.64 C92.55,788.50 99.36,789.14 106.18,789.82 C113.00,790.50 121.18,791.14 128.00,791.73 C134.82,792.32 140.27,792.86 147.09,793.36 C153.91,793.86 162.09,794.32 168.91,794.73 C175.73,795.14 184.82,795.64 188.00,795.82" fill="none" stroke="#c896dc" stroke-width="1.35" stroke-linejoin="round" stroke-linecap="round" />
<path d="M38.00,847.64 L51.09,847.64" fill="none" stroke="#ecc4ec" stroke-width="1.35" stroke-linejoin="round" stroke-linecap="round" />
<path d="M51.09,847.64 C51.14,842.50 51.27,826.49 51.36,816.82 C51.45,807.15 51.50,796.76 51.64,789.62 C51.77,782.49 51.91,777.59 52.18,774.02 C52.45,770.45 52.82,769.70 53.27,768.18 C53.73,766.65 54.05,764.49 54.91,764.87 C55.77,765.25 57.86,769.52 58.45,770.45" fill="none" stroke="#ecc4ec" stroke-width="1.35" stroke-linejoin="round" stroke-linecap="round" />
<path d="M58.45,770.45 C58.68,772.05 59.14,777.73 59.82,780.00 C60.50,782.27 60.73,782.86 62.55,784.09 C64.36,785.32 66.64,786.23 70.73,787.36 C74.82,788.50 81.18,790.05 87.09,790.91 C93.00,791.77 99.36,792.00 106.18,792.55 C113.00,793.09 121.18,793.68 128.00,794.18 C134.82,794.68 140.27,795.14 147.09,795.55 C153.91,795.95 162.09,796.27 168.91,796.64 C175.73,797.00 184.82,797.55 188.00,797.73" fill="none" stroke="#ecc4ec" stroke-width="1.35" stroke-linejoin="round" stroke-linecap="round" />
<text x="143.00" y="812.60" font-family="Liberation Sans" font-size="7.0" font-weight="bold" fill="#222" text-anchor="start" style="" textLength="43.6" lengthAdjust="spacingAndGlyphs">Pulses Width</text>
<line x1="143.00" y1="819.50" x2="155.30" y2="819.50" stroke="#ecc4ec" stroke-width="1.3" />
<text x="159.30" y="821.90" font-family="Liberation Sans" font-size="6.5" font-weight="bold" fill="#222" text-anchor="start" style="">0.25 s</text>
<line x1="143.00" y1="827.70" x2="155.30" y2="827.70" stroke="#c896dc" stroke-width="1.3" />
<text x="159.30" y="830.10" font-family="Liberation Sans" font-size="6.5" font-weight="bold" fill="#222" text-anchor="start" style="">0.5 s</text>
<line x1="143.00" y1="835.90" x2="155.30" y2="835.90" stroke="#a468cc" stroke-width="1.3" />
<text x="159.30" y="838.30" font-family="Liberation Sans" font-size="6.5" font-weight="bold" fill="#222" text-anchor="start" style="">1.5 s</text>
<line x1="143.00" y1="844.10" x2="155.30" y2="844.10" stroke="#7444b4" stroke-width="1.3" />
<text x="159.30" y="846.50" font-family="Liberation Sans" font-size="6.5" font-weight="bold" fill="#222" text-anchor="start" style="">2.5 s</text>
<rect x="212.30" y="731.70" width="148.20" height="119.50" fill="none" stroke="#333" stroke-width="1.1" />
<line x1="212.10" y1="851.20" x2="212.10" y2="848.70" stroke="#333" stroke-width="0.8" />
<text x="212.10" y="859.60" font-family="Liberation Sans" font-size="6.48" font-weight="bold" fill="#222" text-anchor="middle" style="">0</text>
<line x1="249.20" y1="851.20" x2="249.20" y2="848.70" stroke="#333" stroke-width="0.8" />
<text x="249.20" y="859.60" font-family="Liberation Sans" font-size="6.48" font-weight="bold" fill="#222" text-anchor="middle" style="">50</text>
<line x1="286.30" y1="851.20" x2="286.30" y2="848.70" stroke="#333" stroke-width="0.8" />
<text x="286.30" y="859.60" font-family="Liberation Sans" font-size="6.48" font-weight="bold" fill="#222" text-anchor="middle" style="">100</text>
<line x1="323.40" y1="851.20" x2="323.40" y2="848.70" stroke="#333" stroke-width="0.8" />
<text x="323.40" y="859.60" font-family="Liberation Sans" font-size="6.48" font-weight="bold" fill="#222" text-anchor="middle" style="">150</text>
<line x1="360.50" y1="851.20" x2="360.50" y2="848.70" stroke="#333" stroke-width="0.8" />
<text x="360.50" y="859.60" font-family="Liberation Sans" font-size="6.48" font-weight="bold" fill="#222" text-anchor="middle" style="">200</text>
<line x1="230.65" y1="851.20" x2="230.65" y2="849.80" stroke="#333" stroke-width="0.7" />
<line x1="267.75" y1="851.20" x2="267.75" y2="849.80" stroke="#333" stroke-width="0.7" />
<line x1="304.85" y1="851.20" x2="304.85" y2="849.80" stroke="#333" stroke-width="0.7" />
<line x1="341.95" y1="851.20" x2="341.95" y2="849.80" stroke="#333" stroke-width="0.7" />
<line x1="212.30" y1="851.00" x2="214.80" y2="851.00" stroke="#333" stroke-width="0.8" />
<text x="209.70" y="853.20" font-family="Liberation Sans" font-size="6.48" font-weight="bold" fill="#222" text-anchor="end" style="">0</text>
<line x1="212.30" y1="821.20" x2="214.80" y2="821.20" stroke="#333" stroke-width="0.8" />
<text x="209.70" y="823.40" font-family="Liberation Sans" font-size="6.48" font-weight="bold" fill="#222" text-anchor="end" style="">5</text>
<line x1="212.30" y1="791.40" x2="214.80" y2="791.40" stroke="#333" stroke-width="0.8" />
<text x="209.70" y="793.60" font-family="Liberation Sans" font-size="6.48" font-weight="bold" fill="#222" text-anchor="end" style="">10</text>
<line x1="212.30" y1="761.60" x2="214.80" y2="761.60" stroke="#333" stroke-width="0.8" />
<text x="209.70" y="763.80" font-family="Liberation Sans" font-size="6.48" font-weight="bold" fill="#222" text-anchor="end" style="">15</text>
<line x1="212.30" y1="731.80" x2="214.80" y2="731.80" stroke="#333" stroke-width="0.8" />
<text x="209.70" y="734.00" font-family="Liberation Sans" font-size="6.48" font-weight="bold" fill="#222" text-anchor="end" style="">20</text>
<line x1="212.30" y1="836.10" x2="213.70" y2="836.10" stroke="#333" stroke-width="0.7" />
<line x1="212.30" y1="806.30" x2="213.70" y2="806.30" stroke="#333" stroke-width="0.7" />
<line x1="212.30" y1="776.50" x2="213.70" y2="776.50" stroke="#333" stroke-width="0.7" />
<line x1="212.30" y1="746.70" x2="213.70" y2="746.70" stroke="#333" stroke-width="0.7" />
<text x="285.30" y="870.20" font-family="Liberation Sans" font-size="6.6" font-weight="bold" fill="#222" text-anchor="middle" style="" textLength="24.5" lengthAdjust="spacingAndGlyphs">Time (s)</text>
<text x="198.00" y="793.50" font-family="Liberation Sans" font-size="6.8" font-weight="bold" fill="#222" text-anchor="middle" style="" textLength="35" lengthAdjust="spacingAndGlyphs" transform="rotate(-90 198.0 793.5)">EPSC (nA)</text>
<path d="M212.10,851.00 L212.10,799.50 L213.40,799.50 L213.40,821.80 L214.50,821.80 L214.50,799.50 L215.60,799.50 L215.60,821.80 L216.70,821.80 L216.70,799.50 L217.80,799.50 L217.80,821.80 L218.90,821.80 L218.90,799.50 L220.00,799.50 L220.00,821.80 L221.10,821.80 L221.10,799.50 L222.20,799.50 L222.20,821.80 L223.30,821.80 L223.30,799.50 L224.40,799.50 L224.40,821.80 L225.50,821.80 L225.50,799.50 L226.60,799.50 L226.60,821.80 L227.70,821.80 L227.70,799.50 L228.80,799.50 L228.80,821.80 L229.90,821.80 L229.90,799.50 L231.00,799.50 L231.00,821.80 L232.10,821.80 L232.10,799.50 L233.20,799.50 L233.20,821.80 L234.30,821.80 L234.30,799.50 L235.40,799.50 L235.40,821.80 L236.50,821.80 L236.50,799.50 L237.60,799.50 L237.60,821.80 L238.70,821.80 L238.70,799.50" fill="none" stroke="#a8e0f4" stroke-width="0.7" stroke-linejoin="round" stroke-linecap="round" />
<path d="M239.30,818.00 C239.52,818.63 239.23,820.48 240.60,821.80 C241.97,823.12 245.00,824.77 247.50,825.90 C250.00,827.03 252.43,827.68 255.60,828.60 C258.77,829.52 261.72,830.48 266.50,831.40 C271.28,832.32 281.33,833.65 284.30,834.10" fill="none" stroke="#a8e0f4" stroke-width="1.1" stroke-linejoin="round" stroke-linecap="round" />
<polygon points="249.40,813.60 249.40,794.50 267.90,785.00 267.90,805.50" fill="#9ad8f2" stroke="none" stroke-width="1" stroke-linejoin="round" />
<line x1="249.40" y1="813.60" x2="249.40" y2="794.50" stroke="#6cccf0" stroke-width="0.5" />
<line x1="251.15" y1="812.80" x2="251.15" y2="793.55" stroke="#6cccf0" stroke-width="0.5" />
<line x1="252.90" y1="812.00" x2="252.90" y2="792.60" stroke="#6cccf0" stroke-width="0.5" />
<line x1="254.65" y1="811.20" x2="254.65" y2="791.65" stroke="#6cccf0" stroke-width="0.5" />
<line x1="256.40" y1="810.40" x2="256.40" y2="790.70" stroke="#6cccf0" stroke-width="0.5" />
<line x1="258.15" y1="809.60" x2="258.15" y2="789.75" stroke="#6cccf0" stroke-width="0.5" />
<line x1="259.90" y1="808.80" x2="259.90" y2="788.80" stroke="#6cccf0" stroke-width="0.5" />
<line x1="261.65" y1="808.00" x2="261.65" y2="787.85" stroke="#6cccf0" stroke-width="0.5" />
<line x1="263.40" y1="807.20" x2="263.40" y2="786.90" stroke="#6cccf0" stroke-width="0.5" />
<line x1="265.15" y1="806.40" x2="265.15" y2="785.95" stroke="#6cccf0" stroke-width="0.5" />
<line x1="266.90" y1="805.60" x2="266.90" y2="785.00" stroke="#6cccf0" stroke-width="0.5" />
<line x1="249.40" y1="849.50" x2="249.40" y2="813.60" stroke="#6cccf0" stroke-width="1.0" />
<polyline points="249.40,813.60 267.90,805.50" fill="none" stroke="#6cccf0" stroke-width="0.8" stroke-linejoin="round" stroke-linecap="round" />
<path d="M267.90,785.00 C268.02,787.50 267.47,795.92 268.60,800.00 C269.73,804.08 271.87,807.00 274.70,809.50 C277.53,812.00 281.05,813.40 285.60,815.00 C290.15,816.60 296.08,817.97 302.00,819.10 C307.92,820.23 317.47,821.25 321.10,821.80 C324.73,822.35 323.35,822.30 323.80,822.40" fill="none" stroke="#6cccf0" stroke-width="1.1" stroke-linejoin="round" stroke-linecap="round" />
<polygon points="286.20,813.00 286.20,790.00 293.30,761.80 293.30,783.00" fill="#20b0e4" stroke="none" stroke-width="1" stroke-linejoin="round" />
<line x1="286.20" y1="849.50" x2="286.20" y2="790.00" stroke="#20b0e4" stroke-width="1.0" />
<path d="M293.30,761.80 C293.45,763.50 293.88,768.82 294.20,772.00 C294.52,775.18 294.35,777.60 295.20,780.90 C296.05,784.20 297.25,788.38 299.30,791.80 C301.35,795.22 303.87,798.45 307.50,801.40 C311.13,804.35 316.57,807.23 321.10,809.50 C325.63,811.77 330.15,813.53 334.70,815.00 C339.25,816.47 344.18,817.47 348.40,818.30 C352.62,819.13 358.07,819.72 360.00,820.00" fill="none" stroke="#20b0e4" stroke-width="1.1" stroke-linejoin="round" stroke-linecap="round" />
<polygon points="323.30,800.00 323.30,775.00 326.50,745.50 326.50,770.00" fill="#0e78c4" stroke="none" stroke-width="1" stroke-linejoin="round" />
<line x1="323.30" y1="849.50" x2="323.30" y2="790.00" stroke="#0e78c4" stroke-width="1.0" />
<path d="M326.50,745.50 C326.68,747.42 327.23,753.37 327.60,757.00 C327.97,760.63 327.97,763.77 328.70,767.30 C329.43,770.83 330.08,774.57 332.00,778.20 C333.92,781.83 337.47,785.92 340.20,789.10 C342.93,792.28 345.93,794.90 348.40,797.30 C350.87,799.70 353.07,801.68 355.00,803.50 C356.93,805.32 359.17,807.42 360.00,808.20" fill="none" stroke="#0e78c4" stroke-width="1.1" stroke-linejoin="round" stroke-linecap="round" />
<text x="216.10" y="740.00" font-family="Liberation Sans" font-size="6.7" font-weight="bold" fill="#222" text-anchor="start" style="" textLength="55.3" lengthAdjust="spacingAndGlyphs">Pulses frequency</text>
<line x1="214.50" y1="745.30" x2="231.80" y2="745.30" stroke="#a8e0f4" stroke-width="1.2" />
<text x="233.50" y="747.70" font-family="Liberation Sans" font-size="6.5" font-weight="bold" fill="#222" text-anchor="start" style="">0.25 Hz</text>
<line x1="214.50" y1="754.25" x2="231.80" y2="754.25" stroke="#6cccf0" stroke-width="1.2" />
<text x="237.00" y="756.65" font-family="Liberation Sans" font-size="6.5" font-weight="bold" fill="#222" text-anchor="start" style="">0.5 Hz</text>
<line x1="214.50" y1="763.20" x2="231.80" y2="763.20" stroke="#20b0e4" stroke-width="1.2" />
<text x="243.90" y="765.60" font-family="Liberation Sans" font-size="6.5" font-weight="bold" fill="#222" text-anchor="start" style="">1 Hz</text>
<line x1="214.50" y1="772.15" x2="231.80" y2="772.15" stroke="#0e78c4" stroke-width="1.2" />
<text x="243.90" y="774.55" font-family="Liberation Sans" font-size="6.5" font-weight="bold" fill="#222" text-anchor="start" style="">2 Hz</text>
<rect x="388.60" y="729.50" width="149.40" height="121.80" fill="none" stroke="#333" stroke-width="1.1" />
<line x1="388.60" y1="851.30" x2="388.60" y2="848.80" stroke="#333" stroke-width="0.8" />
<text x="388.60" y="859.70" font-family="Liberation Sans" font-size="6.48" font-weight="bold" fill="#222" text-anchor="middle" style="">0</text>
<line x1="438.40" y1="851.30" x2="438.40" y2="848.80" stroke="#333" stroke-width="0.8" />
<text x="438.40" y="859.70" font-family="Liberation Sans" font-size="6.48" font-weight="bold" fill="#222" text-anchor="middle" style="">10</text>
<line x1="488.20" y1="851.30" x2="488.20" y2="848.80" stroke="#333" stroke-width="0.8" />
<text x="488.20" y="859.70" font-family="Liberation Sans" font-size="6.48" font-weight="bold" fill="#222" text-anchor="middle" style="">20</text>
<line x1="538.00" y1="851.30" x2="538.00" y2="848.80" stroke="#333" stroke-width="0.8" />
<text x="538.00" y="859.70" font-family="Liberation Sans" font-size="6.48" font-weight="bold" fill="#222" text-anchor="middle" style="">30</text>
<line x1="413.50" y1="851.30" x2="413.50" y2="849.90" stroke="#333" stroke-width="0.7" />
<line x1="463.30" y1="851.30" x2="463.30" y2="849.90" stroke="#333" stroke-width="0.7" />
<line x1="513.10" y1="851.30" x2="513.10" y2="849.90" stroke="#333" stroke-width="0.7" />
<line x1="388.60" y1="851.50" x2="391.10" y2="851.50" stroke="#333" stroke-width="0.8" />
<text x="386.00" y="853.70" font-family="Liberation Sans" font-size="6.48" font-weight="bold" fill="#222" text-anchor="end" style="">0</text>
<line x1="388.60" y1="834.07" x2="391.10" y2="834.07" stroke="#333" stroke-width="0.8" />
<text x="386.00" y="836.27" font-family="Liberation Sans" font-size="6.48" font-weight="bold" fill="#222" text-anchor="end" style="">5</text>
<line x1="388.60" y1="816.64" x2="391.10" y2="816.64" stroke="#333" stroke-width="0.8" />
<text x="386.00" y="818.84" font-family="Liberation Sans" font-size="6.48" font-weight="bold" fill="#222" text-anchor="end" style="">10</text>
<line x1="388.60" y1="799.21" x2="391.10" y2="799.21" stroke="#333" stroke-width="0.8" />
<text x="386.00" y="801.41" font-family="Liberation Sans" font-size="6.48" font-weight="bold" fill="#222" text-anchor="end" style="">15</text>
<line x1="388.60" y1="781.78" x2="391.10" y2="781.78" stroke="#333" stroke-width="0.8" />
<text x="386.00" y="783.98" font-family="Liberation Sans" font-size="6.48" font-weight="bold" fill="#222" text-anchor="end" style="">20</text>
<line x1="388.60" y1="764.35" x2="391.10" y2="764.35" stroke="#333" stroke-width="0.8" />
<text x="386.00" y="766.55" font-family="Liberation Sans" font-size="6.48" font-weight="bold" fill="#222" text-anchor="end" style="">25</text>
<line x1="388.60" y1="746.92" x2="391.10" y2="746.92" stroke="#333" stroke-width="0.8" />
<text x="386.00" y="749.12" font-family="Liberation Sans" font-size="6.48" font-weight="bold" fill="#222" text-anchor="end" style="">30</text>
<line x1="388.60" y1="729.49" x2="391.10" y2="729.49" stroke="#333" stroke-width="0.8" />
<text x="386.00" y="731.69" font-family="Liberation Sans" font-size="6.48" font-weight="bold" fill="#222" text-anchor="end" style="">35</text>
<line x1="388.60" y1="842.78" x2="390.00" y2="842.78" stroke="#333" stroke-width="0.7" />
<line x1="388.60" y1="825.36" x2="390.00" y2="825.36" stroke="#333" stroke-width="0.7" />
<line x1="388.60" y1="807.92" x2="390.00" y2="807.92" stroke="#333" stroke-width="0.7" />
<line x1="388.60" y1="790.50" x2="390.00" y2="790.50" stroke="#333" stroke-width="0.7" />
<line x1="388.60" y1="773.07" x2="390.00" y2="773.07" stroke="#333" stroke-width="0.7" />
<line x1="388.60" y1="755.63" x2="390.00" y2="755.63" stroke="#333" stroke-width="0.7" />
<line x1="388.60" y1="738.21" x2="390.00" y2="738.21" stroke="#333" stroke-width="0.7" />
<text x="463.10" y="870.20" font-family="Liberation Sans" font-size="6.6" font-weight="bold" fill="#222" text-anchor="middle" style="" textLength="25.2" lengthAdjust="spacingAndGlyphs">Time (s)</text>
<text x="374.40" y="791.00" font-family="Liberation Sans" font-size="6.6" font-weight="bold" fill="#222" text-anchor="middle" style="" textLength="32.8" lengthAdjust="spacingAndGlyphs" transform="rotate(-90 374.4 791.0)">EPSC (nA)</text>
<polyline points="388.60,851.50 388.60,835.81 388.68,832.93 388.77,831.17 388.85,830.11 388.93,829.47 389.02,829.08 389.10,828.84 390.04,830.77 390.99,831.95 391.94,832.66 392.88,833.09 393.83,833.35 394.78,833.51 395.72,833.61 396.67,833.66 397.61,833.70 398.56,833.72 398.56,833.72 398.64,831.27 398.73,829.78 398.81,828.88 398.89,828.33 398.98,828.00 399.06,827.80 400.00,829.87 400.95,831.12 401.90,831.89 402.84,832.35 403.79,832.63 404.74,832.80 405.68,832.90 406.63,832.96 407.57,833.00 408.52,833.02 408.52,833.02 408.60,830.57 408.69,829.08 408.77,828.18 408.85,827.63 408.94,827.30 409.02,827.10 409.96,829.31 410.91,830.65 411.86,831.46 412.80,831.95 413.75,832.25 414.70,832.43 415.64,832.54 416.59,832.61 417.53,832.65 418.48,832.68 418.48,832.68 418.56,830.22 418.65,828.73 418.73,827.83 418.81,827.28 418.90,826.95 418.98,826.75 419.92,828.96 420.87,830.30 421.82,831.11 422.76,831.60 423.71,831.90 424.66,832.09 425.60,832.20 426.55,832.26 427.49,832.30 428.44,832.33 428.44,832.33 428.52,829.87 428.61,828.38 428.69,827.48 428.77,826.93 428.86,826.60 428.94,826.40 429.88,828.75 430.83,830.17 431.78,831.04 432.72,831.56 433.67,831.88 434.62,832.07 435.56,832.19 436.51,832.26 437.45,832.30 438.40,832.33 438.40,832.33 438.48,829.87 438.57,828.38 438.65,827.48 438.73,826.93 438.82,826.60 438.90,826.40 439.84,828.61 440.79,829.95 441.74,830.76 442.68,831.26 443.63,831.56 444.58,831.74 445.52,831.85 446.47,831.91 447.41,831.95 448.36,831.98 448.36,831.98 448.44,829.52 448.53,828.04 448.61,827.13 448.69,826.59 448.78,826.25 448.86,826.05 449.80,828.40 450.75,829.82 451.70,830.69 452.64,831.21 453.59,831.53 454.54,831.72 455.48,831.84 456.43,831.91 457.37,831.95 458.32,831.98 458.32,831.98 458.40,829.52 458.49,828.04 458.57,827.13 458.65,826.59 458.74,826.25 458.82,826.05 459.76,828.40 460.71,829.82 461.66,830.69 462.60,831.21 463.55,831.53 464.50,831.72 465.44,831.84 466.39,831.91 467.33,831.95 468.28,831.98 468.28,831.98 468.36,829.52 468.45,828.04 468.53,827.13 468.61,826.59 468.70,826.25 468.78,826.05 469.72,828.40 470.67,829.82 471.62,830.69 472.56,831.21 473.51,831.53 474.46,831.72 475.40,831.84 476.35,831.91 477.29,831.95 478.24,831.98 478.24,831.98 478.32,829.52 478.41,828.04 478.49,827.13 478.57,826.59 478.66,826.25 478.74,826.05 480.71,828.99 482.69,830.48 484.66,831.30 486.64,831.81 488.62,832.16 490.59,832.43 492.57,832.66 494.54,832.85 496.52,833.01 498.49,833.17 500.47,833.30 502.44,833.42 504.42,833.53 506.39,833.63 508.37,833.72 510.34,833.81 512.32,833.88 514.30,833.95 516.27,834.01 518.25,834.06 520.22,834.11 522.20,834.16 524.17,834.20 526.15,834.24 528.12,834.27 530.10,834.30 532.07,834.33 534.05,834.35 536.02,834.38 538.00,834.40" fill="none" stroke="#c4ecc4" stroke-width="1.25" stroke-linejoin="round" stroke-linecap="round" />
<polyline points="388.60,851.50 388.60,823.61 388.77,818.70 388.93,815.73 389.10,813.92 389.26,812.83 389.43,812.16 389.60,811.76 390.49,815.07 391.39,817.08 392.29,818.30 393.18,819.04 394.08,819.49 394.97,819.76 395.87,819.93 396.77,820.03 397.66,820.09 398.56,820.13 398.56,820.13 398.73,815.80 398.89,813.17 399.06,811.58 399.22,810.61 399.39,810.02 399.56,809.67 400.45,813.40 401.35,815.66 402.25,817.03 403.14,817.86 404.04,818.37 404.93,818.67 405.83,818.86 406.73,818.97 407.62,819.04 408.52,819.08 408.52,819.08 408.69,814.75 408.85,812.12 409.02,810.53 409.18,809.56 409.35,808.98 409.52,808.62 410.41,812.49 411.31,814.83 412.21,816.26 413.10,817.12 414.00,817.64 414.89,817.96 415.79,818.15 416.69,818.27 417.58,818.34 418.48,818.38 418.48,818.38 418.65,814.05 418.81,811.43 418.98,809.83 419.14,808.87 419.31,808.28 419.48,807.92 420.37,811.93 421.27,814.36 422.17,815.83 423.06,816.73 423.96,817.27 424.85,817.60 425.75,817.80 426.65,817.92 427.54,817.99 428.44,818.03 428.44,818.03 428.61,813.70 428.77,811.08 428.94,809.48 429.10,808.52 429.27,807.93 429.44,807.58 430.33,811.58 431.23,814.01 432.13,815.48 433.02,816.38 433.92,816.92 434.81,817.25 435.71,817.45 436.61,817.57 437.50,817.64 438.40,817.69 438.40,817.69 438.57,813.36 438.73,810.73 438.90,809.14 439.06,808.17 439.23,807.58 439.40,807.23 440.29,811.23 441.19,813.66 442.09,815.13 442.98,816.03 443.88,816.57 444.77,816.90 445.67,817.10 446.57,817.22 447.46,817.29 448.36,817.34 448.36,817.34 448.53,813.01 448.69,810.38 448.86,808.79 449.02,807.82 449.19,807.23 449.36,806.88 450.25,811.02 451.15,813.53 452.05,815.06 452.94,815.98 453.84,816.54 454.73,816.88 455.63,817.09 456.53,817.22 457.42,817.29 458.32,817.34 458.32,817.34 458.49,813.01 458.65,810.38 458.82,808.79 458.98,807.82 459.15,807.23 459.32,806.88 460.21,811.02 461.11,813.53 462.01,815.06 462.90,815.98 463.80,816.54 464.69,816.88 465.59,817.09 466.49,817.22 467.38,817.29 468.28,817.34 468.28,817.34 468.45,812.86 468.61,810.15 468.78,808.50 468.94,807.50 469.11,806.90 469.28,806.53 470.17,810.67 471.07,813.19 471.97,814.71 472.86,815.63 473.76,816.20 474.65,816.54 475.55,816.74 476.45,816.87 477.34,816.94 478.24,816.99 478.24,816.99 478.41,812.66 478.57,810.03 478.74,808.44 478.90,807.47 479.07,806.89 479.24,806.53 481.19,812.96 483.15,816.25 485.11,818.07 487.07,819.19 489.03,819.97 490.99,820.57 492.95,821.06 494.91,821.48 496.87,821.85 498.82,822.18 500.78,822.48 502.74,822.75 504.70,823.00 506.66,823.22 508.62,823.42 510.58,823.60 512.54,823.76 514.49,823.91 516.45,824.05 518.41,824.17 520.37,824.28 522.33,824.38 524.29,824.47 526.25,824.56 528.21,824.63 530.16,824.70 532.12,824.76 534.08,824.82 536.04,824.87 538.00,824.91" fill="none" stroke="#8cd88c" stroke-width="1.25" stroke-linejoin="round" stroke-linecap="round" />
<polyline points="388.60,851.50 388.60,813.15 389.02,804.35 389.43,799.01 389.85,795.77 390.26,793.80 390.68,792.61 391.09,791.89 391.84,798.66 392.58,802.76 393.33,805.25 394.08,806.76 394.83,807.68 395.57,808.23 396.32,808.57 397.07,808.77 397.81,808.90 398.56,808.97 398.56,808.97 398.98,800.31 399.39,795.06 399.81,791.87 400.22,789.94 400.64,788.77 401.05,788.05 401.80,794.96 402.54,799.15 403.29,801.69 404.04,803.23 404.79,804.16 405.53,804.73 406.28,805.07 407.03,805.28 407.77,805.41 408.52,805.48 408.52,805.48 408.94,797.40 409.35,792.50 409.77,789.52 410.18,787.72 410.60,786.63 411.01,785.96 411.76,793.28 412.50,797.72 413.25,800.41 414.00,802.05 414.75,803.04 415.49,803.64 416.24,804.00 416.99,804.22 417.73,804.36 418.48,804.44 418.48,804.44 418.90,796.21 419.31,791.22 419.73,788.19 420.14,786.36 420.56,785.24 420.97,784.57 421.72,792.16 422.46,796.77 423.21,799.56 423.96,801.26 424.71,802.29 425.45,802.91 426.20,803.29 426.95,803.52 427.69,803.66 428.44,803.74 428.44,803.74 428.86,795.37 429.27,790.29 429.69,787.21 430.10,785.34 430.52,784.21 430.93,783.52 431.68,791.39 432.42,796.17 433.17,799.06 433.92,800.82 434.67,801.89 435.41,802.53 436.16,802.92 436.91,803.16 437.65,803.31 438.40,803.39 438.40,803.39 438.82,794.88 439.23,789.71 439.65,786.58 440.06,784.68 440.48,783.52 440.89,782.83 441.64,790.84 442.38,795.69 443.13,798.64 443.88,800.43 444.62,801.51 445.37,802.17 446.12,802.57 446.87,802.81 447.61,802.96 448.36,803.04 448.36,803.04 448.78,794.53 449.19,789.36 449.61,786.23 450.02,784.33 450.44,783.18 450.85,782.48 451.60,790.49 452.34,795.34 453.09,798.29 453.84,800.08 454.59,801.16 455.33,801.82 456.08,802.22 456.83,802.46 457.57,802.61 458.32,802.70 458.32,802.70 458.74,794.18 459.15,789.01 459.57,785.88 459.98,783.98 460.40,782.83 460.81,782.13 461.56,790.28 462.30,795.22 463.05,798.22 463.80,800.03 464.55,801.14 465.29,801.80 466.04,802.21 466.79,802.46 467.53,802.61 468.28,802.70 468.28,802.70 468.70,794.03 469.11,788.78 469.53,785.60 469.94,783.66 470.36,782.49 470.77,781.78 471.52,790.07 472.26,795.09 473.01,798.14 473.76,799.99 474.50,801.11 475.25,801.79 476.00,802.20 476.75,802.45 477.49,802.60 478.24,802.70 478.24,802.70 478.66,794.03 479.07,788.78 479.49,785.60 479.90,783.66 480.32,782.49 480.73,781.78 482.64,792.43 484.55,797.95 486.46,801.05 488.37,802.96 490.28,804.28 492.18,805.29 494.09,806.12 496.00,806.83 497.91,807.46 499.82,808.02 501.73,808.52 503.64,808.98 505.55,809.39 507.46,809.77 509.37,810.11 511.27,810.42 513.18,810.70 515.09,810.96 517.00,811.19 518.91,811.40 520.82,811.59 522.73,811.77 524.64,811.93 526.55,812.07 528.46,812.20 530.36,812.32 532.27,812.43 534.18,812.53 536.09,812.62 538.00,812.70" fill="none" stroke="#4cbc5c" stroke-width="1.25" stroke-linejoin="round" stroke-linecap="round" />
<polyline points="388.60,851.50 388.60,795.72 389.43,787.78 390.26,782.97 391.09,780.05 391.92,778.28 392.75,777.20 393.58,776.55 394.08,784.01 394.58,788.53 395.07,791.27 395.57,792.94 396.07,793.95 396.57,794.56 397.07,794.93 397.56,795.16 398.06,795.29 398.56,795.38 398.56,795.38 399.39,786.43 400.22,781.00 401.05,777.70 401.88,775.71 402.71,774.50 403.54,773.76 404.04,780.53 404.54,784.63 405.03,787.12 405.53,788.63 406.03,789.55 406.53,790.10 407.03,790.44 407.52,790.64 408.02,790.77 408.52,790.84 408.52,790.84 409.35,782.90 410.18,778.09 411.01,775.17 411.84,773.40 412.67,772.32 413.50,771.67 414.00,778.44 414.50,782.54 414.99,785.03 415.49,786.54 415.99,787.46 416.49,788.01 416.99,788.35 417.48,788.55 417.98,788.68 418.48,788.75 418.48,788.75 419.31,781.25 420.14,776.69 420.97,773.93 421.80,772.26 422.63,771.24 423.46,770.62 423.96,777.39 424.46,781.50 424.95,783.98 425.45,785.49 425.95,786.41 426.45,786.97 426.95,787.30 427.44,787.51 427.94,787.63 428.44,787.71 428.44,787.71 429.27,780.06 430.10,775.42 430.93,772.60 431.76,770.89 432.59,769.86 433.42,769.23 433.92,776.27 434.42,780.54 434.91,783.14 435.41,784.71 435.91,785.66 436.41,786.24 436.91,786.59 437.40,786.80 437.90,786.93 438.40,787.01 438.40,787.01 439.23,779.21 440.06,774.49 440.89,771.62 441.72,769.88 442.55,768.82 443.38,768.18 443.88,775.37 444.38,779.72 444.87,782.36 445.37,783.96 445.87,784.94 446.37,785.53 446.87,785.88 447.36,786.10 447.86,786.23 448.36,786.31 448.36,786.31 449.19,778.37 450.02,773.56 450.85,770.64 451.68,768.86 452.51,767.79 453.34,767.14 453.84,774.73 454.34,779.34 454.83,782.13 455.33,783.83 455.83,784.86 456.33,785.48 456.83,785.86 457.32,786.09 457.82,786.23 458.32,786.31 458.32,786.31 459.15,778.23 459.98,773.33 460.81,770.35 461.64,768.55 462.47,767.45 463.30,766.79 463.80,774.39 464.30,778.99 464.79,781.79 465.29,783.48 465.79,784.51 466.29,785.13 466.79,785.51 467.28,785.74 467.78,785.88 468.28,785.96 468.28,785.96 469.11,777.88 469.94,772.98 470.77,770.00 471.60,768.20 472.43,767.11 473.26,766.44 473.76,774.17 474.26,778.87 474.75,781.71 475.25,783.44 475.75,784.48 476.25,785.12 476.75,785.50 477.24,785.74 477.74,785.88 478.24,785.96 478.24,785.96 479.07,777.74 479.90,772.74 480.73,769.72 481.56,767.88 482.39,766.77 483.22,766.09 485.05,778.11 486.87,784.51 488.70,788.16 490.52,790.44 492.35,792.01 494.18,793.20 496.00,794.17 497.83,795.00 499.65,795.73 501.48,796.38 503.31,796.97 505.13,797.51 506.96,797.99 508.78,798.44 510.61,798.84 512.44,799.21 514.26,799.54 516.09,799.85 517.91,800.13 519.74,800.39 521.57,800.62 523.39,800.83 525.22,801.03 527.04,801.20 528.87,801.36 530.70,801.51 532.52,801.65 534.35,801.77 536.17,801.88 538.00,801.98" fill="none" stroke="#1ca26c" stroke-width="1.25" stroke-linejoin="round" stroke-linecap="round" />
<text x="391.50" y="739.20" font-family="Liberation Sans" font-size="6.75" font-weight="bold" fill="#222" text-anchor="start" style="" textLength="41.3" lengthAdjust="spacingAndGlyphs">Pulses width</text>
<line x1="391.50" y1="745.30" x2="406.40" y2="745.30" stroke="#c4ecc4" stroke-width="1.3" />
<line x1="426.00" y1="745.30" x2="441.30" y2="745.30" stroke="#8cd88c" stroke-width="1.3" />
<line x1="391.50" y1="754.00" x2="406.40" y2="754.00" stroke="#4cbc5c" stroke-width="1.3" />
<line x1="426.00" y1="754.00" x2="441.30" y2="754.00" stroke="#1ca26c" stroke-width="1.3" />
<text x="409.00" y="747.70" font-family="Liberation Sans" font-size="6.5" font-weight="bold" fill="#222" text-anchor="start" style="">0.1 s</text>
<text x="445.60" y="747.70" font-family="Liberation Sans" font-size="6.5" font-weight="bold" fill="#222" text-anchor="start" style="">0.2 s</text>
<text x="409.00" y="756.40" font-family="Liberation Sans" font-size="6.5" font-weight="bold" fill="#222" text-anchor="start" style="">0.5 s</text>
<text x="450.50" y="756.40" font-family="Liberation Sans" font-size="6.5" font-weight="bold" fill="#222" text-anchor="start" style="">1 s</text>
<text x="6.90" y="19.05" font-family="Liberation Serif" font-size="17.3" font-weight="normal" fill="#111" text-anchor="start" style="">(a)</text>
<text x="261.30" y="20.15" font-family="Liberation Serif" font-size="17.3" font-weight="normal" fill="#111" text-anchor="start" style="">(b)</text>
<text x="13.80" y="219.45" font-family="Liberation Serif" font-size="17.3" font-weight="normal" fill="#111" text-anchor="start" style="">(c)</text>
<text x="191.30" y="218.90" font-family="Liberation Serif" font-size="17.3" font-weight="normal" fill="#111" text-anchor="start" style="">(d)</text>
<text x="369.40" y="219.25" font-family="Liberation Serif" font-size="17.3" font-weight="normal" fill="#111" text-anchor="start" style="">(e)</text>
<text x="15.40" y="390.70" font-family="Liberation Serif" font-size="17.3" font-weight="normal" fill="#111" text-anchor="start" style="">(f)</text>
<text x="275.70" y="391.10" font-family="Liberation Serif" font-size="17.3" font-weight="normal" fill="#111" text-anchor="start" style="">(g)</text>
<text x="13.10" y="537.40" font-family="Liberation Serif" font-size="17.3" font-weight="normal" fill="#111" text-anchor="start" style="">(h)</text>
<text x="180.10" y="537.25" font-family="Liberation Serif" font-size="17.3" font-weight="normal" fill="#111" text-anchor="start" style="">(i)</text>
<text x="370.10" y="537.25" font-family="Liberation Serif" font-size="17.3" font-weight="normal" fill="#111" text-anchor="start" style="">(j)</text>
<text x="7.70" y="715.70" font-family="Liberation Serif" font-size="17.3" font-weight="normal" fill="#111" text-anchor="start" style="">(k)</text>
<text x="191.30" y="715.70" font-family="Liberation Serif" font-size="17.3" font-weight="normal" fill="#111" text-anchor="start" style="">(l)</text>
<text x="361.60" y="713.70" font-family="Liberation Serif" font-size="17.3" font-weight="normal" fill="#111" text-anchor="start" style="">(m)</text>
</svg></body></html>
